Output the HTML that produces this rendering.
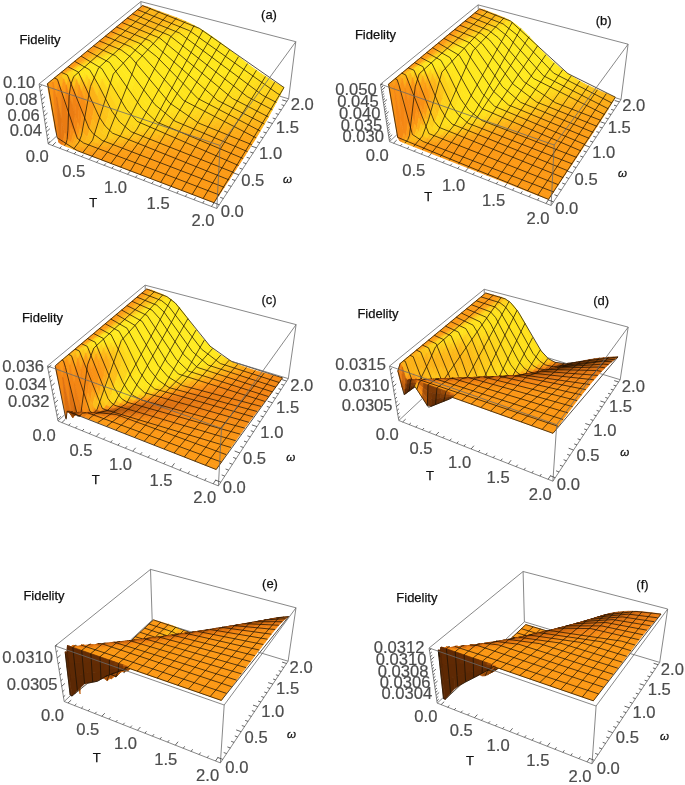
<!DOCTYPE html>
<html><head><meta charset="utf-8"><title>Fidelity</title>
<style>
html,body{margin:0;padding:0;background:#fff}
svg{display:block}
.s path{fill:currentColor;stroke:currentColor;stroke-width:.7;stroke-linejoin:round}
.m{fill:none;stroke:#1c1204;stroke-width:.85;stroke-opacity:.88;stroke-linejoin:round}
.e{fill:none;stroke:#6a6a6a;stroke-width:.8}
.t{fill:none;stroke:#333;stroke-width:.75}
text{font-family:"Liberation Sans",sans-serif;text-anchor:middle}
.k text{font-size:16.6px;fill:#4c4c4c;stroke:#4c4c4c;stroke-width:.2}
.k .r{text-anchor:end}
.n text{font-size:13px;fill:#111;stroke:#111;stroke-width:.25}
.n .i{font-style:italic;font-size:11.5px}
</style></head><body>
<svg width="685" height="785" viewBox="0 0 685 785">
<rect width="685" height="785" fill="#fff"/>
<g id="pa">
<g class="s">
<path color="#fc9916" d="M140 7.7l3.4 0.8 2.4-2-3.3-0.9z"/>
<path color="#fc9e17" d="M143.4 8.5l1.7 0.5 2.4-2.1-1.7-0.4z"/>
<path color="#fcac18" d="M145.1 9l1.7 0.6 2.4-2-1.7-0.7z"/>
<path color="#fcb519" d="M146.8 9.6l27.4 10.4 2.4-2.2-27.4-10.2z"/>
<path color="#fdbb19" d="M174.2 20l4.4 1.8 2.3-2.3-4.3-1.7z"/>
<path color="#fdc21a" d="M178.6 21.8l4.4 1.9 2.3-2.4-4.4-1.8z"/>
<path color="#fdca1b" d="M183 23.7l4.4 2.1 2.3-2.5-4.4-2z"/>
<path color="#fed11b" d="M187.4 25.8l4.4 2.3 2.3-2.6-4.4-2.2z"/>
<path color="#fed91c" d="M191.8 28.1l4.5 2.5 2.2-2.7-4.4-2.4z"/>
<path color="#ffdf1c" d="M196.3 30.6l4.4 2.8 2.2-2.9-4.4-2.6z"/>
<path color="#ffe51d" d="M200.7 33.4l8.9 6.1 4.5 3.4 2.1-3.4-8.8-6.2-4.5-2.8z"/>
<path color="#ffe61d" d="M214.1 42.9l26.8 21.3 9 6.8 2-4-31.2-24.2-4.5-3.3z"/>
<path color="#ffe21c" d="M249.9 71l9.1 6.4 2-4-9.1-6.4z"/>
<path color="#fedd1c" d="M259 77.4l9.1 5.8 2-3.9-9.1-5.9z"/>
<path color="#fed91c" d="M268.1 83.2l4.6 2.8 2-3.8-4.6-2.9z"/>
<path color="#fed41c" d="M272.7 86l9.4 5.2 1.9-3.7-9.3-5.3z"/>
<path color="#fc9916" d="M137.6 9.7l3.3 0.9 2.5-2.1-3.4-0.8z"/>
<path color="#fc9e17" d="M140.9 10.6l1.7 0.4 2.5-2-1.7-0.5z"/>
<path color="#fcac18" d="M142.6 11l1.7 0.7 2.5-2.1-1.7-0.6z"/>
<path color="#fcb519" d="M144.3 11.7l23.2 8.8 2.4-2.2-23.1-8.7z"/>
<path color="#fcb719" d="M167.5 20.5l4.4 1.7 2.3-2.2-4.3-1.7z"/>
<path color="#fdbd19" d="M171.9 22.2l4.4 1.9 2.3-2.3-4.4-1.8z"/>
<path color="#fdc51a" d="M176.3 24.1l4.4 2 2.3-2.4-4.4-1.9z"/>
<path color="#fdcd1b" d="M180.7 26.1l4.4 2.2 2.3-2.5-4.4-2.1z"/>
<path color="#fed51c" d="M185.1 28.3l4.4 2.4 2.3-2.6-4.4-2.3z"/>
<path color="#fedc1c" d="M189.5 30.7l4.5 2.7 2.3-2.8-4.5-2.5z"/>
<path color="#ffe31c" d="M194 33.4l4.5 3 4.4 3.1 2.3-3.2-4.5-2.9-4.4-2.8z"/>
<path color="#ffe61d" d="M202.9 39.5l9 6.9 22.4 18.3 9 7 4.5 3.4 2.1-4.1-13.5-10.3-22.3-17.8-8.9-6.6z"/>
<path color="#ffe11c" d="M247.8 75.1l9.1 6.3 2.1-4-9.1-6.4z"/>
<path color="#fedc1c" d="M256.9 81.4l9.2 5.7 2-3.9-9.1-5.8z"/>
<path color="#fed71c" d="M266.1 87.1l4.7 2.8 1.9-3.9-4.6-2.8z"/>
<path color="#fed31c" d="M270.8 89.9l9.4 5 1.9-3.7-9.4-5.2z"/>
<path color="#fc9916" d="M135 11.8l3.4 0.9 2.5-2.1-3.3-0.9z"/>
<path color="#fc9e17" d="M138.4 12.7l1.7 0.4 2.5-2.1-1.7-0.4z"/>
<path color="#fcac18" d="M140.1 13.1l1.7 0.7 2.5-2.1-1.7-0.7z"/>
<path color="#fcb519" d="M141.8 13.8l23.3 8.9 2.4-2.2-23.2-8.8z"/>
<path color="#fdba19" d="M165.1 22.7l4.4 1.8 2.4-2.3-4.4-1.7z"/>
<path color="#fdc11a" d="M169.5 24.5l4.4 1.9 2.4-2.3-4.4-1.9z"/>
<path color="#fdc91a" d="M173.9 26.4l4.4 2.1 2.4-2.4-4.4-2z"/>
<path color="#fed11b" d="M178.3 28.5l4.5 2.4 2.3-2.6-4.4-2.2z"/>
<path color="#fed91c" d="M182.8 30.9l4.4 2.6 2.3-2.8-4.4-2.4z"/>
<path color="#ffe01c" d="M187.2 33.5l4.5 2.9 2.3-3-4.5-2.7z"/>
<path color="#ffe61d" d="M191.7 36.4l4.5 3.1 8.9 6.9 2.3-3.5-8.9-6.5-4.5-3z"/>
<path color="#ffe71d" d="M205.1 46.4l27 22.5 4.5 3.5 2.2-4.1-26.9-21.9-4.5-3.5z"/>
<path color="#ffe41c" d="M236.6 72.4l9.1 6.8 2.1-4.1-9-6.8z"/>
<path color="#ffe01c" d="M245.7 79.2l9.2 6.2 2-4-9.1-6.3z"/>
<path color="#fedb1c" d="M254.9 85.4l4.6 2.9 2-4-4.6-2.9z"/>
<path color="#fed81c" d="M259.5 88.3l4.6 2.7 2-3.9-4.6-2.8z"/>
<path color="#fed51c" d="M264.1 91l4.7 2.7 2-3.8-4.7-2.8z"/>
<path color="#fed01b" d="M268.8 93.7l9.4 5 2-3.8-9.4-5z"/>
<path color="#fc9916" d="M132.5 13.9l3.4 0.9 2.5-2.1-3.4-0.9z"/>
<path color="#fc9e17" d="M135.9 14.8l1.7 0.4 2.5-2.1-1.7-0.4z"/>
<path color="#fcac18" d="M137.6 15.2l1.7 0.7 2.5-2.1-1.7-0.7z"/>
<path color="#fcb519" d="M139.3 15.9l23.4 9.1 2.4-2.3-23.3-8.9z"/>
<path color="#fdbc19" d="M162.7 25l4.4 1.8 2.4-2.3-4.4-1.8z"/>
<path color="#fdc51a" d="M167.1 26.8l4.4 2 2.4-2.4-4.4-1.9z"/>
<path color="#fdcd1b" d="M171.5 28.8l4.5 2.2 2.3-2.5-4.4-2.1z"/>
<path color="#fed61c" d="M176 31l4.4 2.6 2.4-2.7-4.5-2.4z"/>
<path color="#ffde1c" d="M180.4 33.6l4.5 2.8 2.3-2.9-4.4-2.6z"/>
<path color="#ffe51d" d="M184.9 36.4l4.5 3 4.5 3.4 2.3-3.3-4.5-3.1-4.5-2.9z"/>
<path color="#ffe71d" d="M193.9 42.8l9 7.3 22.5 19.3 9.1 7.2 2.1-4.2-13.5-11-18-15-8.9-6.9z"/>
<path color="#ffe31c" d="M234.5 76.6l9.1 6.7 2.1-4.1-9.1-6.8z"/>
<path color="#ffde1c" d="M243.6 83.3l9.2 6.1 2.1-4-9.2-6.2z"/>
<path color="#fed91c" d="M252.8 89.4l4.6 2.9 2.1-4-4.6-2.9z"/>
<path color="#fed61c" d="M257.4 92.3l4.7 2.6 2-3.9-4.6-2.7z"/>
<path color="#fed21c" d="M262.1 94.9l4.7 2.6 2-3.8-4.7-2.7z"/>
<path color="#fece1b" d="M266.8 97.5l9.5 4.9 1.9-3.7-9.4-5z"/>
<path color="#fc9916" d="M129.9 16l3.4 0.9 2.6-2.1-3.4-0.9z"/>
<path color="#fc9e17" d="M133.3 16.9l1.7 0.5 2.6-2.2-1.7-0.4z"/>
<path color="#fcac18" d="M135 17.4l1.7 0.6 2.6-2.1-1.7-0.7z"/>
<path color="#fcb519" d="M136.7 18l19.1 7.5 2.5-2.3-19-7.3z"/>
<path color="#fdb919" d="M155.8 25.5l4.4 1.7 2.5-2.2-4.4-1.8z"/>
<path color="#fdc01a" d="M160.2 27.2l4.5 1.9 2.4-2.3-4.4-1.8z"/>
<path color="#fdc81a" d="M164.7 29.1l4.4 2.2 2.4-2.5-4.4-2z"/>
<path color="#fed21b" d="M169.1 31.3l4.5 2.4 2.4-2.7-4.5-2.2z"/>
<path color="#fedb1c" d="M173.6 33.7l4.5 2.7 2.3-2.8-4.4-2.6z"/>
<path color="#ffe41c" d="M178.1 36.4l4.5 3 4.5 3.3 2.3-3.3-4.5-3-4.5-2.8z"/>
<path color="#ffe71d" d="M187.1 42.7l4.5 3.5 9 7.7 18.1 16 9 7.5 4.6 3.5 2.2-4.3-9.1-7.2-22.5-19.3-9-7.3-4.5-3.4z"/>
<path color="#ffe21c" d="M232.3 80.9l9.1 6.6 2.2-4.2-9.1-6.7z"/>
<path color="#ffde1c" d="M241.4 87.5l4.7 3.1 2.1-4.2-4.6-3.1z"/>
<path color="#feda1c" d="M246.1 90.6l4.6 2.9 2.1-4.1-4.6-3z"/>
<path color="#fed71c" d="M250.7 93.5l4.7 2.7 2-3.9-4.6-2.9z"/>
<path color="#fed31c" d="M255.4 96.2l4.7 2.6 2-3.9-4.7-2.6z"/>
<path color="#fed01b" d="M260.1 98.8l4.7 2.5 2-3.8-4.7-2.6z"/>
<path color="#fdcb1b" d="M264.8 101.3l9.5 4.7 2-3.6-9.5-4.9z"/>
<path color="#fc9916" d="M127.3 18.1l3.4 1 2.6-2.2-3.4-0.9z"/>
<path color="#fc9e17" d="M130.7 19.1l1.7 0.4 2.6-2.1-1.7-0.5z"/>
<path color="#fcac18" d="M132.4 19.5l1.7 0.7 2.6-2.2-1.7-0.6z"/>
<path color="#fcb519" d="M134.1 20.2l19.2 7.5 2.5-2.2-19.1-7.5z"/>
<path color="#fdbb19" d="M153.3 27.7l4.4 1.8 2.5-2.3-4.4-1.7z"/>
<path color="#fdc41a" d="M157.7 29.5l4.5 2.1 2.5-2.5-4.5-1.9z"/>
<path color="#fdcd1b" d="M162.2 31.6l4.5 2.2 2.4-2.5-4.4-2.2z"/>
<path color="#fed71c" d="M166.7 33.8l4.5 2.6 2.4-2.7-4.5-2.4z"/>
<path color="#ffdf1c" d="M171.2 36.4l4.5 2.9 2.4-2.9-4.5-2.7z"/>
<path color="#ffe61d" d="M175.7 39.3l4.5 3.2 4.5 3.6 2.4-3.4-4.5-3.3-4.5-3z"/>
<path color="#ffe81e" d="M184.7 46.1l9.1 7.7 18.1 16.5 9 7.8 2.3-4.4-27.1-23.7-4.5-3.8-4.5-3.5z"/>
<path color="#ffe31c" d="M220.9 78.1l9.2 7.2 4.6 3.3 2.1-4.3-9.1-6.9-4.5-3.7z"/>
<path color="#ffdf1c" d="M234.7 88.6l4.6 3.1 2.1-4.2-4.6-3.2z"/>
<path color="#fedc1c" d="M239.3 91.7l4.6 3 2.2-4.1-4.7-3.1z"/>
<path color="#fed81c" d="M243.9 94.7l4.7 2.8 2.1-4-4.6-2.9z"/>
<path color="#fed41c" d="M248.6 97.5l4.7 2.7 2.1-4-4.7-2.7z"/>
<path color="#fed11b" d="M253.3 100.2l4.7 2.5 2.1-3.9-4.7-2.6z"/>
<path color="#fdcd1b" d="M258 102.7l4.7 2.4 2.1-3.8-4.7-2.5z"/>
<path color="#fdc81a" d="M262.7 105.1l9.6 4.6 2-3.7-9.5-4.7z"/>
<path color="#fc9916" d="M124.6 20.3l3.5 0.9 2.6-2.1-3.4-1z"/>
<path color="#fc9e17" d="M128.1 21.2l1.7 0.5 2.6-2.2-1.7-0.4z"/>
<path color="#fcac18" d="M129.8 21.7l1.7 0.7 2.6-2.2-1.7-0.7z"/>
<path color="#fcb519" d="M131.5 22.4l14.9 5.8 2.5-2.2-14.8-5.8z"/>
<path color="#fcb819" d="M146.4 28.2l4.4 1.8 2.5-2.3-4.4-1.7z"/>
<path color="#fdbe1a" d="M150.8 30l4.4 1.9 2.5-2.4-4.4-1.8z"/>
<path color="#fdc71a" d="M155.2 31.9l4.5 2.1 2.5-2.4-4.5-2.1z"/>
<path color="#fed21b" d="M159.7 34l4.5 2.5 2.5-2.7-4.5-2.2z"/>
<path color="#fedc1c" d="M164.2 36.5l4.5 2.7 2.5-2.8-4.5-2.6z"/>
<path color="#ffe51d" d="M168.7 39.2l4.5 3.2 4.6 3.5 2.4-3.4-4.5-3.2-4.5-2.9z"/>
<path color="#ffe81e" d="M177.8 45.9l4.5 3.7 9.1 8.3 18.2 16.9 9.1 7.8 2.2-4.5-9-7.8-18.1-16.5-9.1-7.7-4.5-3.6z"/>
<path color="#ffe41c" d="M218.7 82.6l4.6 3.6 4.6 3.4 2.2-4.3-9.2-7.2z"/>
<path color="#ffe01c" d="M227.9 89.6l4.6 3.2 2.2-4.2-4.6-3.3z"/>
<path color="#fedd1c" d="M232.5 92.8l4.6 3.1 2.2-4.2-4.6-3.1z"/>
<path color="#fed91c" d="M237.1 95.9l4.7 2.9 2.1-4.1-4.6-3z"/>
<path color="#fed51c" d="M241.8 98.8l4.7 2.7 2.1-4-4.7-2.8z"/>
<path color="#fed11b" d="M246.5 101.5l4.7 2.6 2.1-3.9-4.7-2.7z"/>
<path color="#fdcd1b" d="M251.2 104.1l4.7 2.4 2.1-3.8-4.7-2.5z"/>
<path color="#fdc91b" d="M255.9 106.5l4.8 2.4 2-3.8-4.7-2.4z"/>
<path color="#fdc61a" d="M260.7 108.9l4.8 2.2 2-3.6-4.8-2.4z"/>
<path color="#fdc31a" d="M265.5 111.1l4.9 2.2 1.9-3.6-4.8-2.2z"/>
<path color="#fc9916" d="M122 22.5l3.4 1 2.7-2.3-3.5-0.9z"/>
<path color="#fc9e17" d="M125.4 23.5l1.7 0.4 2.7-2.2-1.7-0.5z"/>
<path color="#fcac18" d="M127.1 23.9l1.8 0.7 2.6-2.2-1.7-0.7z"/>
<path color="#fcb619" d="M128.9 24.6l14.9 5.9 2.6-2.3-14.9-5.8z"/>
<path color="#fdba19" d="M143.8 30.5l4.4 1.8 2.6-2.3-4.4-1.8z"/>
<path color="#fdc21a" d="M148.2 32.3l4.5 2 2.5-2.4-4.4-1.9z"/>
<path color="#fdcc1b" d="M152.7 34.3l4.5 2.3 2.5-2.6-4.5-2.1z"/>
<path color="#fed71c" d="M157.2 36.6l4.5 2.6 2.5-2.7-4.5-2.5z"/>
<path color="#ffe11c" d="M161.7 39.2l4.5 3 2.5-3-4.5-2.7z"/>
<path color="#ffe61d" d="M166.2 42.2l4.6 3.4 4.6 3.8 2.4-3.5-4.6-3.5-4.5-3.2z"/>
<path color="#ffe81e" d="M175.4 49.4l4.5 4 22.8 21.8 4.6 4.2 2.3-4.6-22.7-21.1-4.6-4.1-4.5-3.7z"/>
<path color="#ffe41c" d="M207.3 79.4l4.5 3.9 4.6 3.8 4.6 3.5 2.3-4.4-9.2-7.4-4.5-4z"/>
<path color="#ffe11c" d="M221 90.6l4.6 3.4 2.3-4.4-4.6-3.4z"/>
<path color="#ffde1c" d="M225.6 94l4.7 3.1 2.2-4.3-4.6-3.2z"/>
<path color="#feda1c" d="M230.3 97.1l4.6 3 2.2-4.2-4.6-3.1z"/>
<path color="#fed61c" d="M234.9 100.1l4.7 2.7 2.2-4-4.7-2.9z"/>
<path color="#fed21c" d="M239.6 102.8l4.7 2.7 2.2-4-4.7-2.7z"/>
<path color="#fece1b" d="M244.3 105.5l4.8 2.5 2.1-3.9-4.7-2.6z"/>
<path color="#fdca1b" d="M249.1 108l4.8 2.3 2-3.8-4.7-2.4z"/>
<path color="#fdc61a" d="M253.9 110.3l4.8 2.3 2-3.7-4.8-2.4z"/>
<path color="#fdc21a" d="M258.7 112.6l4.8 2.2 2-3.7-4.8-2.2z"/>
<path color="#fdbf1a" d="M263.5 114.8l4.9 2.1 2-3.6-4.9-2.2z"/>
<path color="#fc9916" d="M119.3 24.7l3.4 1 2.7-2.2-3.4-1z"/>
<path color="#fc9e17" d="M122.7 25.7l1.8 0.5 2.6-2.3-1.7-0.4z"/>
<path color="#fcac18" d="M124.5 26.2l1.7 0.6 2.7-2.2-1.8-0.7z"/>
<path color="#fcb619" d="M126.2 26.8l10.5 4.2 2.7-2.2-10.5-4.2z"/>
<path color="#fcb719" d="M136.7 31l4.5 1.8 2.6-2.3-4.4-1.7z"/>
<path color="#fdbd19" d="M141.2 32.8l4.4 1.9 2.6-2.4-4.4-1.8z"/>
<path color="#fdc61a" d="M145.6 34.7l4.5 2.1 2.6-2.5-4.5-2z"/>
<path color="#fed11b" d="M150.1 36.8l4.6 2.5 2.5-2.7-4.5-2.3z"/>
<path color="#fedc1c" d="M154.7 39.3l4.5 2.8 2.5-2.9-4.5-2.6z"/>
<path color="#ffe61d" d="M159.2 42.1l4.6 3.3 4.5 3.7 2.5-3.5-4.6-3.4-4.5-3z"/>
<path color="#ffe81e" d="M168.3 49.1l4.6 4 9.2 8.9 13.7 13.6 9.1 8.5 2.4-4.7-9.1-8.4-18.3-17.6-4.5-4-4.6-3.8z"/>
<path color="#ffe41c" d="M204.9 84.1l4.6 3.9 4.6 3.7 4.6 3.4 2.3-4.5-4.6-3.5-4.6-3.8-4.5-3.9z"/>
<path color="#ffdf1c" d="M218.7 95.1l4.7 3.2 2.2-4.3-4.6-3.4z"/>
<path color="#fedb1c" d="M223.4 98.3l4.6 3.1 2.3-4.3-4.7-3.1z"/>
<path color="#fed71c" d="M228 101.4l4.7 2.8 2.2-4.1-4.6-3z"/>
<path color="#fed31c" d="M232.7 104.2l4.7 2.7 2.2-4.1-4.7-2.7z"/>
<path color="#fecf1b" d="M237.4 106.9l4.8 2.5 2.1-3.9-4.7-2.7z"/>
<path color="#fdcb1b" d="M242.2 109.4l4.8 2.4 2.1-3.8-4.8-2.5z"/>
<path color="#fdc61a" d="M247 111.8l4.8 2.3 2.1-3.8-4.8-2.3z"/>
<path color="#fdc21a" d="M251.8 114.1l4.8 2.2 2.1-3.7-4.8-2.3z"/>
<path color="#fdbe19" d="M256.6 116.3l4.9 2.1 2-3.6-4.8-2.2z"/>
<path color="#fdba19" d="M261.5 118.4l4.9 2.1 2-3.6-4.9-2.1z"/>
<path color="#fc9916" d="M116.5 27l3.5 0.9 2.7-2.2-3.4-1z"/>
<path color="#fc9e17" d="M120 27.9l1.7 0.5 2.8-2.2-1.8-0.5z"/>
<path color="#fcac18" d="M121.7 28.4l1.8 0.7 2.7-2.3-1.7-0.6z"/>
<path color="#fcb619" d="M123.5 29.1l10.6 4.2 2.6-2.3-10.5-4.2z"/>
<path color="#fdb919" d="M134.1 33.3l4.4 1.9 2.7-2.4-4.5-1.8z"/>
<path color="#fdc01a" d="M138.5 35.2l4.5 1.9 2.6-2.4-4.4-1.9z"/>
<path color="#fdca1b" d="M143 37.1l4.5 2.3 2.6-2.6-4.5-2.1z"/>
<path color="#fed71c" d="M147.5 39.4l4.6 2.6 2.6-2.7-4.6-2.5z"/>
<path color="#ffe21c" d="M152.1 42l4.6 3.1 2.5-3-4.5-2.8z"/>
<path color="#ffe71d" d="M156.7 45.1l4.5 3.6 4.6 4 2.5-3.6-4.5-3.7-4.6-3.3z"/>
<path color="#ffe91e" d="M165.8 52.7l4.6 4.4 18.4 18.8 4.6 4.5 2.4-4.8-18.3-18.1-4.6-4.4-4.6-4z"/>
<path color="#ffe51d" d="M193.4 80.4l4.6 4.4 4.6 4 4.6 3.9 2.3-4.7-4.6-3.9-9.1-8.5z"/>
<path color="#ffe31c" d="M207.2 92.7l4.6 3.5 2.3-4.5-4.6-3.7z"/>
<path color="#ffe01c" d="M211.8 96.2l4.7 3.4 2.2-4.5-4.6-3.4z"/>
<path color="#fedc1c" d="M216.5 99.6l4.6 3.1 2.3-4.4-4.7-3.2z"/>
<path color="#fed81c" d="M221.1 102.7l4.7 2.9 2.2-4.2-4.6-3.1z"/>
<path color="#fed41c" d="M225.8 105.6l4.7 2.7 2.2-4.1-4.7-2.8z"/>
<path color="#fed01b" d="M230.5 108.3l4.8 2.5 2.1-3.9-4.7-2.7z"/>
<path color="#fdcb1b" d="M235.3 110.8l4.7 2.5 2.2-3.9-4.8-2.5z"/>
<path color="#fdc71a" d="M240 113.3l4.8 2.3 2.2-3.8-4.8-2.4z"/>
<path color="#fdc21a" d="M244.8 115.6l4.9 2.2 2.1-3.7-4.8-2.3z"/>
<path color="#fdbe19" d="M249.7 117.8l4.8 2.1 2.1-3.6-4.8-2.2z"/>
<path color="#fdb919" d="M254.5 119.9l4.9 2.1 2.1-3.6-4.9-2.1z"/>
<path color="#fcb619" d="M259.4 122l4.9 2 2.1-3.5-4.9-2.1z"/>
<path color="#fc9916" d="M113.8 29.2l3.4 1 2.8-2.3-3.5-0.9z"/>
<path color="#fc9e17" d="M117.2 30.2l1.8 0.5 2.7-2.3-1.7-0.5z"/>
<path color="#fcac18" d="M119 30.7l1.8 0.7 2.7-2.3-1.8-0.7z"/>
<path color="#fcb619" d="M120.8 31.4l10.6 4.3 2.7-2.4-10.6-4.2z"/>
<path color="#fdbb19" d="M131.4 35.7l4.5 1.9 2.6-2.4-4.4-1.9z"/>
<path color="#fdc41a" d="M135.9 37.6l4.5 2 2.6-2.5-4.5-1.9z"/>
<path color="#fecf1b" d="M140.4 39.6l4.5 2.5 2.6-2.7-4.5-2.3z"/>
<path color="#fedc1c" d="M144.9 42.1l4.6 2.8 2.6-2.9-4.6-2.6z"/>
<path color="#ffe51d" d="M149.5 44.9l4.6 3.5 2.6-3.3-4.6-3.1z"/>
<path color="#ffe81e" d="M154.1 48.4l4.6 3.9 4.6 4.3 23.1 24.3 4.6 4.5 4.6 4.3 2.4-4.9-9.2-8.9-18.4-18.8-4.6-4.4-4.6-4-4.5-3.6z"/>
<path color="#ffe41c" d="M195.6 89.7l4.6 3.9 4.7 3.8 2.3-4.7-4.6-3.9-4.6-4z"/>
<path color="#ffe11c" d="M204.9 97.4l4.6 3.4 2.3-4.6-4.6-3.5z"/>
<path color="#ffdd1c" d="M209.5 100.8l4.7 3.2 2.3-4.4-4.7-3.4z"/>
<path color="#fed91c" d="M214.2 104l4.7 2.9 2.2-4.2-4.6-3.1z"/>
<path color="#fed51c" d="M218.9 106.9l4.7 2.8 2.2-4.1-4.7-2.9z"/>
<path color="#fed01b" d="M223.6 109.7l4.7 2.6 2.2-4-4.7-2.7z"/>
<path color="#fdcc1b" d="M228.3 112.3l4.8 2.5 2.2-4-4.8-2.5z"/>
<path color="#fdc71a" d="M233.1 114.8l4.8 2.3 2.1-3.8-4.7-2.5z"/>
<path color="#fdc21a" d="M237.9 117.1l4.8 2.2 2.1-3.7-4.8-2.3z"/>
<path color="#fdbe19" d="M242.7 119.3l4.8 2.2 2.2-3.7-4.9-2.2z"/>
<path color="#fdb919" d="M247.5 121.5l4.9 2 2.1-3.6-4.8-2.1z"/>
<path color="#fcb419" d="M252.4 123.5l9.9 4 2-3.5-9.8-4.1z"/>
<path color="#fc9916" d="M111 31.5l3.5 1 2.7-2.3-3.4-1z"/>
<path color="#fc9e17" d="M114.5 32.5l1.7 0.5 2.8-2.3-1.8-0.5z"/>
<path color="#fcac18" d="M116.2 33l1.8 0.7 2.8-2.3-1.8-0.7z"/>
<path color="#fcb619" d="M118 33.7l8.9 3.6 2.7-2.3-8.8-3.6z"/>
<path color="#fcb819" d="M126.9 37.3l1.8 0.8 2.7-2.4-1.8-0.7z"/>
<path color="#fdbd19" d="M128.7 38.1l4.5 1.9 2.7-2.4-4.5-1.9z"/>
<path color="#fdc81a" d="M133.2 40l4.5 2.2 2.7-2.6-4.5-2z"/>
<path color="#fed51c" d="M137.7 42.2l4.6 2.6 2.6-2.7-4.5-2.5z"/>
<path color="#ffe31c" d="M142.3 44.8l4.6 3.2 2.6-3.1-4.6-2.8z"/>
<path color="#ffe81e" d="M146.9 48l4.6 3.8 4.6 4.3 4.7 4.7 18.6 20.4 4.6 4.7 4.6 4.5 4.6 4.2 2.4-4.9-4.6-4.3-9.2-9.3-13.8-14.8-4.7-4.7-4.6-4.3-4.6-3.9-4.6-3.5z"/>
<path color="#ffe31c" d="M193.2 94.6l4.7 3.9 4.6 3.5 2.4-4.6-4.7-3.8-4.6-3.9z"/>
<path color="#ffde1c" d="M202.5 102l4.7 3.3 2.3-4.5-4.6-3.4z"/>
<path color="#feda1c" d="M207.2 105.3l4.7 3 2.3-4.3-4.7-3.2z"/>
<path color="#fed61c" d="M211.9 108.3l4.7 2.9 2.3-4.3-4.7-2.9z"/>
<path color="#fed11b" d="M216.6 111.2l4.7 2.6 2.3-4.1-4.7-2.8z"/>
<path color="#fdcc1b" d="M221.3 113.8l4.8 2.5 2.2-4-4.7-2.6z"/>
<path color="#fdc71a" d="M226.1 116.3l4.7 2.3 2.3-3.8-4.8-2.5z"/>
<path color="#fdc31a" d="M230.8 118.6l4.9 2.3 2.2-3.8-4.8-2.3z"/>
<path color="#fdbe19" d="M235.7 120.9l4.8 2.1 2.2-3.7-4.8-2.2z"/>
<path color="#fdb919" d="M240.5 123l4.9 2.1 2.1-3.6-4.8-2.2z"/>
<path color="#fcb519" d="M245.4 125.1l4.9 2 2.1-3.6-4.9-2z"/>
<path color="#fcb018" d="M250.3 127.1l9.9 3.9 2.1-3.5-9.9-4z"/>
<path color="#fc9916" d="M108.1 33.8l3.5 1.1 2.9-2.4-3.5-1z"/>
<path color="#fc9e17" d="M111.6 34.9l1.8 0.5 2.8-2.4-1.7-0.5z"/>
<path color="#fcac18" d="M113.4 35.4l1.8 0.6 2.8-2.3-1.8-0.7z"/>
<path color="#fcb619" d="M115.2 36l8.9 3.7 2.8-2.4-8.9-3.6z"/>
<path color="#fdba19" d="M124.1 39.7l1.8 0.8 2.8-2.4-1.8-0.8z"/>
<path color="#fdc11a" d="M125.9 40.5l4.5 2 2.8-2.5-4.5-1.9z"/>
<path color="#fdcd1b" d="M130.4 42.5l4.6 2.3 2.7-2.6-4.5-2.2z"/>
<path color="#fedc1c" d="M135 44.8l4.6 3 2.7-3-4.6-2.6z"/>
<path color="#ffe51d" d="M139.6 47.8l4.6 3.5 2.7-3.3-4.6-3.2z"/>
<path color="#ffe81e" d="M144.2 51.3l4.7 4.2 4.7 4.7 18.6 21.2 4.7 5 4.6 4.7 2.5-5.2-9.3-9.7-13.9-15.4-4.7-4.7-4.6-4.3-4.6-3.8z"/>
<path color="#ffe41c" d="M181.5 91.1l4.7 4.4 4.6 4.1 4.7 3.7 2.4-4.8-4.7-3.9-4.6-4.2-4.6-4.5z"/>
<path color="#ffdf1c" d="M195.5 103.3l4.6 3.3 2.4-4.6-4.6-3.5z"/>
<path color="#fedb1c" d="M200.1 106.6l4.7 3.2 2.4-4.5-4.7-3.3z"/>
<path color="#fed71c" d="M204.8 109.8l4.7 2.8 2.4-4.3-4.7-3z"/>
<path color="#fed21b" d="M209.5 112.6l4.8 2.7 2.3-4.1-4.7-2.9z"/>
<path color="#fdcd1b" d="M214.3 115.3l4.7 2.5 2.3-4-4.7-2.6z"/>
<path color="#fdc81a" d="M219 117.8l4.8 2.4 2.3-3.9-4.8-2.5z"/>
<path color="#fdc31a" d="M223.8 120.2l4.8 2.2 2.2-3.8-4.7-2.3z"/>
<path color="#fdbd19" d="M228.6 122.4l4.9 2.2 2.2-3.7-4.9-2.3z"/>
<path color="#fdb919" d="M233.5 124.6l4.8 2 2.2-3.6-4.8-2.1z"/>
<path color="#fcb419" d="M238.3 126.6l4.9 2.1 2.2-3.6-4.9-2.1z"/>
<path color="#fcb118" d="M243.2 128.7l5 1.9 2.1-3.5-4.9-2z"/>
<path color="#fcac18" d="M248.2 130.6l10 3.8 2-3.4-9.9-3.9z"/>
<path color="#fc9916" d="M105.3 36.2l3.5 1 2.8-2.3-3.5-1.1z"/>
<path color="#fc9e17" d="M108.8 37.2l1.8 0.5 2.8-2.3-1.8-0.5z"/>
<path color="#fcac18" d="M110.6 37.7l1.7 0.7 2.9-2.4-1.8-0.6z"/>
<path color="#fcb619" d="M112.3 38.4l7.2 3 2.8-2.4-7.1-3z"/>
<path color="#fcb819" d="M119.5 41.4l1.8 0.7 2.8-2.4-1.8-0.7z"/>
<path color="#fdbc19" d="M121.3 42.1l1.8 0.8 2.8-2.4-1.8-0.8z"/>
<path color="#fdc51a" d="M123.1 42.9l4.6 2.1 2.7-2.5-4.5-2z"/>
<path color="#fed31c" d="M127.7 45l4.6 2.6 2.7-2.8-4.6-2.3z"/>
<path color="#ffe21c" d="M132.3 47.6l4.6 3.3 2.7-3.1-4.6-3z"/>
<path color="#ffe81e" d="M136.9 50.9l4.7 3.9 4.7 4.7 4.7 5.2 14.1 16.7 4.7 5.4 4.6 5 4.7 4.6 2.4-5.3-4.6-4.7-9.3-10.3-9.3-10.8-4.7-5.1-4.7-4.7-4.7-4.2-4.6-3.5z"/>
<path color="#ffe41c" d="M179.1 96.4l4.6 4.2 4.7 3.9 2.4-4.9-4.6-4.1-4.7-4.4z"/>
<path color="#ffe01c" d="M188.4 104.5l4.7 3.5 2.4-4.7-4.7-3.7z"/>
<path color="#fedc1c" d="M193.1 108l4.6 3.2 2.4-4.6-4.6-3.3z"/>
<path color="#fed71c" d="M197.7 111.2l4.7 2.9 2.4-4.3-4.7-3.2z"/>
<path color="#fed21b" d="M202.4 114.1l4.8 2.7 2.3-4.2-4.7-2.8z"/>
<path color="#fdcd1b" d="M207.2 116.8l4.7 2.6 2.4-4.1-4.8-2.7z"/>
<path color="#fdc81a" d="M211.9 119.4l4.8 2.3 2.3-3.9-4.7-2.5z"/>
<path color="#fdc31a" d="M216.7 121.7l4.8 2.3 2.3-3.8-4.8-2.4z"/>
<path color="#fdbd19" d="M221.5 124l4.9 2.2 2.2-3.8-4.8-2.2z"/>
<path color="#fcb819" d="M226.4 126.2l4.8 2 2.3-3.6-4.9-2.2z"/>
<path color="#fcb419" d="M231.2 128.2l4.9 2 2.2-3.6-4.8-2z"/>
<path color="#fcb018" d="M236.1 130.2l5 2 2.1-3.5-4.9-2.1z"/>
<path color="#fcab18" d="M241.1 132.2l9.9 3.8 2.2-3.5-10-3.8z"/>
<path color="#fca918" d="M251 136l5.1 1.9 2.1-3.5-5-1.9z"/>
<path color="#fc9916" d="M102.4 38.6l3.5 1 2.9-2.4-3.5-1z"/>
<path color="#fc9e17" d="M105.9 39.6l1.8 0.5 2.9-2.4-1.8-0.5z"/>
<path color="#fcac18" d="M107.7 40.1l1.8 0.7 2.8-2.4-1.7-0.7z"/>
<path color="#fcb619" d="M109.5 40.8l5.4 2.3 2.8-2.5-5.4-2.2z"/>
<path color="#fdb919" d="M114.9 43.1l3.6 1.5 2.8-2.5-3.6-1.5z"/>
<path color="#fdbf1a" d="M118.5 44.6l1.8 0.8 2.8-2.5-1.8-0.8z"/>
<path color="#fdca1b" d="M120.3 45.4l4.6 2.3 2.8-2.7-4.6-2.1z"/>
<path color="#feda1c" d="M124.9 47.7l4.6 2.8 2.8-2.9-4.6-2.6z"/>
<path color="#ffe51d" d="M129.5 50.5l4.7 3.7 2.7-3.3-4.6-3.3z"/>
<path color="#ffe91f" d="M134.2 54.2l4.7 4.5 4.7 5.1 19 23.2 2.5-5.6-14.1-16.7-4.7-5.2-4.7-4.7-4.7-3.9z"/>
<path color="#ffe51d" d="M162.6 87l4.6 5.3 4.7 4.9 4.7 4.5 4.7 4 2.4-5.1-4.6-4.2-4.7-4.6-4.6-5-4.7-5.4z"/>
<path color="#ffe01c" d="M181.3 105.7l4.6 3.7 2.5-4.9-4.7-3.9z"/>
<path color="#fedc1c" d="M185.9 109.4l4.7 3.2 2.5-4.6-4.7-3.5z"/>
<path color="#fed81c" d="M190.6 112.6l4.7 3 2.4-4.4-4.6-3.2z"/>
<path color="#fed31c" d="M195.3 115.6l4.8 2.8 2.3-4.3-4.7-2.9z"/>
<path color="#fdcd1b" d="M200.1 118.4l4.7 2.5 2.4-4.1-4.8-2.7z"/>
<path color="#fdc81a" d="M204.8 120.9l4.8 2.4 2.3-3.9-4.7-2.6z"/>
<path color="#fdc31a" d="M209.6 123.3l4.8 2.3 2.3-3.9-4.8-2.3z"/>
<path color="#fdbd19" d="M214.4 125.6l4.8 2.1 2.3-3.7-4.8-2.3z"/>
<path color="#fcb819" d="M219.2 127.7l4.9 2.1 2.3-3.6-4.9-2.2z"/>
<path color="#fcb319" d="M224.1 129.8l4.9 2 2.2-3.6-4.8-2z"/>
<path color="#fcaf18" d="M229 131.8l4.9 2 2.2-3.6-4.9-2z"/>
<path color="#fcab18" d="M233.9 133.8l10 3.8 2.1-3.5-9.9-3.9z"/>
<path color="#fca717" d="M243.9 137.6l10.1 3.7 2.1-3.4-10.1-3.8z"/>
<path color="#fc9916" d="M99.5 41l3.5 1 2.9-2.4-3.5-1z"/>
<path color="#fc9e17" d="M103 42l1.8 0.6 2.9-2.5-1.8-0.5z"/>
<path color="#fcac18" d="M104.8 42.6l1.8 0.7 2.9-2.5-1.8-0.7z"/>
<path color="#fcb619" d="M106.6 43.3l5.4 2.2 2.9-2.4-5.4-2.3z"/>
<path color="#fdb919" d="M112 45.5l1.8 0.8 2.9-2.5-1.8-0.7z"/>
<path color="#fdbc19" d="M113.8 46.3l1.8 0.8 2.9-2.5-1.8-0.8z"/>
<path color="#fdc31a" d="M115.6 47.1l1.9 0.8 2.8-2.5-1.8-0.8z"/>
<path color="#fed01b" d="M117.5 47.9l4.6 2.5 2.8-2.7-4.6-2.3z"/>
<path color="#ffe11c" d="M122.1 50.4l4.6 3.2 2.8-3.1-4.6-2.8z"/>
<path color="#ffe81e" d="M126.7 53.6l4.8 4.2 4.7 5.1 4.8 5.7 14.3 18.5 4.7 5.7 4.7 5.2 2.5-5.7-4.6-5.3-14.2-17.5-4.8-5.7-4.7-5.1-4.7-4.5-4.7-3.7z"/>
<path color="#ffe41c" d="M164.7 98l4.7 4.7 4.7 4.3 2.5-5.3-4.7-4.5-4.7-4.9z"/>
<path color="#ffe11c" d="M174.1 107l4.7 3.7 2.5-5-4.7-4z"/>
<path color="#ffdd1c" d="M178.8 110.7l4.7 3.4 2.4-4.7-4.6-3.7z"/>
<path color="#fed91c" d="M183.5 114.1l4.7 3.1 2.4-4.6-4.7-3.2z"/>
<path color="#fed31c" d="M188.2 117.2l4.7 2.8 2.4-4.4-4.7-3z"/>
<path color="#fece1b" d="M192.9 120l4.8 2.6 2.4-4.2-4.8-2.8z"/>
<path color="#fdc81a" d="M197.7 122.6l4.7 2.3 2.4-4-4.7-2.5z"/>
<path color="#fdc21a" d="M202.4 124.9l4.8 2.3 2.4-3.9-4.8-2.4z"/>
<path color="#fdbc19" d="M207.2 127.2l4.9 2.2 2.3-3.8-4.8-2.3z"/>
<path color="#fcb719" d="M212.1 129.4l4.8 2 2.3-3.7-4.8-2.1z"/>
<path color="#fcb318" d="M216.9 131.4l4.9 2 2.3-3.6-4.9-2.1z"/>
<path color="#fcaf18" d="M221.8 133.4l4.9 2 2.3-3.6-4.9-2z"/>
<path color="#fcaa18" d="M226.7 135.4l10 3.8 2.2-3.5-9.9-3.9z"/>
<path color="#fca517" d="M236.7 139.2l15.1 5.5 2.2-3.4-15.1-5.6z"/>
<path color="#fc9916" d="M96.5 43.4l3.5 1.1 3-2.5-3.5-1z"/>
<path color="#fc9e17" d="M100 44.5l1.8 0.5 3-2.4-1.8-0.6z"/>
<path color="#fcac18" d="M101.8 45l1.8 0.7 3-2.4-1.8-0.7z"/>
<path color="#fcb619" d="M103.6 45.7l3.7 1.5 2.9-2.4-3.6-1.5z"/>
<path color="#fdb919" d="M107.3 47.2l3.6 1.6 2.9-2.5-3.6-1.5z"/>
<path color="#fdc01a" d="M110.9 48.8l1.8 0.8 2.9-2.5-1.8-0.8z"/>
<path color="#fdc91a" d="M112.7 49.6l1.9 0.9 2.9-2.6-1.9-0.8z"/>
<path color="#fed71c" d="M114.6 50.5l4.6 2.8 2.9-2.9-4.6-2.5z"/>
<path color="#ffe51d" d="M119.2 53.3l4.7 3.7 2.8-3.4-4.6-3.2z"/>
<path color="#ffe91f" d="M123.9 57l4.8 4.8 4.8 5.7 14.5 19.5 2.6-6-9.6-12.4-4.8-5.7-4.7-5.1-4.8-4.2z"/>
<path color="#ffe51d" d="M148 87l4.7 6.1 4.8 5.6 4.7 5 4.7 4.5 2.5-5.5-4.7-4.7-4.7-5.2-4.7-5.7-4.7-6.1z"/>
<path color="#ffe11c" d="M166.9 108.2l4.7 3.9 2.5-5.1-4.7-4.3z"/>
<path color="#ffde1c" d="M171.6 112.1l4.7 3.5 2.5-4.9-4.7-3.7z"/>
<path color="#fed91c" d="M176.3 115.6l4.7 3.1 2.5-4.6-4.7-3.4z"/>
<path color="#fed41c" d="M181 118.7l4.7 2.9 2.5-4.4-4.7-3.1z"/>
<path color="#fece1b" d="M185.7 121.6l4.8 2.6 2.4-4.2-4.7-2.8z"/>
<path color="#fdc81a" d="M190.5 124.2l4.7 2.4 2.5-4-4.8-2.6z"/>
<path color="#fdc21a" d="M195.2 126.6l4.8 2.2 2.4-3.9-4.7-2.3z"/>
<path color="#fdbc19" d="M200 128.8l4.9 2.2 2.3-3.8-4.8-2.3z"/>
<path color="#fcb619" d="M204.9 131l4.8 2 2.4-3.6-4.9-2.2z"/>
<path color="#fcb218" d="M209.7 133l4.9 2 2.3-3.6-4.8-2z"/>
<path color="#fcae18" d="M214.6 135l4.9 2 2.3-3.6-4.9-2z"/>
<path color="#fca918" d="M219.5 137l9.9 3.8 2.3-3.5-9.9-3.9z"/>
<path color="#fca517" d="M229.4 140.8l10.1 3.7 2.2-3.5-10-3.7z"/>
<path color="#fca217" d="M239.5 144.5l10.2 3.6 2.1-3.4-10.1-3.7z"/>
<path color="#fc9916" d="M93.5 45.9l3.6 1.1 2.9-2.5-3.5-1.1z"/>
<path color="#fc9e17" d="M97.1 47l1.7 0.5 3-2.5-1.8-0.5z"/>
<path color="#fcac18" d="M98.8 47.5l1.9 0.7 2.9-2.5-1.8-0.7z"/>
<path color="#fcb619" d="M100.7 48.2l3.6 1.5 3-2.5-3.7-1.5z"/>
<path color="#fdb919" d="M104.3 49.7l1.8 0.8 3-2.5-1.8-0.8z"/>
<path color="#fdbe19" d="M106.1 50.5l1.9 0.9 2.9-2.6-1.8-0.8z"/>
<path color="#fdc51a" d="M108 51.4l1.8 0.9 2.9-2.7-1.8-0.8z"/>
<path color="#fecf1b" d="M109.8 52.3l1.9 1 2.9-2.8-1.9-0.9z"/>
<path color="#ffdf1c" d="M111.7 53.3l4.7 3.1 2.8-3.1-4.6-2.8z"/>
<path color="#ffe81e" d="M116.4 56.4l4.7 4.3 4.9 5.6 4.8 6.4 9.8 13.9 4.8 6.6 2.6-6.2-9.6-13.1-4.9-6.4-4.8-5.7-4.8-4.8-4.7-3.7z"/>
<path color="#ffe41c" d="M145.4 93.2l4.8 6.1 4.7 5.4 4.7 4.7 2.6-5.7-4.7-5-4.8-5.6-4.7-6.1z"/>
<path color="#ffe11c" d="M159.6 109.4l4.7 4.1 2.6-5.3-4.7-4.5z"/>
<path color="#ffde1c" d="M164.3 113.5l4.8 3.6 2.5-5-4.7-3.9z"/>
<path color="#fed91c" d="M169.1 117.1l4.7 3.2 2.5-4.7-4.7-3.5z"/>
<path color="#fed41c" d="M173.8 120.3l4.7 2.9 2.5-4.5-4.7-3.1z"/>
<path color="#fece1b" d="M178.5 123.2l4.7 2.6 2.5-4.2-4.7-2.9z"/>
<path color="#fdc81a" d="M183.2 125.8l4.8 2.4 2.5-4-4.8-2.6z"/>
<path color="#fdc21a" d="M188 128.2l4.8 2.3 2.4-3.9-4.7-2.4z"/>
<path color="#fdbb19" d="M192.8 130.5l4.8 2.1 2.4-3.8-4.8-2.2z"/>
<path color="#fcb619" d="M197.6 132.6l4.9 2.1 2.4-3.7-4.9-2.2z"/>
<path color="#fcb118" d="M202.5 134.7l4.8 2 2.4-3.7-4.8-2z"/>
<path color="#fcab18" d="M207.3 136.7l9.9 3.8 2.3-3.5-9.8-4z"/>
<path color="#fca617" d="M217.2 140.5l10 3.7 2.2-3.4-9.9-3.8z"/>
<path color="#fca217" d="M227.2 144.2l15.2 5.5 2.2-3.4-15.2-5.5z"/>
<path color="#fca017" d="M242.4 149.7l5.1 1.9 2.2-3.5-5.1-1.8z"/>
<path color="#fc9916" d="M90.4 48.4l3.6 1.1 3.1-2.5-3.6-1.1z"/>
<path color="#fc9e17" d="M94 49.5l1.8 0.5 3-2.5-1.7-0.5z"/>
<path color="#fcac18" d="M95.8 50l1.8 0.7 3.1-2.5-1.9-0.7z"/>
<path color="#fcb519" d="M97.6 50.7l1.9 0.8 3-2.5-1.8-0.8z"/>
<path color="#fcb819" d="M99.5 51.5l1.8 0.8 3-2.6-1.8-0.7z"/>
<path color="#fdbc19" d="M101.3 52.3l1.8 0.8 3-2.6-1.8-0.8z"/>
<path color="#fdc31a" d="M103.1 53.1l1.9 0.9 3-2.6-1.9-0.9z"/>
<path color="#fdcc1b" d="M105 54l1.8 1 3-2.7-1.8-0.9z"/>
<path color="#fed81c" d="M106.8 55l1.9 1.1 3-2.8-1.9-1z"/>
<path color="#ffe51d" d="M108.7 56.1l4.8 3.7 2.9-3.4-4.7-3.1z"/>
<path color="#ffe91f" d="M113.5 59.8l4.8 5.1 4.9 6.4 9.9 14.7 2.6-6.3-4.9-7-4.8-6.4-4.9-5.6-4.7-4.3z"/>
<path color="#ffe41c" d="M133.1 86l4.9 7.2 4.8 6.6 4.8 5.8 4.7 5 2.6-5.9-4.7-5.4-4.8-6.1-4.8-6.6-4.9-6.9z"/>
<path color="#ffdf1c" d="M152.3 110.6l4.8 4.3 4.7 3.8 2.5-5.2-4.7-4.1-4.7-4.7z"/>
<path color="#feda1c" d="M161.8 118.7l4.7 3.3 2.6-4.9-4.8-3.6z"/>
<path color="#fed41c" d="M166.5 122l4.7 2.9 2.6-4.6-4.7-3.2z"/>
<path color="#fece1b" d="M171.2 124.9l4.8 2.6 2.5-4.3-4.7-2.9z"/>
<path color="#fdc81a" d="M176 127.5l4.7 2.4 2.5-4.1-4.7-2.6z"/>
<path color="#fdc11a" d="M180.7 129.9l4.8 2.3 2.5-4-4.8-2.4z"/>
<path color="#fdba19" d="M185.5 132.2l4.8 2.1 2.5-3.8-4.8-2.3z"/>
<path color="#fcb519" d="M190.3 134.3l4.9 2 2.4-3.7-4.8-2.1z"/>
<path color="#fcb018" d="M195.2 136.3l4.8 2 2.5-3.6-4.9-2.1z"/>
<path color="#fcaa18" d="M200 138.3l9.9 3.8 2.3-3.5-9.7-3.9z"/>
<path color="#fca517" d="M209.9 142.1l9.9 3.8 2.4-3.5-10-3.8z"/>
<path color="#fca117" d="M219.8 145.9l15.2 5.5 2.3-3.5-15.1-5.5z"/>
<path color="#fc9f17" d="M235 151.4l10.3 3.6 2.2-3.4-10.2-3.7z"/>
<path color="#fc9916" d="M87.4 50.9l3.6 1.1 3-2.5-3.6-1.1z"/>
<path color="#fc9e17" d="M91 52l1.8 0.6 3-2.6-1.8-0.5z"/>
<path color="#fcac18" d="M92.8 52.6l1.8 0.7 3-2.6-1.8-0.7z"/>
<path color="#fcb519" d="M94.6 53.3l1.8 0.8 3.1-2.6-1.9-0.8z"/>
<path color="#fdba19" d="M96.4 54.1l1.9 0.8 3-2.6-1.8-0.8z"/>
<path color="#fdc01a" d="M98.3 54.9l1.8 0.8 3-2.6-1.8-0.8z"/>
<path color="#fdc91b" d="M100.1 55.7l1.9 1 3-2.7-1.9-0.9z"/>
<path color="#fed41c" d="M102 56.7l1.9 1.1 2.9-2.8-1.8-1z"/>
<path color="#ffe21c" d="M103.9 57.8l1.9 1.3 2.9-3-1.9-1.1z"/>
<path color="#ffe81e" d="M105.8 59.1l4.8 4.4 4.9 6.1 5 7.4 10 15.9 2.6-6.9-9.9-14.7-4.9-6.4-4.8-5.1-4.8-3.7z"/>
<path color="#ffe21c" d="M130.5 92.9l4.9 7.2 4.8 6.3 4.8 5.4 2.6-6.2-4.8-5.8-4.8-6.6-4.9-7.2z"/>
<path color="#ffdf1c" d="M145 111.8l4.8 4.6 4.7 3.9 2.6-5.4-4.8-4.3-4.7-5z"/>
<path color="#feda1c" d="M154.5 120.3l4.7 3.3 2.6-4.9-4.7-3.8z"/>
<path color="#fed41c" d="M159.2 123.6l4.7 3 2.6-4.6-4.7-3.3z"/>
<path color="#fece1b" d="M163.9 126.6l4.8 2.6 2.5-4.3-4.7-2.9z"/>
<path color="#fdc71a" d="M168.7 129.2l4.7 2.4 2.6-4.1-4.8-2.6z"/>
<path color="#fdc01a" d="M173.4 131.6l4.8 2.2 2.5-3.9-4.7-2.4z"/>
<path color="#fdb919" d="M178.2 133.8l4.8 2.2 2.5-3.8-4.8-2.3z"/>
<path color="#fcb319" d="M183 136l4.8 2 2.5-3.7-4.8-2.1z"/>
<path color="#fcae18" d="M187.8 138l4.9 2 2.5-3.7-4.9-2z"/>
<path color="#fca918" d="M192.7 140l9.8 3.8 2.4-3.6-9.7-3.9z"/>
<path color="#fca417" d="M202.5 143.8l9.9 3.7 2.4-3.5-9.9-3.8z"/>
<path color="#fca117" d="M212.4 147.5l15.2 5.5 2.3-3.5-15.1-5.5z"/>
<path color="#fc9e17" d="M227.6 153l15.5 5.5 2.2-3.5-15.4-5.5z"/>
<path color="#fc9916" d="M84.2 53.5l3.7 1.1 3.1-2.6-3.6-1.1z"/>
<path color="#fc9f17" d="M87.9 54.6l1.8 0.5 3.1-2.5-1.8-0.6z"/>
<path color="#fcac18" d="M89.7 55.1l1.8 0.8 3.1-2.6-1.8-0.7z"/>
<path color="#fcb719" d="M91.5 55.9l1.9 0.8 3-2.6-1.8-0.8z"/>
<path color="#fdbd19" d="M93.4 56.7l1.8 0.8 3.1-2.6-1.9-0.8z"/>
<path color="#fdc61a" d="M95.2 57.5l1.9 0.9 3-2.7-1.8-0.8z"/>
<path color="#fed21b" d="M97.1 58.4l1.8 1.1 3.1-2.8-1.9-1z"/>
<path color="#ffdf1c" d="M98.9 59.5l1.9 1.3 3.1-3-1.9-1.1z"/>
<path color="#ffe61d" d="M100.8 60.8l2 1.6 3-3.3-1.9-1.3z"/>
<path color="#ffe91e" d="M102.8 62.4l4.9 5.5 5 7.3 5.1 8.4 2.7-6.6-5-7.4-4.9-6.1-4.8-4.4z"/>
<path color="#ffe31c" d="M117.8 83.6l5.1 8.6 5 7.9 2.6-7.2-10-15.9z"/>
<path color="#ffdf1c" d="M127.9 100.1l4.9 7 4.8 5.9 4.8 4.8 2.6-6-4.8-5.4-4.8-6.3-4.9-7.2z"/>
<path color="#fedd1c" d="M142.4 117.8l4.7 4.1 2.7-5.5-4.8-4.6z"/>
<path color="#fed91c" d="M147.1 121.9l4.8 3.4 2.6-5-4.7-3.9z"/>
<path color="#fed41c" d="M151.9 125.3l4.7 3 2.6-4.7-4.7-3.3z"/>
<path color="#fece1b" d="M156.6 128.3l4.7 2.6 2.6-4.3-4.7-3z"/>
<path color="#fdc71a" d="M161.3 130.9l4.8 2.4 2.6-4.1-4.8-2.6z"/>
<path color="#fdbf1a" d="M166.1 133.3l4.7 2.3 2.6-4-4.7-2.4z"/>
<path color="#fcb819" d="M170.8 135.6l4.8 2 2.6-3.8-4.8-2.2z"/>
<path color="#fcb218" d="M175.6 137.6l4.9 2.1 2.5-3.7-4.8-2.2z"/>
<path color="#fcad18" d="M180.5 139.7l4.8 1.9 2.5-3.6-4.8-2z"/>
<path color="#fca818" d="M185.3 141.6l9.8 3.8 2.5-3.5-9.8-3.9z"/>
<path color="#fca417" d="M195.1 145.4l9.9 3.7 2.5-3.5-9.9-3.7z"/>
<path color="#fca017" d="M205 149.1l20.3 7.3 2.3-3.4-20.1-7.4z"/>
<path color="#fc9d16" d="M225.3 156.4l15.5 5.6 2.3-3.5-15.5-5.5z"/>
<path color="#fc9916" d="M81.1 56.1l3.6 1.1 3.2-2.6-3.7-1.1z"/>
<path color="#fc9f17" d="M84.7 57.2l1.8 0.5 3.2-2.6-1.8-0.5z"/>
<path color="#fcad18" d="M86.5 57.7l1.9 0.8 3.1-2.6-1.8-0.8z"/>
<path color="#fdb919" d="M88.4 58.5l1.8 0.8 3.2-2.6-1.9-0.8z"/>
<path color="#fdc31a" d="M90.2 59.3l1.9 0.9 3.1-2.7-1.8-0.8z"/>
<path color="#fecf1b" d="M92.1 60.2l1.9 1.1 3.1-2.9-1.9-0.9z"/>
<path color="#ffde1c" d="M94 61.3l1.9 1.3 3-3.1-1.8-1.1z"/>
<path color="#ffe61d" d="M95.9 62.6l1.9 1.6 3-3.4-1.9-1.3z"/>
<path color="#ffe91f" d="M97.8 64.2l2 2 5.1 6.8 5.1 8.7 2.7-6.5-5-7.3-4.9-5.5-2-1.6z"/>
<path color="#ffe41c" d="M110 81.7l5.2 9.3 2.6-7.4-5.1-8.4z"/>
<path color="#ffde1c" d="M115.2 91l5.1 8.9 5 7.8 2.6-7.6-5-7.9-5.1-8.6z"/>
<path color="#fedc1c" d="M125.3 107.7l4.9 6.4 4.8 5.2 4.8 4.3 2.6-5.8-4.8-4.8-4.8-5.9-4.9-7z"/>
<path color="#fed91c" d="M139.8 123.6l4.7 3.5 2.6-5.2-4.7-4.1z"/>
<path color="#fed41c" d="M144.5 127.1l4.7 3 2.7-4.8-4.8-3.4z"/>
<path color="#fdcd1b" d="M149.2 130.1l4.7 2.6 2.7-4.4-4.7-3z"/>
<path color="#fdc61a" d="M153.9 132.7l4.8 2.4 2.6-4.2-4.7-2.6z"/>
<path color="#fdbe19" d="M158.7 135.1l4.8 2.2 2.6-4-4.8-2.4z"/>
<path color="#fcb619" d="M163.5 137.3l4.7 2 2.6-3.7-4.7-2.3z"/>
<path color="#fcb018" d="M168.2 139.3l4.9 2 2.5-3.7-4.8-2z"/>
<path color="#fcac18" d="M173.1 141.3l4.8 2 2.6-3.6-4.9-2.1z"/>
<path color="#fca717" d="M177.9 143.3l9.8 3.7 2.5-3.5-9.7-3.8z"/>
<path color="#fca317" d="M187.7 147l9.9 3.7 2.5-3.4-9.9-3.8z"/>
<path color="#fc9f17" d="M197.6 150.7l20.2 7.4 2.4-3.5-20.1-7.3z"/>
<path color="#fc9d16" d="M217.8 158.1l20.7 7.4 2.3-3.5-20.6-7.4z"/>
<path color="#fc9916" d="M77.9 58.7l3.6 1.1 3.2-2.6-3.6-1.1z"/>
<path color="#fc9f17" d="M81.5 59.8l1.9 0.6 3.1-2.7-1.8-0.5z"/>
<path color="#fcae18" d="M83.4 60.4l1.8 0.8 3.2-2.7-1.9-0.8z"/>
<path color="#fdbd19" d="M85.2 61.2l1.9 0.8 3.1-2.7-1.8-0.8z"/>
<path color="#fdcb1b" d="M87.1 62l1.9 1 3.1-2.8-1.9-0.9z"/>
<path color="#fedb1c" d="M89 63l1.9 1.3 3.1-3-1.9-1.1z"/>
<path color="#ffe61d" d="M90.9 64.3l1.9 1.7 3.1-3.4-1.9-1.3z"/>
<path color="#ffe91f" d="M92.8 66l2 2.1 2 2.6 5.3 8.5 2.8-6.2-5.1-6.8-2-2-1.9-1.6z"/>
<path color="#ffe31c" d="M102.1 79.2l5.3 10.1 2.6-7.6-5.1-8.7z"/>
<path color="#fed91c" d="M107.4 89.3l5.2 10 5.1 8.8 5 7.1 4.9 5.6 4.7 4.5 4.8 3.6 2.7-5.3-4.8-4.3-4.8-5.2-4.9-6.4-5-7.8-5.1-8.9-5.2-9.3z"/>
<path color="#fed31c" d="M137.1 128.9l4.7 3 2.7-4.8-4.7-3.5z"/>
<path color="#fdcc1b" d="M141.8 131.9l4.7 2.6 2.7-4.4-4.7-3z"/>
<path color="#fdc51a" d="M146.5 134.5l4.8 2.3 2.6-4.1-4.7-2.6z"/>
<path color="#fdbc19" d="M151.3 136.8l4.7 2.2 2.7-3.9-4.8-2.4z"/>
<path color="#fcb519" d="M156 139l4.8 2.1 2.7-3.8-4.8-2.2z"/>
<path color="#fcaf18" d="M160.8 141.1l4.8 1.9 2.6-3.7-4.7-2z"/>
<path color="#fcaa18" d="M165.6 143l4.8 1.9 2.7-3.6-4.9-2z"/>
<path color="#fca617" d="M170.4 144.9l9.8 3.8 2.6-3.5-9.7-3.9z"/>
<path color="#fca117" d="M180.2 148.7l14.9 5.5 2.5-3.5-14.8-5.5z"/>
<path color="#fc9d16" d="M195.1 154.2l30.6 11.1 2.4-3.5-30.5-11.1z"/>
<path color="#fc9b16" d="M225.7 165.3l10.5 3.7 2.3-3.5-10.4-3.7z"/>
<path color="#fc9916" d="M74.7 61.3l3.6 1.2 3.2-2.7-3.6-1.1z"/>
<path color="#fc9f17" d="M78.3 62.5l1.8 0.6 3.3-2.7-1.9-0.6z"/>
<path color="#fcb118" d="M80.1 63.1l1.9 0.8 3.2-2.7-1.8-0.8z"/>
<path color="#fdc61a" d="M82 63.9l1.9 0.9 3.2-2.8-1.9-0.8z"/>
<path color="#fed81c" d="M83.9 64.8l1.9 1.2 3.2-3-1.9-1z"/>
<path color="#ffe51d" d="M85.8 66l2 1.7 3.1-3.4-1.9-1.3z"/>
<path color="#ffe91f" d="M87.8 67.7l2 2.3 2 2.8 2.2 3.5 2.8-5.6-2-2.6-2-2.1-1.9-1.7z"/>
<path color="#ffe31c" d="M94 76.3l5.4 10.6 2.7-7.7-5.3-8.5z"/>
<path color="#fed41c" d="M99.4 86.9l5.4 11.3 2.6-8.9-5.3-10.1z"/>
<path color="#fed01b" d="M104.8 98.2l5.3 10 5.1 8.1 2.5-8.2-5.1-8.8-5.2-10z"/>
<path color="#fed61c" d="M115.2 116.3l4.9 6.1 4.8 4.7 4.7 3.6 2.7-5.4-4.7-4.5-4.9-5.6-5-7.1z"/>
<path color="#fed21b" d="M129.6 130.7l4.8 3 2.7-4.8-4.8-3.6z"/>
<path color="#fdcb1b" d="M134.4 133.7l4.7 2.6 2.7-4.4-4.7-3z"/>
<path color="#fdc31a" d="M139.1 136.3l4.7 2.3 2.7-4.1-4.7-2.6z"/>
<path color="#fdba19" d="M143.8 138.6l4.8 2.1 2.7-3.9-4.8-2.3z"/>
<path color="#fcb318" d="M148.6 140.7l4.7 2.1 2.7-3.8-4.7-2.2z"/>
<path color="#fcad18" d="M153.3 142.8l4.8 1.9 2.7-3.6-4.8-2.1z"/>
<path color="#fca818" d="M158.1 144.7l4.8 1.9 2.7-3.6-4.8-1.9z"/>
<path color="#fca417" d="M162.9 146.6l9.8 3.7 2.6-3.5-9.7-3.8z"/>
<path color="#fca017" d="M172.7 150.3l14.8 5.5 2.6-3.4-14.8-5.6z"/>
<path color="#fc9c16" d="M187.5 155.8l41.1 14.9 2.4-3.6-40.9-14.7z"/>
<path color="#fc9b16" d="M228.6 170.7l5.3 1.9 2.3-3.6-5.2-1.9z"/>
<path color="#fc9916" d="M71.4 64l3.6 1.2 3.3-2.7-3.6-1.2z"/>
<path color="#fca117" d="M75 65.2l1.9 0.6 3.2-2.7-1.8-0.6z"/>
<path color="#fcb819" d="M76.9 65.8l1.9 0.8 3.2-2.7-1.9-0.8z"/>
<path color="#fed21b" d="M78.8 66.6l1.9 1.2 3.2-3-1.9-0.9z"/>
<path color="#ffe41c" d="M80.7 67.8l1.9 1.6 3.2-3.4-1.9-1.2z"/>
<path color="#ffe81e" d="M82.6 69.4l2.1 2.4 2.1 3.2 2.2 4 2.8-6.2-2-2.8-2-2.3-2-1.7z"/>
<path color="#ffdf1c" d="M89 79l2.2 4.6 2.8-7.3-2.2-3.5z"/>
<path color="#fdcd1b" d="M91.2 83.6l5.7 12.6 2.5-9.3-5.4-10.6z"/>
<path color="#fdc31a" d="M96.9 96.2l5.5 11.8 2.4-9.8-5.4-11.3z"/>
<path color="#fdc61a" d="M102.4 108l5.2 9.2 2.5-9-5.3-10z"/>
<path color="#fece1b" d="M107.6 117.2l5 6.8 2.6-7.7-5.1-8.1z"/>
<path color="#fed41c" d="M112.6 124l4.8 5 4.8 3.7 2.7-5.6-4.8-4.7-4.9-6.1z"/>
<path color="#fed01b" d="M122.2 132.7l4.7 2.9 2.7-4.9-4.7-3.6z"/>
<path color="#fdc91b" d="M126.9 135.6l4.7 2.6 2.8-4.5-4.8-3z"/>
<path color="#fdc11a" d="M131.6 138.2l4.7 2.2 2.8-4.1-4.7-2.6z"/>
<path color="#fcb819" d="M136.3 140.4l4.7 2.1 2.8-3.9-4.7-2.3z"/>
<path color="#fcb018" d="M141 142.5l4.8 2 2.8-3.8-4.8-2.1z"/>
<path color="#fcab18" d="M145.8 144.5l4.8 1.9 2.7-3.6-4.7-2.1z"/>
<path color="#fca517" d="M150.6 146.4l9.6 3.7 2.7-3.5-9.6-3.8z"/>
<path color="#fca017" d="M160.2 150.1l14.8 5.5 2.6-3.4-14.7-5.6z"/>
<path color="#fc9c16" d="M175 155.6l35.5 13 2.4-3.5-35.3-12.9z"/>
<path color="#fc9b16" d="M210.5 168.6l21 7.6 2.4-3.6-21-7.5z"/>
<path color="#fc9a16" d="M68.1 66.8l3.6 1.1 3.3-2.7-3.6-1.2z"/>
<path color="#fca517" d="M71.7 67.9l1.9 0.7 3.3-2.8-1.9-0.6z"/>
<path color="#fdc51a" d="M73.6 68.6l1.9 0.9 3.3-2.9-1.9-0.8z"/>
<path color="#ffe01c" d="M75.5 69.5l2 1.6 3.2-3.3-1.9-1.2z"/>
<path color="#ffe71d" d="M77.5 71.1l2 2.6 2.2 3.6 3-5.5-2.1-2.4-1.9-1.6z"/>
<path color="#ffe21c" d="M81.7 77.3l2.3 4.6 2.8-6.9-2.1-3.2z"/>
<path color="#fed21b" d="M84 81.9l2.3 5.4 2.7-8.3-2.2-4z"/>
<path color="#fdc01a" d="M86.3 87.3l2.4 5.8 2.5-9.5-2.2-4.6z"/>
<path color="#fcb318" d="M88.7 93.1l5.8 14 5.4 11 2.5-10.1-5.5-11.8-5.7-12.6z"/>
<path color="#fdc31a" d="M99.9 118.1l5.1 7.6 2.6-8.5-5.2-9.2z"/>
<path color="#fece1b" d="M105 125.7l4.9 5.2 2.7-6.9-5-6.8z"/>
<path color="#fed11b" d="M109.9 130.9l4.8 3.8 2.7-5.7-4.8-5z"/>
<path color="#fece1b" d="M114.7 134.7l4.7 2.9 2.8-4.9-4.8-3.7z"/>
<path color="#fdc71a" d="M119.4 137.6l4.7 2.4 2.8-4.4-4.7-2.9z"/>
<path color="#fdbe19" d="M124.1 140l4.7 2.2 2.8-4-4.7-2.6z"/>
<path color="#fcb519" d="M128.8 142.2l4.7 2 2.8-3.8-4.7-2.2z"/>
<path color="#fcad18" d="M133.5 144.2l4.7 2 2.8-3.7-4.7-2.1z"/>
<path color="#fca818" d="M138.2 146.2l4.8 1.9 2.8-3.6-4.8-2z"/>
<path color="#fca417" d="M143 148.1l9.6 3.7 2.8-3.5-9.6-3.8z"/>
<path color="#fc9f17" d="M152.6 151.8l14.7 5.5 2.7-3.5-14.6-5.5z"/>
<path color="#fc9b16" d="M167.3 157.3l56.5 20.6 2.4-3.6-56.2-20.5z"/>
<path color="#fc9a16" d="M223.8 177.9l5.3 2 2.4-3.7-5.3-1.9z"/>
<path color="#fc9916" d="M64.7 69.5l1.8 0.6 3.4-2.8-1.8-0.5z"/>
<path color="#fc9d16" d="M66.5 70.1l1.9 0.6 3.3-2.8-1.8-0.6z"/>
<path color="#fcaf18" d="M68.4 70.7l1.9 0.7 3.3-2.8-1.9-0.7z"/>
<path color="#fed31c" d="M70.3 71.4l1.9 1.4 3.3-3.3-1.9-0.9z"/>
<path color="#ffe41c" d="M72.2 72.8l2.1 2.7 2.3 4.2 2.9-6-2-2.6-2-1.6z"/>
<path color="#fed51c" d="M76.6 79.7l2.4 5.6 2.7-8-2.2-3.6z"/>
<path color="#fdbe19" d="M79 85.3l2.5 6.5 2.5-9.9-2.3-4.6z"/>
<path color="#fca918" d="M81.5 91.8l2.5 6.9 2.3-11.4-2.3-5.4z"/>
<path color="#fc9f17" d="M84 98.7l2.4 6.6 5.8 13.5 2.3-11.7-8.2-19.8z"/>
<path color="#fcb018" d="M92.2 118.8l5.3 8.8 2.4-9.5-5.4-11z"/>
<path color="#fdc51a" d="M97.5 127.6l4.9 5.4 2.6-7.3-5.1-7.6z"/>
<path color="#fdcc1b" d="M102.4 133l4.7 3.8 4.7 2.8 2.9-4.9-4.8-3.8-4.9-5.2z"/>
<path color="#fdc41a" d="M111.8 139.6l4.7 2.3 2.9-4.3-4.7-2.9z"/>
<path color="#fdba19" d="M116.5 141.9l4.7 2.1 2.9-4-4.7-2.4z"/>
<path color="#fcb118" d="M121.2 144l4.7 2 2.9-3.8-4.7-2.2z"/>
<path color="#fcaa18" d="M125.9 146l4.7 1.9 2.9-3.7-4.7-2z"/>
<path color="#fca617" d="M130.6 147.9l4.8 1.9 2.8-3.6-4.7-2z"/>
<path color="#fca217" d="M135.4 149.8l9.6 3.6 2.8-3.5-9.6-3.7z"/>
<path color="#fc9e16" d="M145 153.4l19.6 7.4 2.7-3.5-19.5-7.4z"/>
<path color="#fc9b16" d="M164.6 160.8l62.1 22.7 2.4-3.6-61.8-22.6z"/>
<path color="#fc9a16" d="M61.3 72.3l1.8 0.6 3.4-2.8-1.8-0.6z"/>
<path color="#fca417" d="M63.1 72.9l1.9 0.6 3.4-2.8-1.9-0.6z"/>
<path color="#fdc11a" d="M65 73.5l1.9 1.1 3.4-3.2-1.9-0.7z"/>
<path color="#fed91c" d="M66.9 74.6l2.1 2.7 2.4 5 2.9-6.8-2.1-2.7-1.9-1.4z"/>
<path color="#fdc31a" d="M71.4 82.3l2.6 7.1 2.6-9.7-2.3-4.2z"/>
<path color="#fca617" d="M74 89.4l2.7 8.2 2.3-12.3-2.4-5.6z"/>
<path color="#fa9415" d="M76.7 97.6l2.7 8.1 2.1-13.9-2.5-6.5z"/>
<path color="#f78e15" d="M79.4 105.7l2.6 7.3 2.4 6.2 2-13.9-4.9-13.5z"/>
<path color="#fc9d16" d="M84.4 119.2l5.5 10.4 2.3-10.8-5.8-13.5z"/>
<path color="#fcb619" d="M89.9 129.6l4.9 5.7 2.7-7.7-5.3-8.8z"/>
<path color="#fdc71a" d="M94.8 135.3l4.8 3.6 4.7 2.7 2.8-4.8-4.7-3.8-4.9-5.4z"/>
<path color="#fdc01a" d="M104.3 141.6l4.6 2.2 2.9-4.2-4.7-2.8z"/>
<path color="#fcb619" d="M108.9 143.8l4.7 2 2.9-3.9-4.7-2.3z"/>
<path color="#fcad18" d="M113.6 145.8l4.7 1.9 2.9-3.7-4.7-2.1z"/>
<path color="#fca817" d="M118.3 147.7l4.7 1.9 2.9-3.6-4.7-2z"/>
<path color="#fca217" d="M123 149.6l9.5 3.7 2.9-3.5-9.5-3.8z"/>
<path color="#fc9e16" d="M132.5 153.3l19.4 7.3 2.8-3.5-19.3-7.3z"/>
<path color="#fc9a16" d="M151.9 160.6l72.3 26.7 2.5-3.8-72-26.4z"/>
<path color="#fc9e17" d="M57.8 75.1l1.9 0.7 3.4-2.9-1.8-0.6z"/>
<path color="#fcb118" d="M59.7 75.8l1.9 0.7 3.4-3-1.9-0.6z"/>
<path color="#fdc81a" d="M61.6 76.5l2.1 2.5 2.6 6.3 2.7-8-2.1-2.7-1.9-1.1z"/>
<path color="#fcac18" d="M66.3 85.3l2.9 9.6 2.2-12.6-2.4-5z"/>
<path color="#f99215" d="M69.2 94.9l3 10.6 1.8-16.1-2.6-7.1z"/>
<path color="#f38414" d="M72.2 105.5l2.9 9.4 1.6-17.3-2.7-8.2z"/>
<path color="#f08114" d="M75.1 114.9l2.6 7.5 1.7-16.7-2.7-8.1z"/>
<path color="#f48614" d="M77.7 122.4l2.4 5.5 1.9-14.9-2.6-7.3z"/>
<path color="#f99215" d="M80.1 127.9l2.2 4 2.1-12.7-2.4-6.2z"/>
<path color="#fca817" d="M82.3 131.9l5 5.9 2.6-8.2-5.5-10.4z"/>
<path color="#fdbc19" d="M87.3 137.8l4.7 3.3 2.8-5.8-4.9-5.7z"/>
<path color="#fdc11a" d="M92 141.1l4.6 2.5 3-4.7-4.8-3.6z"/>
<path color="#fdba19" d="M96.6 143.6l4.7 2.1 3-4.1-4.7-2.7z"/>
<path color="#fcb018" d="M101.3 145.7l4.6 1.9 3-3.8-4.6-2.2z"/>
<path color="#fca918" d="M105.9 147.6l4.7 1.9 3-3.7-4.7-2z"/>
<path color="#fca417" d="M110.6 149.5l4.7 1.8 3-3.6-4.7-1.9z"/>
<path color="#fca017" d="M115.3 151.3l9.5 3.6 2.9-3.5-9.4-3.7z"/>
<path color="#fc9c16" d="M124.8 154.9l29.3 11 2.8-3.5-29.2-11z"/>
<path color="#fc9a16" d="M154.1 165.9l67.6 25.2 2.5-3.8-67.3-24.9z"/>
<path color="#fca617" d="M54.3 78l1.9 0.6 3.5-2.8-1.9-0.7z"/>
<path color="#fcb318" d="M56.2 78.6l2.1 2.1 2.9 8.8 2.5-10.5-2.1-2.5-1.9-0.7z"/>
<path color="#fc9916" d="M61.2 89.5l3.6 14.2 1.5-18.4-2.6-6.3z"/>
<path color="#f38414" d="M64.8 103.7l3.4 13.4 1-22.2-2.9-9.6z"/>
<path color="#ea7c13" d="M68.2 117.1l2.9 9.6 2.5 6 1.5-17.8-5.9-20z"/>
<path color="#f48714" d="M73.6 132.7l2.2 3.7 1.9-14-2.6-7.5z"/>
<path color="#fa9416" d="M75.8 136.4l2 2.4 2.3-10.9-2.4-5.5z"/>
<path color="#fca517" d="M77.8 138.8l1.9 1.7 2.6-8.6-2.2-4z"/>
<path color="#fcb419" d="M79.7 140.5l4.7 2.9 2.9-5.6-5-5.9z"/>
<path color="#fdb919" d="M84.4 143.4l4.6 2.1 3-4.4-4.7-3.3z"/>
<path color="#fcb319" d="M89 145.5l4.6 2 3-3.9-4.6-2.5z"/>
<path color="#fcab18" d="M93.6 147.5l4.6 1.8 3.1-3.6-4.7-2.1z"/>
<path color="#fca517" d="M98.2 149.3l4.7 1.9 3-3.6-4.6-1.9z"/>
<path color="#fca017" d="M102.9 151.2l9.4 3.6 3-3.5-9.4-3.7z"/>
<path color="#fc9c16" d="M112.3 154.8l29 10.9 2.9-3.5-28.9-10.9z"/>
<path color="#fc9a16" d="M141.3 165.7l77.9 29.2 2.5-3.8-77.5-28.9z"/>
<path color="#fca517" d="M50.8 80.9l2 1.2 3.4-3.5-1.9-0.6z"/>
<path color="#fc9c16" d="M52.8 82.1l3.8 15.2 1.7-16.6-2.1-2.1z"/>
<path color="#f68b15" d="M56.6 97.3l4.8 23-0.2-30.8-2.9-8.8z"/>
<path color="#e97b13" d="M61.4 120.3l3.4 12.8 2.4 5.4 1-21.4-7-27.6z"/>
<path color="#f08114" d="M67.2 138.5l2.1 2.6 1.8-14.4-2.9-9.6z"/>
<path color="#f78e15" d="M69.3 141.1l1.9 1.5 2.4-9.9-2.5-6z"/>
<path color="#fc9d16" d="M71.2 142.6l1.8 1.1 2.8-7.3-2.2-3.7z"/>
<path color="#fca918" d="M73 143.7l1.9 1 2.9-5.9-2-2.4z"/>
<path color="#fcb018" d="M74.9 144.7l6.4 2.7 3.1-4-4.7-2.9-1.9-1.7z"/>
<path color="#fcab18" d="M81.3 147.4l4.6 1.9 3.1-3.8-4.6-2.1z"/>
<path color="#fca517" d="M85.9 149.3l4.6 1.8 3.1-3.6-4.6-2z"/>
<path color="#fca017" d="M90.5 151.1l9.3 3.5 3.1-3.4-9.3-3.7z"/>
<path color="#fc9b16" d="M99.8 154.6l38.5 14.6 3-3.5-38.4-14.5z"/>
<path color="#fc9a16" d="M138.3 169.2l78.3 29.6 2.6-3.9-77.9-29.2z"/>
<path color="#fb9716" d="M47.2 83.9l8.2 45.5-2.6-47.3-2-1.2z"/>
<path color="#f18314" d="M55.4 129.4l3.5 13-2.3-45.1-3.8-15.2z"/>
<path color="#e07411" d="M58.9 142.4l1.9 1.6 0.6-23.7-4.8-23z"/>
<path color="#e67912" d="M60.8 144l1.9 0.9 2.1-11.8-3.4-12.8z"/>
<path color="#f58914" d="M62.7 144.9l1.8 0.7 2.7-7.1-2.4-5.4z"/>
<path color="#fc9816" d="M64.5 145.6l1.8 0.8 3-5.3-2.1-2.6z"/>
<path color="#fca417" d="M66.3 146.4l1.8 0.7 3.1-4.5-1.9-1.5z"/>
<path color="#fca918" d="M68.1 147.1l5.4 2.1 3.2-3.7-3.7-1.8-1.8-1.1z"/>
<path color="#fca517" d="M73.5 149.2l4.6 1.8 3.2-3.6-4.6-1.9z"/>
<path color="#fca017" d="M78.1 151l9.2 3.5 3.2-3.4-9.2-3.7z"/>
<path color="#fc9a16" d="M87.3 154.5l68.2 25.9 2.9-3.6-67.9-25.7z"/>
<path color="#fc9916" d="M155.5 180.4l58.5 22.3 2.6-3.9-58.2-22z"/>
</g>
<path class="m" d="M47.2 83.9L142.5 5.6M64.5 145.6L66.1 143L67.1 139.4L67.9 130.3L69.1 96.1L70.7 84.9L73.7 76.6L150.9 8.2M73.5 149.2L78.9 142.1L81.5 135.3L90.4 86.5L98.6 67.9L159.4 11.4M82.7 152.7L92.6 140.1L113.3 74L167.9 14.6M92 156.3L106.6 137.8L136.9 61.7L176.6 17.8M101.4 159.9L121.2 134.4L170.5 37.1L185.3 21.3M110.9 163.5L136.9 129.2L194.1 25.5M120.6 167.2L153.8 121.7L202.9 30.5M130.4 170.9L211.8 36.3M140.4 174.7L220.7 42.8M150.4 178.5L229.6 49.7M160.7 182.4L238.5 56.7M171 186.3L247.5 63.6M181.6 190.3L256.5 70.2M192.2 194.4L265.5 76.4M203.1 198.5L274.7 82.2M214 202.7L284 87.5M47.2 83.9L47.6 84L48.5 88.1L57.1 137.7L77.2 150.6L214 202.7M54.3 78L57.4 79.4L77.3 138.3L83.4 142.9L219.2 194.9M61.3 72.3L67.4 75L88.8 128L93.1 133.7L102.1 140.4L224.2 187.3M68.1 66.8L78.4 72.1L99 116.5L105.1 125.9L112.6 133.2L229.1 179.9M74.7 61.3L89.7 69.9L98.3 84.6L112 111.4L119.6 121.9L131.1 131.7L233.9 172.6M81.1 56.1L101.8 68.6L126.5 109.4L137.2 121.4L238.5 165.5M87.4 50.9L109.6 62.5L141.7 108.1L157.1 122.2L243.1 158.5M93.5 45.9L115.4 55.7L123.6 63.4L155 104.7L175.1 121.2L247.5 151.6M99.5 41L121.1 49.9L130.8 57.1L169.7 103L198.7 123.1L251.8 144.7M105.3 36.2L130.7 46.7L143.4 56.6L183.5 100.4L256.1 137.9M111 31.5L140 43.5L156.6 56.6L197.9 98.5L260.2 131M116.5 27L150 40.8L217.6 100.4L264.3 124M122 22.5L159.7 38L232.5 98.5L268.4 116.9M127.3 18.1L169.3 35.3L247.2 96.6L272.3 109.7M132.5 13.9L179.5 33L262.5 95.2L276.3 102.4M137.6 9.7L189.5 30.7L277.7 93.7L280.2 94.9M142.5 5.6L199.3 28.3L284 87.5"/>
<path class="e" d="M48.2 143.9L216.8 208.5M216.8 208.5L288.6 98.8M288.6 98.8L279.7 96.2M56.7 136L48.2 143.9M39.1 83.9L220.1 145.5M220.1 145.5L295.8 41.7M295.8 41.7L140.9 1.6M140.9 1.6L39.1 83.9M48.2 143.9L39.1 83.9M216.8 208.5L220.1 145.5M288.6 98.8L295.8 41.7M141.1 6.6L140.9 1.6"/>
<path class="t" d="M52.4 145.6L55.8 142.3M219.3 204.8L213.7 202.6M59.6 148.3L61.5 146.5M223.4 198.5L220.2 197.3M66.8 151.1L68.7 149.2M227.4 192.4L224.3 191.2M74.1 153.9L76 152M231.3 186.4L228.2 185.3M81.5 156.7L83.4 154.8M235.2 180.5L232.1 179.4M89 159.5L92.2 156.2M238.9 174.8L233.5 172.9M96.5 162.4L98.3 160.5M242.6 169.2L239.5 168.1M104.1 165.4L105.9 163.4M246.2 163.7L243.2 162.6M111.8 168.3L113.6 166.3M249.7 158.3L246.7 157.3M119.6 171.3L121.4 169.3M253.2 153L250.2 152M127.5 174.3L130.6 170.7M256.6 147.8L251.4 146.1M135.5 177.4L137.2 175.3M259.9 142.8L256.9 141.8M143.6 180.5L145.3 178.4M263.1 137.8L260.2 136.9M151.7 183.6L153.4 181.5M266.3 132.9L263.4 132M160 186.8L161.6 184.6M269.4 128.1L266.6 127.2M168.3 190L171.2 186.2M272.5 123.5L267.5 121.9M176.8 193.2L178.4 191M275.5 118.9L272.7 118M185.3 196.5L186.9 194.3M278.5 114.4L275.7 113.5M194 199.8L195.5 197.5M281.4 109.9L278.6 109.1M202.7 203.1L204.2 200.9M284.2 105.6L281.5 104.7M211.5 206.5L214.2 202.5M287 101.3L282.2 99.9M48.1 143.3L50.1 141.5M47.5 139.5L49.5 137.7M47 135.7L48.9 133.9M46.4 131.9L49.9 128.7M45.8 128L47.8 126.2M45.2 124.1L47.2 122.3M44.6 120.1L46.6 118.3M44 116.1L47.5 113M43.4 112.1L45.4 110.3M42.8 108L44.8 106.3M42.1 103.9L44.2 102.2M41.5 99.8L45.1 96.7M40.9 95.6L43 93.9M40.2 91.4L42.3 89.6M39.6 87.1L41.7 85.4"/>
<g class="k">
<text x="37.3" y="162">0.0</text>
<text x="73.8" y="176.9">0.5</text>
<text x="115.5" y="192.9">1.0</text>
<text x="158.1" y="209">1.5</text>
<text x="203" y="226.2">2.0</text>
<text x="232.2" y="217.4">0.0</text>
<text x="252.8" y="186.1">0.5</text>
<text x="270.6" y="158.7">1.0</text>
<text x="287.4" y="132.9">1.5</text>
<text x="302.2" y="110.4">2.0</text>
<text x="42" y="136.2" class="r">0.04</text>
<text x="39.8" y="120.6" class="r">0.06</text>
<text x="37.6" y="104.5" class="r">0.08</text>
<text x="35.3" y="87.7" class="r">0.10</text>
</g>
<g class="n">
<text x="40" y="44.3">Fidelity</text>
<text x="93.2" y="206.6">T</text>
<text x="287.6" y="182.6" class="i">ω</text>
<text x="269" y="19.3">(a)</text>
</g>
</g>
<g id="pb">
<g class="s">
<path color="#fc9916" d="M477.3 10.8l3.2 0.9 2.4-2-3.2-0.8z"/>
<path color="#fc9e17" d="M480.5 11.7l1.6 0.4 2.4-2-1.6-0.4z"/>
<path color="#fcac18" d="M482.1 12.1l1.6 0.6 2.4-2-1.6-0.6z"/>
<path color="#fcb619" d="M483.7 12.7l9.9 3.8 2.3-2-9.8-3.8z"/>
<path color="#fcb819" d="M493.6 16.5l4.1 1.6 2.3-2-4.1-1.6z"/>
<path color="#fdc01a" d="M497.7 18.1l4.1 1.8 2.3-2.1-4.1-1.7z"/>
<path color="#fece1b" d="M501.8 19.9l4.2 2.1 2.3-2.3-4.2-1.9z"/>
<path color="#fedd1c" d="M506 22l4.2 2.5 2.2-2.4-4.1-2.4z"/>
<path color="#ffe61d" d="M510.2 24.5l4.2 3.2 2.2-2.7-4.2-2.9z"/>
<path color="#ffea20" d="M514.4 27.7l4.2 3.7 4.2 4.2 16.8 18.5 4.2 4.4 4.2 4.1 4.2 3.9 4.2 3.6 2.1-3.6-4.2-3.7-4.2-3.9-8.4-8.5-12.5-13.7-4.2-4.3-4.2-3.9-4.2-3.5z"/>
<path color="#ffe51d" d="M556.4 70.1l4.2 3.3 4.3 3 2-3.4-4.2-3.2-4.2-3.3z"/>
<path color="#ffe11c" d="M564.9 76.4l4.3 2.9 2-3.4-4.3-2.9z"/>
<path color="#fedc1c" d="M569.2 79.3l4.3 2.6 2-3.3-4.3-2.7z"/>
<path color="#fed61c" d="M573.5 81.9l4.3 2.4 2-3.2-4.3-2.5z"/>
<path color="#fed11b" d="M577.8 84.3l4.4 2.3 1.9-3.1-4.3-2.4z"/>
<path color="#fdcb1b" d="M582.2 86.6l4.4 2.2 1.9-3.1-4.4-2.2z"/>
<path color="#fdc61a" d="M586.6 88.8l4.5 2.1 1.8-3.1-4.4-2.1z"/>
<path color="#fdc11a" d="M591.1 90.9l4.4 1.9 1.9-3-4.5-2z"/>
<path color="#fdbc19" d="M595.5 92.8l4.5 1.9 1.8-2.9-4.4-2z"/>
<path color="#fcb719" d="M600 94.7l4.5 1.9 1.8-3-4.5-1.8z"/>
<path color="#fcb218" d="M604.5 96.6l9.2 3.5 1.7-2.9-9.1-3.6z"/>
<path color="#fc9916" d="M474.9 12.8l3.2 0.9 2.4-2-3.2-0.9z"/>
<path color="#fc9e17" d="M478.1 13.7l1.6 0.4 2.4-2-1.6-0.4z"/>
<path color="#fcac18" d="M479.7 14.1l1.7 0.6 2.3-2-1.6-0.6z"/>
<path color="#fcb619" d="M481.4 14.7l9.8 3.8 2.4-2-9.9-3.8z"/>
<path color="#fdb919" d="M491.2 18.5l4.2 1.7 2.3-2.1-4.1-1.6z"/>
<path color="#fdc31a" d="M495.4 20.2l4.1 1.8 2.3-2.1-4.1-1.8z"/>
<path color="#fed11b" d="M499.5 22l4.2 2.2 2.3-2.2-4.2-2.1z"/>
<path color="#ffe11c" d="M503.7 24.2l4.2 2.8 2.3-2.5-4.2-2.5z"/>
<path color="#ffe91f" d="M507.9 27l4.3 3.4 4.2 4 2.2-3-4.2-3.7-4.2-3.2z"/>
<path color="#ffea21" d="M516.4 34.4l4.2 4.5 16.8 19 4.3 4.4 4.2 4.1 2.1-3.8-4.2-4.1-8.4-9-8.4-9.4-4.2-4.5-4.2-4.2z"/>
<path color="#ffe81e" d="M545.9 66.4l4.2 3.8 4.2 3.5 2.1-3.6-4.2-3.6-4.2-3.9z"/>
<path color="#ffe51d" d="M554.3 73.7l4.3 3.2 4.3 3 2-3.5-4.3-3-4.2-3.3z"/>
<path color="#ffdf1c" d="M562.9 79.9l4.3 2.7 2-3.3-4.3-2.9z"/>
<path color="#feda1c" d="M567.2 82.6l4.3 2.6 2-3.3-4.3-2.6z"/>
<path color="#fed41c" d="M571.5 85.2l4.4 2.4 1.9-3.3-4.3-2.4z"/>
<path color="#fece1b" d="M575.9 87.6l4.4 2.2 1.9-3.2-4.4-2.3z"/>
<path color="#fdc91a" d="M580.3 89.8l4.4 2.1 1.9-3.1-4.4-2.2z"/>
<path color="#fdc41a" d="M584.7 91.9l4.5 2 1.9-3-4.5-2.1z"/>
<path color="#fdbe19" d="M589.2 93.9l4.4 1.9 1.9-3-4.4-1.9z"/>
<path color="#fdb919" d="M593.6 95.8l4.6 1.9 1.8-3-4.5-1.9z"/>
<path color="#fcb519" d="M598.2 97.7l4.5 1.8 1.8-2.9-4.5-1.9z"/>
<path color="#fcb018" d="M602.7 99.5l9.2 3.5 1.8-2.9-9.2-3.5z"/>
<path color="#fc9916" d="M472.5 14.8l3.2 0.9 2.4-2-3.2-0.9z"/>
<path color="#fc9e17" d="M475.7 15.7l1.6 0.4 2.4-2-1.6-0.4z"/>
<path color="#fcac18" d="M477.3 16.1l1.7 0.6 2.4-2-1.7-0.6z"/>
<path color="#fcb619" d="M479 16.7l9.8 3.9 2.4-2.1-9.8-3.8z"/>
<path color="#fdbb19" d="M488.8 20.6l4.2 1.7 2.4-2.1-4.2-1.7z"/>
<path color="#fdc61a" d="M493 22.3l4.2 1.9 2.3-2.2-4.1-1.8z"/>
<path color="#fed61c" d="M497.2 24.2l4.2 2.4 2.3-2.4-4.2-2.2z"/>
<path color="#ffe41c" d="M501.4 26.6l4.2 3 2.3-2.6-4.2-2.8z"/>
<path color="#ffea1f" d="M505.6 29.6l4.3 3.7 4.2 4.3 2.3-3.2-4.2-4-4.3-3.4z"/>
<path color="#ffeb21" d="M514.1 37.6l4.3 4.7 12.7 14.9 4.2 4.6 4.2 4.4 2.2-3.9-4.3-4.4-16.8-19-4.2-4.5z"/>
<path color="#ffe81e" d="M539.5 66.2l4.2 4.1 4.3 3.7 4.2 3.4 2.1-3.7-4.2-3.5-4.2-3.8-4.2-4.1z"/>
<path color="#ffe31c" d="M552.2 77.4l4.3 3.1 4.3 2.8 2.1-3.4-4.3-3-4.3-3.2z"/>
<path color="#fedc1c" d="M560.8 83.3l4.4 2.7 2-3.4-4.3-2.7z"/>
<path color="#fed71c" d="M565.2 86l4.3 2.5 2-3.3-4.3-2.6z"/>
<path color="#fed11b" d="M569.5 88.5l4.4 2.3 2-3.2-4.4-2.4z"/>
<path color="#fdcb1b" d="M573.9 90.8l4.4 2.1 2-3.1-4.4-2.2z"/>
<path color="#fdc51a" d="M578.3 92.9l4.5 2.1 1.9-3.1-4.4-2.1z"/>
<path color="#fdc01a" d="M582.8 95l4.4 1.9 2-3-4.5-2z"/>
<path color="#fdbb19" d="M587.2 96.9l4.6 1.9 1.8-3-4.4-1.9z"/>
<path color="#fcb619" d="M591.8 98.8l4.5 1.9 1.9-3-4.6-1.9z"/>
<path color="#fcb218" d="M596.3 100.7l4.6 1.7 1.8-2.9-4.5-1.8z"/>
<path color="#fcad18" d="M600.9 102.4l9.2 3.5 1.8-2.9-9.2-3.5z"/>
<path color="#fc9916" d="M470 16.8l3.2 0.9 2.5-2-3.2-0.9z"/>
<path color="#fc9e17" d="M473.2 17.7l1.7 0.5 2.4-2.1-1.6-0.4z"/>
<path color="#fcac18" d="M474.9 18.2l1.6 0.6 2.5-2.1-1.7-0.6z"/>
<path color="#fcb619" d="M476.5 18.8l10 3.9 2.3-2.1-9.8-3.9z"/>
<path color="#fdbd19" d="M486.5 22.7l4.1 1.7 2.4-2.1-4.2-1.7z"/>
<path color="#fdca1b" d="M490.6 24.4l4.2 2.1 2.4-2.3-4.2-1.9z"/>
<path color="#feda1c" d="M494.8 26.5l4.3 2.5 2.3-2.4-4.2-2.4z"/>
<path color="#ffe61d" d="M499.1 29l4.2 3.3 2.3-2.7-4.2-3z"/>
<path color="#ffea20" d="M503.3 32.3l4.3 4 4.3 4.6 17 20.3 4.2 4.6 4.2 4.3 4.3 4 4.3 3.6 2.1-3.7-4.3-3.7-4.2-4.1-4.2-4.4-8.5-9.5-8.4-10-4.3-4.7-4.2-4.3-4.3-3.7z"/>
<path color="#ffe51d" d="M545.9 77.7l4.2 3.3 4.3 3 2.1-3.5-4.3-3.1-4.2-3.4z"/>
<path color="#ffdf1c" d="M554.4 84l4.4 2.8 2-3.5-4.3-2.8z"/>
<path color="#fed91c" d="M558.8 86.8l4.3 2.5 2.1-3.3-4.4-2.7z"/>
<path color="#fed31c" d="M563.1 89.3l4.4 2.4 2-3.2-4.3-2.5z"/>
<path color="#fdcd1b" d="M567.5 91.7l4.4 2.2 2-3.1-4.4-2.3z"/>
<path color="#fdc71a" d="M571.9 93.9l4.5 2.1 1.9-3.1-4.4-2.1z"/>
<path color="#fdc21a" d="M576.4 96l4.4 2 2-3-4.5-2.1z"/>
<path color="#fdbc19" d="M580.8 98l4.5 2 1.9-3.1-4.4-1.9z"/>
<path color="#fcb719" d="M585.3 100l4.6 1.8 1.9-3-4.6-1.9z"/>
<path color="#fcb319" d="M589.9 101.8l4.5 1.8 1.9-2.9-4.5-1.9z"/>
<path color="#fcaf18" d="M594.4 103.6l4.6 1.8 1.9-3-4.6-1.7z"/>
<path color="#fcab18" d="M599 105.4l9.3 3.4 1.8-2.9-9.2-3.5z"/>
<path color="#fc9916" d="M467.5 18.9l3.3 0.9 2.4-2.1-3.2-0.9z"/>
<path color="#fc9e17" d="M470.8 19.8l1.6 0.4 2.5-2-1.7-0.5z"/>
<path color="#fcac18" d="M472.4 20.2l1.7 0.6 2.4-2-1.6-0.6z"/>
<path color="#fcb619" d="M474.1 20.8l8.3 3.3 2.4-2.1-8.3-3.2z"/>
<path color="#fcb819" d="M482.4 24.1l1.6 0.7 2.5-2.1-1.7-0.7z"/>
<path color="#fdc01a" d="M484 24.8l4.2 1.8 2.4-2.2-4.1-1.7z"/>
<path color="#fece1b" d="M488.2 26.6l4.3 2.2 2.3-2.3-4.2-2.1z"/>
<path color="#ffe01c" d="M492.5 28.8l4.2 2.8 2.4-2.6-4.3-2.5z"/>
<path color="#ffe91f" d="M496.7 31.6l4.3 3.6 4.3 4.3 2.3-3.2-4.3-4-4.2-3.3z"/>
<path color="#ffeb21" d="M505.3 39.5l4.3 4.9 12.8 15.9 4.3 4.9 4.2 4.7 2.2-4.1-4.2-4.6-17-20.3-4.3-4.6z"/>
<path color="#ffe81e" d="M530.9 69.9l4.3 4.2 4.2 3.8 4.3 3.5 2.2-3.7-4.3-3.6-4.3-4-4.2-4.3z"/>
<path color="#ffe41c" d="M543.7 81.4l4.3 3.2 4.3 2.9 2.1-3.5-4.3-3-4.2-3.3z"/>
<path color="#fedc1c" d="M552.3 87.5l4.4 2.7 2.1-3.4-4.4-2.8z"/>
<path color="#fed61c" d="M556.7 90.2l4.4 2.5 2-3.4-4.3-2.5z"/>
<path color="#fecf1b" d="M561.1 92.7l4.4 2.2 2-3.2-4.4-2.4z"/>
<path color="#fdc91b" d="M565.5 94.9l4.4 2.2 2-3.2-4.4-2.2z"/>
<path color="#fdc41a" d="M569.9 97.1l4.5 2 2-3.1-4.5-2.1z"/>
<path color="#fdbe19" d="M574.4 99.1l4.5 2 1.9-3.1-4.4-2z"/>
<path color="#fcb819" d="M578.9 101.1l4.5 1.9 1.9-3-4.5-2z"/>
<path color="#fcb419" d="M583.4 103l4.5 1.8 2-3-4.6-1.8z"/>
<path color="#fcb018" d="M587.9 104.8l4.6 1.8 1.9-3-4.5-1.8z"/>
<path color="#fcab18" d="M592.5 106.6l9.3 3.4 1.8-2.9-9.2-3.5z"/>
<path color="#fca818" d="M601.8 110l4.7 1.7 1.8-2.9-4.7-1.7z"/>
<path color="#fc9916" d="M465 20.9l3.3 1 2.5-2.1-3.3-0.9z"/>
<path color="#fc9e17" d="M468.3 21.9l1.6 0.4 2.5-2.1-1.6-0.4z"/>
<path color="#fcac18" d="M469.9 22.3l1.7 0.6 2.5-2.1-1.7-0.6z"/>
<path color="#fcb619" d="M471.6 22.9l8.3 3.4 2.5-2.2-8.3-3.3z"/>
<path color="#fdba19" d="M479.9 26.3l1.7 0.6 2.4-2.1-1.6-0.7z"/>
<path color="#fdc31a" d="M481.6 26.9l4.2 1.9 2.4-2.2-4.2-1.8z"/>
<path color="#fed31c" d="M485.8 28.8l4.2 2.3 2.5-2.3-4.3-2.2z"/>
<path color="#ffe41c" d="M490 31.1l4.3 3.1 2.4-2.6-4.2-2.8z"/>
<path color="#ffea20" d="M494.3 34.2l4.3 3.9 4.4 4.8 2.3-3.4-4.3-4.3-4.3-3.6z"/>
<path color="#ffeb21" d="M503 42.9l4.3 5.2 12.8 16.3 4.3 5 4.3 4.5 2.2-4-4.2-4.7-4.3-4.9-12.8-15.9-4.3-4.9z"/>
<path color="#ffe91e" d="M528.7 73.9l4.3 4.2 4.3 3.7 2.1-3.9-4.2-3.8-4.3-4.2z"/>
<path color="#ffe51d" d="M537.3 81.8l4.3 3.4 4.3 3 2.1-3.6-4.3-3.2-4.3-3.5z"/>
<path color="#ffdf1c" d="M545.9 88.2l4.3 2.8 2.1-3.5-4.3-2.9z"/>
<path color="#fed91c" d="M550.2 91l4.4 2.6 2.1-3.4-4.4-2.7z"/>
<path color="#fed21b" d="M554.6 93.6l4.4 2.3 2.1-3.2-4.4-2.5z"/>
<path color="#fdcc1b" d="M559 95.9l4.4 2.3 2.1-3.3-4.4-2.2z"/>
<path color="#fdc61a" d="M563.4 98.2l4.5 2.1 2-3.2-4.4-2.2z"/>
<path color="#fdc01a" d="M567.9 100.3l4.5 1.9 2-3.1-4.5-2z"/>
<path color="#fdba19" d="M572.4 102.2l4.5 1.9 2-3-4.5-2z"/>
<path color="#fcb519" d="M576.9 104.1l4.5 1.9 2-3-4.5-1.9z"/>
<path color="#fcb118" d="M581.4 106l4.6 1.8 1.9-3-4.5-1.8z"/>
<path color="#fcab18" d="M586 107.8l9.3 3.4 1.8-2.9-9.2-3.5z"/>
<path color="#fca717" d="M595.3 111.2l9.3 3.4 1.9-2.9-9.4-3.4z"/>
<path color="#fc9916" d="M462.5 23l3.2 1 2.6-2.1-3.3-1z"/>
<path color="#fc9e17" d="M465.7 24l1.7 0.4 2.5-2.1-1.6-0.4z"/>
<path color="#fcac18" d="M467.4 24.4l1.7 0.6 2.5-2.1-1.7-0.6z"/>
<path color="#fcb619" d="M469.1 25l6.6 2.7 2.5-2.1-6.6-2.7z"/>
<path color="#fcb719" d="M475.7 27.7l1.7 0.7 2.5-2.1-1.7-0.7z"/>
<path color="#fdbb19" d="M477.4 28.4l1.7 0.7 2.5-2.2-1.7-0.6z"/>
<path color="#fdc71a" d="M479.1 29.1l4.2 2 2.5-2.3-4.2-1.9z"/>
<path color="#fed81c" d="M483.3 31.1l4.3 2.5 2.4-2.5-4.2-2.3z"/>
<path color="#ffe61d" d="M487.6 33.6l4.3 3.4 2.4-2.8-4.3-3.1z"/>
<path color="#ffea20" d="M491.9 37l4.4 4.3 4.3 5.1 13 17 4.3 5.3 4.3 4.9 4.3 4.4 4.3 4.1 4.3 3.5 2.2-3.8-4.3-3.7-4.3-4.2-4.3-4.5-4.3-5-12.8-16.3-4.3-5.2-4.4-4.8-4.3-3.9z"/>
<path color="#ffe41c" d="M535.1 85.6l4.3 3.3 4.3 2.9 2.2-3.6-4.3-3-4.3-3.4z"/>
<path color="#fedc1c" d="M543.7 91.8l4.4 2.7 2.1-3.5-4.3-2.8z"/>
<path color="#fed51c" d="M548.1 94.5l4.4 2.4 2.1-3.3-4.4-2.6z"/>
<path color="#fece1b" d="M552.5 96.9l4.4 2.3 2.1-3.3-4.4-2.3z"/>
<path color="#fdc81a" d="M556.9 99.2l4.5 2.2 2-3.2-4.4-2.3z"/>
<path color="#fdc21a" d="M561.4 101.4l4.4 2 2.1-3.1-4.5-2.1z"/>
<path color="#fdbb19" d="M565.8 103.4l4.5 1.9 2.1-3.1-4.5-1.9z"/>
<path color="#fcb619" d="M570.3 105.3l4.6 1.9 2-3.1-4.5-1.9z"/>
<path color="#fcb118" d="M574.9 107.2l4.5 1.8 2-3-4.5-1.9z"/>
<path color="#fcac18" d="M579.4 109l9.3 3.5 1.9-3-9.2-3.5z"/>
<path color="#fca717" d="M588.7 112.5l9.3 3.3 1.9-2.9-9.3-3.4z"/>
<path color="#fca517" d="M598 115.8l4.8 1.7 1.8-2.9-4.7-1.7z"/>
<path color="#fc9916" d="M459.9 25.2l3.3 0.9 2.5-2.1-3.2-1z"/>
<path color="#fc9e17" d="M463.2 26.1l1.6 0.4 2.6-2.1-1.7-0.4z"/>
<path color="#fcac18" d="M464.8 26.5l1.7 0.7 2.6-2.2-1.7-0.6z"/>
<path color="#fcb619" d="M466.5 27.2l6.7 2.7 2.5-2.2-6.6-2.7z"/>
<path color="#fdb919" d="M473.2 29.9l1.7 0.7 2.5-2.2-1.7-0.7z"/>
<path color="#fdbe19" d="M474.9 30.6l1.7 0.7 2.5-2.2-1.7-0.7z"/>
<path color="#fdcb1b" d="M476.6 31.3l4.3 2.1 2.4-2.3-4.2-2z"/>
<path color="#ffde1c" d="M480.9 33.4l4.3 2.8 2.4-2.6-4.3-2.5z"/>
<path color="#ffe81e" d="M485.2 36.2l4.3 3.7 2.4-2.9-4.3-3.4z"/>
<path color="#ffea21" d="M489.5 39.9l4.4 4.8 4.3 5.5 13.1 17.5 4.3 5.3 4.3 4.8 4.3 4.4 2.3-4.2-4.3-4.4-4.3-4.9-4.3-5.3-13-17-4.3-5.1-4.4-4.3z"/>
<path color="#ffe71d" d="M524.2 82.2l4.3 3.8 4.4 3.5 2.2-3.9-4.3-3.5-4.3-4.1z"/>
<path color="#ffe41c" d="M532.9 89.5l4.3 3.1 2.2-3.7-4.3-3.3z"/>
<path color="#ffdf1c" d="M537.2 92.6l4.4 2.8 2.1-3.6-4.3-2.9z"/>
<path color="#fed81c" d="M541.6 95.4l4.4 2.5 2.1-3.4-4.4-2.7z"/>
<path color="#fed11b" d="M546 97.9l4.4 2.4 2.1-3.4-4.4-2.4z"/>
<path color="#fdca1b" d="M550.4 100.3l4.4 2.2 2.1-3.3-4.4-2.3z"/>
<path color="#fdc41a" d="M554.8 102.5l4.5 2 2.1-3.1-4.5-2.2z"/>
<path color="#fdbd19" d="M559.3 104.5l4.5 2 2-3.1-4.4-2z"/>
<path color="#fcb719" d="M563.8 106.5l4.5 1.9 2-3.1-4.5-1.9z"/>
<path color="#fcb218" d="M568.3 108.4l4.6 1.8 2-3-4.6-1.9z"/>
<path color="#fcae18" d="M572.9 110.2l4.6 1.8 1.9-3-4.5-1.8z"/>
<path color="#fcaa18" d="M577.5 112l9.2 3.4 2-2.9-9.3-3.5z"/>
<path color="#fca517" d="M586.7 115.4l9.4 3.4 1.9-3-9.3-3.3z"/>
<path color="#fca317" d="M596.1 118.8l4.8 1.6 1.9-2.9-4.8-1.7z"/>
<path color="#fc9916" d="M457.3 27.3l3.3 0.9 2.6-2.1-3.3-0.9z"/>
<path color="#fc9e17" d="M460.6 28.2l1.7 0.5 2.5-2.2-1.6-0.4z"/>
<path color="#fcac18" d="M462.3 28.7l1.6 0.6 2.6-2.1-1.7-0.7z"/>
<path color="#fcb619" d="M463.9 29.3l6.8 2.8 2.5-2.2-6.7-2.7z"/>
<path color="#fdba19" d="M470.7 32.1l1.7 0.7 2.5-2.2-1.7-0.7z"/>
<path color="#fdc11a" d="M472.4 32.8l1.7 0.7 2.5-2.2-1.7-0.7z"/>
<path color="#fecf1b" d="M474.1 33.5l4.3 2.3 2.5-2.4-4.3-2.1z"/>
<path color="#ffe31c" d="M478.4 35.8l4.3 3.1 2.5-2.7-4.3-2.8z"/>
<path color="#ffe91f" d="M482.7 38.9l4.4 4.1 2.4-3.1-4.3-3.7z"/>
<path color="#ffea21" d="M487.1 43l4.4 5.3 4.4 5.9 8.7 12.3 4.4 5.7 4.3 5.2 4.3 4.7 2.3-4.3-4.3-4.8-4.3-5.3-13.1-17.5-4.3-5.5-4.4-4.8z"/>
<path color="#ffe81e" d="M517.6 82.1l4.4 4.2 4.3 3.7 2.2-4-4.3-3.8-4.3-4.4z"/>
<path color="#ffe51d" d="M526.3 90l4.3 3.3 2.3-3.8-4.4-3.5z"/>
<path color="#ffe21c" d="M530.6 93.3l4.4 2.9 2.2-3.6-4.3-3.1z"/>
<path color="#fedb1c" d="M535 96.2l4.4 2.7 2.2-3.5-4.4-2.8z"/>
<path color="#fed31c" d="M539.4 98.9l4.4 2.4 2.2-3.4-4.4-2.5z"/>
<path color="#fdcc1b" d="M543.8 101.3l4.4 2.3 2.2-3.3-4.4-2.4z"/>
<path color="#fdc61a" d="M548.2 103.6l4.5 2.1 2.1-3.2-4.4-2.2z"/>
<path color="#fdbf1a" d="M552.7 105.7l4.5 2 2.1-3.2-4.5-2z"/>
<path color="#fdb919" d="M557.2 107.7l4.5 1.9 2.1-3.1-4.5-2z"/>
<path color="#fcb319" d="M561.7 109.6l4.5 1.8 2.1-3-4.5-1.9z"/>
<path color="#fcaf18" d="M566.2 111.4l4.6 1.8 2.1-3-4.6-1.8z"/>
<path color="#fcaa18" d="M570.8 113.2l9.3 3.5 2-3-9.2-3.5z"/>
<path color="#fca517" d="M580.1 116.7l9.4 3.4 1.9-3-9.3-3.4z"/>
<path color="#fca217" d="M589.5 120.1l9.5 3.3 1.9-3-9.5-3.3z"/>
<path color="#fc9916" d="M454.7 29.5l3.3 0.9 2.6-2.2-3.3-0.9z"/>
<path color="#fc9e17" d="M458 30.4l1.7 0.5 2.6-2.2-1.7-0.5z"/>
<path color="#fcac18" d="M459.7 30.9l1.6 0.6 2.6-2.2-1.6-0.6z"/>
<path color="#fcb619" d="M461.3 31.5l5.1 2.1 2.6-2.2-5.1-2.1z"/>
<path color="#fcb819" d="M466.4 33.6l1.7 0.7 2.6-2.2-1.7-0.7z"/>
<path color="#fdbc19" d="M468.1 34.3l1.7 0.7 2.6-2.2-1.7-0.7z"/>
<path color="#fdc51a" d="M469.8 35l1.7 0.8 2.6-2.3-1.7-0.7z"/>
<path color="#fed51c" d="M471.5 35.8l4.3 2.4 2.6-2.4-4.3-2.3z"/>
<path color="#ffe51d" d="M475.8 38.2l4.4 3.5 2.5-2.8-4.3-3.1z"/>
<path color="#ffea20" d="M480.2 41.7l4.4 4.7 4.4 5.7 13.3 18.9 4.3 5.7 4.4 5.2 4.3 4.5 4.4 4 2.3-4.1-4.4-4.2-4.3-4.7-4.3-5.2-4.4-5.7-8.7-12.3-4.4-5.9-4.4-5.3-4.4-4.1z"/>
<path color="#ffe51d" d="M519.7 90.4l4.3 3.5 4.4 3.1 2.2-3.7-4.3-3.3-4.3-3.7z"/>
<path color="#ffde1c" d="M528.4 97l4.4 2.8 2.2-3.6-4.4-2.9z"/>
<path color="#fed61c" d="M532.8 99.8l4.4 2.5 2.2-3.4-4.4-2.7z"/>
<path color="#fecf1b" d="M537.2 102.3l4.4 2.4 2.2-3.4-4.4-2.4z"/>
<path color="#fdc81a" d="M541.6 104.7l4.5 2.1 2.1-3.2-4.4-2.3z"/>
<path color="#fdc11a" d="M546.1 106.8l4.4 2.1 2.2-3.2-4.5-2.1z"/>
<path color="#fdba19" d="M550.5 108.9l4.6 1.9 2.1-3.1-4.5-2z"/>
<path color="#fcb419" d="M555.1 110.8l4.5 1.9 2.1-3.1-4.5-1.9z"/>
<path color="#fcaf18" d="M559.6 112.7l4.6 1.8 2-3.1-4.5-1.8z"/>
<path color="#fcaa18" d="M564.2 114.5l9.2 3.5 2-3-9.2-3.6z"/>
<path color="#fca517" d="M573.4 118l9.4 3.4 2-3-9.4-3.4z"/>
<path color="#fca117" d="M582.8 121.4l14.3 5 1.9-3-14.2-5z"/>
<path color="#fc9916" d="M452 31.6l3.3 1 2.7-2.2-3.3-0.9z"/>
<path color="#fc9e17" d="M455.3 32.6l1.7 0.5 2.7-2.2-1.7-0.5z"/>
<path color="#fcac18" d="M457 33.1l1.7 0.6 2.6-2.2-1.6-0.6z"/>
<path color="#fcb619" d="M458.7 33.7l5.1 2.1 2.6-2.2-5.1-2.1z"/>
<path color="#fdba19" d="M463.8 35.8l1.7 0.8 2.6-2.3-1.7-0.7z"/>
<path color="#fdbf1a" d="M465.5 36.6l1.7 0.7 2.6-2.3-1.7-0.7z"/>
<path color="#fdc91b" d="M467.2 37.3l1.7 0.9 2.6-2.4-1.7-0.8z"/>
<path color="#fedb1c" d="M468.9 38.2l4.4 2.6 2.5-2.6-4.3-2.4z"/>
<path color="#ffe81e" d="M473.3 40.8l4.4 3.9 2.5-3-4.4-3.5z"/>
<path color="#ffea20" d="M477.7 44.7l4.4 5.3 4.5 6.2 8.9 13.3 4.4 6.3 4.4 5.6 4.4 4.9 2.3-4.4-4.4-5.2-4.3-5.7-13.3-18.9-4.4-5.7-4.4-4.7z"/>
<path color="#ffe81e" d="M508.7 86.3l4.3 4.4 4.4 3.7 2.3-4-4.4-4-4.3-4.5z"/>
<path color="#ffe51d" d="M517.4 94.4l4.3 3.4 2.3-3.9-4.3-3.5z"/>
<path color="#ffe11c" d="M521.7 97.8l4.4 2.9 2.3-3.7-4.4-3.1z"/>
<path color="#fed91c" d="M526.1 100.7l4.4 2.6 2.3-3.5-4.4-2.8z"/>
<path color="#fed11b" d="M530.5 103.3l4.5 2.5 2.2-3.5-4.4-2.5z"/>
<path color="#fdca1b" d="M535 105.8l4.4 2.2 2.2-3.3-4.4-2.4z"/>
<path color="#fdc31a" d="M539.4 108l4.5 2.1 2.2-3.3-4.5-2.1z"/>
<path color="#fdbc19" d="M543.9 110.1l4.5 1.9 2.1-3.1-4.4-2.1z"/>
<path color="#fcb519" d="M548.4 112l4.5 1.9 2.2-3.1-4.6-1.9z"/>
<path color="#fcb018" d="M552.9 113.9l4.6 1.8 2.1-3-4.5-1.9z"/>
<path color="#fcac18" d="M557.5 115.7l4.6 1.8 2.1-3-4.6-1.8z"/>
<path color="#fca817" d="M562.1 117.5l9.3 3.5 2-3-9.2-3.5z"/>
<path color="#fca317" d="M571.4 121l9.4 3.3 2-2.9-9.4-3.4z"/>
<path color="#fca017" d="M580.8 124.3l14.3 5 2-2.9-14.3-5z"/>
<path color="#fc9916" d="M449.3 33.9l3.4 0.9 2.6-2.2-3.3-1z"/>
<path color="#fc9e17" d="M452.7 34.8l1.7 0.5 2.6-2.2-1.7-0.5z"/>
<path color="#fcac18" d="M454.4 35.3l1.6 0.7 2.7-2.3-1.7-0.6z"/>
<path color="#fcb619" d="M456 36l3.4 1.4 2.7-2.3-3.4-1.4z"/>
<path color="#fcb819" d="M459.4 37.4l1.8 0.7 2.6-2.3-1.7-0.7z"/>
<path color="#fdbc19" d="M461.2 38.1l1.7 0.7 2.6-2.2-1.7-0.8z"/>
<path color="#fdc31a" d="M462.9 38.8l1.7 0.8 2.6-2.3-1.7-0.7z"/>
<path color="#fecf1b" d="M464.6 39.6l1.7 0.9 2.6-2.3-1.7-0.9z"/>
<path color="#ffe11c" d="M466.3 40.5l4.4 3 2.6-2.7-4.4-2.6z"/>
<path color="#ffe91f" d="M470.7 43.5l4.4 4.5 2.6-3.3-4.4-3.9z"/>
<path color="#ffea20" d="M475.1 48l4.5 5.8 4.6 6.8 8.9 13.8 4.4 6.2 4.4 5.4 2.4-4.6-4.4-5.6-4.4-6.3-8.9-13.3-4.5-6.2-4.4-5.3z"/>
<path color="#ffe91e" d="M501.9 86l4.4 4.8 4.4 4.1 2.3-4.2-4.3-4.4-4.4-4.9z"/>
<path color="#ffe51d" d="M510.7 94.9l4.4 3.6 4.4 3.1 2.2-3.8-4.3-3.4-4.4-3.7z"/>
<path color="#fedc1c" d="M519.5 101.6l4.3 2.7 2.3-3.6-4.4-2.9z"/>
<path color="#fed41c" d="M523.8 104.3l4.5 2.5 2.2-3.5-4.4-2.6z"/>
<path color="#fdcc1b" d="M528.3 106.8l4.4 2.3 2.3-3.3-4.5-2.5z"/>
<path color="#fdc51a" d="M532.7 109.1l4.5 2.2 2.2-3.3-4.4-2.2z"/>
<path color="#fdbd19" d="M537.2 111.3l4.5 2 2.2-3.2-4.5-2.1z"/>
<path color="#fcb719" d="M541.7 113.3l4.5 1.9 2.2-3.2-4.5-1.9z"/>
<path color="#fcb118" d="M546.2 115.2l4.6 1.8 2.1-3.1-4.5-1.9z"/>
<path color="#fcac18" d="M550.8 117l4.5 1.8 2.2-3.1-4.6-1.8z"/>
<path color="#fca817" d="M555.3 118.8l9.3 3.5 2.1-3-9.2-3.6z"/>
<path color="#fca317" d="M564.6 122.3l9.4 3.4 2-3-9.3-3.4z"/>
<path color="#fc9f17" d="M574 125.7l19.2 6.7 1.9-3.1-19.1-6.6z"/>
<path color="#fc9916" d="M446.6 36.1l3.4 1 2.7-2.3-3.4-0.9z"/>
<path color="#fc9e17" d="M450 37.1l1.7 0.5 2.7-2.3-1.7-0.5z"/>
<path color="#fcac18" d="M451.7 37.6l1.7 0.6 2.6-2.2-1.6-0.7z"/>
<path color="#fcb619" d="M453.4 38.2l3.4 1.5 2.6-2.3-3.4-1.4z"/>
<path color="#fdb919" d="M456.8 39.7l1.7 0.7 2.7-2.3-1.8-0.7z"/>
<path color="#fdbf1a" d="M458.5 40.4l1.7 0.8 2.7-2.4-1.7-0.7z"/>
<path color="#fdc81a" d="M460.2 41.2l1.7 0.8 2.7-2.4-1.7-0.8z"/>
<path color="#fed51c" d="M461.9 42l1.8 1 2.6-2.5-1.7-0.9z"/>
<path color="#ffe51d" d="M463.7 43l4.4 3.4 2.6-2.9-4.4-3z"/>
<path color="#ffe91f" d="M468.1 46.4l4.5 5.1 4.5 6.5 9.1 14.6 4.5 6.8 4.5 6.1 4.4 5.2 4.4 4.5 4.3 3.9 2.4-4.2-4.4-4.1-4.4-4.8-4.4-5.4-4.4-6.2-13.5-20.6-4.5-5.8-4.4-4.5z"/>
<path color="#ffe51d" d="M508.3 99.1l4.4 3.3 2.4-3.9-4.4-3.6z"/>
<path color="#ffe01c" d="M512.7 102.4l4.4 2.9 2.4-3.7-4.4-3.1z"/>
<path color="#fed71c" d="M517.1 105.3l4.5 2.6 2.2-3.6-4.3-2.7z"/>
<path color="#fecf1b" d="M521.6 107.9l4.4 2.4 2.3-3.5-4.5-2.5z"/>
<path color="#fdc71a" d="M526 110.3l4.4 2.2 2.3-3.4-4.4-2.3z"/>
<path color="#fdbf1a" d="M530.4 112.5l4.5 2 2.3-3.2-4.5-2.2z"/>
<path color="#fcb819" d="M534.9 114.5l4.6 1.9 2.2-3.1-4.5-2z"/>
<path color="#fcb218" d="M539.5 116.4l4.5 1.9 2.2-3.1-4.5-1.9z"/>
<path color="#fcad18" d="M544 118.3l4.6 1.8 2.2-3.1-4.6-1.8z"/>
<path color="#fca818" d="M548.6 120.1l9.2 3.5 2.2-3-9.2-3.6z"/>
<path color="#fca317" d="M557.8 123.6l9.4 3.4 2.1-3-9.3-3.4z"/>
<path color="#fca017" d="M567.2 127l14.3 5 2-3-14.2-5z"/>
<path color="#fc9e16" d="M581.5 132l9.7 3.4 2-3-9.7-3.4z"/>
<path color="#fc9916" d="M443.9 38.4l3.3 1 2.8-2.3-3.4-1z"/>
<path color="#fc9e17" d="M447.2 39.4l1.7 0.5 2.8-2.3-1.7-0.5z"/>
<path color="#fcac18" d="M448.9 39.9l1.7 0.6 2.8-2.3-1.7-0.6z"/>
<path color="#fcb619" d="M450.6 40.5l3.5 1.5 2.7-2.3-3.4-1.5z"/>
<path color="#fdbb19" d="M454.1 42l1.7 0.7 2.7-2.3-1.7-0.7z"/>
<path color="#fdc31a" d="M455.8 42.7l1.7 0.8 2.7-2.3-1.7-0.8z"/>
<path color="#fece1b" d="M457.5 43.5l1.8 1 2.6-2.5-1.7-0.8z"/>
<path color="#fedd1c" d="M459.3 44.5l1.7 1.1 2.7-2.6-1.8-1z"/>
<path color="#ffe81e" d="M461 45.6l4.5 3.9 2.6-3.1-4.4-3.4z"/>
<path color="#ffea20" d="M465.5 49.5l4.5 5.8 4.6 7.2 9.2 15.2 4.5 6.8 4.5 5.9 2.4-4.9-4.5-6.1-4.5-6.8-9.1-14.6-4.5-6.5-4.5-5.1z"/>
<path color="#ffe81e" d="M492.8 90.4l4.4 5 4.4 4.2 2.4-4.4-4.4-4.5-4.4-5.2z"/>
<path color="#ffe41c" d="M501.6 99.6l4.4 3.6 4.4 3.1 2.3-3.9-4.4-3.3-4.3-3.9z"/>
<path color="#fedb1c" d="M510.4 106.3l4.4 2.7 2.3-3.7-4.4-2.9z"/>
<path color="#fed21b" d="M514.8 109l4.4 2.4 2.4-3.5-4.5-2.6z"/>
<path color="#fdc91b" d="M519.2 111.4l4.5 2.3 2.3-3.4-4.4-2.4z"/>
<path color="#fdc11a" d="M523.7 113.7l4.5 2 2.2-3.2-4.4-2.2z"/>
<path color="#fdb919" d="M528.2 115.7l4.5 2 2.2-3.2-4.5-2z"/>
<path color="#fcb319" d="M532.7 117.7l4.5 1.9 2.3-3.2-4.6-1.9z"/>
<path color="#fcad18" d="M537.2 119.6l4.6 1.8 2.2-3.1-4.5-1.9z"/>
<path color="#fca818" d="M541.8 121.4l9.2 3.5 2.2-3-9.2-3.6z"/>
<path color="#fca317" d="M551 124.9l9.3 3.4 2.2-3-9.3-3.4z"/>
<path color="#fca017" d="M560.3 128.3l14.3 5.1 2.1-3.1-14.2-5z"/>
<path color="#fc9d16" d="M574.6 133.4l14.6 5 2-3-14.5-5.1z"/>
<path color="#fc9916" d="M441.1 40.7l3.4 1 2.7-2.3-3.3-1z"/>
<path color="#fc9e17" d="M444.5 41.7l1.7 0.5 2.7-2.3-1.7-0.5z"/>
<path color="#fcac18" d="M446.2 42.2l1.7 0.7 2.7-2.4-1.7-0.6z"/>
<path color="#fcb519" d="M447.9 42.9l1.7 0.7 2.7-2.3-1.7-0.8z"/>
<path color="#fdb919" d="M449.6 43.6l1.7 0.7 2.8-2.3-1.8-0.7z"/>
<path color="#fdbe1a" d="M451.3 44.3l1.7 0.8 2.8-2.4-1.7-0.7z"/>
<path color="#fdc81a" d="M453 45.1l1.8 0.9 2.7-2.5-1.7-0.8z"/>
<path color="#fed61c" d="M454.8 46l1.7 1 2.8-2.5-1.8-1z"/>
<path color="#ffe41c" d="M456.5 47l1.8 1.3 2.7-2.7-1.7-1.1z"/>
<path color="#ffe91f" d="M458.3 48.3l4.5 4.6 4.7 6.6 9.3 16.1 4.6 7.5 4.5 6.6 4.4 5.6 4.5 4.6 4.4 3.9 2.4-4.2-4.4-4.2-4.4-5-4.5-5.9-4.5-6.8-9.2-15.2-4.6-7.2-4.5-5.8-4.5-3.9z"/>
<path color="#ffe41c" d="M499.2 103.8l4.4 3.4 2.4-4-4.4-3.6z"/>
<path color="#ffde1c" d="M503.6 107.2l4.4 2.8 2.4-3.7-4.4-3.1z"/>
<path color="#fed51c" d="M508 110l4.4 2.6 2.4-3.6-4.4-2.7z"/>
<path color="#fdcc1b" d="M512.4 112.6l4.5 2.3 2.3-3.5-4.4-2.4z"/>
<path color="#fdc31a" d="M516.9 114.9l4.5 2.1 2.3-3.3-4.5-2.3z"/>
<path color="#fdbb19" d="M521.4 117l4.5 2 2.3-3.3-4.5-2z"/>
<path color="#fcb419" d="M525.9 119l4.5 1.9 2.3-3.2-4.5-2z"/>
<path color="#fcae18" d="M530.4 120.9l4.5 1.8 2.3-3.1-4.5-1.9z"/>
<path color="#fcaa18" d="M534.9 122.7l4.6 1.8 2.3-3.1-4.6-1.8z"/>
<path color="#fca617" d="M539.5 124.5l9.3 3.5 2.2-3.1-9.2-3.5z"/>
<path color="#fca117" d="M548.8 128l14.1 5 2.2-3-14.1-5.1z"/>
<path color="#fc9d16" d="M562.9 133l24.2 8.5 2.1-3.1-24.1-8.4z"/>
<path color="#fc9916" d="M438.3 43l3.4 1 2.8-2.3-3.4-1z"/>
<path color="#fc9e17" d="M441.7 44l1.7 0.5 2.8-2.3-1.7-0.5z"/>
<path color="#fcac18" d="M443.4 44.5l1.7 0.7 2.8-2.3-1.7-0.7z"/>
<path color="#fcb519" d="M445.1 45.2l1.7 0.7 2.8-2.3-1.7-0.7z"/>
<path color="#fdbb19" d="M446.8 45.9l1.7 0.8 2.8-2.4-1.7-0.7z"/>
<path color="#fdc31a" d="M448.5 46.7l1.8 0.8 2.7-2.4-1.7-0.8z"/>
<path color="#fecf1b" d="M450.3 47.5l1.7 1 2.8-2.5-1.8-0.9z"/>
<path color="#ffde1c" d="M452 48.5l1.8 1.2 2.7-2.7-1.7-1z"/>
<path color="#ffe71d" d="M453.8 49.7l1.8 1.5 2.7-2.9-1.8-1.3z"/>
<path color="#ffe91f" d="M455.6 51.2l4.6 5.4 4.7 7.6 9.4 16.9 4.6 7.5 4.5 6.3 4.5 5.2 4.4 4.3 2.5-4.5-4.5-4.6-4.4-5.6-4.5-6.6-4.6-7.5-9.3-16.1-4.7-6.6-4.5-4.6z"/>
<path color="#ffe51d" d="M492.3 104.4l4.5 3.6 2.4-4.2-4.4-3.9z"/>
<path color="#ffe11c" d="M496.8 108l4.4 3.1 2.4-3.9-4.4-3.4z"/>
<path color="#fed81c" d="M501.2 111.1l4.4 2.6 2.4-3.7-4.4-2.8z"/>
<path color="#fece1b" d="M505.6 113.7l4.5 2.4 2.3-3.5-4.4-2.6z"/>
<path color="#fdc51a" d="M510.1 116.1l4.4 2.1 2.4-3.3-4.5-2.3z"/>
<path color="#fdbc19" d="M514.5 118.2l4.5 2.1 2.4-3.3-4.5-2.1z"/>
<path color="#fcb519" d="M519 120.3l4.5 1.9 2.4-3.2-4.5-2z"/>
<path color="#fcaf18" d="M523.5 122.2l4.6 1.8 2.3-3.1-4.5-1.9z"/>
<path color="#fcaa18" d="M528.1 124l4.5 1.8 2.3-3.1-4.5-1.8z"/>
<path color="#fca517" d="M532.6 125.8l9.3 3.5 2.2-3.1-9.2-3.5z"/>
<path color="#fca117" d="M541.9 129.3l14.1 5.1 2.2-3-14.1-5.2z"/>
<path color="#fc9d16" d="M556 134.4l29.1 10.2 2-3.1-28.9-10.1z"/>
<path color="#fc9916" d="M435.4 45.3l3.4 1.1 2.9-2.4-3.4-1z"/>
<path color="#fc9f17" d="M438.8 46.4l1.7 0.5 2.9-2.4-1.7-0.5z"/>
<path color="#fcac18" d="M440.5 46.9l1.8 0.7 2.8-2.4-1.7-0.7z"/>
<path color="#fcb619" d="M442.3 47.6l1.7 0.7 2.8-2.4-1.7-0.7z"/>
<path color="#fdbe19" d="M444 48.3l1.7 0.8 2.8-2.4-1.7-0.8z"/>
<path color="#fdc91a" d="M445.7 49.1l1.8 0.9 2.8-2.5-1.8-0.8z"/>
<path color="#fed81c" d="M447.5 50l1.8 1.1 2.7-2.6-1.7-1z"/>
<path color="#ffe51d" d="M449.3 51.1l1.8 1.4 2.7-2.8-1.8-1.2z"/>
<path color="#ffe91e" d="M451.1 52.5l1.8 1.8 4.7 6.5 4.8 8.5 4.8 9.1 4.7 8.5 4.6 7.2 4.5 6 4.5 4.8 2.4-4.8-4.5-5.2-4.5-6.3-4.6-7.5-9.4-16.9-4.7-7.6-4.6-5.4-1.8-1.5z"/>
<path color="#ffe51d" d="M485.5 104.9l4.4 3.9 4.4 3.2 2.5-4-4.5-3.6-4.4-4.3z"/>
<path color="#fedb1c" d="M494.3 112l4.5 2.8 2.4-3.7-4.4-3.1z"/>
<path color="#fed11b" d="M498.8 114.8l4.4 2.5 2.4-3.6-4.4-2.6z"/>
<path color="#fdc81a" d="M503.2 117.3l4.5 2.2 2.4-3.4-4.5-2.4z"/>
<path color="#fdbe19" d="M507.7 119.5l4.4 2.1 2.4-3.4-4.4-2.1z"/>
<path color="#fcb619" d="M512.1 121.6l4.5 1.9 2.4-3.2-4.5-2.1z"/>
<path color="#fcaf18" d="M516.6 123.5l4.6 1.9 2.3-3.2-4.5-1.9z"/>
<path color="#fcaa18" d="M521.2 125.4l4.5 1.8 2.4-3.2-4.6-1.8z"/>
<path color="#fca517" d="M525.7 127.2l9.3 3.4 2.3-3-9.2-3.6z"/>
<path color="#fca017" d="M535 130.6l14 5.2 2.3-3.1-14-5.1z"/>
<path color="#fc9c16" d="M549 135.8l29 10.2 2.2-3.1-28.9-10.2z"/>
<path color="#fc9b16" d="M578 146l5 1.7 2.1-3.1-4.9-1.7z"/>
<path color="#fc9916" d="M432.5 47.7l3.5 1 2.8-2.3-3.4-1.1z"/>
<path color="#fc9f17" d="M436 48.7l1.7 0.6 2.8-2.4-1.7-0.5z"/>
<path color="#fcac18" d="M437.7 49.3l1.7 0.7 2.9-2.4-1.8-0.7z"/>
<path color="#fcb819" d="M439.4 50l1.7 0.7 2.9-2.4-1.7-0.7z"/>
<path color="#fdc21a" d="M441.1 50.7l1.8 0.9 2.8-2.5-1.7-0.8z"/>
<path color="#fed11b" d="M442.9 51.6l1.8 0.9 2.8-2.5-1.8-0.9z"/>
<path color="#ffe21c" d="M444.7 52.5l1.8 1.4 2.8-2.8-1.8-1.1z"/>
<path color="#ffe91e" d="M446.5 53.9l1.8 1.7 2.8-3.1-1.8-1.4z"/>
<path color="#ffea21" d="M448.3 55.6l1.9 2.2 4.8 7.7 2.6-4.7-4.7-6.5-1.8-1.8z"/>
<path color="#ffe71d" d="M455 65.5l9.7 19 4.7 8.3 4.6 6.9 4.5 5.4 4.5 4.4 2.5-4.6-4.5-4.8-4.5-6-4.6-7.2-4.7-8.5-4.8-9.1-4.8-8.5z"/>
<path color="#ffe51d" d="M483 109.5l4.4 3.5 2.5-4.2-4.4-3.9z"/>
<path color="#ffde1c" d="M487.4 113l4.5 3 2.4-4-4.4-3.2z"/>
<path color="#fed41c" d="M491.9 116l4.4 2.5 2.5-3.7-4.5-2.8z"/>
<path color="#fdca1b" d="M496.3 118.5l4.4 2.3 2.5-3.5-4.4-2.5z"/>
<path color="#fdc01a" d="M500.7 120.8l4.5 2.1 2.5-3.4-4.5-2.2z"/>
<path color="#fcb719" d="M505.2 122.9l4.5 1.9 2.4-3.2-4.4-2.1z"/>
<path color="#fcb018" d="M509.7 124.8l4.5 1.9 2.4-3.2-4.5-1.9z"/>
<path color="#fcaa18" d="M514.2 126.7l4.6 1.8 2.4-3.1-4.6-1.9z"/>
<path color="#fca517" d="M518.8 128.5l9.2 3.5 2.3-3.1-9.1-3.5z"/>
<path color="#fca117" d="M528 132l9.3 3.4 2.3-3-9.3-3.5z"/>
<path color="#fc9d16" d="M537.3 135.4l23.9 8.6 2.2-3.1-23.8-8.5z"/>
<path color="#fc9b16" d="M561.2 144l19.7 6.9 2.1-3.2-19.6-6.8z"/>
<path color="#fc9916" d="M429.6 50.1l3.4 1.1 3-2.5-3.5-1z"/>
<path color="#fc9f17" d="M433 51.2l1.8 0.5 2.9-2.4-1.7-0.6z"/>
<path color="#fcad18" d="M434.8 51.7l1.7 0.7 2.9-2.4-1.7-0.7z"/>
<path color="#fdbb19" d="M436.5 52.4l1.8 0.8 2.8-2.5-1.7-0.7z"/>
<path color="#fdc91b" d="M438.3 53.2l1.7 0.9 2.9-2.5-1.8-0.9z"/>
<path color="#fedb1c" d="M440 54.1l1.8 1.1 2.9-2.7-1.8-0.9z"/>
<path color="#ffe71d" d="M441.8 55.2l1.8 1.7 2.9-3-1.8-1.4z"/>
<path color="#ffea20" d="M443.6 56.9l1.9 2.1 1.9 2.8 5 9 2.6-5.3-4.8-7.7-1.9-2.2-1.8-1.7z"/>
<path color="#ffe61d" d="M452.4 70.8l4.9 10.3 4.9 9.7 4.7 8 4.6 6.3 4.5 4.9 4.5 3.9 2.5-4.4-4.5-4.4-4.5-5.4-4.6-6.9-4.7-8.3-9.7-19z"/>
<path color="#ffe21c" d="M480.5 113.9l4.4 3.2 2.5-4.1-4.4-3.5z"/>
<path color="#fed71c" d="M484.9 117.1l4.5 2.6 2.5-3.7-4.5-3z"/>
<path color="#fdcc1b" d="M489.4 119.7l4.4 2.4 2.5-3.6-4.4-2.5z"/>
<path color="#fdc21a" d="M493.8 122.1l4.5 2.1 2.4-3.4-4.4-2.3z"/>
<path color="#fcb819" d="M498.3 124.2l4.5 2 2.4-3.3-4.5-2.1z"/>
<path color="#fcb018" d="M502.8 126.2l4.5 1.8 2.4-3.2-4.5-1.9z"/>
<path color="#fcab18" d="M507.3 128l4.5 1.9 2.4-3.2-4.5-1.9z"/>
<path color="#fca517" d="M511.8 129.9l9.2 3.5 2.4-3.1-9.2-3.6z"/>
<path color="#fca117" d="M521 133.4l9.3 3.4 2.3-3.1-9.2-3.4z"/>
<path color="#fc9d16" d="M530.3 136.8l23.8 8.6 2.2-3.1-23.7-8.6z"/>
<path color="#fc9b16" d="M554.1 145.4l24.7 8.7 2.1-3.2-24.6-8.6z"/>
<path color="#fc9916" d="M426.7 52.5l3.4 1.1 2.9-2.4-3.4-1.1z"/>
<path color="#fc9f17" d="M430.1 53.6l1.7 0.5 3-2.4-1.8-0.5z"/>
<path color="#fcae18" d="M431.8 54.1l1.8 0.8 2.9-2.5-1.7-0.7z"/>
<path color="#fdc01a" d="M433.6 54.9l1.7 0.8 3-2.5-1.8-0.8z"/>
<path color="#fed21b" d="M435.3 55.7l1.8 1 2.9-2.6-1.7-0.9z"/>
<path color="#ffe41c" d="M437.1 56.7l1.9 1.5 2.8-3-1.8-1.1z"/>
<path color="#ffea20" d="M439 58.2l1.8 2 2 2.7 1.9 3.4 2.7-4.5-1.9-2.8-1.9-2.1-1.8-1.7z"/>
<path color="#ffe61d" d="M444.7 66.3l5.1 10.5 2.6-6-5-9z"/>
<path color="#ffe21c" d="M449.8 76.8l5 11 4.9 9.5 2.5-6.5-4.9-9.7-4.9-10.3z"/>
<path color="#ffe51d" d="M459.7 97.3l4.7 7.4 4.6 5.7 4.5 4.3 4.4 3.4 2.6-4.2-4.5-3.9-4.5-4.9-4.6-6.3-4.7-8z"/>
<path color="#fedb1c" d="M477.9 118.1l4.5 2.8 2.5-3.8-4.4-3.2z"/>
<path color="#fecf1b" d="M482.4 120.9l4.4 2.5 2.6-3.7-4.5-2.6z"/>
<path color="#fdc41a" d="M486.8 123.4l4.5 2.1 2.5-3.4-4.4-2.4z"/>
<path color="#fdb919" d="M491.3 125.5l4.5 2 2.5-3.3-4.5-2.1z"/>
<path color="#fcb118" d="M495.8 127.5l4.5 1.9 2.5-3.2-4.5-2z"/>
<path color="#fcab18" d="M500.3 129.4l4.5 1.8 2.5-3.2-4.5-1.8z"/>
<path color="#fca717" d="M504.8 131.2l4.6 1.8 2.4-3.1-4.5-1.9z"/>
<path color="#fca217" d="M509.4 133l9.2 3.5 2.4-3.1-9.2-3.5z"/>
<path color="#fc9e17" d="M518.6 136.5l14 5.1 2.4-3.1-14-5.1z"/>
<path color="#fc9b16" d="M532.6 141.6l44 15.8 2.2-3.3-43.8-15.6z"/>
<path color="#fc9916" d="M423.7 55l3.4 1.1 3-2.5-3.4-1.1z"/>
<path color="#fc9f17" d="M427.1 56.1l1.8 0.5 2.9-2.5-1.7-0.5z"/>
<path color="#fcb118" d="M428.9 56.6l1.7 0.8 3-2.5-1.8-0.8z"/>
<path color="#fdc71a" d="M430.6 57.4l1.8 0.9 2.9-2.6-1.7-0.8z"/>
<path color="#fedd1c" d="M432.4 58.3l1.8 1.2 2.9-2.8-1.8-1z"/>
<path color="#ffe91f" d="M434.2 59.5l1.9 1.9 1.9 2.6 2 3.5 2.1 4.2 2.6-5.4-1.9-3.4-2-2.7-1.8-2-1.9-1.5z"/>
<path color="#ffdf1c" d="M442.1 71.7l5.2 11.9 2.5-6.8-5.1-10.5z"/>
<path color="#fed91c" d="M447.3 83.6l5.1 11.3 2.4-7.1-5-11z"/>
<path color="#ffe01c" d="M452.4 94.9l4.8 8.9 2.5-6.5-4.9-9.5z"/>
<path color="#ffe51d" d="M457.2 103.8l4.7 6.7 4.6 4.9 4.4 3.8 2.6-4.5-4.5-4.3-4.6-5.7-4.7-7.4z"/>
<path color="#ffde1c" d="M470.9 119.2l4.5 3 2.5-4.1-4.4-3.4z"/>
<path color="#fed21b" d="M475.4 122.2l4.4 2.5 2.6-3.8-4.5-2.8z"/>
<path color="#fdc61a" d="M479.8 124.7l4.5 2.2 2.5-3.5-4.4-2.5z"/>
<path color="#fdbb19" d="M484.3 126.9l4.4 2 2.6-3.4-4.5-2.1z"/>
<path color="#fcb118" d="M488.7 128.9l4.5 1.9 2.6-3.3-4.5-2z"/>
<path color="#fcab18" d="M493.2 130.8l4.6 1.8 2.5-3.2-4.5-1.9z"/>
<path color="#fca617" d="M497.8 132.6l4.5 1.8 2.5-3.2-4.5-1.8z"/>
<path color="#fca217" d="M502.3 134.4l9.2 3.5 2.5-3.2-9.2-3.5z"/>
<path color="#fc9d16" d="M511.5 137.9l18.7 6.8 2.4-3.1-18.6-6.9z"/>
<path color="#fc9a16" d="M530.2 144.7l44.2 15.9 2.2-3.2-44-15.8z"/>
<path color="#fc9916" d="M420.7 57.5l3.4 1.1 3-2.5-3.4-1.1z"/>
<path color="#fca017" d="M424.1 58.6l1.8 0.5 3-2.5-1.8-0.5z"/>
<path color="#fcb619" d="M425.9 59.1l1.7 0.8 3-2.5-1.7-0.8z"/>
<path color="#fed11b" d="M427.6 59.9l1.8 1.1 3-2.7-1.8-0.9z"/>
<path color="#ffe51d" d="M429.4 61l1.9 1.6 2.9-3.1-1.8-1.2z"/>
<path color="#ffea1f" d="M431.3 62.6l1.9 2.5 2 3.6 2.8-4.7-1.9-2.6-1.9-1.9z"/>
<path color="#ffe61d" d="M435.2 68.7l2.1 4.4 2.7-5.6-2-3.5z"/>
<path color="#fedb1c" d="M437.3 73.1l2.2 5 2.6-6.4-2.1-4.2z"/>
<path color="#fed21b" d="M439.5 78.1l5.3 13 5.1 11 2.5-7.2-10.3-23.2z"/>
<path color="#ffdf1c" d="M449.9 102.1l4.8 8.1 2.5-6.4-4.8-8.9z"/>
<path color="#ffe51d" d="M454.7 110.2l4.7 5.8 4.5 4.2 2.6-4.8-4.6-4.9-4.7-6.7z"/>
<path color="#ffe01c" d="M463.9 120.2l4.4 3.2 2.6-4.2-4.4-3.8z"/>
<path color="#fed51c" d="M468.3 123.4l4.5 2.6 2.6-3.8-4.5-3z"/>
<path color="#fdc81a" d="M472.8 126l4.4 2.2 2.6-3.5-4.4-2.5z"/>
<path color="#fdbc19" d="M477.2 128.2l4.5 2.1 2.6-3.4-4.5-2.2z"/>
<path color="#fcb218" d="M481.7 130.3l4.5 1.9 2.5-3.3-4.4-2z"/>
<path color="#fcab18" d="M486.2 132.2l4.5 1.8 2.5-3.2-4.5-1.9z"/>
<path color="#fca617" d="M490.7 134l4.5 1.8 2.6-3.2-4.6-1.8z"/>
<path color="#fca217" d="M495.2 135.8l9.2 3.5 2.5-3.2-9.1-3.5z"/>
<path color="#fc9d16" d="M504.4 139.3l18.7 6.8 2.4-3.1-18.6-6.9z"/>
<path color="#fc9a16" d="M523.1 146.1l49.1 17.8 2.2-3.3-48.9-17.6z"/>
<path color="#fc9916" d="M417.6 60l3.5 1.1 3-2.5-3.4-1.1z"/>
<path color="#fca217" d="M421.1 61.1l1.7 0.6 3.1-2.6-1.8-0.5z"/>
<path color="#fdbe1a" d="M422.8 61.7l1.8 0.8 3-2.6-1.7-0.8z"/>
<path color="#fedd1c" d="M424.6 62.5l1.8 1.4 3-2.9-1.8-1.1z"/>
<path color="#ffe91e" d="M426.4 63.9l2 2.3 2 3.5 2.8-4.6-1.9-2.5-1.9-1.6z"/>
<path color="#ffe41c" d="M430.4 69.7l2.2 4.6 2.6-5.6-2-3.6z"/>
<path color="#fed51c" d="M432.6 74.3l2.2 5.5 2.5-6.7-2.1-4.4z"/>
<path color="#fdc61a" d="M434.8 79.8l7.6 19.3 2.4-8-7.5-18z"/>
<path color="#fed11b" d="M442.4 99.1l5.1 10.2 2.4-7.2-5.1-11z"/>
<path color="#ffe01c" d="M447.5 109.3l4.7 7 2.5-6.1-4.8-8.1z"/>
<path color="#ffe31c" d="M452.2 116.3l4.6 4.8 4.5 3.5 2.6-4.4-4.5-4.2-4.7-5.8z"/>
<path color="#fed81c" d="M461.3 124.6l4.4 2.7 2.6-3.9-4.4-3.2z"/>
<path color="#fdcb1b" d="M465.7 127.3l4.4 2.3 2.7-3.6-4.5-2.6z"/>
<path color="#fdbd19" d="M470.1 129.6l4.5 2.1 2.6-3.5-4.4-2.2z"/>
<path color="#fcb218" d="M474.6 131.7l4.5 1.9 2.6-3.3-4.5-2.1z"/>
<path color="#fcab18" d="M479.1 133.6l4.5 1.8 2.6-3.2-4.5-1.9z"/>
<path color="#fca617" d="M483.6 135.4l4.5 1.8 2.6-3.2-4.5-1.8z"/>
<path color="#fca117" d="M488.1 137.2l9.1 3.4 2.6-3.1-9.1-3.5z"/>
<path color="#fc9d16" d="M497.2 140.6l18.7 7 2.4-3.2-18.5-6.9z"/>
<path color="#fc9a16" d="M515.9 147.6l54.1 19.7 2.2-3.4-53.9-19.5z"/>
<path color="#fc9a16" d="M414.5 62.6l3.5 1.1 3.1-2.6-3.5-1.1z"/>
<path color="#fca617" d="M418 63.7l1.7 0.6 3.1-2.6-1.7-0.6z"/>
<path color="#fdca1b" d="M419.7 64.3l1.8 1 3.1-2.8-1.8-0.8z"/>
<path color="#ffe51d" d="M421.5 65.3l2 2 2.9-3.4-1.8-1.4z"/>
<path color="#ffe81e" d="M423.5 67.3l2 3.3 2.9-4.4-2-2.3z"/>
<path color="#ffe31c" d="M425.5 70.6l2.2 4.9 2.7-5.8-2-3.5z"/>
<path color="#fece1b" d="M427.7 75.5l2.3 6 2.6-7.2-2.2-4.6z"/>
<path color="#fdbb19" d="M430 81.5l2.3 6.4 2.5-8.1-2.2-5.5z"/>
<path color="#fcb218" d="M432.3 87.9l2.3 6.3 2.4-8.6-2.2-5.8z"/>
<path color="#fdbc19" d="M434.6 94.2l5.4 13.2 2.4-8.3-5.4-13.5z"/>
<path color="#fed21b" d="M440 107.4l5 8.8 2.5-6.9-5.1-10.2z"/>
<path color="#ffe21c" d="M445 116.2l4.6 5.7 4.5 3.9 2.7-4.7-4.6-4.8-4.7-7z"/>
<path color="#feda1c" d="M454.1 125.8l4.5 2.8 2.7-4-4.5-3.5z"/>
<path color="#fdcd1b" d="M458.6 128.6l4.4 2.4 2.7-3.7-4.4-2.7z"/>
<path color="#fdbf1a" d="M463 131l4.5 2.1 2.6-3.5-4.4-2.3z"/>
<path color="#fcb218" d="M467.5 133.1l4.4 1.9 2.7-3.3-4.5-2.1z"/>
<path color="#fcaa18" d="M471.9 135l4.5 1.8 2.7-3.2-4.5-1.9z"/>
<path color="#fca517" d="M476.4 136.8l4.5 1.8 2.7-3.2-4.5-1.8z"/>
<path color="#fca017" d="M480.9 138.6l9.1 3.5 2.6-3.2-9-3.5z"/>
<path color="#fc9c16" d="M490 142.1l23.3 8.6 2.6-3.1-23.3-8.7z"/>
<path color="#fc9a16" d="M513.3 150.7l54.4 20 2.3-3.4-54.1-19.7z"/>
<path color="#fc9916" d="M411.4 65.1l1.7 0.6 3.1-2.6-1.7-0.5z"/>
<path color="#fc9c16" d="M413.1 65.7l1.8 0.6 3.1-2.6-1.8-0.6z"/>
<path color="#fcaf18" d="M414.9 66.3l1.7 0.6 3.1-2.6-1.7-0.6z"/>
<path color="#fed61c" d="M416.6 66.9l1.9 1.5 3-3.1-1.8-1z"/>
<path color="#ffe51d" d="M418.5 68.4l2 3.1 3-4.2-2-2z"/>
<path color="#ffdf1c" d="M420.5 71.5l2.3 5 2.7-5.9-2-3.3z"/>
<path color="#fdc71a" d="M422.8 76.5l2.4 6.6 2.5-7.6-2.2-4.9z"/>
<path color="#fcaf18" d="M425.2 83.1l2.4 7.3 2.4-8.9-2.3-6z"/>
<path color="#fca417" d="M427.6 90.4l2.4 7 2.3-9.5-2.3-6.4z"/>
<path color="#fca717" d="M430 97.4l2.3 6.3 2.3-9.5-2.3-6.3z"/>
<path color="#fdbc19" d="M432.3 103.7l5.3 11.8 2.4-8.1-5.4-13.2z"/>
<path color="#fed61c" d="M437.6 115.5l4.8 7 2.6-6.3-5-8.8z"/>
<path color="#ffe01c" d="M442.4 122.5l4.6 4.4 2.6-5-4.6-5.7z"/>
<path color="#fedb1c" d="M447 126.9l4.4 3.1 2.7-4.2-4.5-3.9z"/>
<path color="#fecf1b" d="M451.4 130l4.5 2.4 2.7-3.8-4.5-2.8z"/>
<path color="#fdc01a" d="M455.9 132.4l4.4 2.1 2.7-3.5-4.4-2.4z"/>
<path color="#fcb318" d="M460.3 134.5l4.5 1.9 2.7-3.3-4.5-2.1z"/>
<path color="#fcaa18" d="M464.8 136.4l4.4 1.8 2.7-3.2-4.4-1.9z"/>
<path color="#fca417" d="M469.2 138.2l4.5 1.8 2.7-3.2-4.5-1.8z"/>
<path color="#fca017" d="M473.7 140l9.1 3.5 2.7-3.2-9.1-3.5z"/>
<path color="#fc9b16" d="M482.8 143.5l28 10.4 2.5-3.2-27.8-10.4z"/>
<path color="#fc9a16" d="M510.8 153.9l54.6 20.2 2.3-3.4-54.4-20z"/>
<path color="#fc9a16" d="M408.2 67.8l1.7 0.5 3.2-2.6-1.7-0.6z"/>
<path color="#fca117" d="M409.9 68.3l1.8 0.6 3.2-2.6-1.8-0.6z"/>
<path color="#fdbd19" d="M411.7 68.9l1.8 0.9 3.1-2.9-1.7-0.6z"/>
<path color="#fedb1c" d="M413.5 69.8l2 2.4 2.3 5.1 2.7-5.8-2-3.1-1.9-1.5z"/>
<path color="#fdc11a" d="M417.8 77.3l2.5 7.4 2.5-8.2-2.3-5z"/>
<path color="#fca517" d="M420.3 84.7l2.6 8.3 2.3-9.9-2.4-6.6z"/>
<path color="#fc9916" d="M422.9 93l2.5 8 2.4 6.9 2.2-10.5-4.8-14.3z"/>
<path color="#fca717" d="M427.8 107.9l2.2 5.6 2.3-9.8-2.3-6.3z"/>
<path color="#fdc41a" d="M430 113.5l5.1 9.3 2.5-7.3-5.3-11.8z"/>
<path color="#feda1c" d="M435.1 122.8l4.7 5.3 4.5 3.3 2.7-4.5-4.6-4.4-4.8-7z"/>
<path color="#fed01b" d="M444.3 131.4l4.4 2.5 2.7-3.9-4.4-3.1z"/>
<path color="#fdc11a" d="M448.7 133.9l4.4 2 2.8-3.5-4.5-2.4z"/>
<path color="#fcb218" d="M453.1 135.9l4.5 1.9 2.7-3.3-4.4-2.1z"/>
<path color="#fca918" d="M457.6 137.8l4.4 1.8 2.8-3.2-4.5-1.9z"/>
<path color="#fca417" d="M462 139.6l4.5 1.8 2.7-3.2-4.4-1.8z"/>
<path color="#fc9f17" d="M466.5 141.4l9 3.5 2.7-3.2-9-3.5z"/>
<path color="#fc9b16" d="M475.5 144.9l42.4 15.8 2.5-3.2-42.2-15.8z"/>
<path color="#fc9916" d="M517.9 160.7l45.2 16.9 2.3-3.5-45-16.6z"/>
<path color="#fc9b16" d="M405 70.4l1.7 0.6 3.2-2.7-1.7-0.5z"/>
<path color="#fca918" d="M406.7 71l1.8 0.6 3.2-2.7-1.8-0.6z"/>
<path color="#fdc91b" d="M408.5 71.6l1.9 1.5 3.1-3.3-1.8-0.9z"/>
<path color="#fed31c" d="M410.4 73.1l2.2 4.8 2.9-5.7-2-2.4z"/>
<path color="#fdbc19" d="M412.6 77.9l2.7 8.2 2.5-8.8-2.3-5.1z"/>
<path color="#fc9d16" d="M415.3 86.1l2.8 9.8 2.2-11.2-2.5-7.4z"/>
<path color="#f99115" d="M418.1 95.9l2.7 9.1 2.5 7.5 2.1-11.5-5.1-16.3z"/>
<path color="#fc9c16" d="M423.3 112.5l2.3 5.8 2.2-10.4-2.4-6.9z"/>
<path color="#fcb218" d="M425.6 118.3l2.1 4.3 2.3-9.1-2.2-5.6z"/>
<path color="#fdcd1b" d="M427.7 122.6l4.8 6.5 2.6-6.3-5.1-9.3z"/>
<path color="#fed81c" d="M432.5 129.1l4.6 3.7 2.7-4.7-4.7-5.3z"/>
<path color="#fed01b" d="M437.1 132.8l4.4 2.5 2.8-3.9-4.5-3.3z"/>
<path color="#fdc11a" d="M441.5 135.3l4.4 2.1 2.8-3.5-4.4-2.5z"/>
<path color="#fcb218" d="M445.9 137.4l4.4 1.9 2.8-3.4-4.4-2z"/>
<path color="#fca817" d="M450.3 139.3l4.5 1.8 2.8-3.3-4.5-1.9z"/>
<path color="#fca217" d="M454.8 141.1l4.4 1.7 2.8-3.2-4.4-1.8z"/>
<path color="#fc9e17" d="M459.2 142.8l9 3.5 2.8-3.2-9-3.5z"/>
<path color="#fc9a16" d="M468.2 146.3l92.5 34.8 2.4-3.5-92.1-34.5z"/>
<path color="#fc9f17" d="M401.7 73.1l1.8 0.6 3.2-2.7-1.7-0.6z"/>
<path color="#fcb419" d="M403.5 73.7l1.8 0.8 3.2-2.9-1.8-0.6z"/>
<path color="#fdc71a" d="M405.3 74.5l2.1 3.6 3-5-1.9-1.5z"/>
<path color="#fcb719" d="M407.4 78.1l2.9 9.2 2.3-9.4-2.2-4.8z"/>
<path color="#fb9816" d="M410.3 87.3l3.1 11.8 1.9-13-2.7-8.2z"/>
<path color="#f68b15" d="M413.4 99.1l2.9 10.7 2.6 8.1 1.9-12.9-5.5-18.9z"/>
<path color="#fb9716" d="M418.9 117.9l2.3 5.6 2.1-11-2.5-7.5z"/>
<path color="#fcac18" d="M421.2 123.5l2.1 3.9 2.3-9.1-2.3-5.8z"/>
<path color="#fdc61a" d="M423.3 127.4l1.9 2.7 2.5-7.5-2.1-4.3z"/>
<path color="#fed31c" d="M425.2 130.1l4.6 4.2 2.7-5.2-4.8-6.5z"/>
<path color="#fecf1b" d="M429.8 134.3l4.4 2.5 2.9-4-4.6-3.7z"/>
<path color="#fdc11a" d="M434.2 136.8l4.4 2.1 2.9-3.6-4.4-2.5z"/>
<path color="#fcb018" d="M438.6 138.9l4.4 1.8 2.9-3.3-4.4-2.1z"/>
<path color="#fca717" d="M443 140.7l4.5 1.8 2.8-3.2-4.4-1.9z"/>
<path color="#fca117" d="M447.5 142.5l4.4 1.7 2.9-3.1-4.5-1.8z"/>
<path color="#fc9d16" d="M451.9 144.2l13.5 5.2 2.8-3.1-13.4-5.2z"/>
<path color="#fc9916" d="M465.4 149.4l92.9 35.3 2.4-3.6-92.5-34.8z"/>
<path color="#fca517" d="M398.4 75.8l1.8 0.6 3.3-2.7-1.8-0.6z"/>
<path color="#fcb619" d="M400.2 76.4l1.9 2 3.2-3.9-1.8-0.8z"/>
<path color="#fcb118" d="M402.1 78.4l3 9.7 2.3-10-2.1-3.6z"/>
<path color="#fa9516" d="M405.1 88.1l3.6 15 1.6-15.8-2.9-9.2z"/>
<path color="#f48714" d="M408.7 103.1l3.2 12.7 2.7 8.3 1.7-14.3-6-22.5z"/>
<path color="#fb9616" d="M414.6 124.1l2.2 5 2.1-11.2-2.6-8.1z"/>
<path color="#fcad18" d="M416.8 129.1l2.1 3.2 2.3-8.8-2.3-5.6z"/>
<path color="#fdc51a" d="M418.9 132.3l1.8 2 2.6-6.9-2.1-3.9z"/>
<path color="#fece1b" d="M420.7 134.3l1.8 1.5 4.5 2.6 2.8-4.1-4.6-4.2-1.9-2.7z"/>
<path color="#fdbf1a" d="M427 138.4l4.3 2 2.9-3.6-4.4-2.5z"/>
<path color="#fcae18" d="M431.3 140.4l4.4 1.8 2.9-3.3-4.4-2.1z"/>
<path color="#fca517" d="M435.7 142.2l4.4 1.7 2.9-3.2-4.4-1.8z"/>
<path color="#fc9e17" d="M440.1 143.9l8.9 3.5 2.9-3.2-8.9-3.5z"/>
<path color="#fc9a16" d="M449 147.4l106.9 40.9 2.4-3.6-106.4-40.5z"/>
<path color="#fca717" d="M395.1 78.6l1.8 0.7 2.9 8.9 2.3-9.8-1.9-2-1.8-0.6z"/>
<path color="#fa9416" d="M399.8 88.2l4.4 20.5 0.9-20.6-3-9.7z"/>
<path color="#f48614" d="M404.2 108.7l3.6 14.8 2.6 7.5 1.5-15.2-3.2-12.7-3.6-15z"/>
<path color="#fb9716" d="M410.4 131l2.1 3.7 2.1-10.6-2.7-8.3z"/>
<path color="#fcae18" d="M412.5 134.7l1.9 2 2.4-7.6-2.2-5z"/>
<path color="#fdc21a" d="M414.4 136.7l1.8 1.4 2.7-5.8-2.1-3.2z"/>
<path color="#fdc91b" d="M416.2 138.1l1.7 1 2.8-4.8-1.8-2z"/>
<path color="#fdc61a" d="M417.9 139.1l1.8 0.9 2.8-4.2-1.8-1.5z"/>
<path color="#fdba19" d="M419.7 140l4.3 1.9 3-3.5-4.5-2.6z"/>
<path color="#fcab18" d="M424 141.9l4.4 1.7 2.9-3.2-4.3-2z"/>
<path color="#fca217" d="M428.4 143.6l4.4 1.8 2.9-3.2-4.4-1.8z"/>
<path color="#fc9d16" d="M432.8 145.4l8.8 3.4 3-3.1-8.9-3.5z"/>
<path color="#fc9916" d="M441.6 148.8l111.9 43.1 2.4-3.6-111.3-42.6z"/>
<path color="#fc9f17" d="M391.7 81.4l2.4 4.7 2.8-6.8-1.8-0.7z"/>
<path color="#f99115" d="M394.1 86.1l6.1 32-0.4-29.9-2.9-8.9z"/>
<path color="#f48614" d="M400.2 118.1l3.7 15.1 0.3-24.5-4.4-20.5z"/>
<path color="#f68a15" d="M403.9 133.2l2.2 4.4 1.7-14.1-3.6-14.8z"/>
<path color="#fc9a16" d="M406.1 137.6l1.9 1.7 2.4-8.3-2.6-7.5z"/>
<path color="#fcad18" d="M408 139.3l1.7 1.1 2.8-5.7-2.1-3.7z"/>
<path color="#fdba19" d="M409.7 140.4l3.5 1.5 3-3.8-1.8-1.4-1.9-2z"/>
<path color="#fcb619" d="M413.2 141.9l1.7 0.7 3-3.5-1.7-1z"/>
<path color="#fcad18" d="M414.9 142.6l1.7 0.7 3.1-3.3-1.8-0.9z"/>
<path color="#fca617" d="M416.6 143.3l4.4 1.8 3-3.2-4.3-1.9z"/>
<path color="#fca017" d="M421 145.1l4.4 1.7 3-3.2-4.4-1.7z"/>
<path color="#fc9a16" d="M425.4 146.8l40.7 15.9 2.9-3.3-40.6-15.8z"/>
<path color="#fc9916" d="M466.1 162.7l84.9 32.9 2.5-3.7-84.5-32.5z"/>
<path color="#f99315" d="M388.3 84.3l9.4 53-3.6-51.2-2.4-4.7z"/>
<path color="#f48514" d="M397.7 137.3l2.1 3.6 0.4-22.8-6.1-32z"/>
<path color="#f68a15" d="M399.8 140.9l1.7 0.8 2.4-8.5-3.7-15.1z"/>
<path color="#fc9c16" d="M401.5 141.7l1.7 0.7 2.9-4.8-2.2-4.4z"/>
<path color="#fcab18" d="M403.2 142.4l1.7 0.7 3.1-3.8-1.9-1.7z"/>
<path color="#fcaf18" d="M404.9 143.1l1.8 0.7 3-3.4-1.7-1.1z"/>
<path color="#fcac18" d="M406.7 143.8l1.7 0.6 3.1-3.2-1.8-0.8z"/>
<path color="#fca717" d="M408.4 144.4l1.7 0.7 3.1-3.2-1.7-0.7z"/>
<path color="#fca317" d="M410.1 145.1l1.7 0.7 3.1-3.2-1.7-0.7z"/>
<path color="#fc9e17" d="M411.8 145.8l6.1 2.4 3.1-3.1-6.1-2.5z"/>
<path color="#fc9916" d="M417.9 148.2l130.6 51.2 2.5-3.8-130-50.5z"/>
</g>
<path class="m" d="M388.3 84.3L479.7 8.9M404.9 143.1L407.8 139.6L409.5 135.2L415.2 86.8L419.2 73.9L487.7 11.4M413.6 146.5L422.4 136.1L428.5 119.7L441.9 72.1L495.9 14.5M422.3 149.9L438.3 130.7L473.1 50.8L504.1 17.8M431.2 153.4L455.6 123.3L512.4 22.1M440.2 156.9L475.2 111.6L520.8 28.5M449.3 160.5L529.2 36.7M458.5 164.1L537.6 45.8M467.9 167.8L545.9 54.7M477.5 171.6L554.3 62.8M487.2 175.4L562.7 69.8M497 179.2L571.2 75.9M507 183.1L579.8 81.1M517.1 187.1L588.5 85.7M527.4 191.1L597.4 89.8M537.8 195.2L606.3 93.6M548.5 199.4L615.4 97.2M388.3 84.3L388.7 84.8L397.7 137.4L548.5 199.4M395.1 78.6L397.1 79.5L399 85.2L412.4 134.5L423.1 141.5L553.5 191.9M401.7 73.1L405.7 74.9L428.9 133.6L558.3 184.7M408.2 67.8L414.1 70.3L434.2 121.4L439 127.3L563.1 177.6M414.5 62.6L422.9 66.6L440.7 108.9L445.8 117.3L452.1 124.1L567.7 170.7M420.7 57.5L432 63.4L451.6 105.2L458 114.5L468 123.2L572.2 163.9M426.7 52.5L441 60.4L448.8 74.6L460.6 98.9L468.6 109.9L481.6 120.4L576.6 157.4M432.5 47.7L449.9 57.5L472 96.9L482 108.6L580.9 150.9M438.3 43L459.3 55.4L482.4 93.5L494.5 106.3L585.1 144.6M443.9 38.4L464.6 48.6L493.3 91.1L508.4 104.9L589.2 138.4M449.3 33.9L469.8 42.8L476.7 49.8L502.6 86.8L520.6 102.3L593.2 132.4M454.7 29.5L475 37.7L482.4 43.9L513.3 84.3L536.4 101.9L597.1 126.4M459.9 25.2L481.5 33.7L489.6 40L523.8 81.7L555.2 102.6L600.9 120.4M465 20.9L488.6 30.3L498.1 37.6L533.4 78.4L604.6 114.6M470 16.8L496.3 27.3L507.9 36.6L543.5 75.8L608.3 108.8M474.9 12.8L503.1 23.9L516.8 34.8L553.6 73.1L611.9 103M479.7 8.9L510.5 21L567.9 73.6L615.4 97.2"/>
<path class="e" d="M389.5 141.6L551.1 205.5M551.1 205.5L621 99.5M621 99.5L615.2 97.7M396.9 134.7L389.5 141.6M380.5 84.2L554.2 145M554.2 145L628.1 44.2M628.1 44.2L478.1 4.9M478.1 4.9L380.5 84.2M389.5 141.6L380.5 84.2M551.1 205.5L554.2 145M621 99.5L628.1 44.2M478.3 9.7L478.1 4.9"/>
<path class="t" d="M393.5 143.2L396.7 140.1M553.5 201.9L548.1 199.8M400.3 145.9L402.1 144.1M557.5 195.9L554.4 194.7M407.2 148.6L409 146.8M561.4 190L558.3 188.8M414.1 151.3L415.9 149.5M565.2 184.2L562.2 183M421.2 154.1L423 152.3M568.9 178.5L565.9 177.4M428.3 156.9L431.4 153.7M572.6 173L567.3 171.1M435.5 159.8L437.3 157.9M576.2 167.6L573.2 166.5M442.8 162.7L444.5 160.8M579.7 162.3L576.7 161.2M450.2 165.6L451.9 163.7M583.1 157.1L580.2 156M457.6 168.5L459.3 166.6M586.4 152L583.6 151M465.2 171.5L468.2 168.1M589.7 147L584.7 145.2M472.8 174.6L474.5 172.6M593 142.1L590.1 141.1M480.6 177.6L482.2 175.6M596.1 137.2L593.3 136.3M488.4 180.7L490 178.7M599.2 132.5L596.4 131.6M496.3 183.8L497.9 181.8M602.3 127.9L599.5 127M504.4 187L507.2 183.4M605.3 123.4L600.4 121.8M512.5 190.2L514 188.1M608.2 118.9L605.5 118M520.7 193.5L522.3 191.4M611.1 114.5L608.4 113.7M529 196.8L530.6 194.6M613.9 110.2L611.2 109.4M537.5 200.1L539 198M616.7 106L614 105.2M546 203.5L548.6 199.6M619.4 101.9L614.7 100.5M389.2 140L391.1 138.2M388.9 137.7L392.2 134.7M388.5 135.5L390.4 133.7M388.2 133.2L390.1 131.5M387.8 130.9L389.7 129.2M387.5 128.6L389.4 126.9M387.1 126.3L390.4 123.3M386.8 124L388.7 122.3M386.4 121.7L388.3 120M386 119.4L387.9 117.7M385.7 117L387.6 115.3M385.3 114.6L388.7 111.7M384.9 112.2L386.8 110.6M384.5 109.8L386.5 108.2M384.2 107.4L386.1 105.8M383.8 105L385.7 103.3M383.4 102.6L386.9 99.6M383 100.1L385 98.5M382.6 97.7L384.6 96M382.2 95.2L384.2 93.5M381.8 92.7L383.8 91M381.5 90.2L385 87.3M381.1 87.6L383.1 86M380.7 85.1L382.7 83.5"/>
<g class="k">
<text x="377.2" y="161.2">0.0</text>
<text x="413.8" y="175.6">0.5</text>
<text x="453.6" y="190.9">1.0</text>
<text x="493.6" y="206.1">1.5</text>
<text x="538" y="223.8">2.0</text>
<text x="566.8" y="213.6">0.0</text>
<text x="586.1" y="184.5">0.5</text>
<text x="603.7" y="158">1.0</text>
<text x="619.3" y="132.9">1.5</text>
<text x="633.8" y="111.3">2.0</text>
<text x="384" y="142.3" class="r">0.030</text>
<text x="382.3" y="130.9" class="r">0.035</text>
<text x="380.5" y="119.2" class="r">0.040</text>
<text x="378.7" y="107.2" class="r">0.045</text>
<text x="376.8" y="94.8" class="r">0.050</text>
</g>
<g class="n">
<text x="375.5" y="39.3">Fidelity</text>
<text x="428.2" y="200.8">T</text>
<text x="622.6" y="177.2" class="i">ω</text>
<text x="603.6" y="25.3">(b)</text>
</g>
</g>
<g id="pc">
<g class="s">
<path color="#fc9916" d="M144.3 291l3.2 0.8 2.4-2-3.2-0.8z"/>
<path color="#fc9e17" d="M147.5 291.8l1.6 0.4 2.4-2-1.6-0.4z"/>
<path color="#fcac18" d="M149.1 292.2l1.6 0.6 2.4-2-1.6-0.6z"/>
<path color="#fcb619" d="M150.7 292.8l4.9 1.9 2.4-2-4.9-1.9z"/>
<path color="#fcb819" d="M155.6 294.7l1.7 0.7 2.3-2.1-1.6-0.6z"/>
<path color="#fdbb19" d="M157.3 295.4l1.6 0.6 2.3-2-1.6-0.7z"/>
<path color="#fdc31a" d="M158.9 296l1.7 0.7 2.3-2-1.7-0.7z"/>
<path color="#fed21b" d="M160.6 296.7l4.1 2.2 2.3-2.2-4.1-2z"/>
<path color="#ffe41c" d="M164.7 298.9l4.2 2.9 2.3-2.4-4.2-2.7z"/>
<path color="#ffeb21" d="M168.9 301.8l4.2 4 4.2 4.9 2.2-3.1-4.2-4.6-4.1-3.6z"/>
<path color="#ffeb22" d="M177.3 310.7l4.2 5.5 12.5 17.6 4.1 5.3 4.1 4.8 4.2 4.3 2-3.7-4.1-4.4-4.1-4.8-4.1-5.3-12.4-17.1-4.2-5.3z"/>
<path color="#ffe91e" d="M206.4 348.2l4.1 3.8 4.1 3.3 2.1-3.3-4.1-3.5-4.2-4z"/>
<path color="#ffe51d" d="M214.6 355.3l4.2 3 2-3.3-4.1-3z"/>
<path color="#ffde1c" d="M218.8 358.3l4.2 2.5 2-3-4.2-2.8z"/>
<path color="#fed41c" d="M223 360.8l4.2 2.3 2-2.9-4.2-2.4z"/>
<path color="#fdc91b" d="M227.2 363.1l4.3 2.1 1.9-2.9-4.2-2.1z"/>
<path color="#fdbd19" d="M231.5 365.2l4.3 1.8 1.9-2.7-4.3-2z"/>
<path color="#fcb118" d="M235.8 367l4.3 1.7 1.9-2.7-4.3-1.7z"/>
<path color="#fca717" d="M240.1 368.7l4.4 1.5 1.9-2.6-4.4-1.6z"/>
<path color="#fca017" d="M244.5 370.2l4.4 1.4 1.9-2.5-4.4-1.5z"/>
<path color="#fc9916" d="M248.9 371.6l4.5 1.4 1.8-2.5-4.4-1.4z"/>
<path color="#fa9516" d="M253.4 373l4.4 1.2 1.9-2.4-4.5-1.3z"/>
<path color="#f89015" d="M257.8 374.2l9.1 2.5 1.8-2.4-9-2.5z"/>
<path color="#f68b15" d="M266.9 376.7l14 3.5 1.6-2.4-13.8-3.5z"/>
<path color="#fc9916" d="M141.9 293l3.2 0.8 2.4-2-3.2-0.8z"/>
<path color="#fc9e17" d="M145.1 293.8l1.6 0.5 2.4-2.1-1.6-0.4z"/>
<path color="#fcac18" d="M146.7 294.3l1.6 0.6 2.4-2.1-1.6-0.6z"/>
<path color="#fcb619" d="M148.3 294.9l5 1.9 2.3-2.1-4.9-1.9z"/>
<path color="#fdb919" d="M153.3 296.8l1.6 0.6 2.4-2-1.7-0.7z"/>
<path color="#fdbd19" d="M154.9 297.4l1.7 0.7 2.3-2.1-1.6-0.6z"/>
<path color="#fdc61a" d="M156.6 298.1l1.6 0.8 2.4-2.2-1.7-0.7z"/>
<path color="#fed51c" d="M158.2 298.9l4.2 2.2 2.3-2.2-4.1-2.2z"/>
<path color="#ffe61d" d="M162.4 301.1l4.2 3.2 2.3-2.5-4.2-2.9z"/>
<path color="#ffeb21" d="M166.6 304.3l4.2 4.3 4.3 5.3 4.2 5.9 8.4 12.2 4.1 5.7 4.2 5.2 4.1 4.7 4.2 4.2 4.1 3.7 2.1-3.5-4.1-3.8-4.2-4.3-4.1-4.8-4.1-5.3-12.5-17.6-4.2-5.5-4.2-4.9-4.2-4z"/>
<path color="#ffe71d" d="M208.4 355.5l4.2 3.2 2-3.4-4.1-3.3z"/>
<path color="#ffe41c" d="M212.6 358.7l4.2 2.7 2-3.1-4.2-3z"/>
<path color="#fedb1c" d="M216.8 361.4l4.2 2.5 2-3.1-4.2-2.5z"/>
<path color="#fed01b" d="M221 363.9l4.2 2.2 2-3-4.2-2.3z"/>
<path color="#fdc41a" d="M225.2 366.1l4.3 1.9 2-2.8-4.3-2.1z"/>
<path color="#fcb819" d="M229.5 368l4.3 1.7 2-2.7-4.3-1.8z"/>
<path color="#fcac18" d="M233.8 369.7l4.4 1.6 1.9-2.6-4.3-1.7z"/>
<path color="#fca317" d="M238.2 371.3l4.4 1.4 1.9-2.5-4.4-1.5z"/>
<path color="#fc9c16" d="M242.6 372.7l4.4 1.4 1.9-2.5-4.4-1.4z"/>
<path color="#fb9616" d="M247 374.1l4.5 1.3 1.9-2.4-4.5-1.4z"/>
<path color="#f99215" d="M251.5 375.4l4.5 1.2 1.8-2.4-4.4-1.2z"/>
<path color="#f78e15" d="M256 376.6l9.2 2.4 1.7-2.3-9.1-2.5z"/>
<path color="#f58a15" d="M265.2 379l14 3.5 1.7-2.3-14-3.5z"/>
<path color="#fc9916" d="M139.4 295l3.3 0.9 2.4-2.1-3.2-0.8z"/>
<path color="#fc9e17" d="M142.7 295.9l1.6 0.4 2.4-2-1.6-0.5z"/>
<path color="#fcac18" d="M144.3 296.3l1.6 0.6 2.4-2-1.6-0.6z"/>
<path color="#fcb619" d="M145.9 296.9l5 2 2.4-2.1-5-1.9z"/>
<path color="#fdba19" d="M150.9 298.9l1.6 0.6 2.4-2.1-1.6-0.6z"/>
<path color="#fdbf1a" d="M152.5 299.5l1.7 0.7 2.4-2.1-1.7-0.7z"/>
<path color="#fdc91a" d="M154.2 300.2l1.6 0.8 2.4-2.1-1.6-0.8z"/>
<path color="#feda1c" d="M155.8 301l4.2 2.4 2.4-2.3-4.2-2.2z"/>
<path color="#ffe71d" d="M160 303.4l4.3 3.5 2.3-2.6-4.2-3.2z"/>
<path color="#ffeb22" d="M164.3 306.9l4.2 4.7 4.3 5.6 12.7 18.7 4.2 5.7 4.1 5.2 4.2 4.6 4.1 4 2.2-3.6-4.2-4.2-4.1-4.7-4.2-5.2-4.1-5.7-8.4-12.2-4.2-5.9-4.3-5.3-4.2-4.3z"/>
<path color="#ffe71d" d="M202.1 355.4l4.2 3.5 4.2 3.1 2.1-3.3-4.2-3.2-4.1-3.7z"/>
<path color="#ffe01c" d="M210.5 362l4.2 2.6 2.1-3.2-4.2-2.7z"/>
<path color="#fed51c" d="M214.7 364.6l4.3 2.3 2-3-4.2-2.5z"/>
<path color="#fdca1b" d="M219 366.9l4.2 2 2-2.8-4.2-2.2z"/>
<path color="#fdbd19" d="M223.2 368.9l4.3 1.8 2-2.7-4.3-1.9z"/>
<path color="#fcb018" d="M227.5 370.7l4.4 1.7 1.9-2.7-4.3-1.7z"/>
<path color="#fca617" d="M231.9 372.4l4.4 1.5 1.9-2.6-4.4-1.6z"/>
<path color="#fc9d16" d="M236.3 373.9l4.4 1.4 1.9-2.6-4.4-1.4z"/>
<path color="#fb9716" d="M240.7 375.3l4.5 1.3 1.8-2.5-4.4-1.4z"/>
<path color="#f99315" d="M245.2 376.6l4.4 1.2 1.9-2.4-4.5-1.3z"/>
<path color="#f78e15" d="M249.6 377.8l9.2 2.4 1.8-2.4-9.1-2.4z"/>
<path color="#f58914" d="M258.8 380.2l18.6 4.6 1.8-2.3-18.6-4.7z"/>
<path color="#fc9916" d="M137 297.1l3.2 0.9 2.5-2.1-3.3-0.9z"/>
<path color="#fc9e17" d="M140.2 298l1.7 0.4 2.4-2.1-1.6-0.4z"/>
<path color="#fcac18" d="M141.9 298.4l1.6 0.6 2.4-2.1-1.6-0.6z"/>
<path color="#fcb619" d="M143.5 299l3.3 1.3 2.4-2.1-3.3-1.3z"/>
<path color="#fcb819" d="M146.8 300.3l1.6 0.7 2.5-2.1-1.7-0.7z"/>
<path color="#fdbb19" d="M148.4 301l1.7 0.7 2.4-2.2-1.6-0.6z"/>
<path color="#fdc21a" d="M150.1 301.7l1.7 0.7 2.4-2.2-1.7-0.7z"/>
<path color="#fdcc1b" d="M151.8 302.4l1.6 0.8 2.4-2.2-1.6-0.8z"/>
<path color="#ffde1c" d="M153.4 303.2l4.3 2.6 2.3-2.4-4.2-2.4z"/>
<path color="#ffe91e" d="M157.7 305.8l4.2 3.9 2.4-2.8-4.3-3.5z"/>
<path color="#ffeb22" d="M161.9 309.7l4.3 5 4.3 6 8.6 13.1 4.2 6.2 4.2 5.7 4.2 5 4.1 4.5 2.2-3.8-4.2-4.6-4.1-5.2-4.2-5.7-12.7-18.7-4.3-5.6-4.2-4.7z"/>
<path color="#ffe81e" d="M195.8 355.2l4.2 3.8 4.2 3.4 2.1-3.5-4.2-3.5-4.1-4z"/>
<path color="#ffe41c" d="M204.2 362.4l4.2 2.8 2.1-3.2-4.2-3.1z"/>
<path color="#fedb1c" d="M208.4 365.2l4.2 2.5 2.1-3.1-4.2-2.6z"/>
<path color="#fecf1b" d="M212.6 367.7l4.3 2.1 2.1-2.9-4.3-2.3z"/>
<path color="#fdc21a" d="M216.9 369.8l4.3 1.9 2-2.8-4.2-2z"/>
<path color="#fcb419" d="M221.2 371.7l4.3 1.7 2-2.7-4.3-1.8z"/>
<path color="#fca918" d="M225.5 373.4l4.4 1.6 2-2.6-4.4-1.7z"/>
<path color="#fc9f17" d="M229.9 375l4.4 1.4 2-2.5-4.4-1.5z"/>
<path color="#fc9816" d="M234.3 376.4l4.5 1.3 1.9-2.4-4.4-1.4z"/>
<path color="#f99315" d="M238.8 377.7l4.4 1.3 2-2.4-4.5-1.3z"/>
<path color="#f78e15" d="M243.2 379l9.1 2.4 1.9-2.4-9-2.4z"/>
<path color="#f58914" d="M252.3 381.4l13.9 3.4 1.8-2.3-13.8-3.5z"/>
<path color="#f48714" d="M266.2 384.8l9.5 2.3 1.7-2.3-9.4-2.3z"/>
<path color="#fc9916" d="M134.5 299.2l3.2 0.9 2.5-2.1-3.2-0.9z"/>
<path color="#fc9e17" d="M137.7 300.1l1.7 0.4 2.5-2.1-1.7-0.4z"/>
<path color="#fcac18" d="M139.4 300.5l1.6 0.6 2.5-2.1-1.6-0.6z"/>
<path color="#fcb619" d="M141 301.1l3.3 1.3 2.5-2.1-3.3-1.3z"/>
<path color="#fdb919" d="M144.3 302.4l1.7 0.7 2.4-2.1-1.6-0.7z"/>
<path color="#fdbd19" d="M146 303.1l1.7 0.7 2.4-2.1-1.7-0.7z"/>
<path color="#fdc51a" d="M147.7 303.8l1.6 0.8 2.5-2.2-1.7-0.7z"/>
<path color="#fed11b" d="M149.3 304.6l1.7 0.8 2.4-2.2-1.6-0.8z"/>
<path color="#ffe31c" d="M151 305.4l4.3 2.9 2.4-2.5-4.3-2.6z"/>
<path color="#ffea1f" d="M155.3 308.3l4.3 4.2 2.3-2.8-4.2-3.9z"/>
<path color="#ffeb21" d="M159.6 312.5l4.3 5.5 4.3 6.4 8.6 13.5 4.3 6.2 4.2 5.6 4.2 5 4.2 4.2 2.1-3.7-4.1-4.5-4.2-5-4.2-5.7-12.8-19.3-4.3-6-4.3-5z"/>
<path color="#ffe81e" d="M193.7 358.9l4.2 3.7 4.2 3.1 2.1-3.3-4.2-3.4-4.2-3.8z"/>
<path color="#ffe11c" d="M202.1 365.7l4.2 2.7 2.1-3.2-4.2-2.8z"/>
<path color="#fed51c" d="M206.3 368.4l4.3 2.3 2-3-4.2-2.5z"/>
<path color="#fdc81a" d="M210.6 370.7l4.3 2 2-2.9-4.3-2.1z"/>
<path color="#fdba19" d="M214.9 372.7l4.3 1.8 2-2.8-4.3-1.9z"/>
<path color="#fcac18" d="M219.2 374.5l4.3 1.6 2-2.7-4.3-1.7z"/>
<path color="#fca217" d="M223.5 376.1l4.4 1.5 2-2.6-4.4-1.6z"/>
<path color="#fc9916" d="M227.9 377.6l4.4 1.3 2-2.5-4.4-1.4z"/>
<path color="#fa9415" d="M232.3 378.9l4.5 1.3 2-2.5-4.5-1.3z"/>
<path color="#f88f15" d="M236.8 380.2l4.5 1.2 1.9-2.4-4.4-1.3z"/>
<path color="#f68b15" d="M241.3 381.4l9.2 2.3 1.8-2.3-9.1-2.4z"/>
<path color="#f48614" d="M250.5 383.7l23.4 5.8 1.8-2.4-23.4-5.7z"/>
<path color="#fc9916" d="M132 301.3l3.2 0.9 2.5-2.1-3.2-0.9z"/>
<path color="#fc9e17" d="M135.2 302.2l1.7 0.4 2.5-2.1-1.7-0.4z"/>
<path color="#fcac18" d="M136.9 302.6l1.6 0.7 2.5-2.2-1.6-0.6z"/>
<path color="#fcb619" d="M138.5 303.3l3.4 1.3 2.4-2.2-3.3-1.3z"/>
<path color="#fdba19" d="M141.9 304.6l1.6 0.7 2.5-2.2-1.7-0.7z"/>
<path color="#fdbf1a" d="M143.5 305.3l1.7 0.7 2.5-2.2-1.7-0.7z"/>
<path color="#fdc81a" d="M145.2 306l1.7 0.8 2.4-2.2-1.6-0.8z"/>
<path color="#fed61c" d="M146.9 306.8l1.7 0.9 2.4-2.3-1.7-0.8z"/>
<path color="#ffe51d" d="M148.6 307.7l4.2 3.2 2.5-2.6-4.3-2.9z"/>
<path color="#ffea21" d="M152.8 310.9l4.4 4.6 4.4 6 13 20.6 4.2 6.2 4.3 5.5 4.2 4.8 4.2 4.1 4.2 3.4 2.2-3.5-4.2-3.7-4.2-4.2-4.2-5-4.2-5.6-4.3-6.2-8.6-13.5-4.3-6.4-4.3-5.5-4.3-4.2z"/>
<path color="#ffe41c" d="M195.7 366.1l4.2 2.9 2.2-3.3-4.2-3.1z"/>
<path color="#fedb1c" d="M199.9 369l4.3 2.5 2.1-3.1-4.2-2.7z"/>
<path color="#fece1b" d="M204.2 371.5l4.3 2.2 2.1-3-4.3-2.3z"/>
<path color="#fdc01a" d="M208.5 373.7l4.3 1.9 2.1-2.9-4.3-2z"/>
<path color="#fcb018" d="M212.8 375.6l4.3 1.6 2.1-2.7-4.3-1.8z"/>
<path color="#fca417" d="M217.1 377.2l4.4 1.5 2-2.6-4.3-1.6z"/>
<path color="#fc9b16" d="M221.5 378.7l4.4 1.4 2-2.5-4.4-1.5z"/>
<path color="#fa9416" d="M225.9 380.1l4.5 1.3 1.9-2.5-4.4-1.3z"/>
<path color="#f88f15" d="M230.4 381.4l4.5 1.2 1.9-2.4-4.5-1.3z"/>
<path color="#f68a15" d="M234.9 382.6l9 2.3 2-2.3-9.1-2.4z"/>
<path color="#f48614" d="M243.9 384.9l28.3 6.9 1.7-2.3-28-6.9z"/>
<path color="#fc9916" d="M129.4 303.4l3.3 0.9 2.5-2.1-3.2-0.9z"/>
<path color="#fc9e17" d="M132.7 304.3l1.7 0.5 2.5-2.2-1.7-0.4z"/>
<path color="#fcac18" d="M134.4 304.8l1.6 0.6 2.5-2.1-1.6-0.7z"/>
<path color="#fcb619" d="M136 305.4l3.4 1.4 2.5-2.2-3.4-1.3z"/>
<path color="#fdbb19" d="M139.4 306.8l1.6 0.7 2.5-2.2-1.6-0.7z"/>
<path color="#fdc21a" d="M141 307.5l1.7 0.7 2.5-2.2-1.7-0.7z"/>
<path color="#fdcd1b" d="M142.7 308.2l1.7 0.9 2.5-2.3-1.7-0.8z"/>
<path color="#fedb1c" d="M144.4 309.1l1.7 1 2.5-2.4-1.7-0.9z"/>
<path color="#ffe71d" d="M146.1 310.1l4.3 3.5 2.4-2.7-4.2-3.2z"/>
<path color="#ffea21" d="M150.4 313.6l4.4 5.1 4.4 6.5 8.8 14.4 4.3 6.9 4.3 6.1 4.2 5.4 4.3 4.5 4.2 3.9 2.2-3.7-4.2-4.1-4.2-4.8-4.3-5.5-4.2-6.2-13-20.6-4.4-6-4.4-4.6z"/>
<path color="#ffe61d" d="M189.3 366.4l4.2 3.2 2.2-3.5-4.2-3.4z"/>
<path color="#ffe11c" d="M193.5 369.6l4.3 2.7 2.1-3.3-4.2-2.9z"/>
<path color="#fed41c" d="M197.8 372.3l4.2 2.3 2.2-3.1-4.3-2.5z"/>
<path color="#fdc61a" d="M202 374.6l4.3 2 2.2-2.9-4.3-2.2z"/>
<path color="#fcb619" d="M206.3 376.6l4.4 1.7 2.1-2.7-4.3-1.9z"/>
<path color="#fca817" d="M210.7 378.3l4.3 1.6 2.1-2.7-4.3-1.6z"/>
<path color="#fc9d16" d="M215 379.9l4.4 1.4 2.1-2.6-4.4-1.5z"/>
<path color="#fa9516" d="M219.4 381.3l4.5 1.3 2-2.5-4.4-1.4z"/>
<path color="#f89015" d="M223.9 382.6l4.5 1.2 2-2.4-4.5-1.3z"/>
<path color="#f68a15" d="M228.4 383.8l9 2.3 2-2.3-9-2.4z"/>
<path color="#f38514" d="M237.4 386.1l33 8.1 1.8-2.4-32.8-8z"/>
<path color="#fc9916" d="M126.9 305.6l3.2 0.9 2.6-2.2-3.3-0.9z"/>
<path color="#fc9e17" d="M130.1 306.5l1.7 0.5 2.6-2.2-1.7-0.5z"/>
<path color="#fcac18" d="M131.8 307l1.7 0.6 2.5-2.2-1.6-0.6z"/>
<path color="#fcb519" d="M133.5 307.6l1.6 0.7 2.6-2.2-1.7-0.7z"/>
<path color="#fcb819" d="M135.1 308.3l1.7 0.7 2.6-2.2-1.7-0.7z"/>
<path color="#fdbd19" d="M136.8 309l1.7 0.7 2.5-2.2-1.6-0.7z"/>
<path color="#fdc61a" d="M138.5 309.7l1.7 0.8 2.5-2.3-1.7-0.7z"/>
<path color="#fed21b" d="M140.2 310.5l1.7 0.9 2.5-2.3-1.7-0.9z"/>
<path color="#ffe11c" d="M141.9 311.4l1.7 1.1 2.5-2.4-1.7-1z"/>
<path color="#ffe91e" d="M143.6 312.5l4.4 3.9 2.4-2.8-4.3-3.5z"/>
<path color="#ffea21" d="M148 316.4l4.4 5.7 4.4 7 8.9 15 4.3 6.8 4.3 6 4.3 5.2 4.2 4.3 2.3-3.9-4.3-4.5-4.2-5.4-4.3-6.1-4.3-6.9-8.8-14.4-4.4-6.5-4.4-5.1z"/>
<path color="#ffe81e" d="M182.8 366.4l4.3 3.6 2.2-3.6-4.2-3.9z"/>
<path color="#ffe51d" d="M187.1 370l4.2 3 2.2-3.4-4.2-3.2z"/>
<path color="#fedb1c" d="M191.3 373l4.3 2.5 2.2-3.2-4.3-2.7z"/>
<path color="#fdcc1b" d="M195.6 375.5l4.3 2.1 2.1-3-4.2-2.3z"/>
<path color="#fdbc19" d="M199.9 377.6l4.3 1.8 2.1-2.8-4.3-2z"/>
<path color="#fcab18" d="M204.2 379.4l4.4 1.6 2.1-2.7-4.4-1.7z"/>
<path color="#fc9f17" d="M208.6 381l4.3 1.5 2.1-2.6-4.3-1.6z"/>
<path color="#fb9616" d="M212.9 382.5l4.5 1.3 2-2.5-4.4-1.4z"/>
<path color="#f89015" d="M217.4 383.8l4.4 1.2 2.1-2.4-4.5-1.3z"/>
<path color="#f68b15" d="M221.8 385l4.5 1.2 2.1-2.4-4.5-1.2z"/>
<path color="#f48714" d="M226.3 386.2l9.1 2.3 2-2.4-9-2.3z"/>
<path color="#f38414" d="M235.4 388.5l33.1 8.1 1.9-2.4-33-8.1z"/>
<path color="#fc9916" d="M124.3 307.7l3.3 1 2.5-2.2-3.2-0.9z"/>
<path color="#fc9f17" d="M127.6 308.7l1.6 0.5 2.6-2.2-1.7-0.5z"/>
<path color="#fcac18" d="M129.2 309.2l1.7 0.6 2.6-2.2-1.7-0.6z"/>
<path color="#fcb519" d="M130.9 309.8l1.7 0.7 2.5-2.2-1.6-0.7z"/>
<path color="#fdb919" d="M132.6 310.5l1.6 0.7 2.6-2.2-1.7-0.7z"/>
<path color="#fdc01a" d="M134.2 311.2l1.7 0.7 2.6-2.2-1.7-0.7z"/>
<path color="#fdca1b" d="M135.9 311.9l1.7 0.9 2.6-2.3-1.7-0.8z"/>
<path color="#fed81c" d="M137.6 312.8l1.8 1 2.5-2.4-1.7-0.9z"/>
<path color="#ffe51d" d="M139.4 313.8l1.7 1.2 2.5-2.5-1.7-1.1z"/>
<path color="#ffea20" d="M141.1 315l4.4 4.4 4.5 6.3 4.5 7.5 8.9 15.4 4.3 6.8 4.4 5.8 4.2 4.9 4.3 4.1 4.3 3.3 2.2-3.5-4.3-3.6-4.2-4.3-4.3-5.2-4.3-6-4.3-6.8-8.9-15-4.4-7-4.4-5.7-4.4-3.9z"/>
<path color="#ffe11c" d="M184.9 373.5l4.2 2.8 2.2-3.3-4.2-3z"/>
<path color="#fed31c" d="M189.1 376.3l4.3 2.2 2.2-3-4.3-2.5z"/>
<path color="#fdc31a" d="M193.4 378.5l4.3 2 2.2-2.9-4.3-2.1z"/>
<path color="#fcb018" d="M197.7 380.5l4.4 1.7 2.1-2.8-4.3-1.8z"/>
<path color="#fca217" d="M202.1 382.2l4.3 1.4 2.2-2.6-4.4-1.6z"/>
<path color="#fb9716" d="M206.4 383.6l4.4 1.4 2.1-2.5-4.3-1.5z"/>
<path color="#f89015" d="M210.8 385l4.5 1.2 2.1-2.4-4.5-1.3z"/>
<path color="#f68b15" d="M215.3 386.2l4.5 1.2 2-2.4-4.4-1.2z"/>
<path color="#f48614" d="M219.8 387.4l9 2.3 2.1-2.4-9.1-2.3z"/>
<path color="#f28314" d="M228.8 389.7l37.9 9.3 1.8-2.4-37.6-9.3z"/>
<path color="#fc9916" d="M121.6 310l3.3 0.9 2.7-2.2-3.3-1z"/>
<path color="#fc9f17" d="M124.9 310.9l1.7 0.5 2.6-2.2-1.6-0.5z"/>
<path color="#fcac18" d="M126.6 311.4l1.7 0.6 2.6-2.2-1.7-0.6z"/>
<path color="#fcb619" d="M128.3 312l1.7 0.7 2.6-2.2-1.7-0.7z"/>
<path color="#fdbb19" d="M130 312.7l1.7 0.7 2.5-2.2-1.6-0.7z"/>
<path color="#fdc31a" d="M131.7 313.4l1.7 0.8 2.5-2.3-1.7-0.7z"/>
<path color="#fecf1b" d="M133.4 314.2l1.7 0.9 2.5-2.3-1.7-0.9z"/>
<path color="#ffde1c" d="M135.1 315.1l1.7 1.1 2.6-2.4-1.8-1z"/>
<path color="#ffe71d" d="M136.8 316.2l1.7 1.4 2.6-2.6-1.7-1.2z"/>
<path color="#ffea20" d="M138.5 317.6l4.5 5 4.5 6.9 9.1 16.2 4.5 7.6 4.4 6.7 4.3 5.6 4.3 4.6 4.2 3.7 2.3-3.7-4.3-4.1-4.2-4.9-4.4-5.8-4.3-6.8-8.9-15.4-4.5-7.5-4.5-6.3-4.4-4.4z"/>
<path color="#ffe51d" d="M178.3 373.9l4.3 3.1 2.3-3.5-4.3-3.3z"/>
<path color="#feda1c" d="M182.6 377l4.3 2.5 2.2-3.2-4.2-2.8z"/>
<path color="#fdc91b" d="M186.9 379.5l4.3 2 2.2-3-4.3-2.2z"/>
<path color="#fcb719" d="M191.2 381.5l4.3 1.8 2.2-2.8-4.3-2z"/>
<path color="#fca617" d="M195.5 383.3l4.4 1.5 2.2-2.6-4.4-1.7z"/>
<path color="#fc9916" d="M199.9 384.8l4.4 1.4 2.1-2.6-4.3-1.4z"/>
<path color="#f99115" d="M204.3 386.2l4.4 1.2 2.1-2.4-4.4-1.4z"/>
<path color="#f68b15" d="M208.7 387.4l4.5 1.2 2.1-2.4-4.5-1.2z"/>
<path color="#f48614" d="M213.2 388.6l9 2.3 2.1-2.4-9-2.3z"/>
<path color="#f18314" d="M222.2 390.9l42.6 10.5 1.9-2.4-42.4-10.5z"/>
<path color="#fc9916" d="M119 312.2l3.3 0.9 2.6-2.2-3.3-0.9z"/>
<path color="#fc9f17" d="M122.3 313.1l1.7 0.5 2.6-2.2-1.7-0.5z"/>
<path color="#fcac18" d="M124 313.6l1.6 0.7 2.7-2.3-1.7-0.6z"/>
<path color="#fcb619" d="M125.6 314.3l1.7 0.7 2.7-2.3-1.7-0.7z"/>
<path color="#fdbd19" d="M127.3 315l1.7 0.7 2.7-2.3-1.7-0.7z"/>
<path color="#fdc71a" d="M129 315.7l1.7 0.8 2.7-2.3-1.7-0.8z"/>
<path color="#fed61c" d="M130.7 316.5l1.8 1 2.6-2.4-1.7-0.9z"/>
<path color="#ffe41c" d="M132.5 317.5l1.7 1.3 2.6-2.6-1.7-1.1z"/>
<path color="#ffe91f" d="M134.2 318.8l1.8 1.6 2.5-2.8-1.7-1.4z"/>
<path color="#ffea20" d="M136 320.4l4.5 5.6 4.6 7.6 9.2 16.9 4.4 7.6 4.4 6.4 4.4 5.3 4.3 4.3 2.3-3.9-4.3-4.6-4.3-5.6-4.4-6.7-4.5-7.6-9.1-16.2-4.5-6.9-4.5-5z"/>
<path color="#ffe71d" d="M171.8 374.1l4.3 3.4 2.2-3.6-4.2-3.7z"/>
<path color="#ffe11c" d="M176.1 377.5l4.2 2.8 2.3-3.3-4.3-3.1z"/>
<path color="#fed11b" d="M180.3 380.3l4.3 2.2 2.3-3-4.3-2.5z"/>
<path color="#fdbe19" d="M184.6 382.5l4.4 1.9 2.2-2.9-4.3-2z"/>
<path color="#fcaa18" d="M189 384.4l4.3 1.6 2.2-2.7-4.3-1.8z"/>
<path color="#fc9b16" d="M193.3 386l4.4 1.4 2.2-2.6-4.4-1.5z"/>
<path color="#f99215" d="M197.7 387.4l4.4 1.3 2.2-2.5-4.4-1.4z"/>
<path color="#f68b15" d="M202.1 388.7l4.4 1.2 2.2-2.5-4.4-1.2z"/>
<path color="#f48614" d="M206.5 389.9l4.5 1.1 2.2-2.4-4.5-1.2z"/>
<path color="#f18214" d="M211 391l9.1 2.2 2.1-2.3-9-2.3z"/>
<path color="#f08114" d="M220.1 393.2l28.2 6.9 2-2.4-28.1-6.8z"/>
<path color="#f38514" d="M248.3 400.1l14.6 3.8 1.9-2.5-14.5-3.7z"/>
<path color="#fc9916" d="M116.3 314.4l3.3 1 2.7-2.3-3.3-0.9z"/>
<path color="#fc9f17" d="M119.6 315.4l1.7 0.5 2.7-2.3-1.7-0.5z"/>
<path color="#fcac18" d="M121.3 315.9l1.7 0.7 2.6-2.3-1.6-0.7z"/>
<path color="#fcb719" d="M123 316.6l1.7 0.7 2.6-2.3-1.7-0.7z"/>
<path color="#fdc01a" d="M124.7 317.3l1.7 0.7 2.6-2.3-1.7-0.7z"/>
<path color="#fdcc1b" d="M126.4 318l1.7 0.9 2.6-2.4-1.7-0.8z"/>
<path color="#fedd1c" d="M128.1 318.9l1.7 1.1 2.7-2.5-1.8-1z"/>
<path color="#ffe71d" d="M129.8 320l1.8 1.5 2.6-2.7-1.7-1.3z"/>
<path color="#ffea1f" d="M131.6 321.5l1.8 1.8 4.6 6.4 4.7 8.3 9.2 17.5 4.5 7.4 4.4 6.2 4.4 4.9 4.3 4 2.3-3.9-4.3-4.3-4.4-5.3-4.4-6.4-4.4-7.6-9.2-16.9-4.6-7.6-4.5-5.6-1.8-1.6z"/>
<path color="#ffe51d" d="M169.5 378l4.3 3 2.3-3.5-4.3-3.4z"/>
<path color="#fed81c" d="M173.8 381l4.2 2.5 2.3-3.2-4.2-2.8z"/>
<path color="#fdc61a" d="M178 383.5l4.4 2 2.2-3-4.3-2.2z"/>
<path color="#fcb018" d="M182.4 385.5l4.3 1.7 2.3-2.8-4.4-1.9z"/>
<path color="#fc9f17" d="M186.7 387.2l4.4 1.4 2.2-2.6-4.3-1.6z"/>
<path color="#f99315" d="M191.1 388.6l4.4 1.3 2.2-2.5-4.4-1.4z"/>
<path color="#f68b15" d="M195.5 389.9l4.4 1.2 2.2-2.4-4.4-1.3z"/>
<path color="#f48614" d="M199.9 391.1l4.5 1.1 2.1-2.3-4.4-1.2z"/>
<path color="#f08114" d="M204.4 392.2l9 2.2 2.1-2.3-9-2.2z"/>
<path color="#ef8013" d="M213.4 394.4l28.1 6.8 2-2.3-28-6.8z"/>
<path color="#f38414" d="M241.5 401.2l14.6 3.9 1.9-2.5-14.5-3.7z"/>
<path color="#f48614" d="M256.1 405.1l4.9 1.3 1.9-2.5-4.9-1.3z"/>
<path color="#fc9916" d="M113.6 316.7l3.3 1 2.7-2.3-3.3-1z"/>
<path color="#fc9f17" d="M116.9 317.7l1.7 0.5 2.7-2.3-1.7-0.5z"/>
<path color="#fcad18" d="M118.6 318.2l1.7 0.7 2.7-2.3-1.7-0.7z"/>
<path color="#fdb919" d="M120.3 318.9l1.7 0.7 2.7-2.3-1.7-0.7z"/>
<path color="#fdc41a" d="M122 319.6l1.7 0.8 2.7-2.4-1.7-0.7z"/>
<path color="#fed31c" d="M123.7 320.4l1.7 1 2.7-2.5-1.7-0.9z"/>
<path color="#ffe41c" d="M125.4 321.4l1.8 1.2 2.6-2.6-1.7-1.1z"/>
<path color="#ffe91f" d="M127.2 322.6l1.8 1.7 2.6-2.8-1.8-1.5z"/>
<path color="#ffea21" d="M129 324.3l1.8 2.1 4.7 7.3 4.7 9 2.5-4.7-4.7-8.3-4.6-6.4-1.8-1.8z"/>
<path color="#ffe91e" d="M140.2 342.7l4.8 9.4 4.6 8.5 4.5 7.2 4.4 5.8 4.3 4.5 4.3 3.6 2.4-3.7-4.3-4-4.4-4.9-4.4-6.2-4.5-7.4-9.2-17.5z"/>
<path color="#ffe01c" d="M167.1 381.7l4.3 2.7 2.4-3.4-4.3-3z"/>
<path color="#fdcd1b" d="M171.4 384.4l4.3 2.2 2.3-3.1-4.2-2.5z"/>
<path color="#fcb719" d="M175.7 386.6l4.4 1.8 2.3-2.9-4.4-2z"/>
<path color="#fca317" d="M180.1 388.4l4.3 1.5 2.3-2.7-4.3-1.7z"/>
<path color="#fa9416" d="M184.4 389.9l4.4 1.3 2.3-2.6-4.4-1.4z"/>
<path color="#f68b15" d="M188.8 391.2l4.4 1.1 2.3-2.4-4.4-1.3z"/>
<path color="#f48514" d="M193.2 392.3l4.5 1.2 2.2-2.4-4.4-1.2z"/>
<path color="#ef8013" d="M197.7 393.5l9 2.1 2.2-2.3-9-2.2z"/>
<path color="#ed7f13" d="M206.7 395.6l23.2 5.6 2.1-2.3-23.1-5.6z"/>
<path color="#f18214" d="M229.9 401.2l14.4 3.7 2-2.4-14.3-3.6z"/>
<path color="#f48614" d="M244.3 404.9l14.8 4 1.9-2.5-14.7-3.9z"/>
<path color="#fc9916" d="M110.8 319l3.4 1 2.7-2.3-3.3-1z"/>
<path color="#fc9f17" d="M114.2 320l1.6 0.5 2.8-2.3-1.7-0.5z"/>
<path color="#fcad18" d="M115.8 320.5l1.7 0.7 2.8-2.3-1.7-0.7z"/>
<path color="#fdbb19" d="M117.5 321.2l1.8 0.8 2.7-2.4-1.7-0.7z"/>
<path color="#fdc91a" d="M119.3 322l1.7 0.8 2.7-2.4-1.7-0.8z"/>
<path color="#feda1c" d="M121 322.8l1.7 1.1 2.7-2.5-1.7-1z"/>
<path color="#ffe71d" d="M122.7 323.9l1.8 1.5 2.7-2.8-1.8-1.2z"/>
<path color="#ffea20" d="M124.5 325.4l1.8 1.9 1.9 2.5 4.8 8.2 4.8 9.7 2.4-5-4.7-9-4.7-7.3-1.8-2.1-1.8-1.7z"/>
<path color="#ffe81e" d="M137.8 347.7l4.8 9.7 4.6 8.4 4.5 6.9 4.4 5.3 4.4 4.1 4.3 3.1 2.3-3.5-4.3-3.6-4.3-4.5-4.4-5.8-4.5-7.2-4.6-8.5-4.8-9.4z"/>
<path color="#fed61c" d="M164.8 385.2l4.3 2.4 2.3-3.2-4.3-2.7z"/>
<path color="#fdbf1a" d="M169.1 387.6l4.3 1.9 2.3-2.9-4.3-2.2z"/>
<path color="#fca717" d="M173.4 389.5l4.3 1.6 2.4-2.7-4.4-1.8z"/>
<path color="#fb9616" d="M177.7 391.1l4.4 1.3 2.3-2.5-4.3-1.5z"/>
<path color="#f68c15" d="M182.1 392.4l4.4 1.2 2.3-2.4-4.4-1.3z"/>
<path color="#f38514" d="M186.5 393.6l4.4 1.1 2.3-2.4-4.4-1.1z"/>
<path color="#ed7f13" d="M190.9 394.7l9 2.1 2.2-2.3-8.9-2.2z"/>
<path color="#eb7e13" d="M199.9 396.8l23.2 5.5 2.1-2.3-23.1-5.5z"/>
<path color="#ef8113" d="M223.1 402.3l9.5 2.5 2.1-2.4-9.5-2.4z"/>
<path color="#f38414" d="M232.6 404.8l14.6 3.9 2-2.5-14.5-3.8z"/>
<path color="#f58814" d="M247.2 408.7l9.9 2.8 2-2.6-9.9-2.7z"/>
<path color="#fc9916" d="M108 321.4l3.4 1 2.8-2.4-3.4-1z"/>
<path color="#fc9f17" d="M111.4 322.4l1.7 0.5 2.7-2.4-1.6-0.5z"/>
<path color="#fcae18" d="M113.1 322.9l1.7 0.7 2.7-2.4-1.7-0.7z"/>
<path color="#fdbe19" d="M114.8 323.6l1.7 0.7 2.8-2.3-1.8-0.8z"/>
<path color="#fecf1b" d="M116.5 324.3l1.7 1 2.8-2.5-1.7-0.8z"/>
<path color="#ffe21c" d="M118.2 325.3l1.8 1.2 2.7-2.6-1.7-1.1z"/>
<path color="#ffe91f" d="M120 326.5l1.8 1.8 2.7-2.9-1.8-1.5z"/>
<path color="#ffeb22" d="M121.8 328.3l1.9 2.3 1.9 2.9 2.6-3.7-1.9-2.5-1.8-1.9z"/>
<path color="#ffe91e" d="M125.6 333.5l4.9 9.2 2.5-4.7-4.8-8.2z"/>
<path color="#ffe61d" d="M130.5 342.7l4.9 10.4 4.8 9.8 4.6 8.1 2.4-5.2-4.6-8.4-9.6-19.4z"/>
<path color="#ffe81e" d="M144.8 371l4.5 6.4 4.4 4.9 4.4 3.6 2.4-3.8-4.4-4.1-4.4-5.3-4.5-6.9z"/>
<path color="#ffde1c" d="M158.1 385.9l4.3 2.7 2.4-3.4-4.3-3.1z"/>
<path color="#fdc81a" d="M162.4 388.6l4.3 2.1 2.4-3.1-4.3-2.4z"/>
<path color="#fcae18" d="M166.7 390.7l4.3 1.6 2.4-2.8-4.3-1.9z"/>
<path color="#fc9916" d="M171 392.3l4.4 1.4 2.3-2.6-4.3-1.6z"/>
<path color="#f78d15" d="M175.4 393.7l4.4 1.2 2.3-2.5-4.4-1.3z"/>
<path color="#f38414" d="M179.8 394.9l4.4 1 2.3-2.3-4.4-1.2z"/>
<path color="#ed7f13" d="M184.2 395.9l4.4 1.1 2.3-2.3-4.4-1.1z"/>
<path color="#ea7c13" d="M188.6 397l27.6 6.5 2.1-2.3-27.4-6.5z"/>
<path color="#ef8013" d="M216.2 403.5l9.5 2.4 2.1-2.4-9.5-2.3z"/>
<path color="#f38414" d="M225.7 405.9l14.5 4 2.1-2.5-14.5-3.9z"/>
<path color="#f58814" d="M240.2 409.9l14.9 4.2 2-2.6-14.8-4.1z"/>
<path color="#fc9916" d="M105.2 323.7l3.4 1.1 2.8-2.4-3.4-1z"/>
<path color="#fc9f17" d="M108.6 324.8l1.7 0.5 2.8-2.4-1.7-0.5z"/>
<path color="#fcaf18" d="M110.3 325.3l1.7 0.7 2.8-2.4-1.7-0.7z"/>
<path color="#fdc31a" d="M112 326l1.7 0.8 2.8-2.5-1.7-0.7z"/>
<path color="#fed61c" d="M113.7 326.8l1.8 1 2.7-2.5-1.7-1z"/>
<path color="#ffe61d" d="M115.5 327.8l1.8 1.5 2.7-2.8-1.8-1.2z"/>
<path color="#ffea21" d="M117.3 329.3l1.8 2.1 1.9 2.7 2 3.4 2.6-4-1.9-2.9-1.9-2.3-1.8-1.8z"/>
<path color="#ffe71d" d="M123 337.5l5 10.3 2.5-5.1-4.9-9.2z"/>
<path color="#ffe41c" d="M128 347.8l5 11 4.8 9.7 2.4-5.6-4.8-9.8-4.9-10.4z"/>
<path color="#ffe81e" d="M137.8 368.5l4.7 7.7 4.4 5.9 4.4 4.2 2.4-4-4.4-4.9-4.5-6.4-4.6-8.1z"/>
<path color="#ffe41c" d="M151.3 386.3l4.4 3.2 2.4-3.6-4.4-3.6z"/>
<path color="#fed11b" d="M155.7 389.5l4.3 2.3 2.4-3.2-4.3-2.7z"/>
<path color="#fcb619" d="M160 391.8l4.3 1.7 2.4-2.8-4.3-2.1z"/>
<path color="#fc9d16" d="M164.3 393.5l4.3 1.4 2.4-2.6-4.3-1.6z"/>
<path color="#f78e15" d="M168.6 394.9l4.4 1.2 2.4-2.4-4.4-1.4z"/>
<path color="#f28414" d="M173 396.1l4.4 1.1 2.4-2.3-4.4-1.2z"/>
<path color="#ec7e13" d="M177.4 397.2l4.4 1 2.4-2.3-4.4-1z"/>
<path color="#e87b12" d="M181.8 398.2l27.4 6.4 2.3-2.3-27.3-6.4z"/>
<path color="#ee7f13" d="M209.2 404.6l9.5 2.4 2.2-2.3-9.4-2.4z"/>
<path color="#f28314" d="M218.7 407l9.6 2.6 2.2-2.4-9.6-2.5z"/>
<path color="#f48614" d="M228.3 409.6l9.8 2.8 2.1-2.5-9.7-2.7z"/>
<path color="#f58915" d="M238.1 412.4l15 4.4 2-2.7-14.9-4.2z"/>
<path color="#fc9916" d="M102.3 326.1l3.4 1.1 2.9-2.4-3.4-1.1z"/>
<path color="#fc9f17" d="M105.7 327.2l1.7 0.5 2.9-2.4-1.7-0.5z"/>
<path color="#fcb118" d="M107.4 327.7l1.8 0.7 2.8-2.4-1.7-0.7z"/>
<path color="#fdc81a" d="M109.2 328.4l1.7 0.9 2.8-2.5-1.7-0.8z"/>
<path color="#ffdf1c" d="M110.9 329.3l1.8 1.2 2.8-2.7-1.8-1z"/>
<path color="#ffe91e" d="M112.7 330.5l1.8 1.8 2.8-3-1.8-1.5z"/>
<path color="#ffeb21" d="M114.5 332.3l1.9 2.5 2 3.3 2.6-4-1.9-2.7-1.8-2.1z"/>
<path color="#ffe81e" d="M118.4 338.1l2 3.9 2.6-4.5-2-3.4z"/>
<path color="#ffe31c" d="M120.4 342l5.2 11.4 2.4-5.6-5-10.3z"/>
<path color="#fedd1c" d="M125.6 353.4l5 11.3 2.4-5.9-5-11z"/>
<path color="#ffe31c" d="M130.6 364.7l4.8 9.5 2.4-5.7-4.8-9.7z"/>
<path color="#ffe71d" d="M135.4 374.2l4.7 7.2 4.4 5.1 4.4 3.7 2.4-3.9-4.4-4.2-4.4-5.9-4.7-7.7z"/>
<path color="#feda1c" d="M148.9 390.2l4.3 2.6 2.5-3.3-4.4-3.2z"/>
<path color="#fdc01a" d="M153.2 392.8l4.3 1.9 2.5-2.9-4.3-2.3z"/>
<path color="#fca217" d="M157.5 394.7l4.3 1.5 2.5-2.7-4.3-1.7z"/>
<path color="#f88f15" d="M161.8 396.2l4.4 1.2 2.4-2.5-4.3-1.4z"/>
<path color="#f28314" d="M166.2 397.4l4.4 1.1 2.4-2.4-4.4-1.2z"/>
<path color="#ea7c13" d="M170.6 398.5l4.4 1 2.4-2.3-4.4-1.1z"/>
<path color="#e67912" d="M175 399.5l22.6 5.1 2.3-2.3-22.5-5.1z"/>
<path color="#eb7d13" d="M197.6 404.6l9.4 2.3 2.2-2.3-9.3-2.3z"/>
<path color="#ef8113" d="M207 406.9l9.5 2.6 2.2-2.5-9.5-2.4z"/>
<path color="#f38414" d="M216.5 409.5l9.7 2.7 2.1-2.6-9.6-2.6z"/>
<path color="#f58814" d="M226.2 412.2l14.8 4.3 2.1-2.7-14.8-4.2z"/>
<path color="#f68b15" d="M241 416.5l10 3 2.1-2.7-10-3z"/>
<path color="#fc9916" d="M99.4 328.5l3.4 1.1 2.9-2.4-3.4-1.1z"/>
<path color="#fca017" d="M102.8 329.6l1.8 0.5 2.8-2.4-1.7-0.5z"/>
<path color="#fcb519" d="M104.6 330.1l1.7 0.8 2.9-2.5-1.8-0.7z"/>
<path color="#fed01b" d="M106.3 330.9l1.8 0.9 2.8-2.5-1.7-0.9z"/>
<path color="#ffe51d" d="M108.1 331.8l1.8 1.5 2.8-2.8-1.8-1.2z"/>
<path color="#ffea20" d="M109.9 333.3l1.9 2.2 1.9 3.1 2.1 4 2.6-4.5-2-3.3-1.9-2.5-1.8-1.8z"/>
<path color="#ffe41c" d="M115.8 342.6l2.1 4.5 2.5-5.1-2-3.9z"/>
<path color="#fed81c" d="M117.9 347.1l5.2 12.4 5.1 11.4 2.4-6.2-10.2-22.7z"/>
<path color="#ffe31c" d="M128.2 370.9l4.9 8.9 2.3-5.6-4.8-9.5z"/>
<path color="#ffe71d" d="M133.1 379.8l4.5 6.5 4.5 4.4 2.4-4.2-4.4-5.1-4.7-7.2z"/>
<path color="#ffe21c" d="M142.1 390.7l4.3 3.1 2.5-3.6-4.4-3.7z"/>
<path color="#fdca1b" d="M146.4 393.8l4.3 2.1 2.5-3.1-4.3-2.6z"/>
<path color="#fca918" d="M150.7 395.9l4.3 1.6 2.5-2.8-4.3-1.9z"/>
<path color="#f99115" d="M155 397.5l4.4 1.2 2.4-2.5-4.3-1.5z"/>
<path color="#f28314" d="M159.4 398.7l4.3 1 2.5-2.3-4.4-1.2z"/>
<path color="#e87b12" d="M163.7 399.7l4.4 1 2.5-2.2-4.4-1.1z"/>
<path color="#e37712" d="M168.1 400.7l22.6 5 2.3-2.2-22.4-5z"/>
<path color="#e97c13" d="M190.7 405.7l9.3 2.3 2.3-2.3-9.3-2.2z"/>
<path color="#ee8013" d="M200 408l9.4 2.6 2.3-2.4-9.4-2.5z"/>
<path color="#f38414" d="M209.4 410.6l9.7 2.7 2.2-2.5-9.6-2.6z"/>
<path color="#f48714" d="M219.1 413.3l9.8 2.9 2.2-2.6-9.8-2.8z"/>
<path color="#f68b15" d="M228.9 416.2l15 4.5 2.1-2.7-14.9-4.4z"/>
<path color="#f78d15" d="M243.9 420.7l5 1.6 2.1-2.8-5-1.5z"/>
<path color="#fc9916" d="M96.5 331l3.4 1.1 2.9-2.5-3.4-1.1z"/>
<path color="#fca117" d="M99.9 332.1l1.8 0.5 2.9-2.5-1.8-0.5z"/>
<path color="#fdbb19" d="M101.7 332.6l1.7 0.8 2.9-2.5-1.7-0.8z"/>
<path color="#fed91c" d="M103.4 333.4l1.8 1.1 2.9-2.7-1.8-0.9z"/>
<path color="#ffe81e" d="M105.2 334.5l1.9 1.9 2.8-3.1-1.8-1.5z"/>
<path color="#ffea20" d="M107.1 336.4l1.9 2.8 2.1 3.8 2.6-4.4-1.9-3.1-1.9-2.2z"/>
<path color="#ffe41c" d="M111.1 343l2.1 4.6 2.6-5-2.1-4z"/>
<path color="#fed61c" d="M113.2 347.6l2.2 5.2 2.5-5.7-2.1-4.5z"/>
<path color="#fece1b" d="M115.4 352.8l5.4 13.2 2.3-6.5-5.2-12.4z"/>
<path color="#fed41c" d="M120.8 366l5.1 11.2 2.3-6.3-5.1-11.4z"/>
<path color="#ffe41c" d="M125.9 377.2l4.7 8.2 2.5-5.6-4.9-8.9z"/>
<path color="#ffe61d" d="M130.6 385.4l4.6 5.5 4.4 3.7 2.5-3.9-4.5-4.4-4.5-6.5z"/>
<path color="#fed41c" d="M139.6 394.6l4.3 2.4 2.5-3.2-4.3-3.1z"/>
<path color="#fcb218" d="M143.9 397l4.3 1.7 2.5-2.8-4.3-2.1z"/>
<path color="#fa9416" d="M148.2 398.7l4.3 1.3 2.5-2.5-4.3-1.6z"/>
<path color="#f28314" d="M152.5 400l4.3 1 2.6-2.3-4.4-1.2z"/>
<path color="#e67912" d="M156.8 401l4.4 0.9 2.5-2.2-4.3-1z"/>
<path color="#e17411" d="M161.2 401.9l22.5 4.9 2.4-2.2-22.4-4.9z"/>
<path color="#e87b12" d="M183.7 406.8l9.2 2.3 2.4-2.3-9.2-2.2z"/>
<path color="#ee7f13" d="M192.9 409.1l9.5 2.6 2.3-2.4-9.4-2.5z"/>
<path color="#f28414" d="M202.4 411.7l9.6 2.7 2.2-2.5-9.5-2.6z"/>
<path color="#f58814" d="M212 414.4l9.7 2.9 2.3-2.6-9.8-2.8z"/>
<path color="#f68b15" d="M221.7 417.3l15 4.7 2.1-2.8-14.8-4.5z"/>
<path color="#f78e15" d="M236.7 422l10.1 3.2 2.1-2.9-10.1-3.1z"/>
<path color="#fc9a16" d="M93.6 333.5l3.4 1.1 2.9-2.5-3.4-1.1z"/>
<path color="#fca317" d="M97 334.6l1.7 0.5 3-2.5-1.8-0.5z"/>
<path color="#fdc31a" d="M98.7 335.1l1.8 0.9 2.9-2.6-1.7-0.8z"/>
<path color="#ffe21c" d="M100.5 336l1.8 1.4 2.9-2.9-1.8-1.1z"/>
<path color="#ffe91f" d="M102.3 337.4l1.9 2.4 2.1 3.5 2.7-4.1-1.9-2.8-1.9-1.9z"/>
<path color="#ffe41c" d="M106.3 343.3l2.2 4.7 2.6-5-2.1-3.8z"/>
<path color="#fed41c" d="M108.5 348l2.2 5.4 2.5-5.8-2.1-4.6z"/>
<path color="#fdc61a" d="M110.7 353.4l7.7 19.4 2.4-6.8-7.6-18.4z"/>
<path color="#fed41c" d="M118.4 372.8l5.1 10.6 2.4-6.2-5.1-11.2z"/>
<path color="#ffe51d" d="M123.5 383.4l4.7 7.2 4.5 4.6 2.5-4.3-4.6-5.5-4.7-8.2z"/>
<path color="#fedd1c" d="M132.7 395.2l4.3 2.9 2.6-3.5-4.4-3.7z"/>
<path color="#fdbd19" d="M137 398.1l4.3 1.9 2.6-3-4.3-2.4z"/>
<path color="#fc9816" d="M141.3 400l4.3 1.3 2.6-2.6-4.3-1.7z"/>
<path color="#f28314" d="M145.6 401.3l4.3 1 2.6-2.3-4.3-1.3z"/>
<path color="#e47712" d="M149.9 402.3l4.4 0.9 2.5-2.2-4.3-1z"/>
<path color="#dd7111" d="M154.3 403.2l17.8 3.6 2.5-2.1-17.8-3.7z"/>
<path color="#e27512" d="M172.1 406.8l4.5 1.1 2.5-2.2-4.5-1z"/>
<path color="#e57812" d="M176.6 407.9l4.6 1.1 2.5-2.2-4.6-1.1z"/>
<path color="#e87b12" d="M181.2 409l4.6 1.2 2.5-2.3-4.6-1.1z"/>
<path color="#ec7e13" d="M185.8 410.2l4.7 1.3 2.4-2.4-4.6-1.2z"/>
<path color="#f08114" d="M190.5 411.5l9.5 2.6 2.4-2.4-9.5-2.6z"/>
<path color="#f48614" d="M200 414.1l9.6 2.9 2.4-2.6-9.6-2.7z"/>
<path color="#f58a15" d="M209.6 417l9.9 3 2.2-2.7-9.7-2.9z"/>
<path color="#f78d15" d="M219.5 420l15 4.8 2.2-2.8-15-4.7z"/>
<path color="#f89015" d="M234.5 424.8l10.2 3.3 2.1-2.9-10.1-3.2z"/>
<path color="#fc9a16" d="M90.6 336l3.4 1.1 3-2.5-3.4-1.1z"/>
<path color="#fca717" d="M94 337.1l1.7 0.6 3-2.6-1.7-0.5z"/>
<path color="#fdcc1b" d="M95.7 337.7l1.8 1 3-2.7-1.8-0.9z"/>
<path color="#ffe61d" d="M97.5 338.7l1.9 1.8 2.9-3.1-1.8-1.4z"/>
<path color="#ffe91f" d="M99.4 340.5l2 3.2 2.8-3.9-1.9-2.4z"/>
<path color="#ffe51d" d="M101.4 343.7l2.2 4.5 2.7-4.9-2.1-3.5z"/>
<path color="#fed21c" d="M103.6 348.2l2.3 5.6 2.6-5.8-2.2-4.7z"/>
<path color="#fdc01a" d="M105.9 353.8l2.3 6.2 2.5-6.6-2.2-5.4z"/>
<path color="#fcb719" d="M108.2 360l2.4 6.2 2.3-7.1-2.2-5.7z"/>
<path color="#fdbf1a" d="M110.6 366.2l5.5 13.7 2.3-7.1-5.5-13.7z"/>
<path color="#fed61c" d="M116.1 379.9l5 9.6 2.4-6.1-5.1-10.6z"/>
<path color="#ffe41c" d="M121.1 389.5l4.6 6 4.4 3.6 2.6-3.9-4.5-4.6-4.7-7.2z"/>
<path color="#fdc81a" d="M130.1 399.1l4.3 2.1 2.6-3.1-4.3-2.9z"/>
<path color="#fc9f17" d="M134.4 401.2l4.3 1.4 2.6-2.6-4.3-1.9z"/>
<path color="#f38414" d="M138.7 402.6l4.3 1 2.6-2.3-4.3-1.3z"/>
<path color="#e27512" d="M143 403.6l4.3 0.8 2.6-2.1-4.3-1z"/>
<path color="#da6e10" d="M147.3 404.4l13.2 2.5 4.5 1 2.5-2.1-17.6-3.5z"/>
<path color="#e07311" d="M165 407.9l4.5 1 2.6-2.1-4.6-1z"/>
<path color="#e47712" d="M169.5 408.9l4.6 1.2 2.5-2.2-4.5-1.1z"/>
<path color="#e77a12" d="M174.1 410.1l4.6 1.2 2.5-2.3-4.6-1.1z"/>
<path color="#eb7d13" d="M178.7 411.3l4.7 1.2 2.4-2.3-4.6-1.2z"/>
<path color="#ee8013" d="M183.4 412.5l4.7 1.3 2.4-2.3-4.7-1.3z"/>
<path color="#f28414" d="M188.1 413.8l9.5 2.8 2.4-2.5-9.5-2.6z"/>
<path color="#f58814" d="M197.6 416.6l9.7 3 2.3-2.6-9.6-2.9z"/>
<path color="#f78d15" d="M207.3 419.6l14.8 4.8 2.3-2.8-14.8-4.6z"/>
<path color="#f89115" d="M222.1 424.4l20.4 6.8 2.2-3.1-20.3-6.5z"/>
<path color="#fc9b16" d="M87.5 338.5l3.5 1.1 3-2.5-3.4-1.1z"/>
<path color="#fcad18" d="M91 339.6l1.7 0.6 3-2.5-1.7-0.6z"/>
<path color="#fed61c" d="M92.7 340.2l1.9 1.3 2.9-2.8-1.8-1z"/>
<path color="#ffe71d" d="M94.6 341.5l1.9 2.6 2.2 4.2 2.7-4.6-2-3.2-1.9-1.8z"/>
<path color="#fed31c" d="M98.7 348.3l2.4 5.7 2.5-5.8-2.2-4.5z"/>
<path color="#fdbb19" d="M101.1 354l2.4 6.6 2.4-6.8-2.3-5.6z"/>
<path color="#fcac18" d="M103.5 360.6l4.8 13.4 2.3-7.8-4.7-12.4z"/>
<path color="#fdbf1a" d="M108.3 374l5.4 13 2.4-7.1-5.5-13.7z"/>
<path color="#feda1c" d="M113.7 387l4.9 8.2 2.5-5.7-5-9.6z"/>
<path color="#ffe31c" d="M118.6 395.2l4.6 4.7 2.5-4.4-4.6-6z"/>
<path color="#fed21b" d="M123.2 399.9l4.3 2.5 2.6-3.3-4.4-3.6z"/>
<path color="#fca717" d="M127.5 402.4l4.3 1.5 2.6-2.7-4.3-2.1z"/>
<path color="#f48514" d="M131.8 403.9l4.2 1 2.7-2.3-4.3-1.4z"/>
<path color="#df7311" d="M136 404.9l4.3 0.7 2.7-2-4.3-1z"/>
<path color="#d46a10" d="M140.3 405.6l13.1 2.4 2.7-2-13.1-2.4z"/>
<path color="#d96d10" d="M153.4 408l4.5 0.9 2.6-2-4.4-0.9z"/>
<path color="#dd7111" d="M157.9 408.9l4.5 1.1 2.6-2.1-4.5-1z"/>
<path color="#e27512" d="M162.4 410l4.6 1.1 2.5-2.2-4.5-1z"/>
<path color="#e77912" d="M167 411.1l4.6 1.2 2.5-2.2-4.6-1.2z"/>
<path color="#eb7d13" d="M171.6 412.3l4.6 1.3 2.5-2.3-4.6-1.2z"/>
<path color="#ee8013" d="M176.2 413.6l4.7 1.3 2.5-2.4-4.7-1.2z"/>
<path color="#f38414" d="M180.9 414.9l9.5 2.9 2.4-2.6-9.4-2.7z"/>
<path color="#f58914" d="M190.4 417.8l9.6 3 2.4-2.7-9.6-2.9z"/>
<path color="#f78d15" d="M200 420.8l14.8 4.8 2.3-2.8-14.7-4.7z"/>
<path color="#f99115" d="M214.8 425.6l20.3 6.9 2.2-3.1-20.2-6.6z"/>
<path color="#fa9315" d="M235.1 432.5l5.2 1.7 2.2-3-5.2-1.8z"/>
<path color="#fc9916" d="M84.5 341.1l1.7 0.6 3.1-2.6-1.8-0.6z"/>
<path color="#fc9e17" d="M86.2 341.7l1.7 0.5 3.1-2.6-1.7-0.5z"/>
<path color="#fcb719" d="M87.9 342.2l1.8 0.7 3-2.7-1.7-0.6z"/>
<path color="#ffde1c" d="M89.7 342.9l1.9 1.8 3-3.2-1.9-1.3z"/>
<path color="#ffe61d" d="M91.6 344.7l2.1 3.6 2.8-4.2-1.9-2.6z"/>
<path color="#fed61c" d="M93.7 348.3l2.4 5.7 2.6-5.7-2.2-4.2z"/>
<path color="#fdb919" d="M96.1 354l2.5 7 2.5-7-2.4-5.7z"/>
<path color="#fca617" d="M98.6 361l2.6 7.6 2.3-8-2.4-6.6z"/>
<path color="#fca017" d="M101.2 368.6l2.5 7.2 2.2-8.3-2.4-6.9z"/>
<path color="#fca818" d="M103.7 375.8l2.3 6.4 2.3-8.2-2.4-6.5z"/>
<path color="#fdc31a" d="M106 382.2l5.4 11.6 2.3-6.8-5.4-13z"/>
<path color="#fedc1c" d="M111.4 393.8l4.7 6.5 2.5-5.1-4.9-8.2z"/>
<path color="#fed81c" d="M116.1 400.3l4.4 3.3 2.7-3.7-4.6-4.7z"/>
<path color="#fcb218" d="M120.5 403.6l4.3 1.6 2.7-2.8-4.3-2.5z"/>
<path color="#f58814" d="M124.8 405.2l4.2 1 2.8-2.3-4.3-1.5z"/>
<path color="#dd7111" d="M129 406.2l4.3 0.6 2.7-1.9-4.2-1z"/>
<path color="#ce670f" d="M133.3 406.8l4.3 0.7 2.7-1.9-4.3-0.7z"/>
<path color="#cb650f" d="M137.6 407.5l4.3 0.7 2.7-1.8-4.3-0.8z"/>
<path color="#ce670f" d="M141.9 408.2l4.4 0.8 2.7-1.9-4.4-0.7z"/>
<path color="#d56b10" d="M146.3 409l4.5 0.9 2.6-1.9-4.4-0.9z"/>
<path color="#db6f11" d="M150.8 409.9l4.5 1.1 2.6-2.1-4.5-0.9z"/>
<path color="#e17411" d="M155.3 411l4.5 1.1 2.6-2.1-4.5-1.1z"/>
<path color="#e67912" d="M159.8 412.1l4.6 1.2 2.6-2.2-4.6-1.1z"/>
<path color="#eb7d13" d="M164.4 413.3l4.6 1.3 2.6-2.3-4.6-1.2z"/>
<path color="#ef8013" d="M169 414.6l4.7 1.4 2.5-2.4-4.6-1.3z"/>
<path color="#f38514" d="M173.7 416l9.4 2.9 2.5-2.6-9.4-2.7z"/>
<path color="#f58a15" d="M183.1 418.9l9.6 3 2.5-2.7-9.6-2.9z"/>
<path color="#f78e15" d="M192.7 421.9l14.8 4.9 2.3-2.8-14.6-4.8z"/>
<path color="#f99215" d="M207.5 426.8l20.2 7 2.3-3.1-20.2-6.7z"/>
<path color="#fa9416" d="M227.7 433.8l10.3 3.6 2.3-3.2-10.3-3.5z"/>
<path color="#fc9a16" d="M81.4 343.7l1.7 0.6 3.1-2.6-1.7-0.6z"/>
<path color="#fca317" d="M83.1 344.3l1.7 0.5 3.1-2.6-1.7-0.5z"/>
<path color="#fdc41a" d="M84.8 344.8l1.8 1 3.1-2.9-1.8-0.7z"/>
<path color="#ffe11c" d="M86.6 345.8l2.1 2.6 2.9-3.7-1.9-1.8z"/>
<path color="#feda1c" d="M88.7 348.4l2.3 5.3 2.7-5.4-2.1-3.6z"/>
<path color="#fdbb19" d="M91 353.7l2.6 7.4 2.5-7.1-2.4-5.7z"/>
<path color="#fca117" d="M93.6 361.1l2.7 8.3 2.3-8.4-2.5-7z"/>
<path color="#fc9a16" d="M96.3 369.4l2.7 8.1 2.5 7.1 2.2-8.8-5.1-14.8z"/>
<path color="#fcab18" d="M101.5 384.6l2.3 5.9 2.2-8.3-2.3-6.4z"/>
<path color="#fdcb1b" d="M103.8 390.5l5.2 9.5 2.4-6.2-5.4-11.6z"/>
<path color="#fed81c" d="M109 400l4.5 4.6 2.6-4.3-4.7-6.5z"/>
<path color="#fdbc19" d="M113.5 404.6l4.3 2 2.7-3-4.4-3.3z"/>
<path color="#f68c15" d="M117.8 406.6l4.2 0.9 2.8-2.3-4.3-1.6z"/>
<path color="#da6e10" d="M122 407.5l4.2 0.6 2.8-1.9-4.2-1z"/>
<path color="#c6630e" d="M126.2 408.1l4.3 0.5 2.8-1.8-4.3-0.6z"/>
<path color="#c3610e" d="M130.5 408.6l4.3 0.6 2.8-1.7-4.3-0.7z"/>
<path color="#c8640e" d="M134.8 409.2l4.4 0.8 2.7-1.8-4.3-0.7z"/>
<path color="#d0680f" d="M139.2 410l4.4 0.9 2.7-1.9-4.4-0.8z"/>
<path color="#d96d10" d="M143.6 410.9l4.4 1 2.8-2-4.5-0.9z"/>
<path color="#df7311" d="M148 411.9l4.6 1.1 2.7-2-4.5-1.1z"/>
<path color="#e57812" d="M152.6 413l4.5 1.3 2.7-2.2-4.5-1.1z"/>
<path color="#eb7d13" d="M157.1 414.3l4.6 1.3 2.7-2.3-4.6-1.2z"/>
<path color="#ef8113" d="M161.7 415.6l4.7 1.4 2.6-2.4-4.6-1.3z"/>
<path color="#f38414" d="M166.4 417l4.7 1.4 2.6-2.4-4.7-1.4z"/>
<path color="#f58914" d="M171.1 418.4l9.5 3.1 2.5-2.6-9.4-2.9z"/>
<path color="#f78d15" d="M180.6 421.5l9.6 3.2 2.5-2.8-9.6-3z"/>
<path color="#f89115" d="M190.2 424.7l14.8 5.1 2.5-3-14.8-4.9z"/>
<path color="#fa9416" d="M205 429.8l25.5 9 2.3-3.2-25.3-8.8z"/>
<path color="#fb9616" d="M230.5 438.8l5.2 1.9 2.3-3.3-5.2-1.8z"/>
<path color="#fc9b16" d="M78.2 346.3l1.8 0.6 3.1-2.6-1.7-0.6z"/>
<path color="#fcaa18" d="M80 346.9l1.7 0.6 3.1-2.7-1.7-0.5z"/>
<path color="#fdcd1b" d="M81.7 347.5l1.9 1.4 3-3.1-1.8-1z"/>
<path color="#fed91c" d="M83.6 348.9l2.2 4.3 2.9-4.8-2.1-2.6z"/>
<path color="#fdc01a" d="M85.8 353.2l2.7 7.5 2.5-7-2.3-5.3z"/>
<path color="#fca017" d="M88.5 360.7l2.9 9.3 2.2-8.9-2.6-7.4z"/>
<path color="#fa9315" d="M91.4 370l2.9 9.2 2.6 8 2.1-9.7-5.4-16.4z"/>
<path color="#fc9e16" d="M96.9 387.2l2.5 6.4 2.1-9-2.5-7.1z"/>
<path color="#fcb719" d="M99.4 393.6l2.2 4.8 2.2-7.9-2.3-5.9z"/>
<path color="#fecf1b" d="M101.6 398.4l4.8 6.9 2.6-5.3-5.2-9.5z"/>
<path color="#fdc21a" d="M106.4 405.3l4.4 2.6 2.7-3.3-4.5-4.6z"/>
<path color="#f89015" d="M110.8 407.9l4.1 0.9 2.9-2.2-4.3-2z"/>
<path color="#d76c10" d="M114.9 408.8l4.2 0.5 2.9-1.8-4.2-0.9z"/>
<path color="#bd5e0d" d="M119.1 409.3l4.2 0.4 2.9-1.6-4.2-0.6z"/>
<path color="#b95c0d" d="M123.3 409.7l4.3 0.5 2.9-1.6-4.3-0.5z"/>
<path color="#c0600e" d="M127.6 410.2l4.4 0.7 2.8-1.7-4.3-0.6z"/>
<path color="#cb650f" d="M132 410.9l4.4 0.9 2.8-1.8-4.4-0.8z"/>
<path color="#d66c10" d="M136.4 411.8l4.4 1 2.8-1.9-4.4-0.9z"/>
<path color="#df7311" d="M140.8 412.8l4.5 1.2 2.7-2.1-4.4-1z"/>
<path color="#e67912" d="M145.3 414l4.5 1.2 2.8-2.2-4.6-1.1z"/>
<path color="#ec7e13" d="M149.8 415.2l4.6 1.4 2.7-2.3-4.5-1.3z"/>
<path color="#f08214" d="M154.4 416.6l4.7 1.4 2.6-2.4-4.6-1.3z"/>
<path color="#f48514" d="M159.1 418l4.6 1.5 2.7-2.5-4.7-1.4z"/>
<path color="#f68a15" d="M163.7 419.5l9.5 3.1 2.6-2.7-9.4-2.9z"/>
<path color="#f78e15" d="M173.2 422.6l9.6 3.3 2.6-2.8-9.6-3.2z"/>
<path color="#f99215" d="M182.8 425.9l14.8 5.2 2.5-3-14.7-5z"/>
<path color="#fb9616" d="M197.6 431.1l30.6 11 2.3-3.3-30.4-10.7z"/>
<path color="#fb9716" d="M228.2 442.1l5.2 2 2.3-3.4-5.2-1.9z"/>
<path color="#fc9e16" d="M75 349l1.8 0.6 3.2-2.7-1.8-0.6z"/>
<path color="#fcb319" d="M76.8 349.6l1.8 0.7 3.1-2.8-1.7-0.6z"/>
<path color="#fed01b" d="M78.6 350.3l2 2.6 3-4-1.9-1.4z"/>
<path color="#fdc61a" d="M80.6 352.9l2.7 6.9 2.5-6.6-2.2-4.3z"/>
<path color="#fca217" d="M83.3 359.8l3.1 10.3 2.1-9.4-2.7-7.5z"/>
<path color="#f88f15" d="M86.4 370.1l3.1 10.7 2.8 9.1 2-10.7-5.8-18.5z"/>
<path color="#fb9616" d="M92.3 389.9l2.6 7 2-9.7-2.6-8z"/>
<path color="#fcac18" d="M94.9 396.9l2.2 5 2.3-8.3-2.5-6.4z"/>
<path color="#fdc41a" d="M97.1 401.9l2.1 3.3 4.5 3.9 2.7-3.8-4.8-6.9-2.2-4.8z"/>
<path color="#fa9416" d="M103.7 409.1l4.2 1.1 2.9-2.3-4.4-2.6z"/>
<path color="#d46a10" d="M107.9 410.2l4.1 0.2 2.9-1.6-4.1-0.9z"/>
<path color="#b2580c" d="M112 410.4l4.2 0.3 2.9-1.4-4.2-0.5z"/>
<path color="#ad550b" d="M116.2 410.7l4.2 0.4 2.9-1.4-4.2-0.4z"/>
<path color="#b85b0d" d="M120.4 411.1l4.3 0.6 2.9-1.5-4.3-0.5z"/>
<path color="#c6630e" d="M124.7 411.7l4.4 0.9 2.9-1.7-4.4-0.7z"/>
<path color="#d46a10" d="M129.1 412.6l4.4 1.1 2.9-1.9-4.4-0.9z"/>
<path color="#de7211" d="M133.5 413.7l4.5 1.2 2.8-2.1-4.4-1z"/>
<path color="#e67912" d="M138 414.9l4.5 1.3 2.8-2.2-4.5-1.2z"/>
<path color="#ed7f13" d="M142.5 416.2l4.6 1.4 2.7-2.4-4.5-1.2z"/>
<path color="#f28314" d="M147.1 417.6l4.6 1.4 2.7-2.4-4.6-1.4z"/>
<path color="#f48714" d="M151.7 419l4.6 1.6 2.8-2.6-4.7-1.4z"/>
<path color="#f68c15" d="M156.3 420.6l9.5 3.2 2.6-2.7-9.3-3.1z"/>
<path color="#f89015" d="M165.8 423.8l9.6 3.4 2.6-2.9-9.6-3.2z"/>
<path color="#fa9416" d="M175.4 427.2l19.6 7.1 2.6-3.2-19.6-6.8z"/>
<path color="#fb9716" d="M195 434.3l36 13.2 2.4-3.4-35.8-13z"/>
<path color="#fca217" d="M71.8 351.7l1.8 0.6 3.2-2.7-1.8-0.6z"/>
<path color="#fdbb19" d="M73.6 352.3l1.8 1.1 3.2-3.1-1.8-0.7z"/>
<path color="#fdc61a" d="M75.4 353.4l2.4 5.1 2.8-5.6-2-2.6z"/>
<path color="#fca817" d="M77.8 358.5l3.3 11 2.2-9.7-2.7-6.9z"/>
<path color="#f88f15" d="M81.1 369.5l3.5 12.6 1.8-12-3.1-10.3z"/>
<path color="#f58915" d="M84.6 382.1l3.2 10.8 1.7-12.1-3.1-10.7z"/>
<path color="#f99215" d="M87.8 392.9l2.7 7.7 1.8-10.7-2.8-9.1z"/>
<path color="#fca617" d="M90.5 400.6l2.2 5 2.2-8.7-2.6-7z"/>
<path color="#fdbf1a" d="M92.7 405.6l2 3 1.9 1.6 2.6-5-2.1-3.3-2.2-5z"/>
<path color="#fa9516" d="M96.6 410.2l4.1 1.4 3-2.5-4.5-3.9z"/>
<path color="#d0680f" d="M100.7 411.6l4.1 0 3.1-1.4-4.2-1.1z"/>
<path color="#a5510b" d="M104.8 411.6l4.1 0 3.1-1.2-4.1-0.2z"/>
<path color="#a04e0a" d="M108.9 411.6l4.2 0.3 3.1-1.2-4.2-0.3z"/>
<path color="#af560c" d="M113.1 411.9l4.3 0.6 3-1.4-4.2-0.4z"/>
<path color="#c2600e" d="M117.4 412.5l4.3 0.9 3-1.7-4.3-0.6z"/>
<path color="#d36a10" d="M121.7 413.4l4.5 1.1 2.9-1.9-4.4-0.9z"/>
<path color="#df7311" d="M126.2 414.5l4.4 1.2 2.9-2-4.4-1.1z"/>
<path color="#e87b12" d="M130.6 415.7l4.5 1.4 2.9-2.2-4.5-1.2z"/>
<path color="#f08114" d="M135.1 417.1l4.6 1.4 2.8-2.3-4.5-1.3z"/>
<path color="#f48614" d="M139.7 418.5l4.6 1.6 2.8-2.5-4.6-1.4z"/>
<path color="#f68a15" d="M144.3 420.1l4.6 1.6 2.8-2.7-4.6-1.4z"/>
<path color="#f78e15" d="M148.9 421.7l9.4 3.3 2.7-2.8-9.3-3.2z"/>
<path color="#f99315" d="M158.3 425l14.4 5.2 2.7-3-14.4-5z"/>
<path color="#fb9716" d="M172.7 430.2l29.9 11.1 2.5-3.4-29.7-10.7z"/>
<path color="#fc9916" d="M202.6 441.3l26.1 9.8 2.3-3.6-25.9-9.6z"/>
<path color="#fca817" d="M68.6 354.4l1.7 0.6 3.3-2.7-1.8-0.6z"/>
<path color="#fdbb19" d="M70.3 355l2.1 2.4 3-4-1.8-1.1z"/>
<path color="#fcad18" d="M72.4 357.4l3.2 10.5 2.2-9.4-2.4-5.1z"/>
<path color="#f99115" d="M75.6 367.9l4 15.3 1.5-13.7-3.3-11z"/>
<path color="#f48714" d="M79.6 383.2l3.6 13 1.4-14.1-3.5-12.6z"/>
<path color="#f78d15" d="M83.2 396.2l2.8 8.5 1.8-11.8-3.2-10.8z"/>
<path color="#fc9e16" d="M86 404.7l2.3 4.7 2.2-8.8-2.7-7.7z"/>
<path color="#fcac18" d="M88.3 409.4l1.9 2.3 2.5-6.1-2.2-5z"/>
<path color="#fca417" d="M90.2 411.7l1.8 1 2.7-4.1-2-3z"/>
<path color="#f28414" d="M92 412.7l1.6 0.3 3-2.8-1.9-1.6z"/>
<path color="#b85b0d" d="M93.6 413l4-0.4 3.1-1-4.1-1.4z"/>
<path color="#944709" d="M97.6 412.6l4-0.3 4.2 0.2 3.1-0.9-8.2 0z"/>
<path color="#a6510b" d="M105.8 412.5l4.2 0.6 3.1-1.2-4.2-0.3z"/>
<path color="#bf5f0d" d="M110 413.1l4.4 0.9 3-1.5-4.3-0.6z"/>
<path color="#d46a10" d="M114.4 414l4.4 1.2 2.9-1.8-4.3-0.9z"/>
<path color="#e27512" d="M118.8 415.2l4.4 1.3 3-2-4.5-1.1z"/>
<path color="#ec7e13" d="M123.2 416.5l4.5 1.5 2.9-2.3-4.4-1.2z"/>
<path color="#f38414" d="M127.7 418l4.6 1.5 2.8-2.4-4.5-1.4z"/>
<path color="#f58a15" d="M132.3 419.5l4.5 1.6 2.9-2.6-4.6-1.4z"/>
<path color="#f88f15" d="M136.8 421.1l9.3 3.4 2.8-2.8-9.2-3.2z"/>
<path color="#fa9416" d="M146.1 424.5l14.3 5.3 2.7-3.1-14.2-5z"/>
<path color="#fc9816" d="M160.4 429.8l65.8 24.8 2.5-3.5-65.6-24.4z"/>
<path color="#fcac18" d="M65.3 357.2l1.7 0.7 2.8 7.1 2.6-7.6-2.1-2.4-1.7-0.6z"/>
<path color="#fb9616" d="M69.8 365l4.7 18.7 1.1-15.8-3.2-10.5z"/>
<path color="#f48714" d="M74.5 383.7l4.2 16.4 3 9.1 1.5-13-3.6-13-4-15.3z"/>
<path color="#f78e15" d="M81.7 409.2l2.2 3.9 1.7 1.2 2.7-4.9-2.3-4.7-2.8-8.5z"/>
<path color="#e87b12" d="M85.6 414.3l1.6 0.1 3-2.7-1.9-2.3z"/>
<path color="#b95c0d" d="M87.2 414.4l1.6-0.4 3.2-1.3-1.8-1z"/>
<path color="#863f08" d="M88.8 414l1.5-0.5 3.3-0.5-1.6-0.3z"/>
<path color="#692f05" d="M90.3 413.5l3.9-0.7 3.4-0.2-4 0.4z"/>
<path color="#7a3907" d="M94.2 412.8l4.2 0.1 3.2-0.6-4 0.3z"/>
<path color="#9b4b0a" d="M98.4 412.9l4.2 0.7 3.2-1.1-4.2-0.2z"/>
<path color="#be5f0d" d="M102.6 413.6l4.3 1 3.1-1.5-4.2-0.6z"/>
<path color="#d96d10" d="M106.9 414.6l4.4 1.3 3.1-1.9-4.4-0.9z"/>
<path color="#e77a12" d="M111.3 415.9l4.4 1.5 3.1-2.2-4.4-1.2z"/>
<path color="#f28314" d="M115.7 417.4l4.5 1.5 3-2.4-4.4-1.3z"/>
<path color="#f58a15" d="M120.2 418.9l4.6 1.7 2.9-2.6-4.5-1.5z"/>
<path color="#f78e15" d="M124.8 420.6l4.6 1.6 2.9-2.7-4.6-1.5z"/>
<path color="#f99315" d="M129.4 422.2l9.2 3.5 2.9-2.9-9.2-3.3z"/>
<path color="#fb9716" d="M138.6 425.7l23.9 9.2 2.7-3.3-23.7-8.8z"/>
<path color="#fc9916" d="M162.5 434.9l61.3 23.4 2.4-3.7-61-23z"/>
<path color="#fca717" d="M61.9 360l2 1.7 3.1-3.8-1.7-0.7z"/>
<path color="#fc9816" d="M63.9 361.7l5.1 21 0.8-17.7-2.8-7.1z"/>
<path color="#f48614" d="M69 382.7l5.4 22.4 0.1-21.4-4.7-18.7z"/>
<path color="#ec7e13" d="M74.4 405.1l3 9 1.3-14-4.2-16.4z"/>
<path color="#e77a12" d="M77.4 414.1l1.9 1.9 2.4-6.8-3-9.1z"/>
<path color="#d76c10" d="M79.3 416l1.5-0.5 3.1-2.4-2.2-3.9z"/>
<path color="#ab540b" d="M80.8 415.5l1.4-0.9 3.4-0.3-1.7-1.2z"/>
<path color="#813c07" d="M82.2 414.6l1.5-0.8 3.5 0.6-1.6-0.1z"/>
<path color="#632c05" d="M83.7 413.8l1.5-0.6 3.6 0.8-1.6 0.4z"/>
<path color="#582704" d="M85.2 413.2l1.6-0.3 3.5 0.6-1.5 0.5z"/>
<path color="#622c05" d="M86.8 412.9l4 0.1 3.4-0.2-3.9 0.7z"/>
<path color="#904509" d="M90.8 413l4.3 0.9 3.3-1-4.2-0.1z"/>
<path color="#c3610e" d="M95.1 413.9l4.3 1.3 3.2-1.6-4.2-0.7z"/>
<path color="#e17511" d="M99.4 415.2l4.4 1.5 3.1-2.1-4.3-1z"/>
<path color="#f08114" d="M103.8 416.7l4.5 1.6 3-2.4-4.4-1.3z"/>
<path color="#f68a15" d="M108.3 418.3l4.4 1.7 3-2.6-4.4-1.5z"/>
<path color="#f89015" d="M112.7 420l4.6 1.7 2.9-2.8-4.5-1.5z"/>
<path color="#fa9516" d="M117.3 421.7l9.1 3.6 3-3.1-9.2-3.3z"/>
<path color="#fc9916" d="M126.4 425.3l94.9 36.7 2.5-3.7-94.4-36.1z"/>
<path color="#fc9916" d="M58.5 362.9l4.2 14.3 1.2-15.5-2-1.7z"/>
<path color="#f38514" d="M62.7 377.2l7.7 35.1-1.4-29.6-5.1-21z"/>
<path color="#de7211" d="M70.4 412.3l2.4 5.2 1.6-12.4-5.4-22.4z"/>
<path color="#c6630e" d="M72.8 417.5l1.3-1.7 3.3-1.7-3-9z"/>
<path color="#a7520b" d="M74.1 415.8l1.3-1.8 3.9 2-1.9-1.9z"/>
<path color="#8b4208" d="M75.4 414l1.4-1.1 4 2.6-1.5 0.5z"/>
<path color="#733506" d="M76.8 412.9l1.5-0.5 3.9 2.2-1.4 0.9z"/>
<path color="#662d05" d="M78.3 412.4l1.6 0 1.7 0.2 3.6 0.6-1.5 0.6-1.5 0.8z"/>
<path color="#753606" d="M81.6 412.6l1.6 0.4 3.6-0.1-1.6 0.3z"/>
<path color="#984909" d="M83.2 413l4.3 1.3 3.3-1.3-4-0.1z"/>
<path color="#d0680f" d="M87.5 414.3l4.4 1.6 3.2-2-4.3-0.9z"/>
<path color="#ee8013" d="M91.9 415.9l4.4 1.8 3.1-2.5-4.3-1.3z"/>
<path color="#f68c15" d="M96.3 417.7l4.4 1.8 3.1-2.8-4.4-1.5z"/>
<path color="#f99315" d="M100.7 419.5l4.5 1.8 3.1-3-4.5-1.6z"/>
<path color="#fc9816" d="M105.2 421.3l13.7 5.4 2.9-3.2-13.5-5.2z"/>
<path color="#fc9a16" d="M118.9 426.7l99.9 39 2.5-3.7-99.5-38.5z"/>
<path color="#f48714" d="M55.2 366.5l11 51.7-3.5-41-4.2-14.3z"/>
<path color="#db6f11" d="M66.2 418.2l0.4-6.2 3.8 0.3-7.7-35.1z"/>
<path color="#b65a0c" d="M66.6 412l1.4-1.1 4.8 6.6-2.4-5.2z"/>
<path color="#934709" d="M68 410.9l1.7 0.2 4.4 4.7-1.3 1.7z"/>
<path color="#7b3907" d="M69.7 411.1l1.7 0.7 4 2.2-1.3 1.8z"/>
<path color="#733406" d="M71.4 411.8l1.7 0.7 3.7 0.4-1.4 1.1z"/>
<path color="#7b3907" d="M73.1 412.5l1.7 0.7 3.5-0.8-1.5 0.5z"/>
<path color="#8f4508" d="M74.8 413.2l1.7 0.7 3.4-1.5-1.6 0z"/>
<path color="#ad550b" d="M76.5 413.9l1.8 0.7 3.3-2-1.7-0.2z"/>
<path color="#cd660f" d="M78.3 414.6l1.7 0.8 3.2-2.4-1.6-0.4z"/>
<path color="#e87b12" d="M80 415.4l4.4 1.8 3.1-2.9-4.3-1.3z"/>
<path color="#f78d15" d="M84.4 417.2l4.4 1.8 3.1-3.1-4.4-1.6z"/>
<path color="#fb9616" d="M88.8 419l4.4 1.8 3.1-3.1-4.4-1.8z"/>
<path color="#fc9a16" d="M93.2 420.8l123 48.7 2.6-3.8-122.5-48z"/>
</g>
<path class="m" d="M55.2 366.5L55.6 365.4L146.7 289M71.4 411.8L72.3 411.5L72.8 411.7M74.5 413.1L77.3 415.8L78.4 416.2L79.3 416M81 412.4L87.5 364.8L93.9 348L154.7 291.4M80 415.4L82.6 413.2L85.8 412.8M94 412.7L97.1 409.4L121.3 340.5L162.9 294.7M88.8 419L95.1 413.9L107.9 410.2L114.6 403L171.2 299.4M97.7 422.6L126.4 403.6L179.5 307.6M106.7 426.3L144.4 396.4L187.9 318.6M115.9 429.9L163.5 387L196.1 330M125.2 433.7L186.8 370.5L204.3 340.1M134.7 437.4L212.6 348.5M144.3 441.2L220.8 355M154 445.1L229.2 360.2M164 449L237.7 364.3M174.1 453L246.4 367.6M184.3 457L255.2 370.5M194.8 461.1L264.2 373.1M205.4 465.3L273.3 375.5M216.2 469.5L282.5 377.8M55.2 366.5L55.4 366.6L65.8 418.6L66.1 419.2L67.2 411.2L216.2 469.5M61.9 360L63.4 360.7L65.5 367.4L76.5 412M79 415.9L80.7 415.6M87.9 412.8L221.3 462M68.6 354.4L71.5 355.8L90 411.5L92.4 412.8M97.5 412.6L116.2 414.5L226.2 454.6M75 349L79.4 351L102.3 408.4L105.7 409.8L231 447.5M81.4 343.7L87.3 346.4L108 398.6L111.2 402.7L115 405.4L235.7 440.7M87.5 338.5L95.2 342.2L113.6 386.7L117.8 394.1L121.7 398.7L127 402.2L240.3 434.2M93.6 333.5L103.1 338.3L122.6 381.9L127.5 389.8L132.9 395.4L141.8 400.1L244.7 428.1M99.4 328.5L111.1 334.7L122.1 357L131.5 377.3L137.9 386.5L144.6 392.7L248.9 422.3M105.2 323.7L119.1 331.3L127 345.6L139.5 371.6L146.5 381.6L154.7 388.9L253.1 416.8M110.8 319L127 328.2L149.8 369.9L158.1 380L169.1 387.6L257.1 411.5M116.3 314.4L135.2 325.5L158.3 365.7L167.9 376.7L182.6 385.6L261 406.4M121.6 310L142.1 321.4L167.4 362.6L178.4 374L264.8 401.4M126.9 305.6L147.1 315.5L176.3 359.5L188.7 371.2L268.5 396.6M132 301.3L152 310.1L159.4 318.4L183.7 354.6L197.4 367.4L272.2 391.8M137 297.1L156.8 305.2L164.1 312.1L192.4 351.6L208.2 365.1L275.7 387.1M141.9 293L161.5 300.6L168.7 306.4L201.7 349.3L220.3 363.5L279.2 382.5M146.7 289L166.9 296.6L175.4 303.1L210.1 346.2L231.5 361.4L282.5 377.8"/>
<path class="e" d="M58 421L218.4 485.9M218.4 485.9L288.3 378.6M288.3 378.6L230.9 361.2M64.7 414.7L58 421M47.4 366L221.5 428.4M221.5 428.4L296.1 324.6M296.1 324.6L145.1 285.2M145.1 285.2L47.4 366M58 421L47.4 366M218.4 485.9L221.5 428.4M288.3 378.6L296.1 324.6M145.3 289.9L145.1 285.2"/>
<path class="t" d="M61.9 422.6L65.1 419.5M220.8 482.2L215.3 480M68.6 425.3L70.4 423.5M224.7 476.1L221.7 474.9M75.4 428L77.2 426.2M228.6 470.1L225.6 469M82.3 430.8L84 429M232.4 464.3L229.4 463.1M89.2 433.6L91 431.8M236.2 458.6L233.2 457.4M96.2 436.5L99.3 433.2M239.8 453L234.6 451M103.4 439.3L105.1 437.5M243.4 447.5L240.4 446.4M110.6 442.3L112.3 440.4M246.9 442.1L244 441.1M117.9 445.2L119.6 443.3M250.3 436.9L247.4 435.8M125.3 448.2L127 446.3M253.7 431.7L250.8 430.7M132.7 451.2L135.7 447.8M257 426.6L251.9 424.9M140.3 454.3L142 452.3M260.2 421.7L257.4 420.7M148 457.4L149.7 455.4M263.4 416.8L260.6 415.9M155.8 460.6L157.4 458.5M266.5 412L263.7 411.1M163.7 463.8L165.3 461.7M269.5 407.4L266.8 406.4M171.7 467L174.5 463.3M272.5 402.8L267.7 401.2M179.8 470.3L181.3 468.1M275.5 398.3L272.7 397.4M188 473.6L189.5 471.4M278.4 393.8L275.6 393M196.3 476.9L197.8 474.8M281.2 389.5L278.5 388.7M204.7 480.4L206.2 478.2M284 385.2L281.3 384.4M213.2 483.8L215.8 479.9M286.7 381.1L282 379.6M57.7 419.4L60.9 416.3M56.9 415.4L58.8 413.7M56.1 411.3L58 409.6M55.3 407.3L57.2 405.5M54.6 403.1L57.9 400.1M53.7 399L55.6 397.2M52.9 394.7L54.8 393M52.1 390.4L54 388.7M51.3 386.1L54.7 383.1M50.4 381.7L52.4 380M49.6 377.2L51.5 375.6M48.7 372.7L50.7 371.1M47.8 368.2L51.3 365.2"/>
<g class="k">
<text x="44.1" y="440.5">0.0</text>
<text x="81" y="455.6">0.5</text>
<text x="120.5" y="470.4">1.0</text>
<text x="161" y="485.8">1.5</text>
<text x="204.7" y="503">2.0</text>
<text x="234.3" y="492.8">0.0</text>
<text x="254.5" y="464.2">0.5</text>
<text x="271.9" y="437.6">1.0</text>
<text x="287.6" y="412.6">1.5</text>
<text x="301.7" y="391">2.0</text>
<text x="49.5" y="407.1" class="r">0.032</text>
<text x="46.8" y="389.9" class="r">0.034</text>
<text x="43.9" y="371.9" class="r">0.036</text>
</g>
<g class="n">
<text x="42.5" y="322.3">Fidelity</text>
<text x="95.8" y="484.3">T</text>
<text x="290.8" y="460.7" class="i">ω</text>
<text x="269" y="303.8">(c)</text>
</g>
</g>
<g id="pd">
<g class="s">
<path color="#fc9a16" d="M483.4 294.9l12.4 3.4 2.3-1.9-12.4-3.4z"/>
<path color="#fc9f17" d="M495.8 298.3l1.6 0.5 2.2-2-1.5-0.4z"/>
<path color="#fca617" d="M497.4 298.8l1.6 0.5 2.2-2-1.6-0.5z"/>
<path color="#fcb819" d="M499 299.3l3.9 1.7 2.3-2.1-4-1.6z"/>
<path color="#fed11b" d="M502.9 301l4 2.8 2.2-2.4-3.9-2.5z"/>
<path color="#ffe11c" d="M506.9 303.8l4 4.1 2.2-2.7-4-3.8z"/>
<path color="#ffe41c" d="M510.9 307.9l4 5.5 4 6.6 3.9 7.3 2.2-4-3.9-6.9-4-6.2-4-5z"/>
<path color="#ffe11c" d="M522.8 327.3l7.8 14.4 3.8 6.5 3.8 5.5 3.9 4.4 2-3.5-3.8-4.8-3.8-5.7-3.8-6.6-7.7-14.2z"/>
<path color="#fed91c" d="M542.1 358.1l3.9 3.2 2-3-3.9-3.7z"/>
<path color="#fdc21a" d="M546 361.3l3.9 2.2 2-2.6-3.9-2.6z"/>
<path color="#fb9816" d="M549.9 363.5l4.1 1.2 1.9-2.1-4-1.7z"/>
<path color="#de7211" d="M554 364.7l4.1 0.5 1.8-1.8-4-0.8z"/>
<path color="#ad550b" d="M558.1 365.2l4.1-0.1 1.8-1.4-4.1-0.3z"/>
<path color="#8e4408" d="M562.2 365.1l4.3-0.5 1.7-1.2-4.2 0.3z"/>
<path color="#7d3a07" d="M566.5 364.6l4.3-0.8 1.7-0.9-4.3 0.5z"/>
<path color="#743506" d="M570.8 363.8l4.3-0.9 1.7-0.8-4.3 0.8z"/>
<path color="#713306" d="M575.1 362.9l8.9-1.8 1.7-0.7-8.9 1.7z"/>
<path color="#753606" d="M584 361.1l4.6-0.9 1.6-0.6-4.5 0.8z"/>
<path color="#7a3907" d="M588.6 360.2l4.5-0.7 1.6-0.7-4.5 0.8z"/>
<path color="#813d07" d="M593.1 359.5l4.6-0.6 1.6-0.7-4.6 0.6z"/>
<path color="#894108" d="M597.7 358.9l4.7-0.4 1.5-0.8-4.6 0.5z"/>
<path color="#914609" d="M602.4 358.5l4.6-0.3 1.6-0.9-4.7 0.4z"/>
<path color="#994a09" d="M607 358.2l4.7-0.2 1.5-1-4.6 0.3z"/>
<path color="#9f4e0a" d="M611.7 358l4.8 0 1.5-1.1-4.8 0.1z"/>
<path color="#fc9a16" d="M481 296.9l11 2.9 2.2-1.9-10.8-3z"/>
<path color="#fc9c16" d="M492 299.8l1.5 0.5 2.3-2-1.6-0.4z"/>
<path color="#fca017" d="M493.5 300.3l1.6 0.5 2.3-2-1.6-0.5z"/>
<path color="#fca818" d="M495.1 300.8l1.6 0.5 2.3-2-1.6-0.5z"/>
<path color="#fdbc19" d="M496.7 301.3l4 1.9 2.2-2.2-3.9-1.7z"/>
<path color="#fed41c" d="M500.7 303.2l4 3 2.2-2.4-4-2.8z"/>
<path color="#ffe21c" d="M504.7 306.2l4 4.6 4.1 6 4 7 7.8 15.1 3.9 7.1 3.8 6.3 3.9 5.2 2-3.8-3.8-5.5-3.8-6.5-11.7-21.7-4-6.6-4-5.5-4-4.1z"/>
<path color="#ffdf1c" d="M536.2 357.5l3.9 4 2-3.4-3.9-4.4z"/>
<path color="#fed21b" d="M540.1 361.5l3.9 2.7 2-2.9-3.9-3.2z"/>
<path color="#fcb118" d="M544 364.2l4 1.7 1.9-2.4-3.9-2.2z"/>
<path color="#f48714" d="M548 365.9l4.1 0.7 1.9-1.9-4.1-1.2z"/>
<path color="#c7630e" d="M552.1 366.6l4.1 0.1 1.9-1.5-4.1-0.5z"/>
<path color="#9a4b09" d="M556.2 366.7l4.2-0.4 1.8-1.2-4.1 0.1z"/>
<path color="#833e07" d="M560.4 366.3l4.3-0.8 1.8-0.9-4.3 0.5z"/>
<path color="#753606" d="M564.7 365.5l4.3-0.9 1.8-0.8-4.3 0.8z"/>
<path color="#6f3206" d="M569 364.6l13.4-2.9 1.6-0.6-13.2 2.7z"/>
<path color="#763606" d="M582.4 361.7l4.5-0.8 1.7-0.7-4.6 0.9z"/>
<path color="#7c3a07" d="M586.9 360.9l4.6-0.6 1.6-0.8-4.5 0.7z"/>
<path color="#843e07" d="M591.5 360.3l4.6-0.5 1.6-0.9-4.6 0.6z"/>
<path color="#8c4308" d="M596.1 359.8l4.7-0.4 1.6-0.9-4.7 0.4z"/>
<path color="#954809" d="M600.8 359.4l4.7-0.2 1.5-1-4.6 0.3z"/>
<path color="#9d4c0a" d="M605.5 359.2l4.7-0.1 1.5-1.1-4.7 0.2z"/>
<path color="#a4500a" d="M610.2 359.1l4.7 0.1 1.6-1.2-4.8 0z"/>
<path color="#fc9a16" d="M478.7 298.8l10.9 3 2.4-2-11-2.9z"/>
<path color="#fc9d16" d="M489.6 301.8l1.6 0.5 2.3-2-1.5-0.5z"/>
<path color="#fca117" d="M491.2 302.3l1.6 0.5 2.3-2-1.6-0.5z"/>
<path color="#fcab18" d="M492.8 302.8l1.6 0.5 2.3-2-1.6-0.5z"/>
<path color="#fdc11a" d="M494.4 303.3l4 2.1 2.3-2.2-4-1.9z"/>
<path color="#fed81c" d="M498.4 305.4l4.1 3.4 2.2-2.6-4-3z"/>
<path color="#ffe31c" d="M502.5 308.8l4 5.1 4.1 6.5 4 7.4 4 7.9 2.1-4.3-3.9-7.6-4-7-4.1-6-4-4.6z"/>
<path color="#ffe01c" d="M518.6 335.7l3.9 7.6 3.9 7.1 3.9 6 3.8 4.8 2.1-3.7-3.9-5.2-3.8-6.3-3.9-7.1-3.9-7.5z"/>
<path color="#fedb1c" d="M534.1 361.2l4 3.4 2-3.1-3.9-4z"/>
<path color="#fdc51a" d="M538.1 364.6l3.9 2.2 2-2.6-3.9-2.7z"/>
<path color="#fc9916" d="M542 366.8l4.1 1.2 1.9-2.1-4-1.7z"/>
<path color="#dc7011" d="M546.1 368l4.1 0.3 1.9-1.7-4.1-0.7z"/>
<path color="#a7520b" d="M550.2 368.3l4.1-0.3 1.9-1.3-4.1-0.1z"/>
<path color="#874008" d="M554.3 368l4.3-0.7 1.8-1-4.2 0.4z"/>
<path color="#763606" d="M558.6 367.3l4.3-1 1.8-0.8-4.3 0.8z"/>
<path color="#6c3105" d="M562.9 366.3l13.3-3.1 1.7-0.6-13.2 2.9z"/>
<path color="#713306" d="M576.2 363.2l4.5-0.8 1.7-0.7-4.5 0.9z"/>
<path color="#773706" d="M580.7 362.4l4.5-0.8 1.7-0.7-4.5 0.8z"/>
<path color="#7f3c07" d="M585.2 361.6l4.6-0.6 1.7-0.7-4.6 0.6z"/>
<path color="#884008" d="M589.8 361l4.7-0.4 1.6-0.8-4.6 0.5z"/>
<path color="#914509" d="M594.5 360.6l4.7-0.3 1.6-0.9-4.7 0.4z"/>
<path color="#9a4a09" d="M599.2 360.3l4.7-0.1 1.6-1-4.7 0.2z"/>
<path color="#a3500a" d="M603.9 360.2l4.7 0 1.6-1.1-4.7 0.1z"/>
<path color="#ab540b" d="M608.6 360.2l4.8 0.2 1.5-1.2-4.7-0.1z"/>
<path color="#fc9a16" d="M476.3 300.8l11 3 2.3-2-10.9-3z"/>
<path color="#fc9e17" d="M487.3 303.8l1.6 0.5 2.3-2-1.6-0.5z"/>
<path color="#fca417" d="M488.9 304.3l1.6 0.5 2.3-2-1.6-0.5z"/>
<path color="#fcaf18" d="M490.5 304.8l1.6 0.6 2.3-2.1-1.6-0.5z"/>
<path color="#fdc71a" d="M492.1 305.4l4 2.3 2.3-2.3-4-2.1z"/>
<path color="#fedc1c" d="M496.1 307.7l4.1 3.9 2.3-2.8-4.1-3.4z"/>
<path color="#ffe31c" d="M500.2 311.6l4.1 5.5 4.1 7.1 4 7.8 2.2-4.2-4-7.4-4.1-6.5-4-5.1z"/>
<path color="#ffe01c" d="M512.4 332l7.9 15.8 4 6.9 3.9 5.7 3.9 4.3 2-3.5-3.8-4.8-3.9-6-3.9-7.1-7.9-15.5z"/>
<path color="#fed21c" d="M532.1 364.7l3.9 2.8 2.1-2.9-4-3.4z"/>
<path color="#fcae18" d="M536 367.5l4 1.7 2-2.4-3.9-2.2z"/>
<path color="#ef8113" d="M540 369.2l4.1 0.6 2-1.8-4.1-1.2z"/>
<path color="#b95c0d" d="M544.1 369.8l4.1-0.1 2-1.4-4.1-0.3z"/>
<path color="#8e4408" d="M548.2 369.7l4.2-0.6 1.9-1.1-4.1 0.3z"/>
<path color="#773706" d="M552.4 369.1l4.3-1 1.9-0.8-4.3 0.7z"/>
<path color="#6a2f05" d="M556.7 368.1l4.4-1.1 1.8-0.7-4.3 1z"/>
<path color="#672e05" d="M561.1 367l8.8-2.2 1.8-0.6-8.8 2.1z"/>
<path color="#6c3005" d="M569.9 364.8l4.5-1 1.8-0.6-4.5 1z"/>
<path color="#723406" d="M574.4 363.8l4.6-0.8 1.7-0.6-4.5 0.8z"/>
<path color="#7a3907" d="M579 363l4.5-0.7 1.7-0.7-4.5 0.8z"/>
<path color="#833e07" d="M583.5 362.3l4.7-0.5 1.6-0.8-4.6 0.6z"/>
<path color="#8d4308" d="M588.2 361.8l4.6-0.3 1.7-0.9-4.7 0.4z"/>
<path color="#964809" d="M592.8 361.5l4.7-0.2 1.7-1-4.7 0.3z"/>
<path color="#9f4e0a" d="M597.5 361.3l4.7 0 1.7-1.1-4.7 0.1z"/>
<path color="#ab540b" d="M602.2 361.3l4.8 0.1 1.6-1.2-4.7 0z"/>
<path color="#b3580c" d="M607 361.4l4.8 0.3 1.6-1.3-4.8-0.2z"/>
<path color="#fc9a16" d="M473.9 302.7l9.4 2.7 2.4-2.1-9.4-2.5z"/>
<path color="#fc9c16" d="M483.3 305.4l1.6 0.4 2.4-2-1.6-0.5z"/>
<path color="#fc9f17" d="M484.9 305.8l1.6 0.5 2.4-2-1.6-0.5z"/>
<path color="#fca617" d="M486.5 306.3l1.6 0.6 2.4-2.1-1.6-0.5z"/>
<path color="#fcb419" d="M488.1 306.9l1.6 0.6 2.4-2.1-1.6-0.6z"/>
<path color="#fdcc1b" d="M489.7 307.5l4.1 2.6 2.3-2.4-4-2.3z"/>
<path color="#ffdf1c" d="M493.8 310.1l4.1 4.3 2.3-2.8-4.1-3.9z"/>
<path color="#ffe31c" d="M497.9 314.4l4.1 6.2 4.1 7.5 2.3-3.9-4.1-7.1-4.1-5.5z"/>
<path color="#ffdf1c" d="M506.1 328.1l8.1 16.6 4 7.7 3.9 6.6 3.9 5.2 2.2-3.8-3.9-5.7-4-6.9-11.9-23.6z"/>
<path color="#fedb1c" d="M526 364.2l4 3.7 2.1-3.2-3.9-4.3z"/>
<path color="#fdc51a" d="M530 367.9l4 2.3 2-2.7-3.9-2.8z"/>
<path color="#fa9416" d="M534 370.2l4 1.1 2-2.1-4-1.7z"/>
<path color="#d0680f" d="M538 371.3l4.1 0.1 2-1.6-4.1-0.6z"/>
<path color="#984a09" d="M542.1 371.4l4.2-0.5 1.9-1.2-4.1 0.1z"/>
<path color="#793806" d="M546.3 370.9l4.2-1 1.9-0.8-4.2 0.6z"/>
<path color="#662d05" d="M550.5 369.9l4.4-1.1 1.8-0.7-4.3 1z"/>
<path color="#5d2904" d="M554.9 368.8l8.8-2.4 1.8-0.5-8.8 2.2z"/>
<path color="#652d05" d="M563.7 366.4l4.4-1.1 1.8-0.5-4.4 1.1z"/>
<path color="#6d3105" d="M568.1 365.3l4.6-0.9 1.7-0.6-4.5 1z"/>
<path color="#753606" d="M572.7 364.4l4.5-0.8 1.8-0.6-4.6 0.8z"/>
<path color="#7f3b07" d="M577.2 363.6l4.6-0.5 1.7-0.8-4.5 0.7z"/>
<path color="#894108" d="M581.8 363.1l4.7-0.4 1.7-0.9-4.7 0.5z"/>
<path color="#924609" d="M586.5 362.7l4.6-0.2 1.7-1-4.6 0.3z"/>
<path color="#9c4c0a" d="M591.1 362.5l4.7-0.1 1.7-1.1-4.7 0.2z"/>
<path color="#a7520b" d="M595.8 362.4l4.8 0.1 1.6-1.2-4.7 0z"/>
<path color="#b3580c" d="M600.6 362.5l4.7 0.2 1.7-1.3-4.8-0.1z"/>
<path color="#bb5d0d" d="M605.3 362.7l4.8 0.4 1.7-1.4-4.8-0.3z"/>
<path color="#fc9a16" d="M471.4 304.7l9.5 2.7 2.4-2-9.4-2.7z"/>
<path color="#fc9d16" d="M480.9 307.4l1.6 0.5 2.4-2.1-1.6-0.4z"/>
<path color="#fca117" d="M482.5 307.9l1.6 0.5 2.4-2.1-1.6-0.5z"/>
<path color="#fcaa18" d="M484.1 308.4l1.7 0.6 2.3-2.1-1.6-0.6z"/>
<path color="#fdba19" d="M485.8 309l1.6 0.7 2.3-2.2-1.6-0.6z"/>
<path color="#fed11b" d="M487.4 309.7l4.1 2.9 2.3-2.5-4.1-2.6z"/>
<path color="#ffe21c" d="M491.5 312.6l4.1 4.9 4.2 6.7 4.1 8.1 2.2-4.2-4.1-7.5-4.1-6.2-4.1-4.3z"/>
<path color="#ffde1c" d="M503.9 332.3l8.1 17.1 4 7.6 4 6.3 3.9 4.6 2.1-3.7-3.9-5.2-3.9-6.6-4-7.7-8.1-16.6z"/>
<path color="#fed31c" d="M523.9 367.9l4 3 2.1-3-4-3.7z"/>
<path color="#fcab18" d="M527.9 370.9l4 1.7 2.1-2.4-4-2.3z"/>
<path color="#e77912" d="M531.9 372.6l4.1 0.4 2-1.7-4-1.1z"/>
<path color="#a8520b" d="M536 373l4.1-0.3 2-1.3-4.1-0.1z"/>
<path color="#7e3b07" d="M540.1 372.7l4.2-0.9 2-0.9-4.2 0.5z"/>
<path color="#642c05" d="M544.3 371.8l4.3-1.2 1.9-0.7-4.2 1z"/>
<path color="#532404" d="M548.6 370.6l4.4-1.3 1.9-0.5-4.4 1.1z"/>
<path color="#4b2003" d="M553 369.3l8.8-2.4 1.9-0.5-8.8 2.4z"/>
<path color="#5f2a04" d="M561.8 366.9l4.5-1.1 1.8-0.5-4.4 1.1z"/>
<path color="#6e3205" d="M566.3 365.8l4.6-0.8 1.8-0.6-4.6 0.9z"/>
<path color="#7a3807" d="M570.9 365l4.5-0.7 1.8-0.7-4.5 0.8z"/>
<path color="#843e07" d="M575.4 364.3l4.7-0.4 1.7-0.8-4.6 0.5z"/>
<path color="#8e4408" d="M580.1 363.9l4.6-0.3 1.8-0.9-4.7 0.4z"/>
<path color="#994a09" d="M584.7 363.6l4.7-0.1 1.7-1-4.6 0.2z"/>
<path color="#a3500a" d="M589.4 363.5l4.7 0 1.7-1.1-4.7 0.1z"/>
<path color="#b0570c" d="M594.1 363.5l4.8 0.3 1.7-1.3-4.8-0.1z"/>
<path color="#bb5d0d" d="M598.9 363.8l4.8 0.3 1.6-1.4-4.7-0.2z"/>
<path color="#c3610e" d="M603.7 364.1l4.8 0.5 1.6-1.5-4.8-0.4z"/>
<path color="#fc9a16" d="M469 306.8l9.5 2.7 2.4-2.1-9.5-2.7z"/>
<path color="#fc9e16" d="M478.5 309.5l1.6 0.4 2.4-2-1.6-0.5z"/>
<path color="#fca417" d="M480.1 309.9l1.6 0.6 2.4-2.1-1.6-0.5z"/>
<path color="#fcae18" d="M481.7 310.5l1.6 0.6 2.5-2.1-1.7-0.6z"/>
<path color="#fdc11a" d="M483.3 311.1l1.7 0.9 2.4-2.3-1.6-0.7z"/>
<path color="#fed61c" d="M485 312l4.1 3.3 2.4-2.7-4.1-2.9z"/>
<path color="#ffe31c" d="M489.1 315.3l4.2 5.5 4.2 7.4 2.3-4-4.2-6.7-4.1-4.9z"/>
<path color="#ffdf1c" d="M497.5 328.2l4.1 8.6 2.3-4.5-4.1-8.1z"/>
<path color="#fedc1c" d="M501.6 336.8l8.2 17.5 4 7.3 2.2-4.6-4-7.6-8.1-17.1z"/>
<path color="#ffe01c" d="M513.8 361.6l4 5.7 2.2-4-4-6.3z"/>
<path color="#fedb1c" d="M517.8 367.3l4 4 2.1-3.4-3.9-4.6z"/>
<path color="#fdc31a" d="M521.8 371.3l4 2.3 2.1-2.7-4-3z"/>
<path color="#f78e15" d="M525.8 373.6l4.1 1 2-2-4-1.7z"/>
<path color="#c0600e" d="M529.9 374.6l4.1-0.1 2-1.5-4.1-0.4z"/>
<path color="#874008" d="M534 374.5l4.1-0.8 2-1-4.1 0.3z"/>
<path color="#652d05" d="M538.1 373.7l4.3-1.2 1.9-0.7-4.2 0.9z"/>
<path color="#522303" d="M542.4 372.5l4.3-1.4 1.9-0.5-4.3 1.2z"/>
<path color="#4b2003" d="M546.7 371.1l8.8-2.7 4.4-1.1 1.9-0.4-13.2 3.7z"/>
<path color="#5f2a04" d="M559.9 367.3l4.6-1 1.8-0.5-4.5 1.1z"/>
<path color="#733406" d="M564.5 366.3l4.5-0.7 1.9-0.6-4.6 0.8z"/>
<path color="#7f3b07" d="M569 365.6l4.6-0.5 1.8-0.8-4.5 0.7z"/>
<path color="#8a4208" d="M573.6 365.1l4.7-0.4 1.8-0.8-4.7 0.4z"/>
<path color="#954809" d="M578.3 364.7l4.6-0.1 1.8-1-4.6 0.3z"/>
<path color="#a04e0a" d="M582.9 364.6l4.7 0 1.8-1.1-4.7 0.1z"/>
<path color="#ad550b" d="M587.6 364.6l4.8 0.2 1.7-1.3-4.7 0z"/>
<path color="#b85b0d" d="M592.4 364.8l4.7 0.3 1.8-1.3-4.8-0.3z"/>
<path color="#c3610e" d="M597.1 365.1l4.8 0.5 1.8-1.5-4.8-0.3z"/>
<path color="#cb650f" d="M601.9 365.6l4.9 0.5 1.7-1.5-4.8-0.5z"/>
<path color="#fc9a16" d="M466.5 308.8l9.6 2.7 2.4-2-9.5-2.7z"/>
<path color="#fc9f17" d="M476.1 311.5l1.6 0.5 2.4-2.1-1.6-0.4z"/>
<path color="#fca717" d="M477.7 312l1.6 0.6 2.4-2.1-1.6-0.6z"/>
<path color="#fcb419" d="M479.3 312.6l1.6 0.7 2.4-2.2-1.6-0.6z"/>
<path color="#fdc81a" d="M480.9 313.3l1.7 1 2.4-2.3-1.7-0.9z"/>
<path color="#feda1c" d="M482.6 314.3l4.1 3.8 2.4-2.8-4.1-3.3z"/>
<path color="#ffe21c" d="M486.7 318.1l4.2 6.2 4.3 8 2.3-4.1-4.2-7.4-4.2-5.5z"/>
<path color="#fedc1c" d="M495.2 332.3l8.3 18.4 4.1 8.4 4.1 7 4 5.1 2.1-3.9-4-5.7-4-7.3-12.3-26.1z"/>
<path color="#fed21b" d="M515.7 371.2l4 3.2 2.1-3.1-4-4z"/>
<path color="#fca617" d="M519.7 374.4l4 1.6 2.1-2.4-4-2.3z"/>
<path color="#dc7011" d="M523.7 376l4.1 0.2 2.1-1.6-4.1-1z"/>
<path color="#954809" d="M527.8 376.2l4.1-0.6 2.1-1.1-4.1 0.1z"/>
<path color="#682e05" d="M531.9 375.6l4.2-1.2 2-0.7-4.1 0.8z"/>
<path color="#522303" d="M536.1 374.4l4.3-1.4 2-0.5-4.3 1.2z"/>
<path color="#4b2003" d="M540.4 373l8.7-2.9 4.5-1.3 4.4-1.1 1.9-0.4-4.4 1.1-13.1 4.1z"/>
<path color="#622c05" d="M558 367.7l4.6-0.8 1.9-0.6-4.6 1z"/>
<path color="#783806" d="M562.6 366.9l4.6-0.6 1.8-0.7-4.5 0.7z"/>
<path color="#863f08" d="M567.2 366.3l4.6-0.4 1.8-0.8-4.6 0.5z"/>
<path color="#914609" d="M571.8 365.9l4.6-0.2 1.9-1-4.7 0.4z"/>
<path color="#9c4c0a" d="M576.4 365.7l4.7 0 1.8-1.1-4.6 0.1z"/>
<path color="#a9530b" d="M581.1 365.7l4.7 0.1 1.8-1.2-4.7 0z"/>
<path color="#b65a0c" d="M585.8 365.8l4.8 0.3 1.8-1.3-4.8-0.2z"/>
<path color="#c1600e" d="M590.6 366.1l4.8 0.5 1.7-1.5-4.7-0.3z"/>
<path color="#cb660f" d="M595.4 366.6l4.8 0.5 1.7-1.5-4.8-0.5z"/>
<path color="#d26a10" d="M600.2 367.1l4.8 0.7 1.8-1.7-4.9-0.5z"/>
<path color="#fc9916" d="M464 310.9l8 2.3 2.5-2.1-8-2.3z"/>
<path color="#fc9c16" d="M472 313.2l1.6 0.4 2.5-2.1-1.6-0.4z"/>
<path color="#fca117" d="M473.6 313.6l1.6 0.6 2.5-2.2-1.6-0.5z"/>
<path color="#fcab18" d="M475.2 314.2l1.6 0.6 2.5-2.2-1.6-0.6z"/>
<path color="#fdbc19" d="M476.8 314.8l1.7 0.8 2.4-2.3-1.6-0.7z"/>
<path color="#fecf1b" d="M478.5 315.6l1.6 1.1 2.5-2.4-1.7-1z"/>
<path color="#ffde1c" d="M480.1 316.7l4.2 4.4 2.4-3-4.1-3.8z"/>
<path color="#ffe31c" d="M484.3 321.1l4.3 6.9 2.3-3.7-4.2-6.2z"/>
<path color="#ffde1c" d="M488.6 328l4.3 8.8 2.3-4.5-4.3-8z"/>
<path color="#fed81c" d="M492.9 336.8l8.4 19 4.1 8.2 2.2-4.9-4.1-8.4-8.3-18.4z"/>
<path color="#ffde1c" d="M505.4 364l4.1 6.4 2.2-4.3-4.1-7z"/>
<path color="#fedb1c" d="M509.5 370.4l4 4.3 2.2-3.5-4-5.1z"/>
<path color="#fdc01a" d="M513.5 374.7l4 2.4 2.2-2.7-4-3.2z"/>
<path color="#f48614" d="M517.5 377.1l4.1 0.8 2.1-1.9-4-1.6z"/>
<path color="#ab540b" d="M521.6 377.9l4.1-0.4 2.1-1.3-4.1-0.2z"/>
<path color="#733406" d="M525.7 377.5l4.1-1.1 2.1-0.8-4.1 0.6z"/>
<path color="#552504" d="M529.8 376.4l4.3-1.5 2-0.5-4.2 1.2z"/>
<path color="#4b2003" d="M534.1 374.9l8.6-3.1 4.4-1.4 4.5-1.2 4.5-1 1.9-0.5-4.4 1.1-4.5 1.3-13 4.3z"/>
<path color="#692f05" d="M556.1 368.2l4.6-0.7 1.9-0.6-4.6 0.8z"/>
<path color="#803c07" d="M560.7 367.5l4.6-0.5 1.9-0.7-4.6 0.6z"/>
<path color="#8d4308" d="M565.3 367l4.6-0.2 1.9-0.9-4.6 0.4z"/>
<path color="#994a09" d="M569.9 366.8l4.7-0.1 1.8-1-4.6 0.2z"/>
<path color="#a6510b" d="M574.6 366.7l4.7 0.1 1.8-1.1-4.7 0z"/>
<path color="#b3580c" d="M579.3 366.8l4.7 0.3 1.8-1.3-4.7-0.1z"/>
<path color="#bf5f0d" d="M584 367.1l4.8 0.5 1.8-1.5-4.8-0.3z"/>
<path color="#ca650f" d="M588.8 367.6l4.8 0.5 1.8-1.5-4.8-0.5z"/>
<path color="#d46a10" d="M593.6 368.1l4.8 0.7 1.8-1.7-4.8-0.5z"/>
<path color="#d96e10" d="M598.4 368.8l4.9 0.8 1.7-1.8-4.8-0.7z"/>
<path color="#fc9916" d="M461.4 313l8.1 2.3 2.5-2.1-8-2.3z"/>
<path color="#fc9d16" d="M469.5 315.3l1.6 0.5 2.5-2.2-1.6-0.4z"/>
<path color="#fca417" d="M471.1 315.8l1.6 0.5 2.5-2.1-1.6-0.6z"/>
<path color="#fcb018" d="M472.7 316.3l1.6 0.7 2.5-2.2-1.6-0.6z"/>
<path color="#fdc41a" d="M474.3 317l1.7 1 2.5-2.4-1.7-0.8z"/>
<path color="#fed51c" d="M476 318l1.6 1.2 2.5-2.5-1.6-1.1z"/>
<path color="#ffe11c" d="M477.6 319.2l4.3 5.1 4.3 7.7 2.4-4-4.3-6.9-4.2-4.4z"/>
<path color="#fedb1c" d="M486.2 332l4.4 9.6 2.3-4.8-4.3-8.8z"/>
<path color="#fed51c" d="M490.6 341.6l4.3 10 4.2 9.4 2.2-5.2-8.4-19z"/>
<path color="#feda1c" d="M499.1 361l4.1 7.8 2.2-4.8-4.1-8.2z"/>
<path color="#ffdd1c" d="M503.2 368.8l4.1 5.7 2.2-4.1-4.1-6.4z"/>
<path color="#fed11b" d="M507.3 374.5l4 3.4 2.2-3.2-4-4.3z"/>
<path color="#fc9f17" d="M511.3 377.9l4 1.5 2.2-2.3-4-2.4z"/>
<path color="#cc660f" d="M515.3 379.4l4.1 0 2.2-1.5-4.1-0.8z"/>
<path color="#823d07" d="M519.4 379.4l4.1-0.9 2.2-1-4.1 0.4z"/>
<path color="#5c2904" d="M523.5 378.5l4.2-1.5 2.1-0.6-4.1 1.1z"/>
<path color="#4b2003" d="M527.7 377l8.6-3.5 4.4-1.5 4.4-1.4 4.5-1.1 2-0.3-4.5 1.2-4.4 1.4-12.9 4.6z"/>
<path color="#5a2704" d="M549.6 369.5l4.5-0.8 2-0.5-4.5 1z"/>
<path color="#763606" d="M554.1 368.7l4.6-0.5 2-0.7-4.6 0.7z"/>
<path color="#884108" d="M558.7 368.2l4.6-0.3 2-0.9-4.6 0.5z"/>
<path color="#964809" d="M563.3 367.9l4.7-0.1 1.9-1-4.6 0.2z"/>
<path color="#a24f0a" d="M568 367.8l4.7 0.1 1.9-1.2-4.7 0.1z"/>
<path color="#b0570c" d="M572.7 367.9l4.7 0.2 1.9-1.3-4.7-0.1z"/>
<path color="#bd5e0d" d="M577.4 368.1l4.7 0.5 1.9-1.5-4.7-0.3z"/>
<path color="#c9640e" d="M582.1 368.6l4.8 0.5 1.9-1.5-4.8-0.5z"/>
<path color="#d36a10" d="M586.9 369.1l4.8 0.7 1.9-1.7-4.8-0.5z"/>
<path color="#da6f10" d="M591.7 369.8l4.9 0.7 1.8-1.7-4.8-0.7z"/>
<path color="#df7311" d="M596.6 370.5l4.9 0.9 1.8-1.8-4.9-0.8z"/>
<path color="#fc9a16" d="M458.9 315.1l8 2.3 2.6-2.1-8.1-2.3z"/>
<path color="#fc9f17" d="M466.9 317.4l1.6 0.6 2.6-2.2-1.6-0.5z"/>
<path color="#fca717" d="M468.5 318l1.7 0.5 2.5-2.2-1.6-0.5z"/>
<path color="#fcb819" d="M470.2 318.5l1.6 0.8 2.5-2.3-1.6-0.7z"/>
<path color="#fdcc1b" d="M471.8 319.3l1.7 1.1 2.5-2.4-1.7-1z"/>
<path color="#fedb1c" d="M473.5 320.4l1.7 1.5 2.4-2.7-1.6-1.2z"/>
<path color="#ffe21c" d="M475.2 321.9l4.3 5.9 2.4-3.5-4.3-5.1z"/>
<path color="#ffdf1c" d="M479.5 327.8l4.4 8.6 2.3-4.4-4.3-7.7z"/>
<path color="#fed61c" d="M483.9 336.4l4.4 10.3 2.3-5.1-4.4-9.6z"/>
<path color="#fed11b" d="M488.3 346.7l4.3 10.3 2.3-5.4-4.3-10z"/>
<path color="#fed41c" d="M492.6 357l4.2 9.3 2.3-5.3-4.2-9.4z"/>
<path color="#feda1c" d="M496.8 366.3l4.2 7.2 4 4.7 2.3-3.7-4.1-5.7-4.1-7.8z"/>
<path color="#fdbc19" d="M505 378.2l4.1 2.4 2.2-2.7-4-3.4z"/>
<path color="#ea7d13" d="M509.1 380.6l4 0.6 2.2-1.8-4-1.5z"/>
<path color="#964809" d="M513.1 381.2l4.1-0.7 2.2-1.1-4.1 0z"/>
<path color="#632c05" d="M517.2 380.5l4.2-1.5 2.1-0.5-4.1 0.9z"/>
<path color="#502203" d="M521.4 379l4.2-1.8 2.1-0.2-4.2 1.5z"/>
<path color="#4b2003" d="M525.6 377.2l8.6-3.6 4.4-1.5 4.5-1.2 4.5-0.9 2-0.5-4.5 1.1-4.4 1.4-13 5z"/>
<path color="#672e05" d="M547.6 370l4.5-0.7 2-0.6-4.5 0.8z"/>
<path color="#823d07" d="M552.1 369.3l4.6-0.3 2-0.8-4.6 0.5z"/>
<path color="#924609" d="M556.7 369l4.7-0.2 1.9-0.9-4.6 0.3z"/>
<path color="#9e4d0a" d="M561.4 368.8l4.6 0.1 2-1.1-4.7 0.1z"/>
<path color="#ad550b" d="M566 368.9l4.7 0.2 2-1.2-4.7-0.1z"/>
<path color="#bb5d0d" d="M570.7 369.1l4.8 0.4 1.9-1.4-4.7-0.2z"/>
<path color="#c7630e" d="M575.5 369.5l4.7 0.6 1.9-1.5-4.7-0.5z"/>
<path color="#d2690f" d="M580.2 370.1l4.8 0.7 1.9-1.7-4.8-0.5z"/>
<path color="#da6f10" d="M585 370.8l4.9 0.7 1.8-1.7-4.8-0.7z"/>
<path color="#e07411" d="M589.9 371.5l4.8 0.9 1.9-1.9-4.9-0.7z"/>
<path color="#e47712" d="M594.7 372.4l4.9 1 1.9-2-4.9-0.9z"/>
<path color="#fc9a16" d="M456.2 317.2l8.1 2.4 2.6-2.2-8-2.3z"/>
<path color="#fca117" d="M464.3 319.6l1.7 0.6 2.5-2.2-1.6-0.6z"/>
<path color="#fcac18" d="M466 320.2l1.6 0.6 2.6-2.3-1.7-0.5z"/>
<path color="#fdc01a" d="M467.6 320.8l1.7 0.9 2.5-2.4-1.6-0.8z"/>
<path color="#fed31c" d="M469.3 321.7l1.6 1.3 2.6-2.6-1.7-1.1z"/>
<path color="#ffe11c" d="M470.9 323l1.8 1.8 4.3 6.8 2.5-3.8-4.3-5.9-1.7-1.5z"/>
<path color="#feda1c" d="M477 331.6l4.5 9.6 2.4-4.8-4.4-8.6z"/>
<path color="#fecf1b" d="M481.5 341.2l8.8 21.4 2.3-5.6-8.7-20.6z"/>
<path color="#fed41c" d="M490.3 362.6l4.3 8.9 2.2-5.2-4.2-9.3z"/>
<path color="#feda1c" d="M494.6 371.5l4.1 6.3 2.3-4.3-4.2-7.2z"/>
<path color="#fecf1b" d="M498.7 377.8l4.1 3.7 2.2-3.3-4-4.7z"/>
<path color="#fb9716" d="M502.8 381.5l4 1.4 2.3-2.3-4.1-2.4z"/>
<path color="#b65a0c" d="M506.8 382.9l4.1-0.4 2.2-1.3-4-0.6z"/>
<path color="#703306" d="M510.9 382.5l4.1-1.3 2.2-0.7-4.1 0.7z"/>
<path color="#552504" d="M515 381.2l4.2-1.9 2.2-0.3-4.2 1.5z"/>
<path color="#4b2003" d="M519.2 379.3l8.5-4 4.4-1.6 4.4-1.4 4.5-1 2.1-0.4-4.5 1.2-4.4 1.5-12.8 5.4z"/>
<path color="#572604" d="M541 371.3l4.5-0.8 2.1-0.5-4.5 0.9z"/>
<path color="#763606" d="M545.5 370.5l4.6-0.4 2-0.8-4.5 0.7z"/>
<path color="#8d4308" d="M550.1 370.1l4.6-0.2 2-0.9-4.6 0.3z"/>
<path color="#9b4b0a" d="M554.7 369.9l4.6 0 2.1-1.1-4.7 0.2z"/>
<path color="#aa540b" d="M559.3 369.9l4.7 0.2 2-1.2-4.6-0.1z"/>
<path color="#b95c0d" d="M564 370.1l4.7 0.4 2-1.4-4.7-0.2z"/>
<path color="#c6630e" d="M568.7 370.5l4.8 0.6 2-1.6-4.8-0.4z"/>
<path color="#d1690f" d="M573.5 371.1l4.8 0.6 1.9-1.6-4.7-0.6z"/>
<path color="#da6f10" d="M578.3 371.7l4.8 0.8 1.9-1.7-4.8-0.7z"/>
<path color="#e07411" d="M583.1 372.5l4.9 0.9 1.9-1.9-4.9-0.7z"/>
<path color="#e67812" d="M588 373.4l4.8 1 1.9-2-4.8-0.9z"/>
<path color="#e97c13" d="M592.8 374.4l5 1 1.8-2-4.9-1z"/>
<path color="#fc9916" d="M453.6 319.4l6.5 1.9 2.6-2.2-6.5-1.9z"/>
<path color="#fc9d16" d="M460.1 321.3l1.6 0.5 2.6-2.2-1.6-0.5z"/>
<path color="#fca417" d="M461.7 321.8l1.7 0.6 2.6-2.2-1.7-0.6z"/>
<path color="#fcb319" d="M463.4 322.4l1.6 0.7 2.6-2.3-1.6-0.6z"/>
<path color="#fdc91b" d="M465 323.1l1.7 1.1 2.6-2.5-1.7-0.9z"/>
<path color="#feda1c" d="M466.7 324.2l1.7 1.5 2.5-2.7-1.6-1.3z"/>
<path color="#ffe21c" d="M468.4 325.7l1.7 2.1 4.5 7.9 2.4-4.1-4.3-6.8-1.8-1.8z"/>
<path color="#fed51c" d="M474.6 335.7l4.6 10.6 2.3-5.1-4.5-9.6z"/>
<path color="#fdcb1b" d="M479.2 346.3l4.5 11.4 4.4 10.6 2.2-5.7-8.8-21.4z"/>
<path color="#fed61c" d="M488.1 368.3l4.2 8.2 4.1 5.3 2.3-4-4.1-6.3-4.3-8.9z"/>
<path color="#fcb519" d="M496.4 381.8l4.1 2.4 2.3-2.7-4.1-3.7z"/>
<path color="#dd7111" d="M500.5 384.2l4 0.3 2.3-1.6-4-1.4z"/>
<path color="#843e07" d="M504.5 384.5l4.1-1.2 2.3-0.8-4.1 0.4z"/>
<path color="#5c2804" d="M508.6 383.3l4.1-1.9 2.3-0.2-4.1 1.3z"/>
<path color="#502203" d="M512.7 381.4l8.5-4.2 2.2 0.1-8.4 3.9z"/>
<path color="#4b2003" d="M521.2 377.2l4.3-1.9 4.4-1.6 4.5-1.2 4.5-0.8 2.1-0.4-4.5 1-4.4 1.4-4.4 1.6-4.3 2z"/>
<path color="#682e05" d="M538.9 371.7l4.5-0.5 2.1-0.7-4.5 0.8z"/>
<path color="#864008" d="M543.4 371.2l4.6-0.3 2.1-0.8-4.6 0.4z"/>
<path color="#984a09" d="M548 370.9l4.6 0 2.1-1-4.6 0.2z"/>
<path color="#a7520b" d="M552.6 370.9l4.7 0.2 2-1.2-4.6 0z"/>
<path color="#b75a0c" d="M557.3 371.1l4.7 0.4 2-1.4-4.7-0.2z"/>
<path color="#c5620e" d="M562 371.5l4.7 0.5 2-1.5-4.7-0.4z"/>
<path color="#d0680f" d="M566.7 372l4.8 0.7 2-1.6-4.8-0.6z"/>
<path color="#da6e10" d="M571.5 372.7l4.8 0.8 2-1.8-4.8-0.6z"/>
<path color="#e07411" d="M576.3 373.5l4.8 0.9 2-1.9-4.8-0.8z"/>
<path color="#e67912" d="M581.1 374.4l4.9 1 2-2-4.9-0.9z"/>
<path color="#ea7d13" d="M586 375.4l4.9 1 1.9-2-4.8-1z"/>
<path color="#ee7f13" d="M590.9 376.4l5 1.2 1.9-2.2-5-1z"/>
<path color="#fc9916" d="M450.9 321.6l6.5 1.9 2.7-2.2-6.5-1.9z"/>
<path color="#fc9e17" d="M457.4 323.5l1.7 0.6 2.6-2.3-1.6-0.5z"/>
<path color="#fca818" d="M459.1 324.1l1.6 0.6 2.7-2.3-1.7-0.6z"/>
<path color="#fdbc19" d="M460.7 324.7l1.7 0.8 2.6-2.4-1.6-0.7z"/>
<path color="#fed21b" d="M462.4 325.5l1.7 1.3 2.6-2.6-1.7-1.1z"/>
<path color="#ffe01c" d="M464.1 326.8l1.7 1.9 2.6-3-1.7-1.5z"/>
<path color="#ffe31c" d="M465.8 328.7l1.8 2.5 2.5-3.4-1.7-2.1z"/>
<path color="#fedc1c" d="M467.6 331.2l4.6 9.1 2.4-4.6-4.5-7.9z"/>
<path color="#fece1b" d="M472.2 340.3l4.6 11.5 2.4-5.5-4.6-10.6z"/>
<path color="#fdc61a" d="M476.8 351.8l4.6 11.9 2.3-6-4.5-11.4z"/>
<path color="#fdcb1b" d="M481.4 363.7l4.4 10.2 2.3-5.6-4.4-10.6z"/>
<path color="#fed51c" d="M485.8 373.9l4.2 7.3 2.3-4.7-4.2-8.2z"/>
<path color="#fdcb1b" d="M490 381.2l4.1 3.9 2.3-3.3-4.1-5.3z"/>
<path color="#f78d15" d="M494.1 385.1l4.1 1.2 2.3-2.1-4.1-2.4z"/>
<path color="#a04e0a" d="M498.2 386.3l4-0.8 2.3-1-4-0.3z"/>
<path color="#662d05" d="M502.2 385.5l4.1-1.8 2.3-0.4-4.1 1.2z"/>
<path color="#552504" d="M506.3 383.7l8.4-4.7 2.2 0.3-4.2 2.1-4.1 1.9z"/>
<path color="#502203" d="M514.7 379l4.2-2.1 2.3 0.3-4.3 2.1z"/>
<path color="#4b2003" d="M518.9 376.9l4.4-1.7 4.4-1.4 4.5-0.9 2.2-0.4-4.5 1.2-4.4 1.6-4.3 1.9z"/>
<path color="#5d2904" d="M532.2 372.9l4.5-0.7 2.2-0.5-4.5 0.8z"/>
<path color="#7d3a07" d="M536.7 372.2l4.6-0.3 2.1-0.7-4.5 0.5z"/>
<path color="#944709" d="M541.3 371.9l4.6 0 2.1-1-4.6 0.3z"/>
<path color="#a4500a" d="M545.9 371.9l4.6 0.2 2.1-1.2-4.6 0z"/>
<path color="#b5590c" d="M550.5 372.1l4.7 0.4 2.1-1.4-4.7-0.2z"/>
<path color="#c3610e" d="M555.2 372.5l4.7 0.5 2.1-1.5-4.7-0.4z"/>
<path color="#d0680f" d="M559.9 373l4.8 0.7 2-1.7-4.7-0.5z"/>
<path color="#da6e10" d="M564.7 373.7l4.7 0.8 2.1-1.8-4.8-0.7z"/>
<path color="#e07411" d="M569.4 374.5l4.9 0.9 2-1.9-4.8-0.8z"/>
<path color="#e67912" d="M574.3 375.4l4.8 1 2-2-4.8-0.9z"/>
<path color="#eb7d13" d="M579.1 376.4l4.9 1.1 2-2.1-4.9-1z"/>
<path color="#f08214" d="M584 377.5l9.9 2.3 2-2.2-9.9-2.2z"/>
<path color="#fc9916" d="M448.2 323.8l6.6 2 2.6-2.3-6.5-1.9z"/>
<path color="#fca017" d="M454.8 325.8l1.6 0.5 2.7-2.2-1.7-0.6z"/>
<path color="#fcae18" d="M456.4 326.3l1.7 0.7 2.6-2.3-1.6-0.6z"/>
<path color="#fdc61a" d="M458.1 327l1.7 1 2.6-2.5-1.7-0.8z"/>
<path color="#fed91c" d="M459.8 328l1.7 1.6 2.6-2.8-1.7-1.3z"/>
<path color="#ffe21c" d="M461.5 329.6l1.8 2.3 1.8 3 2.5-3.7-1.8-2.5-1.7-1.9z"/>
<path color="#fed61c" d="M465.1 334.9l4.7 10.4 2.4-5-4.6-9.1z"/>
<path color="#fdc61a" d="M469.8 345.3l4.7 12.5 2.3-6-4.6-11.5z"/>
<path color="#fdc21a" d="M474.5 357.8l4.6 12 2.3-6.1-4.6-11.9z"/>
<path color="#fdcc1b" d="M479.1 369.8l4.4 9.6 2.3-5.5-4.4-10.2z"/>
<path color="#fed21b" d="M483.5 379.4l4.2 5.9 2.3-4.1-4.2-7.3z"/>
<path color="#fcac18" d="M487.7 385.3l4.1 2.5 2.3-2.7-4.1-3.9z"/>
<path color="#cc660f" d="M491.8 387.8l4-0.1 2.4-1.4-4.1-1.2z"/>
<path color="#783806" d="M495.8 387.7l4-1.7 2.4-0.5-4 0.8z"/>
<path color="#5c2904" d="M499.8 386l4.1-2.4 2.4 0.1-4.1 1.8z"/>
<path color="#562604" d="M503.9 383.6l4.2-2.6 4.2-2.3 2.4 0.3-8.4 4.7z"/>
<path color="#4c2103" d="M512.3 378.7l4.4-2 4.3-1.5 2.3 0-4.4 1.7-4.2 2.1z"/>
<path color="#4b2003" d="M521 375.2l4.5-1.1 2.2-0.3-4.4 1.4z"/>
<path color="#512303" d="M525.5 374.1l4.5-0.8 2.2-0.4-4.5 0.9z"/>
<path color="#713306" d="M530 373.3l4.5-0.3 2.2-0.8-4.5 0.7z"/>
<path color="#8f4408" d="M534.5 373l4.6-0.1 2.2-1-4.6 0.3z"/>
<path color="#a04e0a" d="M539.1 372.9l4.6 0.1 2.2-1.1-4.6 0z"/>
<path color="#b2580c" d="M543.7 373l4.7 0.4 2.1-1.3-4.6-0.2z"/>
<path color="#c2610e" d="M548.4 373.4l4.7 0.6 2.1-1.5-4.7-0.4z"/>
<path color="#cf680f" d="M553.1 374l4.7 0.6 2.1-1.6-4.7-0.5z"/>
<path color="#da6e10" d="M557.8 374.6l4.8 0.9 2.1-1.8-4.8-0.7z"/>
<path color="#e17411" d="M562.6 375.5l4.8 0.9 2-1.9-4.7-0.8z"/>
<path color="#e77912" d="M567.4 376.4l4.8 1 2.1-2-4.9-0.9z"/>
<path color="#ec7e13" d="M572.2 377.4l4.9 1.1 2-2.1-4.8-1z"/>
<path color="#f08114" d="M577.1 378.5l4.9 1.1 2-2.1-4.9-1.1z"/>
<path color="#f38514" d="M582 379.6l9.9 2.5 2-2.3-9.9-2.3z"/>
<path color="#fc9a16" d="M445.5 326.1l6.6 2 2.7-2.3-6.6-2z"/>
<path color="#fca417" d="M452.1 328.1l1.6 0.5 2.7-2.3-1.6-0.5z"/>
<path color="#fcb619" d="M453.7 328.6l1.7 0.8 2.7-2.4-1.7-0.7z"/>
<path color="#fecf1b" d="M455.4 329.4l1.7 1.3 2.7-2.7-1.7-1z"/>
<path color="#ffdf1c" d="M457.1 330.7l1.8 1.9 2.6-3-1.7-1.6z"/>
<path color="#ffe31c" d="M458.9 332.6l1.8 2.8 2.6-3.5-1.8-2.3z"/>
<path color="#fedd1c" d="M460.7 335.4l1.9 3.6 2.5-4.1-1.8-3z"/>
<path color="#fdcd1b" d="M462.6 339l4.8 11.8 2.4-5.5-4.7-10.4z"/>
<path color="#fdbf1a" d="M467.4 350.8l4.8 13.3 4.6 12 2.3-6.3-9.3-24.5z"/>
<path color="#fdcd1b" d="M476.8 376.1l4.4 8.4 2.3-5.1-4.4-9.6z"/>
<path color="#fdc41a" d="M481.2 384.5l4.1 4.3 2.4-3.5-4.2-5.9z"/>
<path color="#f28314" d="M485.3 388.8l4.1 0.9 2.4-1.9-4.1-2.5z"/>
<path color="#934709" d="M489.4 389.7l4-1.3 2.4-0.7-4 0.1z"/>
<path color="#642d05" d="M493.4 388.4l4-2.5 2.4 0.1-4 1.7z"/>
<path color="#5c2804" d="M497.4 385.9l4.1-2.8 4.2-2.6 2.4 0.5-8.3 5z"/>
<path color="#542504" d="M505.7 380.5l4.3-2.2 2.3 0.4-4.2 2.3z"/>
<path color="#4b2003" d="M510 378.3l4.3-1.8 4.4-1.2 4.5-0.9 2.3-0.3-4.5 1.1-4.3 1.5-4.4 2z"/>
<path color="#632c05" d="M523.2 374.4l4.5-0.4 2.3-0.7-4.5 0.8z"/>
<path color="#874008" d="M527.7 374l4.5-0.2 2.3-0.8-4.5 0.3z"/>
<path color="#9d4d0a" d="M532.2 373.8l4.6 0.2 2.3-1.1-4.6 0.1z"/>
<path color="#b0570c" d="M536.8 374l4.7 0.3 2.2-1.3-4.6-0.1z"/>
<path color="#c1600e" d="M541.5 374.3l4.7 0.6 2.2-1.5-4.7-0.4z"/>
<path color="#cf680f" d="M546.2 374.9l4.7 0.7 2.2-1.6-4.7-0.6z"/>
<path color="#da6e10" d="M550.9 375.6l4.7 0.8 2.2-1.8-4.7-0.6z"/>
<path color="#e17511" d="M555.6 376.4l4.8 1 2.2-1.9-4.8-0.9z"/>
<path color="#e77a12" d="M560.4 377.4l4.8 1 2.2-2-4.8-0.9z"/>
<path color="#ec7e13" d="M565.2 378.4l4.9 1.1 2.1-2.1-4.8-1z"/>
<path color="#f08214" d="M570.1 379.5l4.9 1.2 2.1-2.2-4.9-1.1z"/>
<path color="#f48614" d="M575 380.7l9.9 2.5 2-2.3-9.8-2.4z"/>
<path color="#f58915" d="M584.9 383.2l5 1.3 2-2.4-5-1.2z"/>
<path color="#fc9916" d="M442.8 328.4l4.9 1.5 2.7-2.3-4.9-1.5z"/>
<path color="#fc9d16" d="M447.7 329.9l1.6 0.5 2.8-2.3-1.7-0.5z"/>
<path color="#fca918" d="M449.3 330.4l1.7 0.6 2.7-2.4-1.6-0.5z"/>
<path color="#fdc11a" d="M451 331l1.7 0.9 2.7-2.5-1.7-0.8z"/>
<path color="#fed71c" d="M452.7 331.9l1.7 1.6 2.7-2.8-1.7-1.3z"/>
<path color="#ffe11c" d="M454.4 333.5l1.8 2.5 1.9 3.4 2.6-4-1.8-2.8-1.8-1.9z"/>
<path color="#fed51c" d="M458.1 339.4l2 4.3 2.5-4.7-1.9-3.6z"/>
<path color="#fdc31a" d="M460.1 343.7l4.9 13.3 2.4-6.2-4.8-11.8z"/>
<path color="#fcb819" d="M465 357l4.9 13.8 2.3-6.7-4.8-13.3z"/>
<path color="#fdc21a" d="M469.9 370.8l4.6 11.3 2.3-6-4.6-12z"/>
<path color="#fdc91a" d="M474.5 382.1l4.3 6.9 2.4-4.5-4.4-8.4z"/>
<path color="#fc9b16" d="M478.8 389l4.1 2.5 2.4-2.7-4.1-4.3z"/>
<path color="#b95c0d" d="M482.9 391.5l4-0.7 2.5-1.1-4.1-0.9z"/>
<path color="#733506" d="M486.9 390.8l4-2.4 2.5 0-4 1.3z"/>
<path color="#612b04" d="M490.9 388.4l8.2-6 2.4 0.7-4.1 2.8-4 2.5z"/>
<path color="#5b2804" d="M499.1 382.4l4.2-2.5 2.4 0.6-4.2 2.6z"/>
<path color="#502203" d="M503.3 379.9l4.3-2 2.4 0.4-4.3 2.2z"/>
<path color="#4b2003" d="M507.6 377.9l4.3-1.4 4.4-1 2.4-0.2-4.4 1.2-4.3 1.8z"/>
<path color="#552504" d="M516.3 375.5l4.5-0.5 2.4-0.6-4.5 0.9z"/>
<path color="#7b3907" d="M520.8 375l4.6-0.2 2.3-0.8-4.5 0.4z"/>
<path color="#994a09" d="M525.4 374.8l4.5 0.1 2.3-1.1-4.5 0.2z"/>
<path color="#ad550b" d="M529.9 374.9l4.7 0.4 2.2-1.3-4.6-0.2z"/>
<path color="#bf5f0d" d="M534.6 375.3l4.6 0.5 2.3-1.5-4.7-0.3z"/>
<path color="#ce670f" d="M539.2 375.8l4.7 0.8 2.3-1.7-4.7-0.6z"/>
<path color="#da6e10" d="M543.9 376.6l4.8 0.8 2.2-1.8-4.7-0.7z"/>
<path color="#e17511" d="M548.7 377.4l4.7 1 2.2-2-4.7-0.8z"/>
<path color="#e87a12" d="M553.4 378.4l4.8 1 2.2-2-4.8-1z"/>
<path color="#ed7f13" d="M558.2 379.4l4.9 1.2 2.1-2.2-4.8-1z"/>
<path color="#f18214" d="M563.1 380.6l4.9 1.2 2.1-2.3-4.9-1.1z"/>
<path color="#f48714" d="M568 381.8l9.8 2.5 2.1-2.4-9.8-2.4z"/>
<path color="#f68b15" d="M577.8 384.3l10.1 2.8 2-2.6-10-2.6z"/>
<path color="#fc9916" d="M440 330.7l4.9 1.5 2.8-2.3-4.9-1.5z"/>
<path color="#fc9f17" d="M444.9 332.2l1.7 0.5 2.7-2.3-1.6-0.5z"/>
<path color="#fcb018" d="M446.6 332.7l1.6 0.7 2.8-2.4-1.7-0.6z"/>
<path color="#fdcb1b" d="M448.2 333.4l1.8 1.2 2.7-2.7-1.7-0.9z"/>
<path color="#ffde1c" d="M450 334.6l1.8 2.1 2.6-3.2-1.7-1.6z"/>
<path color="#ffe11c" d="M451.8 336.7l1.8 3.1 2.6-3.8-1.8-2.5z"/>
<path color="#fed91c" d="M453.6 339.8l2 4.1 2.5-4.5-1.9-3.4z"/>
<path color="#fdca1b" d="M455.6 343.9l2 5 2.5-5.2-2-4.3z"/>
<path color="#fdb919" d="M457.6 348.9l10 28.1 2.3-6.2-4.9-13.8-4.9-13.3z"/>
<path color="#fdc51a" d="M467.6 377l4.5 9.8 2.4-4.7-4.6-11.3z"/>
<path color="#fcab18" d="M472.1 386.8l4.3 4.8 2.4-2.6-4.3-6.9z"/>
<path color="#d2690f" d="M476.4 391.6l4 0.4 2.5-0.5-4.1-2.5z"/>
<path color="#833e07" d="M480.4 392l3.9-2 2.6 0.8-4 0.7z"/>
<path color="#652d05" d="M484.3 390l8.1-6.2 2.5 1.6-4 3-4 2.4z"/>
<path color="#602b04" d="M492.4 383.8l4.1-2.8 2.6 1.4-4.2 3z"/>
<path color="#562604" d="M496.5 381l4.3-2.1 2.5 1-4.2 2.5z"/>
<path color="#4b2003" d="M500.8 378.9l4.3-1.6 4.4-1.1 4.4-0.5 2.4-0.2-4.4 1-4.3 1.4-4.3 2z"/>
<path color="#632c05" d="M513.9 375.7l4.5-0.2 2.4-0.5-4.5 0.5z"/>
<path color="#8e4408" d="M518.4 375.5l4.6 0.1 2.4-0.8-4.6 0.2z"/>
<path color="#a9530b" d="M523 375.6l4.6 0.4 2.3-1.1-4.5-0.1z"/>
<path color="#bd5e0d" d="M527.6 376l4.6 0.6 2.4-1.3-4.7-0.4z"/>
<path color="#cd660f" d="M532.2 376.6l4.7 0.8 2.3-1.6-4.6-0.5z"/>
<path color="#d96e10" d="M536.9 377.4l4.7 0.8 2.3-1.6-4.7-0.8z"/>
<path color="#e17511" d="M541.6 378.2l4.8 1 2.3-1.8-4.8-0.8z"/>
<path color="#e87a12" d="M546.4 379.2l4.8 1.1 2.2-1.9-4.7-1z"/>
<path color="#ed7f13" d="M551.2 380.3l4.8 1.2 2.2-2.1-4.8-1z"/>
<path color="#f28314" d="M556 381.5l4.9 1.2 2.2-2.1-4.9-1.2z"/>
<path color="#f48714" d="M560.9 382.7l9.8 2.7 2.2-2.4-9.8-2.4z"/>
<path color="#f68c15" d="M570.7 385.4l10 2.8 2.1-2.5-9.9-2.7z"/>
<path color="#f78e15" d="M580.7 388.2l5.1 1.4 2.1-2.5-5.1-1.4z"/>
<path color="#fc9a16" d="M437.1 333l5 1.5 2.8-2.3-4.9-1.5z"/>
<path color="#fca317" d="M442.1 334.5l1.7 0.6 2.8-2.4-1.7-0.5z"/>
<path color="#fdba19" d="M443.8 335.1l1.7 0.8 2.7-2.5-1.6-0.7z"/>
<path color="#fed41c" d="M445.5 335.9l1.7 1.6 2.8-2.9-1.8-1.2z"/>
<path color="#ffe01c" d="M447.2 337.5l1.9 2.7 2.7-3.5-1.8-2.1z"/>
<path color="#fedb1c" d="M449.1 340.2l1.9 3.9 2.6-4.3-1.8-3.1z"/>
<path color="#fece1b" d="M451 344.1l2.1 5.1 2.5-5.3-2-4.1z"/>
<path color="#fdbf1a" d="M453.1 349.2l2 5.3 2.5-5.6-2-5z"/>
<path color="#fcb619" d="M455.1 354.5l5.1 14.6 2.4-5.8-5-14.4z"/>
<path color="#fdbd19" d="M460.2 369.1l4.9 12.5 4.5 7.5 2.5-2.3-4.5-9.8-5-13.7z"/>
<path color="#ea7d13" d="M469.6 389.1l4.1 2.3 2.7 0.2-4.3-4.8z"/>
<path color="#894108" d="M473.7 391.4l4-1.2 2.7 1.8-4-0.4z"/>
<path color="#642d05" d="M477.7 390.2l3.9-2.9 4-3.2 2.7 2.9-4 3-3.9 2z"/>
<path color="#622c05" d="M485.6 384.1l4.1-2.8 2.7 2.5-4.1 3.2z"/>
<path color="#592704" d="M489.7 381.3l4.2-2.2 2.6 1.9-4.1 2.8z"/>
<path color="#4b2003" d="M493.9 379.1l4.3-1.6 4.4-1 4.4-0.6 2.5 0.3-4.4 1.1-4.3 1.6-4.3 2.1z"/>
<path color="#522403" d="M507 375.9l4.5-0.1 2.4-0.1-4.4 0.5z"/>
<path color="#7c3907" d="M511.5 375.8l4.5 0.2 2.4-0.5-4.5 0.2z"/>
<path color="#a24f0a" d="M516 376l4.6 0.5 2.4-0.9-4.6-0.1z"/>
<path color="#bd5e0d" d="M520.6 376.5l4.6 0.7 2.4-1.2-4.6-0.4z"/>
<path color="#ce670f" d="M525.2 377.2l4.7 0.8 2.3-1.4-4.6-0.6z"/>
<path color="#da6f10" d="M529.9 378l4.7 0.9 2.3-1.5-4.7-0.8z"/>
<path color="#e27612" d="M534.6 378.9l4.7 1.1 2.3-1.8-4.7-0.8z"/>
<path color="#e97c13" d="M539.3 380l4.8 1.1 2.3-1.9-4.8-1z"/>
<path color="#ee8013" d="M544.1 381.1l4.8 1.3 2.3-2.1-4.8-1.1z"/>
<path color="#f38414" d="M548.9 382.4l4.9 1.2 2.2-2.1-4.8-1.2z"/>
<path color="#f58814" d="M553.8 383.6l9.8 2.7 2.2-2.3-9.8-2.5z"/>
<path color="#f78d15" d="M563.6 386.3l10 2.9 2.1-2.5-9.9-2.7z"/>
<path color="#f89015" d="M573.6 389.2l10.1 3 2.1-2.6-10.1-2.9z"/>
<path color="#fc9916" d="M434.3 335.3l3.3 1.1 2.8-2.4-3.3-1z"/>
<path color="#fc9c16" d="M437.6 336.4l1.6 0.5 2.9-2.4-1.7-0.5z"/>
<path color="#fca918" d="M439.2 336.9l1.7 0.6 2.9-2.4-1.7-0.6z"/>
<path color="#fdc51a" d="M440.9 337.5l1.7 1.1 2.9-2.7-1.7-0.8z"/>
<path color="#fedb1c" d="M442.6 338.6l1.9 2.2 1.9 3.5 2.7-4.1-1.9-2.7-1.7-1.6z"/>
<path color="#fed01b" d="M446.4 344.3l2.1 4.9 2.5-5.1-1.9-3.9z"/>
<path color="#fdc21a" d="M448.5 349.2l2.1 5.5 2.5-5.5-2.1-5.1z"/>
<path color="#fcb719" d="M450.6 354.7l7.2 19.9 2.4-5.5-5.1-14.6-2-5.3z"/>
<path color="#fdc11a" d="M457.8 374.6l4.8 10.7 2.5-3.7-4.9-12.5z"/>
<path color="#fc9d16" d="M462.6 385.3l4.3 4.8 2.7-1-4.5-7.5z"/>
<path color="#ac550b" d="M466.9 390.1l4 0 2.8 1.3-4.1-2.3z"/>
<path color="#682f05" d="M470.9 390.1l3.9-2.4 2.9 2.5-4 1.2z"/>
<path color="#622b05" d="M474.8 387.7l4-3.2 4.1-2.9 2.7 2.5-4 3.2-3.9 2.9z"/>
<path color="#5a2804" d="M482.9 381.6l4.1-2.3 2.7 2-4.1 2.8z"/>
<path color="#4b2003" d="M487 379.3l4.3-1.6 4.3-1 4.4-0.5 2.6 0.3-4.4 1-4.3 1.6-4.2 2.2z"/>
<path color="#562604" d="M500 376.2l4.5 0 2.5-0.3-4.4 0.6z"/>
<path color="#7a3907" d="M504.5 376.2l4.5 0.3 2.5-0.7-4.5 0.1z"/>
<path color="#a24f0a" d="M509 376.5l4.5 0.5 2.5-1-4.5-0.2z"/>
<path color="#c1600e" d="M513.5 377l4.6 0.8 2.5-1.3-4.6-0.5z"/>
<path color="#d26a10" d="M518.1 377.8l4.7 0.8 2.4-1.4-4.6-0.7z"/>
<path color="#de7211" d="M522.8 378.6l4.7 1.1 2.4-1.7-4.7-0.8z"/>
<path color="#e67912" d="M527.5 379.7l4.7 1.1 2.4-1.9-4.7-0.9z"/>
<path color="#ec7e13" d="M532.2 380.8l4.8 1.2 2.3-2-4.7-1.1z"/>
<path color="#f18214" d="M537 382l4.8 1.3 2.3-2.2-4.8-1.1z"/>
<path color="#f48614" d="M541.8 383.3l4.8 1.3 2.3-2.2-4.8-1.3z"/>
<path color="#f68a15" d="M546.6 384.6l9.8 2.8 2.3-2.4-9.8-2.6z"/>
<path color="#f88f15" d="M556.4 387.4l15 4.4 2.2-2.6-14.9-4.2z"/>
<path color="#f99215" d="M571.4 391.8l10.1 3.1 2.2-2.7-10.1-3z"/>
<path color="#fc9916" d="M431.4 337.7l3.3 1.1 2.9-2.4-3.3-1.1z"/>
<path color="#fc9f17" d="M434.7 338.8l1.7 0.5 2.8-2.4-1.6-0.5z"/>
<path color="#fcb118" d="M436.4 339.3l1.7 0.8 2.8-2.6-1.7-0.6z"/>
<path color="#fecf1b" d="M438.1 340.1l1.7 1.5 2.8-3-1.7-1.1z"/>
<path color="#fedb1c" d="M439.8 341.6l1.9 2.9 2.8-3.7-1.9-2.2z"/>
<path color="#fed31c" d="M441.7 344.5l2.1 4.6 2.6-4.8-1.9-3.5z"/>
<path color="#fdc41a" d="M443.8 349.1l2.2 5.8 2.5-5.7-2.1-4.9z"/>
<path color="#fcb819" d="M446 354.9l2.1 5.5 2.5-5.7-2.1-5.5z"/>
<path color="#fcb419" d="M448.1 360.4l2.1 5.8 2.5-5.9-2.1-5.6z"/>
<path color="#fdbc19" d="M450.2 366.2l5.1 13.4 2.5-5-5.1-14.3z"/>
<path color="#fcb619" d="M455.3 379.6l4.7 8.1 2.6-2.4-4.8-10.7z"/>
<path color="#e47712" d="M460 387.7l4.1 2 2.8 0.4-4.3-4.8z"/>
<path color="#813d07" d="M464.1 389.7l3.9-1.7 2.9 2.1-4 0z"/>
<path color="#612b04" d="M468 388l7.9-6.1 2.9 2.6-4 3.2-3.9 2.4z"/>
<path color="#5b2804" d="M475.9 381.9l4.1-2.4 2.9 2.1-4.1 2.9z"/>
<path color="#4c2003" d="M480 379.5l4.3-1.7 4.3-0.9 4.3-0.4 2.7 0.2-4.3 1-4.3 1.6-4.1 2.3z"/>
<path color="#5b2804" d="M492.9 376.5l4.5 0.1 2.6-0.4-4.4 0.5z"/>
<path color="#823d07" d="M497.4 376.6l4.5 0.3 2.6-0.7-4.5 0z"/>
<path color="#aa540b" d="M501.9 376.9l4.5 0.7 2.6-1.1-4.5-0.3z"/>
<path color="#c8640e" d="M506.4 377.6l4.6 0.8 2.5-1.4-4.5-0.5z"/>
<path color="#d86d10" d="M511 378.4l4.7 1 2.4-1.6-4.6-0.8z"/>
<path color="#e27612" d="M515.7 379.4l4.6 1 2.5-1.8-4.7-0.8z"/>
<path color="#ea7c13" d="M520.3 380.4l4.7 1.2 2.5-1.9-4.7-1.1z"/>
<path color="#f08114" d="M525 381.6l4.8 1.3 2.4-2.1-4.7-1.1z"/>
<path color="#f38514" d="M529.8 382.9l4.8 1.3 2.4-2.2-4.8-1.2z"/>
<path color="#f68a15" d="M534.6 384.2l9.7 2.8 2.3-2.4-9.6-2.6z"/>
<path color="#f78e15" d="M544.3 387l9.8 2.9 2.3-2.5-9.8-2.8z"/>
<path color="#f99215" d="M554.1 389.9l20.1 6.2 2.2-2.8-20-5.9z"/>
<path color="#fa9416" d="M574.2 396.1l5.2 1.6 2.1-2.8-5.1-1.6z"/>
<path color="#fc9a16" d="M428.4 340.2l3.4 1 2.9-2.4-3.3-1.1z"/>
<path color="#fca317" d="M431.8 341.2l1.6 0.6 3-2.5-1.7-0.5z"/>
<path color="#fdbc19" d="M433.4 341.8l1.8 0.9 2.9-2.6-1.7-0.8z"/>
<path color="#fed51c" d="M435.2 342.7l1.8 2.2 2.1 4.1 2.6-4.5-1.9-2.9-1.7-1.5z"/>
<path color="#fdc71a" d="M439.1 349l2.2 5.9 2.5-5.8-2.1-4.6z"/>
<path color="#fdb919" d="M441.3 354.9l2.1 5.6 2.6-5.6-2.2-5.8z"/>
<path color="#fcb419" d="M443.4 360.5l4.3 11.6 2.5-5.9-4.2-11.3z"/>
<path color="#fdbb19" d="M447.7 372.1l5.1 11.5 2.5-4-5.1-13.4z"/>
<path color="#fa9516" d="M452.8 383.6l4.4 4.9 2.8-0.8-4.7-8.1z"/>
<path color="#a5510b" d="M457.2 388.5l3.9-0.4 3 1.6-4.1-2z"/>
<path color="#682e05" d="M461.1 388.1l3.9-2.9 3 2.8-3.9 1.7z"/>
<path color="#602b04" d="M465 385.2l4-3 2.9 2.7-3.9 3.1z"/>
<path color="#5b2804" d="M469 382.2l4-2.5 2.9 2.2-4 3z"/>
<path color="#4e2203" d="M473 379.7l4.2-1.7 2.8 1.5-4.1 2.4z"/>
<path color="#4b2003" d="M477.2 378l4.3-0.9 4.3-0.3 2.8 0.1-4.3 0.9-4.3 1.7z"/>
<path color="#642c05" d="M485.8 376.8l4.5 0.2 2.6-0.5-4.3 0.4z"/>
<path color="#8c4308" d="M490.3 377l4.4 0.4 2.7-0.8-4.5-0.1z"/>
<path color="#b4590c" d="M494.7 377.4l4.6 0.7 2.6-1.2-4.5-0.3z"/>
<path color="#d0680f" d="M499.3 378.1l4.5 1 2.6-1.5-4.5-0.7z"/>
<path color="#de7211" d="M503.8 379.1l4.7 1 2.5-1.7-4.6-0.8z"/>
<path color="#e77a12" d="M508.5 380.1l4.6 1.2 2.6-1.9-4.7-1z"/>
<path color="#ee8013" d="M513.1 381.3l4.7 1.2 2.5-2.1-4.6-1z"/>
<path color="#f38414" d="M517.8 382.5l4.8 1.3 2.4-2.2-4.7-1.2z"/>
<path color="#f58814" d="M522.6 383.8l4.7 1.4 2.5-2.3-4.8-1.3z"/>
<path color="#f78c15" d="M527.3 385.2l9.7 2.8 2.4-2.4-9.6-2.7z"/>
<path color="#f89115" d="M537 388l14.8 4.6 2.3-2.7-14.7-4.3z"/>
<path color="#fa9416" d="M551.8 392.6l25.3 8 2.3-2.9-25.3-7.8z"/>
<path color="#fc9a16" d="M425.5 342.6l3.3 1.1 3-2.5-3.4-1z"/>
<path color="#fca918" d="M428.8 343.7l1.7 0.6 2.9-2.5-1.6-0.6z"/>
<path color="#fdc71a" d="M430.5 344.3l1.8 1.3 2.9-2.9-1.8-0.9z"/>
<path color="#fed51c" d="M432.3 345.6l2 3.3 2.7-4-1.8-2.2z"/>
<path color="#fdca1b" d="M434.3 348.9l2.2 5.6 2.6-5.5-2.1-4.1z"/>
<path color="#fdba19" d="M436.5 354.5l2.2 6.2 2.6-5.8-2.2-5.9z"/>
<path color="#fcb319" d="M438.7 360.7l4.4 11.4 2.5-5.8-4.3-11.4z"/>
<path color="#fdbb19" d="M443.1 372.1l2.1 5.3 2.5-5.3-2.1-5.8z"/>
<path color="#fcaf18" d="M445.2 377.4l4.8 8.8 2.8-2.6-5.1-11.5z"/>
<path color="#dd7111" d="M450 386.2l4.2 1.6 3 0.7-4.4-4.9z"/>
<path color="#7c3a07" d="M454.2 387.8l3.9-2.2 3 2.5-3.9 0.4z"/>
<path color="#602a04" d="M458.1 385.6l3.8-3.1 3.1 2.7-3.9 2.9z"/>
<path color="#5b2804" d="M461.9 382.5l4-2.6 3.1 2.3-4 3z"/>
<path color="#502203" d="M465.9 379.9l4.2-1.7 2.9 1.5-4 2.5z"/>
<path color="#4b2003" d="M470.1 378.2l4.2-0.8 2.9 0.6-4.2 1.7z"/>
<path color="#512303" d="M474.3 377.4l4.4-0.3 2.8 0-4.3 0.9z"/>
<path color="#6c3105" d="M478.7 377.1l4.4 0.3 2.7-0.6-4.3 0.3z"/>
<path color="#974909" d="M483.1 377.4l4.4 0.6 2.8-1-4.5-0.2z"/>
<path color="#be5f0d" d="M487.5 378l4.6 0.8 2.6-1.4-4.4-0.4z"/>
<path color="#d86d10" d="M492.1 378.8l4.5 1 2.7-1.7-4.6-0.7z"/>
<path color="#e37612" d="M496.6 379.8l4.6 1.1 2.6-1.8-4.5-1z"/>
<path color="#ec7e13" d="M501.2 380.9l4.7 1.2 2.6-2-4.7-1z"/>
<path color="#f28314" d="M505.9 382.1l4.7 1.3 2.5-2.1-4.6-1.2z"/>
<path color="#f58814" d="M510.6 383.4l4.7 1.4 2.5-2.3-4.7-1.2z"/>
<path color="#f78c15" d="M515.3 384.8l9.5 2.9 2.5-2.5-9.5-2.7z"/>
<path color="#f99115" d="M524.8 387.7l14.6 4.5 2.5-2.7-14.6-4.3z"/>
<path color="#fa9516" d="M539.4 392.2l30.3 9.7 2.3-3-30.1-9.4z"/>
<path color="#fb9616" d="M569.7 401.9l5.2 1.7 2.2-3-5.1-1.7z"/>
<path color="#fc9916" d="M422.4 345.1l1.7 0.5 3-2.5-1.6-0.5z"/>
<path color="#fc9e17" d="M424.1 345.6l1.7 0.6 3-2.5-1.7-0.6z"/>
<path color="#fcb218" d="M425.8 346.2l1.7 0.7 3-2.6-1.7-0.6z"/>
<path color="#fdcd1b" d="M427.5 346.9l1.9 2.1 2.2 4.9 2.7-5-2-3.3-1.8-1.3z"/>
<path color="#fdbc19" d="M431.6 353.9l2.4 7.1 2.5-6.5-2.2-5.6z"/>
<path color="#fcb319" d="M434 361l4.4 11.2 2.5-5.9-4.4-11.8z"/>
<path color="#fdbc19" d="M438.4 372.2l2.2 5.3 2 4.4 2.6-4.5-4.3-11.1z"/>
<path color="#f99215" d="M442.6 381.9l4.5 5 2.9-0.7-4.8-8.8z"/>
<path color="#a4500a" d="M447.1 386.9l3.9-1.1 3.2 2-4.2-1.6z"/>
<path color="#672e05" d="M451 385.8l3.9-3 3.2 2.8-3.9 2.2z"/>
<path color="#5a2804" d="M454.9 382.8l3.9-2.7 3.1 2.4-3.8 3.1z"/>
<path color="#512303" d="M458.8 380.1l4.1-1.7 3 1.5-4 2.6z"/>
<path color="#4b2003" d="M462.9 378.4l4.2-0.8 3 0.6-4.2 1.7z"/>
<path color="#552504" d="M467.1 377.6l4.3-0.1 2.9-0.1-4.2 0.8z"/>
<path color="#763606" d="M471.4 377.5l4.4 0.4 2.9-0.8-4.4 0.3z"/>
<path color="#a14e0a" d="M475.8 377.9l4.5 0.6 2.8-1.1-4.4-0.3z"/>
<path color="#c9640e" d="M480.3 378.5l4.5 1 2.7-1.5-4.4-0.6z"/>
<path color="#de7211" d="M484.8 379.5l4.5 1 2.8-1.7-4.6-0.8z"/>
<path color="#e87b12" d="M489.3 380.5l4.6 1.3 2.7-2-4.5-1z"/>
<path color="#f08214" d="M493.9 381.8l4.7 1.2 2.6-2.1-4.6-1.1z"/>
<path color="#f48714" d="M498.6 383l4.6 1.4 2.7-2.3-4.7-1.2z"/>
<path color="#f68c15" d="M503.2 384.4l9.5 2.9 2.6-2.5-9.4-2.7z"/>
<path color="#f99115" d="M512.7 387.3l14.5 4.5 2.5-2.7-14.4-4.3z"/>
<path color="#fa9516" d="M527.2 391.8l29.9 9.7 2.4-2.9-29.8-9.5z"/>
<path color="#fb9716" d="M557.1 401.5l15.5 5.1 2.3-3-15.4-5z"/>
<path color="#fc9a16" d="M419.4 347.6l1.7 0.5 3-2.5-1.7-0.5z"/>
<path color="#fca217" d="M421.1 348.1l1.7 0.6 3-2.5-1.7-0.6z"/>
<path color="#fdbc19" d="M422.8 348.7l1.7 1.1 3-2.9-1.7-0.7z"/>
<path color="#fdcb1b" d="M424.5 349.8l2.1 3.5 2.8-4.3-1.9-2.1z"/>
<path color="#fdc01a" d="M426.6 353.3l2.5 7.2 2.5-6.6-2.2-4.9z"/>
<path color="#fcb319" d="M429.1 360.5l4.5 11.8 2.6-5.9-2.2-5.4-2.4-7.1z"/>
<path color="#fdbc19" d="M433.6 372.3l2.2 5.3 2.6-5.4-2.2-5.8z"/>
<path color="#fdc41a" d="M435.8 377.6l2.1 4.3 2.7-4.4-2.2-5.3z"/>
<path color="#fcab18" d="M437.9 381.9l1.9 2.7 2.8-2.7-2-4.4z"/>
<path color="#d56b10" d="M439.8 384.6l4.1 1.2 3.2 1.1-4.5-5z"/>
<path color="#7b3907" d="M443.9 385.8l3.8-2.7 3.3 2.7-3.9 1.1z"/>
<path color="#5b2804" d="M447.7 383.1l3.9-2.8 3.3 2.5-3.9 3z"/>
<path color="#522303" d="M451.6 380.3l4.1-1.7 3.1 1.5-3.9 2.7z"/>
<path color="#4f2203" d="M455.7 378.6l4.1-0.7 3.1 0.5-4.1 1.7z"/>
<path color="#5d2904" d="M459.8 377.9l4.3 0 3-0.3-4.2 0.8z"/>
<path color="#803c07" d="M464.1 377.9l4.4 0.5 2.9-0.9-4.3 0.1z"/>
<path color="#ad550b" d="M468.5 378.4l4.5 0.8 2.8-1.3-4.4-0.4z"/>
<path color="#d46a10" d="M473 379.2l4.5 1 2.8-1.7-4.5-0.6z"/>
<path color="#e47712" d="M477.5 380.2l4.5 1.2 2.8-1.9-4.5-1z"/>
<path color="#ee8013" d="M482 381.4l4.6 1.3 2.7-2.2-4.5-1z"/>
<path color="#f48614" d="M486.6 382.7l4.6 1.3 2.7-2.2-4.6-1.3z"/>
<path color="#f68a15" d="M491.2 384l4.7 1.4 2.7-2.4-4.7-1.2z"/>
<path color="#f88f15" d="M495.9 385.4l9.4 3 2.6-2.6-9.3-2.8z"/>
<path color="#f99315" d="M505.3 388.4l14.4 4.6 2.6-2.7-14.4-4.5z"/>
<path color="#fb9716" d="M519.7 393l50.6 16.7 2.3-3.1-50.3-16.3z"/>
<path color="#fc9b16" d="M416.3 350.1l1.7 0.6 3.1-2.6-1.7-0.5z"/>
<path color="#fca817" d="M418 350.7l1.7 0.6 3.1-2.6-1.7-0.6z"/>
<path color="#fdc21a" d="M419.7 351.3l1.9 1.9 2.3 6 2.7-5.9-2.1-3.5-1.7-1.1z"/>
<path color="#fcb319" d="M423.9 359.2l2.6 7.7 2.3 5.5 2.6-5.8-2.3-6.1-2.5-7.2z"/>
<path color="#fdbd19" d="M428.8 372.4l2.2 5.3 2.6-5.4-2.2-5.7z"/>
<path color="#fdc41a" d="M431 377.7l2.1 4.1 2.7-4.2-2.2-5.3z"/>
<path color="#fcb118" d="M433.1 381.8l1.9 2.5 2.9-2.4-2.1-4.3z"/>
<path color="#ec7e13" d="M435 384.3l1.7 0.8 3.1-0.5-1.9-2.7z"/>
<path color="#924609" d="M436.7 385.1l3.8-1.7 3.4 2.4-4.1-1.2z"/>
<path color="#602a04" d="M440.5 383.4l3.9-2.8 3.3 2.5-3.8 2.7z"/>
<path color="#532404" d="M444.4 380.6l4-1.8 4.1-0.6 3.2 0.4-4.1 1.7-3.9 2.8z"/>
<path color="#632c05" d="M452.5 378.2l4.3 0.1 3-0.4-4.1 0.7z"/>
<path color="#8d4308" d="M456.8 378.3l4.4 0.6 2.9-1-4.3 0z"/>
<path color="#bb5d0d" d="M461.2 378.9l4.4 1 2.9-1.5-4.4-0.5z"/>
<path color="#dd7111" d="M465.6 379.9l4.5 1.1 2.9-1.8-4.5-0.8z"/>
<path color="#eb7d13" d="M470.1 381l4.5 1.3 2.9-2.1-4.5-1z"/>
<path color="#f38414" d="M474.6 382.3l4.6 1.3 2.8-2.2-4.5-1.2z"/>
<path color="#f58a15" d="M479.2 383.6l4.6 1.4 2.8-2.3-4.6-1.3z"/>
<path color="#f88f15" d="M483.8 385l9.3 3 2.8-2.6-9.3-2.7z"/>
<path color="#fa9315" d="M493.1 388l14.3 4.7 2.7-2.8-14.2-4.5z"/>
<path color="#fb9716" d="M507.4 392.7l60.5 20.2 2.4-3.2-60.2-19.8z"/>
<path color="#fc9e16" d="M413.2 352.7l1.7 0.6 3.1-2.6-1.7-0.6z"/>
<path color="#fcae18" d="M414.9 353.3l1.7 0.7 3.1-2.7-1.7-0.6z"/>
<path color="#fdbf1a" d="M416.6 354l2.1 3.8 2.9-4.6-1.9-1.9z"/>
<path color="#fcb719" d="M418.7 357.8l2.9 9.5 2.3-8.1-2.3-6z"/>
<path color="#fcb218" d="M421.6 367.3l2.3 5.3 2.6-5.7-2.6-7.7z"/>
<path color="#fdbe19" d="M423.9 372.6l2.2 5.2 2.1 4 2.8-4.1-4.5-10.8z"/>
<path color="#fca317" d="M428.2 381.8l1.9 2 3-2-2.1-4.1z"/>
<path color="#e07411" d="M430.1 383.8l1.6 0.4 3.3 0.1-1.9-2.5z"/>
<path color="#944709" d="M431.7 384.2l1.6-0.7 3.4 1.6-1.7-0.8z"/>
<path color="#622c05" d="M433.3 383.5l3.7-2.7 3.5 2.6-3.8 1.7z"/>
<path color="#532404" d="M437 380.8l4-1.8 3.4 1.6-3.9 2.8z"/>
<path color="#592704" d="M441 379l4.1-0.5 3.3 0.3-4 1.8z"/>
<path color="#713306" d="M445.1 378.5l4.3 0.3 3.1-0.6-4.1 0.6z"/>
<path color="#9a4a09" d="M449.4 378.8l4.4 0.8 3-1.3-4.3-0.1z"/>
<path color="#cb650f" d="M453.8 379.6l4.4 1.1 3-1.8-4.4-0.6z"/>
<path color="#e57812" d="M458.2 380.7l4.5 1.2 2.9-2-4.4-1z"/>
<path color="#f18214" d="M462.7 381.9l4.5 1.3 2.9-2.2-4.5-1.1z"/>
<path color="#f58914" d="M467.2 383.2l4.6 1.5 2.8-2.4-4.5-1.3z"/>
<path color="#f78e15" d="M471.8 384.7l4.6 1.4 2.8-2.5-4.6-1.3z"/>
<path color="#f99215" d="M476.4 386.1l9.3 3.1 2.8-2.7-9.3-2.9z"/>
<path color="#fb9616" d="M485.7 389.2l23.9 8 2.6-2.9-23.7-7.8z"/>
<path color="#fc9816" d="M509.6 397.2l55.9 19 2.4-3.3-55.7-18.6z"/>
<path color="#fca117" d="M410 355.3l1.7 0.6 3.2-2.6-1.7-0.6z"/>
<path color="#fcb118" d="M411.7 355.9l1.9 1.4 3-3.3-1.7-0.7z"/>
<path color="#fcb619" d="M413.6 357.3l2.7 8 2.4-7.5-2.1-3.8z"/>
<path color="#fcb319" d="M416.3 365.3l2.6 7.5 2.7-5.5-2.9-9.5z"/>
<path color="#fdbb19" d="M418.9 372.8l2.3 5.1 2.7-5.3-2.3-5.3z"/>
<path color="#fcb519" d="M421.2 377.9l2 3.7 2.9-3.8-2.2-5.2z"/>
<path color="#f99115" d="M423.2 381.6l1.8 1.5 3.2-1.3-2.1-4z"/>
<path color="#c6630e" d="M425 383.1l1.6-0.1 3.5 0.8-1.9-2z"/>
<path color="#823d07" d="M426.6 383l1.6-0.9 3.5 2.1-1.6-0.4z"/>
<path color="#5f2a04" d="M428.2 382.1l1.5-1.1 3.6 2.5-1.6 0.7z"/>
<path color="#552504" d="M429.7 381l3.9-1.8 3.4 1.6-3.7 2.7z"/>
<path color="#5d2904" d="M433.6 379.2l4.1-0.4 3.3 0.2-4 1.8z"/>
<path color="#7a3807" d="M437.7 378.8l4.3 0.5 3.1-0.8-4.1 0.5z"/>
<path color="#aa530b" d="M442 379.3l4.3 1 3.1-1.5-4.3-0.3z"/>
<path color="#d86d10" d="M446.3 380.3l4.5 1.2 3-1.9-4.4-0.8z"/>
<path color="#ed7f13" d="M450.8 381.5l4.4 1.3 3-2.1-4.4-1.1z"/>
<path color="#f58814" d="M455.2 382.8l4.5 1.5 3-2.4-4.5-1.2z"/>
<path color="#f78d15" d="M459.7 384.3l4.6 1.5 2.9-2.6-4.5-1.3z"/>
<path color="#f99215" d="M464.3 385.8l9.2 3 2.9-2.7-9.2-2.9z"/>
<path color="#fb9616" d="M473.5 388.8l28.5 9.7 2.7-3-28.3-9.4z"/>
<path color="#fc9816" d="M502 398.5l61.1 21 2.4-3.3-60.8-20.7z"/>
<path color="#fca417" d="M406.8 357.9l1.7 0.6 3.2-2.6-1.7-0.6z"/>
<path color="#fcb218" d="M408.5 358.5l2.2 3.9 3.1 10.8 2.5-7.9-2.7-8-1.9-1.4z"/>
<path color="#fcb619" d="M413.8 373.2l2.3 4.9 2.8-5.3-2.6-7.5z"/>
<path color="#fca918" d="M416.1 378.1l2.1 3.3 3-3.5-2.3-5.1z"/>
<path color="#ee8013" d="M418.2 381.4l1.7 0.8 3.3-0.6-2-3.7z"/>
<path color="#a4500a" d="M419.9 382.2l1.6-0.5 3.5 1.4-1.8-1.5z"/>
<path color="#703306" d="M421.5 381.7l1.5-1 3.6 2.3-1.6 0.1z"/>
<path color="#582704" d="M423 380.7l1.5-0.8 1.6-0.5 3.6 1.6-3.1 2z"/>
<path color="#662d05" d="M426.1 379.4l4.1-0.2 3.4 0-3.9 1.8z"/>
<path color="#8a4208" d="M430.2 379.2l4.3 0.8 3.2-1.2-4.1 0.4z"/>
<path color="#bc5d0d" d="M434.5 380l4.4 1.1 3.1-1.8-4.3-0.5z"/>
<path color="#e47712" d="M438.9 381.1l4.4 1.4 3-2.2-4.3-1z"/>
<path color="#f48614" d="M443.3 382.5l4.4 1.4 3.1-2.4-4.5-1.2z"/>
<path color="#f78d15" d="M447.7 383.9l4.5 1.5 3-2.6-4.4-1.3z"/>
<path color="#f99315" d="M452.2 385.4l9.1 3.1 3-2.7-9.1-3z"/>
<path color="#fb9716" d="M461.3 388.5l37.9 13 2.8-3-37.7-12.7z"/>
<path color="#fc9916" d="M499.2 401.5l61.4 21.4 2.5-3.4-61.1-21z"/>
<path color="#fca617" d="M403.6 360.6l1.7 0.8 3.2-2.9-1.7-0.6z"/>
<path color="#fcb218" d="M405.3 361.4l3.5 12.5 2.2 4.3 2.8-5-3.1-10.8-2.2-3.9z"/>
<path color="#fb9816" d="M411 378.2l2 2.7 3.1-2.8-2.3-4.9z"/>
<path color="#d96e10" d="M413 380.9l1.7 0.2 3.5 0.3-2.1-3.3z"/>
<path color="#904509" d="M414.7 381.1l1.5-0.7 3.7 1.8-1.7-0.8z"/>
<path color="#672e05" d="M416.2 380.4l1.5-0.7 3.8 2-1.6 0.5z"/>
<path color="#5d2904" d="M417.7 379.7l1.6-0.2 3.7 1.2-1.5 1z"/>
<path color="#632c05" d="M419.3 379.5l1.7 0 3.5 0.4-1.5 0.8z"/>
<path color="#773706" d="M421 379.5l1.7 0.2 3.4-0.3-1.6 0.5z"/>
<path color="#9b4b0a" d="M422.7 379.7l4.3 1 3.2-1.5-4.1 0.2z"/>
<path color="#d1680f" d="M427 380.7l4.3 1.4 3.2-2.1-4.3-0.8z"/>
<path color="#ef8013" d="M431.3 382.1l4.4 1.4 3.2-2.4-4.4-1.1z"/>
<path color="#f78c15" d="M435.7 383.5l4.5 1.5 3.1-2.5-4.4-1.4z"/>
<path color="#f99315" d="M440.2 385l9 3.1 3-2.7-8.9-2.9z"/>
<path color="#fc9816" d="M449.2 388.1l108.9 38.2 2.5-3.4-108.4-37.5z"/>
<path color="#fcaa18" d="M400.3 363.3l2.1 3.4 2.9-5.3-1.7-0.8z"/>
<path color="#fcb018" d="M402.4 366.7l3.4 11.7 3-4.5-3.5-12.5z"/>
<path color="#fc9c16" d="M405.8 378.4l1.9 1.8 3.3-2-2.2-4.3z"/>
<path color="#ba5c0d" d="M407.7 380.2l1.6-0.2 3.7 0.9-2-2.7z"/>
<path color="#753606" d="M409.3 380l1.6-0.3 3.8 1.4-1.7-0.2z"/>
<path color="#672e05" d="M410.9 379.7l1.6 0.1 3.7 0.6-1.5 0.7z"/>
<path color="#733506" d="M412.5 379.8l1.7 0.3 3.5-0.4-1.5 0.7z"/>
<path color="#8e4408" d="M414.2 380.1l1.7 0.5 3.4-1.1-1.6 0.2z"/>
<path color="#ab540b" d="M415.9 380.6l1.8 0.5 3.3-1.6-1.7 0z"/>
<path color="#ca650f" d="M417.7 381.1l1.7 0.6 3.3-2-1.7-0.2z"/>
<path color="#e57812" d="M419.4 381.7l4.4 1.5 3.2-2.5-4.3-1z"/>
<path color="#f58915" d="M423.8 383.2l4.4 1.5 3.1-2.6-4.3-1.4z"/>
<path color="#f99215" d="M428.2 384.7l4.4 1.5 3.1-2.7-4.4-1.4z"/>
<path color="#fb9716" d="M432.6 386.2l18.1 6.4 3.1-2.9-18.1-6.2z"/>
<path color="#fc9916" d="M450.7 392.6l104.9 37.2 2.5-3.5-104.3-36.6z"/>
<path color="#fcac18" d="M400.1 363.4l2.3 3.7 3.3 11.4 0.1-0.1-3.4-11.7-2.1-3.4z"/>
<path color="#f28314" d="M405.7 378.5l1.9 1.7 0.1 0-1.9-1.8z"/>
<path color="#743506" d="M407.6 380.2l1.6-0.3 0.1 0.1-1.6 0.2z"/>
<path color="#512303" d="M409.2 379.9l1.5-0.2 0.2 0-1.6 0.3z"/>
<path color="#753606" d="M410.7 379.7l1.7 0.2 0.1-0.1-1.6-0.1z"/>
<path color="#aa530b" d="M412.4 379.9l1.7 0.3 0.1-0.1-1.7-0.3z"/>
<path color="#d46a10" d="M414.1 380.2l1.7 0.5 0.1-0.1-1.7-0.5z"/>
<path color="#e97c13" d="M415.8 380.7l1.7 0.5 0.2-0.1-1.8-0.5z"/>
<path color="#f48614" d="M417.5 381.2l1.8 0.6 0.1-0.1-1.7-0.6z"/>
<path color="#f88f15" d="M419.3 381.8l4.3 1.5 0.2-0.1-4.4-1.5z"/>
<path color="#fb9616" d="M423.6 383.3l8.9 3.1 0.1-0.2-8.8-3z"/>
<path color="#fc9916" d="M432.5 386.4l123 43.5 0.1-0.1-123-43.6z"/>
<path color="#ec7e13" d="M399.4 366l2.8 7.8 0.2-6.7-2.3-3.7z"/>
<path color="#cc660f" d="M402.2 373.8l3.2 10 0.3-5.3-3.3-11.4z"/>
<path color="#9e4d0a" d="M405.4 383.8l1.7 0.8 0.5-4.4-1.9-1.7z"/>
<path color="#6c3105" d="M407.1 384.6l1.5-0.6 0.6-4.1-1.6 0.3z"/>
<path color="#6f3306" d="M408.6 384l1.6-0.4 0.5-3.9-1.5 0.2z"/>
<path color="#813d07" d="M410.2 383.6l1.5-0.3 0.7-3.4-1.7-0.2z"/>
<path color="#934609" d="M411.7 383.3l1.7-0.1 0.7-3-1.7-0.3z"/>
<path color="#a5510b" d="M413.4 383.2l1.6-0.1 0.8-2.4-1.7-0.5z"/>
<path color="#bf5f0d" d="M415 383.1l1.6 0 0.9-1.9-1.7-0.5z"/>
<path color="#f78d15" d="M416.6 383.1l1.9 1.2 0.8-2.5-1.8-0.6z"/>
<path color="#c6630e" d="M418.5 384.3l4.6 3.7 0.5-4.7-4.3-1.5z"/>
<path color="#924609" d="M423.1 388l4.7 3.8 0.2-7-4.4-1.5z"/>
<path color="#7d3a07" d="M427.8 391.8l4.4 1.2 4.3 0.5 0.5-5.6-9-3.1z"/>
<path color="#874008" d="M436.5 393.5l4.4 0.5 0.6-4.5-4.5-1.6z"/>
<path color="#964909" d="M440.9 394l4.4 0.5 0.7-3.4-4.5-1.6z"/>
<path color="#b55a0c" d="M445.3 394.5l4.4 0.5 0.9-2.2-4.6-1.7z"/>
<path color="#dd7111" d="M449.7 395l4.5 0.4 1-1-4.6-1.6z"/>
<path color="#fc9916" d="M454.2 395.4l100.5 35.6 0.8-1.1-100.3-35.5z"/>
<path color="#ee8013" d="M398.6 368.6l3.5 11.8 0.1-6.6-2.8-7.8z"/>
<path color="#ca650f" d="M402.1 380.4l2.9 8.7 0.4-5.3-3.2-10z"/>
<path color="#833e07" d="M405 389.1l1.6-0.2 0.5-4.3-1.7-0.8z"/>
<path color="#632c05" d="M406.6 388.9l3-1.5 0.6-3.8-3.1 1z"/>
<path color="#6b3005" d="M409.6 387.4l1.5-0.7 0.6-3.4-1.5 0.3z"/>
<path color="#743506" d="M411.1 386.7l1.5-0.6 0.8-2.9-1.7 0.1z"/>
<path color="#7c3a07" d="M412.6 386.1l1.6-0.5 0.8-2.5-1.6 0.1z"/>
<path color="#843e07" d="M414.2 385.6l1.6-0.6 0.8-1.9-1.6 0z"/>
<path color="#fcab18" d="M415.8 385l1.9 1.8 0.8-2.5-1.9-1.2z"/>
<path color="#ed7f13" d="M417.7 386.8l4.9 5.9 0.5-4.7-4.6-3.7z"/>
<path color="#a24f0a" d="M422.6 392.7l4.9 6 0.3-6.9-4.7-3.8z"/>
<path color="#783706" d="M427.5 398.7l4.3 0.9 0.4-6.6-4.4-1.2z"/>
<path color="#703306" d="M431.8 399.6l4.2-0.5 0.5-5.6-4.3-0.5z"/>
<path color="#763706" d="M436 399.1l4.2-0.6 0.7-4.5-4.4-0.5z"/>
<path color="#803c07" d="M440.2 398.5l4.3-0.6 0.8-3.4-4.4-0.5z"/>
<path color="#8f4408" d="M444.5 397.9l4.4-0.6 0.8-2.3-4.4-0.5z"/>
<path color="#934709" d="M448.9 397.3l4.4-1 0.9-0.9-4.5-0.4z"/>
<path color="#fc9916" d="M453.3 396.3l100.5 35.9 0.9-1.2-100.5-35.6z"/>
<path color="#ec7e13" d="M397.8 371.2l4.1 15.7 0.2-6.5-3.5-11.8z"/>
<path color="#ba5c0d" d="M401.9 386.9l2.8 7.4 0.3-5.2-2.9-8.7z"/>
<path color="#632c05" d="M404.7 394.3l1.4-1 0.5-4.4-1.6 0.2z"/>
<path color="#5b2804" d="M406.1 393.3l8.8-6.4 0.9-1.9-6.2 2.4-3 1.5z"/>
<path color="#fdb919" d="M414.9 386.9l2 2.4 0.8-2.5-1.9-1.8z"/>
<path color="#f99215" d="M416.9 389.3l5.2 8.1 0.5-4.7-4.9-5.9z"/>
<path color="#b0570c" d="M422.1 397.4l5.2 8 0.2-6.7-4.9-6z"/>
<path color="#733406" d="M427.3 405.4l4.2 0.8 0.3-6.6-4.3-0.9z"/>
<path color="#652d05" d="M431.5 406.2l8.1-3.3 0.6-4.4-8.4 1.1z"/>
<path color="#692f05" d="M439.6 402.9l4.2-1.6 0.7-3.4-4.3 0.6z"/>
<path color="#6e3205" d="M443.8 401.3l4.2-1.7 0.9-2.3-4.4 0.6z"/>
<path color="#622b05" d="M448 399.6l4.3-2.3 1-1-4.4 1z"/>
<path color="#fc9916" d="M452.3 397.3l100.7 36 0.8-1.1-100.5-35.9z"/>
</g>
<path class="m" d="M397.8 371.2L400.1 363.6L485.7 293M409 391.2L410.7 380L411.1 379.7L411.6 379.8M420.4 379.1L428.3 363.2L435.5 346.9L493.4 295.1M416.9 389.3L419.2 382L423.6 379.4L425.4 379.3M444.7 378.4L501.2 297.3M427.3 405.4L428 385.4L428.4 384.5L436.4 379.1L439 378.7M467.6 377L509.1 301.4M435.5 404.6L436.9 388.4L437.3 387.6L449.2 378.9L452.9 378.2M484.9 376.1L517.1 310.2M443.8 401.3L446 391.4L462 378.6L466.7 377.6M499.6 376.1L525 323.3M452.3 397.3L475.1 378.2L480 377.1M513 375.4L532.7 337.5M461.7 400.7L488.1 377.7L493.5 376.5M525.7 373.8L540.3 349.8M471.2 404.1L501 377.3L506.8 375.9M537.3 371.9L548 358.3M480.9 407.5L514.2 376.7L524.4 374.2M548.2 369.7L555.9 362.6M490.7 411L527.3 376.1L541 371.3M557.2 367.9L564 363.7M500.7 414.6L560.6 367.1M563 366.5L572.5 362.9M510.8 418.2L581.2 361.2M521.1 421.9L590.2 359.6M531.6 425.6L599.3 358.2M542.2 429.4L608.6 357.3M553 433.3L618 356.9M397.8 371.2L398 371.3L404.1 394.7L415.1 386.7L428.1 406.8L428.9 407.2L451.5 398.2L452.2 397.3L553 433.3M403.6 360.6L405.3 361.4L407 366.2L411.7 379.4M418.6 379.5L558.1 426.3M410 355.3L413.2 356.7L421.7 379M435.5 378.9L563.1 419.5M416.3 350.1L420.8 352.1L431.6 378.9M452 378.2L567.9 412.9M422.4 345.1L428.5 347.8L440.9 378.4M468.3 377.5L572.6 406.6M428.4 340.2L436.1 343.7L450 377.8M483.6 376.9L577.1 400.6M434.3 335.3L443.6 339.6L458.5 376.5M499.5 376.2L581.5 394.9M440 330.7L451.1 335.8L461.6 360.3L467.5 377M515.2 375.6L585.8 389.6M445.5 326.1L458.5 332.1L466.4 348.3L476.9 376.3M521.5 374.7L589.9 384.5M450.9 321.6L465.8 328.6L471.3 338.2L486 374.4L486.7 375.8M531.4 373L593.9 379.8M456.2 317.2L473 325.1L477.7 332.8L494.2 370.7L497 375.6M541.1 371.2L597.8 375.4M461.4 313L480.2 321.9L485.5 330.5L502.2 367.2L507.1 374.3L508.5 375.8M549.8 369.5L596.5 370.5L601.5 371.4M466.5 308.8L485.9 317.1L490.9 324.2L510.8 364.8L516.3 371.8L520.4 374.8M556.9 368L599.2 367L605 367.8M471.4 304.7L490.6 311.9L495.6 317.5L518.6 361.2L524 368L528.7 371.4L532.2 372.6M562.2 366.8L603.5 364.1L608.5 364.6M476.3 300.8L495.3 307.1L500.2 311.5L526.9 358.7L532.9 365.4L538.3 368.6L546 369.9L549.6 369.6M560.5 367.2L602 361.3L611.8 361.7M481 296.9L499.9 302.7L505.4 306.9L513 317.1L533 353.4L539.7 361.1L545.7 365L553.4 366.7L614.9 359.2M485.7 293L505.1 298.8L510.5 302.5L518 311.5L541.1 350.9L548.3 358.6L555.1 362.3L565.6 363.6L618 356.9"/>
<path class="e" d="M398.8 420.5L552.9 481.2M552.9 481.2L620.2 379.7M620.2 379.7L600.1 373.6M566.6 363.5L547.2 357.6M422.6 398.3L398.8 420.5M389.5 366.1L556.7 424.7M556.7 424.7L628.2 327.1M628.2 327.1L484.2 289.3M484.2 289.3L389.5 366.1M398.8 420.5L389.5 366.1M552.9 481.2L556.7 424.7M620.2 379.7L628.2 327.1M484.3 293.9L484.2 289.3"/>
<path class="t" d="M402.6 422L405.7 419.1M555.2 477.7L550.1 475.7M409.1 424.6L410.9 422.9M559.1 472L556.1 470.8M415.7 427.2L417.4 425.4M562.8 466.3L559.9 465.2M422.3 429.8L424.1 428M566.5 460.8L563.6 459.7M429.1 432.4L430.8 430.7M570.1 455.4L567.2 454.3M435.9 435.1L438.9 432M573.6 450.1L568.6 448.2M442.8 437.8L444.4 436M577 444.9L574.2 443.9M449.7 440.6L451.4 438.7M580.4 439.8L577.6 438.8M456.8 443.3L458.4 441.5M583.7 434.8L580.9 433.8M463.9 446.1L465.5 444.3M586.9 429.9L584.2 429M471.1 449L473.9 445.7M590.1 425.1L585.3 423.5M478.4 451.8L480 450M593.2 420.4L590.5 419.5M485.7 454.8L487.3 452.8M596.3 415.8L593.6 414.9M493.2 457.7L494.8 455.8M599.3 411.3L596.6 410.4M500.8 460.7L502.3 458.7M602.2 406.9L599.5 406M508.4 463.7L511.1 460.2M605.1 402.5L600.4 401M516.1 466.7L517.7 464.7M607.9 398.3L605.3 397.4M524 469.8L525.5 467.8M610.7 394.1L608.1 393.3M531.9 472.9L533.4 470.9M613.4 390L610.8 389.2M539.9 476.1L541.4 474M616.1 385.9L613.5 385.2M548.1 479.3L550.6 475.6M618.7 382L614.2 380.6M398.4 418L400.2 416.4M397.7 414.3L399.5 412.6M397.1 410.5L398.9 408.8M396.4 406.6L399.6 403.7M395.7 402.7L397.6 401.1M395.1 398.8L396.9 397.2M394.4 394.8L396.2 393.2M393.7 390.8L395.6 389.2M393 386.7L396.3 383.9M392.3 382.6L394.2 381M391.6 378.4L393.5 376.8M390.8 374.2L392.8 372.6M390.1 369.9L392.1 368.3"/>
<g class="k">
<text x="387.3" y="439.9">0.0</text>
<text x="421" y="454.3">0.5</text>
<text x="459.6" y="468">1.0</text>
<text x="498.1" y="483.2">1.5</text>
<text x="540.2" y="500.1">2.0</text>
<text x="568.4" y="490.3">0.0</text>
<text x="588" y="460.7">0.5</text>
<text x="604.9" y="435.5">1.0</text>
<text x="620.5" y="412">1.5</text>
<text x="633.4" y="391.5">2.0</text>
<text x="392.6" y="410.7" class="r">0.0305</text>
<text x="389.4" y="391.1" class="r">0.0310</text>
<text x="386" y="370.3" class="r">0.0315</text>
</g>
<g class="n">
<text x="378" y="317.7">Fidelity</text>
<text x="430" y="479.8">T</text>
<text x="624.7" y="455.9" class="i">ω</text>
<text x="601.1" y="305.3">(d)</text>
</g>
</g>
<g id="pe">
<g class="s">
<path color="#fc9916" d="M151.3 621.9l14.9 4.6 2.2-2.1-14.9-4.5z"/>
<path color="#fca117" d="M166.2 626.5l3.8 1.2 2.1-2.1-3.7-1.2z"/>
<path color="#fcaf18" d="M170 627.7l3.8 1.4 2.1-2.1-3.8-1.4z"/>
<path color="#fdbc19" d="M173.8 629.1l3.8 2 2.1-2.3-3.8-1.8z"/>
<path color="#fcad18" d="M177.6 631.1l3.9 1.5 2.1-2.2-3.9-1.6z"/>
<path color="#fc9e17" d="M181.5 632.6l3.8 1.1 2.1-2.1-3.8-1.2z"/>
<path color="#fc9a16" d="M185.3 633.7l3.9 1.2 2.1-2.1-3.9-1.2z"/>
<path color="#fb9616" d="M189.2 634.9l3.9 1.2 2.1-2.1-3.9-1.2z"/>
<path color="#e87b12" d="M193.1 636.1l4 1.2 2-2.1-3.9-1.2z"/>
<path color="#904509" d="M197.1 637.3l4-1.2 2-1-4 0.1z"/>
<path color="#6f3206" d="M201.1 636.1l4.1-1.5 1.9-1.1-4 1.6z"/>
<path color="#874008" d="M205.2 634.6l4.1-0.7 1.9-1.4-4.1 1z"/>
<path color="#b95c0d" d="M209.3 633.9l4.1 0.3 2-1.8-4.2 0.1z"/>
<path color="#df7311" d="M213.4 634.2l8.3 1.5 1.9-1.9-4.1-0.8-4.1-0.6z"/>
<path color="#bf5f0d" d="M221.7 635.7l4.2 0.1 1.9-1.5-4.2-0.5z"/>
<path color="#8c4308" d="M225.9 635.8l4.3-0.6 1.8-1-4.2 0.1z"/>
<path color="#622b05" d="M230.2 635.2l4.4-1.3 1.8-0.5-4.4 0.8z"/>
<path color="#4f2203" d="M234.6 633.9l4.5-1.9 14.1-7.1 1.5 0.5-9.3 4.6-4.6 1.9-4.4 1.5z"/>
<path color="#4b2003" d="M253.2 624.9l4.7-2.1 4.9-1.7 4.8-1.4 4.9-1.1 1.5-0.2-4.8 1.3-4.9 1.6-4.8 2-4.8 2.1z"/>
<path color="#682e05" d="M272.5 618.6l4.9-0.6 1.5-0.5-4.9 0.9z"/>
<path color="#8d4308" d="M277.4 618l4.9-0.4 1.5-0.7-4.9 0.6z"/>
<path color="#9f4e0a" d="M282.3 617.6l4.9 0 1.5-1-4.9 0.3z"/>
<path color="#fc9916" d="M149.1 624l15 4.6 2.1-2.1-14.9-4.6z"/>
<path color="#fca217" d="M164.1 628.6l3.8 1.2 2.1-2.1-3.8-1.2z"/>
<path color="#fcb218" d="M167.9 629.8l3.8 1.6 2.1-2.3-3.8-1.4z"/>
<path color="#fdbd19" d="M171.7 631.4l3.8 2.1 2.1-2.4-3.8-2z"/>
<path color="#fcaa18" d="M175.5 633.5l3.9 1.2 2.1-2.1-3.9-1.5z"/>
<path color="#fc9c16" d="M179.4 634.7l3.9 1.2 2-2.2-3.8-1.1z"/>
<path color="#fc9916" d="M183.3 635.9l3.9 1.2 2-2.2-3.9-1.2z"/>
<path color="#f89115" d="M187.2 637.1l3.9 1.2 2-2.2-3.9-1.2z"/>
<path color="#d36a10" d="M191.1 638.3l4 0.6 2-1.6-4-1.2z"/>
<path color="#7f3c07" d="M195.1 638.9l4-1.8 2-1-4 1.2z"/>
<path color="#703306" d="M199.1 637.1l4.1-1.3 2-1.2-4.1 1.5z"/>
<path color="#934709" d="M203.2 635.8l4.1-0.2 2-1.7-4.1 0.7z"/>
<path color="#c8640e" d="M207.3 635.6l4.1 0.5 2-1.9-4.1-0.3z"/>
<path color="#e07411" d="M211.4 636.1l4.2 0.8 1.9-1.9-4.1-0.8z"/>
<path color="#d36a10" d="M215.6 636.9l4.2 0.4 1.9-1.6-4.2-0.7z"/>
<path color="#a24f0a" d="M219.8 637.3l4.2-0.3 1.9-1.2-4.2-0.1z"/>
<path color="#743506" d="M224 637l4.4-1.1 1.8-0.7-4.3 0.6z"/>
<path color="#582604" d="M228.4 635.9l4.4-1.9 1.8-0.1-4.4 1.3z"/>
<path color="#502303" d="M232.8 634l14-7.3 4.7-2.3 1.7 0.5-14.1 7.1-4.5 1.9z"/>
<path color="#4b2003" d="M251.5 624.4l4.9-1.9 4.8-1.5 4.8-1.2 1.6-0.1-4.8 1.4-4.9 1.7-4.7 2.1z"/>
<path color="#572604" d="M266 619.8l4.9-0.7 1.6-0.5-4.9 1.1z"/>
<path color="#7e3b07" d="M270.9 619.1l4.9-0.4 1.6-0.7-4.9 0.6z"/>
<path color="#9b4b0a" d="M275.8 618.7l4.9-0.1 1.6-1-4.9 0.4z"/>
<path color="#ad550b" d="M280.7 618.6l4.9 0.1 1.6-1.1-4.9 0z"/>
<path color="#fc9916" d="M146.9 626l13.5 4.2 2.2-2.1-13.5-4.1z"/>
<path color="#fc9c16" d="M160.4 630.2l1.5 0.5 2.2-2.1-1.5-0.5z"/>
<path color="#fca517" d="M161.9 630.7l3.8 1.3 2.2-2.2-3.8-1.2z"/>
<path color="#fcb619" d="M165.7 632l3.9 1.7 2.1-2.3-3.8-1.6z"/>
<path color="#fdbc19" d="M169.6 633.7l3.8 2 2.1-2.2-3.8-2.1z"/>
<path color="#fca617" d="M173.4 635.7l3.9 1.2 2.1-2.2-3.9-1.2z"/>
<path color="#fc9b16" d="M177.3 636.9l3.9 1.2 2.1-2.2-3.9-1.2z"/>
<path color="#fb9716" d="M181.2 638.1l3.9 1.2 2.1-2.2-3.9-1.2z"/>
<path color="#f38414" d="M185.1 639.3l3.9 1.2 2.1-2.2-3.9-1.2z"/>
<path color="#aa530b" d="M189 640.5l4-0.7 2.1-0.9-4-0.6z"/>
<path color="#6f3306" d="M193 639.8l4.1-1.7 2-1-4 1.8z"/>
<path color="#793806" d="M197.1 638.1l4.1-0.9 2-1.4-4.1 1.3z"/>
<path color="#a9530b" d="M201.2 637.2l4.1 0.2 2-1.8-4.1 0.2z"/>
<path color="#d76c10" d="M205.3 637.4l4.1 0.8 2-2.1-4.1-0.5z"/>
<path color="#da6f10" d="M209.4 638.2l4.2 0.6 2-1.9-4.2-0.8z"/>
<path color="#b55a0c" d="M213.6 638.8l4.2-0.1 2-1.4-4.2-0.4z"/>
<path color="#823d07" d="M217.8 638.7l4.3-0.9 1.9-0.8-4.2 0.3z"/>
<path color="#5f2a04" d="M222.1 637.8l4.5-1.7 1.8-0.2-4.4 1.1z"/>
<path color="#532404" d="M226.6 636.1l4.5-2.4 9.3-5.2 4.7-2.5 1.7 0.7-14 7.3-4.4 1.9z"/>
<path color="#4b2003" d="M245.1 626l4.8-2 4.8-1.7 4.9-1.3 1.6 0-4.8 1.5-4.9 1.9-4.7 2.3z"/>
<path color="#4f2203" d="M259.6 621l4.8-0.8 1.6-0.4-4.8 1.2z"/>
<path color="#723406" d="M264.4 620.2l4.9-0.5 1.6-0.6-4.9 0.7z"/>
<path color="#964809" d="M269.3 619.7l4.9-0.1 1.6-0.9-4.9 0.4z"/>
<path color="#af560c" d="M274.2 619.6l4.9 0.1 1.6-1.1-4.9 0.1z"/>
<path color="#bf5f0d" d="M279.1 619.7l4.9 0.4 1.6-1.4-4.9-0.1z"/>
<path color="#fc9916" d="M144.6 628.1l13.6 4.2 2.2-2.1-13.5-4.2z"/>
<path color="#fc9d16" d="M158.2 632.3l1.5 0.5 2.2-2.1-1.5-0.5z"/>
<path color="#fca717" d="M159.7 632.8l3.8 1.4 2.2-2.2-3.8-1.3z"/>
<path color="#fcb819" d="M163.5 634.2l7.8 3.6 2.1-2.1-3.8-2-3.9-1.7z"/>
<path color="#fca317" d="M171.3 637.8l3.8 1.3 2.2-2.2-3.9-1.2z"/>
<path color="#fc9a16" d="M175.1 639.1l4 1.2 2.1-2.2-3.9-1.2z"/>
<path color="#fa9416" d="M179.1 640.3l3.9 1.2 2.1-2.2-3.9-1.2z"/>
<path color="#df7311" d="M183 641.5l3.9 1.2 2.1-2.2-3.9-1.2z"/>
<path color="#884108" d="M186.9 642.7l4.1-2 2-0.9-4 0.7z"/>
<path color="#692f05" d="M191 640.7l4-1.5 2.1-1.1-4.1 1.7z"/>
<path color="#8a4208" d="M195 639.2l4.1-0.4 2.1-1.6-4.1 0.9z"/>
<path color="#c1600e" d="M199.1 638.8l4.2 0.6 2-2-4.1-0.2z"/>
<path color="#db6f11" d="M203.3 639.4l4.1 0.7 2-1.9-4.1-0.8z"/>
<path color="#c6620e" d="M207.4 640.1l4.2 0.3 2-1.6-4.2-0.6z"/>
<path color="#924609" d="M211.6 640.4l4.3-0.7 1.9-1-4.2 0.1z"/>
<path color="#672e05" d="M215.9 639.7l4.3-1.6 1.9-0.3-4.3 0.9z"/>
<path color="#562604" d="M220.2 638.1l4.5-2.3 9.2-5.5 4.8-2.6 1.7 0.8-9.3 5.2-4.5 2.4-4.5 1.7z"/>
<path color="#4f2203" d="M238.7 627.7l4.7-2.2 1.7 0.5-4.7 2.5z"/>
<path color="#4b2003" d="M243.4 625.5l4.8-1.9 4.8-1.3 4.9-1 1.7-0.3-4.9 1.3-4.8 1.7-4.8 2z"/>
<path color="#672e05" d="M257.9 621.3l4.8-0.5 1.7-0.6-4.8 0.8z"/>
<path color="#8f4508" d="M262.7 620.8l4.9-0.2 1.7-0.9-4.9 0.5z"/>
<path color="#ac540b" d="M267.6 620.6l4.9 0.1 1.7-1.1-4.9 0.1z"/>
<path color="#c1600e" d="M272.5 620.7l4.9 0.4 1.7-1.4-4.9-0.1z"/>
<path color="#cf680f" d="M277.4 621.1l4.9 0.6 1.7-1.6-4.9-0.4z"/>
<path color="#fc9916" d="M142.4 630.2l13.6 4.3 2.2-2.2-13.6-4.2z"/>
<path color="#fc9f17" d="M156 634.5l1.5 0.5 2.2-2.2-1.5-0.5z"/>
<path color="#fcab18" d="M157.5 635l3.8 1.4 2.2-2.2-3.8-1.4z"/>
<path color="#fdbb19" d="M161.3 636.4l3.9 2 2.2-2.4-3.9-1.8z"/>
<path color="#fcb319" d="M165.2 638.4l3.9 1.6 2.2-2.2-3.9-1.8z"/>
<path color="#fca017" d="M169.1 640l3.9 1.3 2.1-2.2-3.8-1.3z"/>
<path color="#fc9916" d="M173 641.3l3.9 1.2 2.2-2.2-4-1.2z"/>
<path color="#f68c15" d="M176.9 642.5l4 1.2 2.1-2.2-3.9-1.2z"/>
<path color="#bf5f0d" d="M180.9 643.7l3.9 0 2.1-1-3.9-1.2z"/>
<path color="#723406" d="M184.8 643.7l4.1-2.1 4.1-1.1 2-1.3-4 1.5-4.1 2z"/>
<path color="#9f4e0a" d="M193 640.5l4.1 0.2 2-1.9-4.1 0.4z"/>
<path color="#d1690f" d="M197.1 640.7l4.1 0.7 4.2 0.5 2-1.8-4.1-0.7-4.2-0.6z"/>
<path color="#a14f0a" d="M205.4 641.9l4.2-0.3 2-1.2-4.2-0.3z"/>
<path color="#723406" d="M209.6 641.6l4.3-1.4 2-0.5-4.3 0.7z"/>
<path color="#5a2804" d="M213.9 640.2l4.5-2.2 1.8 0.1-4.3 1.6z"/>
<path color="#572604" d="M218.4 638l4.5-2.8 1.8 0.6-4.5 2.3z"/>
<path color="#5a2804" d="M222.9 635.2l9.3-5.7 1.7 0.8-9.2 5.5z"/>
<path color="#542404" d="M232.2 629.5l4.7-2.5 1.8 0.7-4.8 2.6z"/>
<path color="#4b2003" d="M236.9 627l4.8-2 4.8-1.5 4.8-1 1.7-0.2-4.8 1.3-4.8 1.9-4.7 2.2z"/>
<path color="#5f2a04" d="M251.3 622.5l4.8-0.6 1.8-0.6-4.9 1z"/>
<path color="#874008" d="M256.1 621.9l4.9-0.3 1.7-0.8-4.8 0.5z"/>
<path color="#a7520b" d="M261 621.6l4.8 0.1 1.8-1.1-4.9 0.2z"/>
<path color="#bf5f0d" d="M265.8 621.7l4.9 0.4 1.8-1.4-4.9-0.1z"/>
<path color="#d2690f" d="M270.7 622.1l4.9 0.6 1.8-1.6-4.9-0.4z"/>
<path color="#dd7111" d="M275.6 622.7l5 0.7 1.7-1.7-4.9-0.6z"/>
<path color="#fc9916" d="M140.1 632.3l13.6 4.4 2.3-2.2-13.6-4.3z"/>
<path color="#fca117" d="M153.7 636.7l1.5 0.5 2.3-2.2-1.5-0.5z"/>
<path color="#fcaf18" d="M155.2 637.2l3.9 1.5 2.2-2.3-3.8-1.4z"/>
<path color="#fdbe19" d="M159.1 638.7l3.9 2.2 2.2-2.5-3.9-2z"/>
<path color="#fcad18" d="M163 640.9l3.9 1.4 2.2-2.3-3.9-1.6z"/>
<path color="#fc9e16" d="M166.9 642.3l3.9 1.2 2.2-2.2-3.9-1.3z"/>
<path color="#fb9716" d="M170.8 643.5l3.9 1.3 2.2-2.3-3.9-1.2z"/>
<path color="#ec7e13" d="M174.7 644.8l4 1.2 2.2-2.3-4-1.2z"/>
<path color="#994a09" d="M178.7 646l4-1.5 2.1-0.8-3.9 0z"/>
<path color="#692f05" d="M182.7 644.5l4.1-1.8 2.1-1.1-4.1 2.1z"/>
<path color="#823d07" d="M186.8 642.7l4-0.6 2.2-1.6-4.1 1.1z"/>
<path color="#b95b0d" d="M190.8 642.1l4.2 0.6 2.1-2-4.1-0.2z"/>
<path color="#d36a10" d="M195 642.7l4.1 0.7 2.1-2-4.1-0.7z"/>
<path color="#b4590c" d="M199.1 643.4l4.2 0 2.1-1.5-4.2-0.5z"/>
<path color="#803c07" d="M203.3 643.4l4.3-1.1 2-0.7-4.2 0.3z"/>
<path color="#602a04" d="M207.6 642.3l4.4-2.1 1.9 0-4.3 1.4z"/>
<path color="#592704" d="M212 640.2l4.4-2.8 2 0.6-4.5 2.2z"/>
<path color="#5d2904" d="M216.4 637.4l9.3-6.1 1.8 1-9.1 5.7z"/>
<path color="#582704" d="M225.7 631.3l4.7-2.7 1.8 0.9-4.7 2.8z"/>
<path color="#4e2203" d="M230.4 628.6l4.7-2.2 1.8 0.6-4.7 2.5z"/>
<path color="#4b2003" d="M235.1 626.4l4.8-1.6 4.8-1.2 1.8-0.1-4.8 1.5-4.8 2z"/>
<path color="#582604" d="M244.7 623.6l4.8-0.7 1.8-0.4-4.8 1z"/>
<path color="#7e3b07" d="M249.5 622.9l4.8-0.2 1.8-0.8-4.8 0.6z"/>
<path color="#a14f0a" d="M254.3 622.7l4.9 0 1.8-1.1-4.9 0.3z"/>
<path color="#bd5e0d" d="M259.2 622.7l4.8 0.4 1.8-1.4-4.8-0.1z"/>
<path color="#d1690f" d="M264 623.1l4.9 0.6 1.8-1.6-4.9-0.4z"/>
<path color="#df7311" d="M268.9 623.7l4.9 0.7 1.8-1.7-4.9-0.6z"/>
<path color="#e67912" d="M273.8 624.4l5 0.9 1.8-1.9-5-0.7z"/>
<path color="#fc9916" d="M137.8 634.5l12.1 3.9 2.3-2.2-12.1-3.9z"/>
<path color="#fc9d16" d="M149.9 638.4l1.5 0.5 2.3-2.2-1.5-0.5z"/>
<path color="#fca417" d="M151.4 638.9l1.6 0.5 2.2-2.2-1.5-0.5z"/>
<path color="#fcb419" d="M153 639.4l3.9 1.7 2.2-2.4-3.9-1.5z"/>
<path color="#fdbe19" d="M156.9 641.1l3.9 2.2 2.2-2.4-3.9-2.2z"/>
<path color="#fca818" d="M160.8 643.3l3.9 1.2 2.2-2.2-3.9-1.4z"/>
<path color="#fc9b16" d="M164.7 644.5l3.9 1.3 2.2-2.3-3.9-1.2z"/>
<path color="#f99115" d="M168.6 645.8l3.9 1.2 2.2-2.2-3.9-1.3z"/>
<path color="#d56b10" d="M172.5 647l4 0.7 2.2-1.7-4-1.2z"/>
<path color="#803c07" d="M176.5 647.7l4-2.4 2.2-0.8-4 1.5z"/>
<path color="#6c3105" d="M180.5 645.3l4.1-1.4 2.2-1.2-4.1 1.8z"/>
<path color="#974909" d="M184.6 643.9l4.1 0.1 2.1-1.9-4 0.6z"/>
<path color="#c9640e" d="M188.7 644l4.1 0.7 2.2-2-4.2-0.6z"/>
<path color="#c2610e" d="M192.8 644.7l4.2 0.4 2.1-1.7-4.1-0.7z"/>
<path color="#904509" d="M197 645.1l4.2-0.7 2.1-1-4.2 0z"/>
<path color="#672e05" d="M201.2 644.4l4.4-1.9 2-0.2-4.3 1.1z"/>
<path color="#5b2804" d="M205.6 642.5l4.4-2.8 2 0.5-4.4 2.1z"/>
<path color="#5f2a04" d="M210 639.7l9.1-6.5 4.7-2.9 1.9 1-9.3 6.1-4.4 2.8z"/>
<path color="#532404" d="M223.8 630.3l4.7-2.4 1.9 0.7-4.7 2.7z"/>
<path color="#4b2003" d="M228.5 627.9l4.8-1.8 4.7-1.3 1.9 0-4.8 1.6-4.7 2.2z"/>
<path color="#522303" d="M238 624.8l4.8-0.8 1.9-0.4-4.8 1.2z"/>
<path color="#753606" d="M242.8 624l4.8-0.3 1.9-0.8-4.8 0.7z"/>
<path color="#9c4c0a" d="M247.6 623.7l4.9 0 1.8-1-4.8 0.2z"/>
<path color="#bb5d0d" d="M252.5 623.7l4.8 0.4 1.9-1.4-4.9 0z"/>
<path color="#d0680f" d="M257.3 624.1l4.9 0.6 1.8-1.6-4.8-0.4z"/>
<path color="#df7311" d="M262.2 624.7l4.9 0.7 1.8-1.7-4.9-0.6z"/>
<path color="#e97b13" d="M267.1 625.4l4.9 0.9 1.8-1.9-4.9-0.7z"/>
<path color="#ef8013" d="M272 626.3l5 1.1 1.8-2.1-5-0.9z"/>
<path color="#fc9916" d="M135.4 636.7l12.2 3.9 2.3-2.2-12.1-3.9z"/>
<path color="#fc9e17" d="M147.6 640.6l1.5 0.5 2.3-2.2-1.5-0.5z"/>
<path color="#fca717" d="M149.1 641.1l1.6 0.6 2.3-2.3-1.6-0.5z"/>
<path color="#fcb819" d="M150.7 641.7l3.9 1.8 2.3-2.4-3.9-1.7z"/>
<path color="#fdbb19" d="M154.6 643.5l3.9 2 2.3-2.2-3.9-2.2z"/>
<path color="#fca517" d="M158.5 645.5l3.9 1.3 2.3-2.3-3.9-1.2z"/>
<path color="#fc9816" d="M162.4 646.8l4 1.3 2.2-2.3-3.9-1.3z"/>
<path color="#f48614" d="M166.4 648.1l3.9 1.2 2.2-2.3-3.9-1.2z"/>
<path color="#b0570c" d="M170.3 649.3l4-0.9 2.2-0.7-4-0.7z"/>
<path color="#713406" d="M174.3 648.4l4-2.2 2.2-0.9-4 2.4z"/>
<path color="#7c3a07" d="M178.3 646.2l4.1-0.7 2.2-1.6-4.1 1.4z"/>
<path color="#af560c" d="M182.4 645.5l4.1 0.5 2.2-2-4.1-0.1z"/>
<path color="#c7630e" d="M186.5 646l4.2 0.6 2.1-1.9-4.1-0.7z"/>
<path color="#a04e0a" d="M190.7 646.6l4.2-0.3 2.1-1.2-4.2-0.4z"/>
<path color="#733506" d="M194.9 646.3l4.3-1.6 2-0.3-4.2 0.7z"/>
<path color="#602a04" d="M199.2 644.7l4.3-2.7 4.5-3.3 2 1-4.4 2.8-4.4 1.9z"/>
<path color="#632c05" d="M208 638.7l4.6-3.5 4.6-3.1 1.9 1.1-9.1 6.5z"/>
<path color="#592704" d="M217.2 632.1l4.7-2.7 1.9 0.9-4.7 2.9z"/>
<path color="#4c2003" d="M221.9 629.4l4.7-2 4.8-1.4 4.7-0.9 1.9-0.3-4.7 1.3-4.8 1.8-4.7 2.4z"/>
<path color="#6c3105" d="M236.1 625.1l4.8-0.4 1.9-0.7-4.8 0.8z"/>
<path color="#974909" d="M240.9 624.7l4.8 0.1 1.9-1.1-4.8 0.3z"/>
<path color="#b95b0d" d="M245.7 624.8l4.9 0.3 1.9-1.4-4.9 0z"/>
<path color="#cf680f" d="M250.6 625.1l4.8 0.6 1.9-1.6-4.8-0.4z"/>
<path color="#df7211" d="M255.4 625.7l4.9 0.7 1.9-1.7-4.9-0.6z"/>
<path color="#e97b13" d="M260.3 626.4l4.9 1 1.9-2-4.9-0.7z"/>
<path color="#f18214" d="M265.2 627.4l5 1 1.8-2.1-4.9-0.9z"/>
<path color="#f48614" d="M270.2 628.4l4.9 1.1 1.9-2.1-5-1.1z"/>
<path color="#fc9916" d="M133 638.9l12.3 3.9 2.3-2.2-12.2-3.9z"/>
<path color="#fca017" d="M145.3 642.8l1.5 0.6 2.3-2.3-1.5-0.5z"/>
<path color="#fcab18" d="M146.8 643.4l1.6 0.6 2.3-2.3-1.6-0.6z"/>
<path color="#fdbc19" d="M148.4 644l3.9 2 2.3-2.5-3.9-1.8z"/>
<path color="#fcb719" d="M152.3 646l3.9 1.8 2.3-2.3-3.9-2z"/>
<path color="#fca217" d="M156.2 647.8l4 1.3 2.2-2.3-3.9-1.3z"/>
<path color="#fa9516" d="M160.2 649.1l3.9 1.3 2.3-2.3-4-1.3z"/>
<path color="#e47712" d="M164.1 650.4l4 1.3 2.2-2.4-3.9-1.2z"/>
<path color="#914509" d="M168.1 651.7l4-2.6 2.2-0.7-4 0.9z"/>
<path color="#6f3206" d="M172.1 649.1l4-1.7 2.2-1.2-4 2.2z"/>
<path color="#914509" d="M176.1 647.4l4.1-0.1 2.2-1.8-4.1 0.7z"/>
<path color="#be5f0d" d="M180.2 647.3l4.1 0.7 2.2-2-4.1-0.5z"/>
<path color="#b1570c" d="M184.3 648l4.2 0.2 2.2-1.6-4.2-0.6z"/>
<path color="#823d07" d="M188.5 648.2l4.2-1.2 2.2-0.7-4.2 0.3z"/>
<path color="#652d05" d="M192.7 647l4.4-2.6 8.9-7 4.6-3.5 2 1.3-9.1 6.8-4.3 2.7-4.3 1.6z"/>
<path color="#5e2904" d="M210.6 633.9l4.6-2.9 2 1.1-4.6 3.1z"/>
<path color="#512303" d="M215.2 631l4.7-2.3 2 0.7-4.7 2.7z"/>
<path color="#4b2003" d="M219.9 628.7l4.7-1.5 4.8-1 2-0.2-4.8 1.4-4.7 2z"/>
<path color="#662d05" d="M229.4 626.2l4.8-0.4 1.9-0.7-4.7 0.9z"/>
<path color="#904509" d="M234.2 625.8l4.8 0 1.9-1.1-4.8 0.4z"/>
<path color="#b55a0c" d="M239 625.8l4.8 0.3 1.9-1.3-4.8-0.1z"/>
<path color="#ce670f" d="M243.8 626.1l4.8 0.6 2-1.6-4.9-0.3z"/>
<path color="#df7211" d="M248.6 626.7l4.9 0.8 1.9-1.8-4.8-0.6z"/>
<path color="#e97c13" d="M253.5 627.5l4.9 0.9 1.9-2-4.9-0.7z"/>
<path color="#f18314" d="M258.4 628.4l4.9 1.1 1.9-2.1-4.9-1z"/>
<path color="#f58814" d="M263.3 629.5l5 1.1 1.9-2.2-5-1z"/>
<path color="#f68c15" d="M268.3 630.6l4.9 1.2 1.9-2.3-4.9-1.1z"/>
<path color="#fc9916" d="M130.6 641.1l10.8 3.5 2.3-2.3-10.7-3.4z"/>
<path color="#fc9d16" d="M141.4 644.6l1.5 0.5 2.4-2.3-1.6-0.5z"/>
<path color="#fca417" d="M142.9 645.1l1.6 0.6 2.3-2.3-1.5-0.6z"/>
<path color="#fcb218" d="M144.5 645.7l1.5 0.6 2.4-2.3-1.6-0.6z"/>
<path color="#fdbf1a" d="M146 646.3l4 2.3 2.3-2.6-3.9-2z"/>
<path color="#fcb018" d="M150 648.6l3.9 1.5 2.3-2.3-3.9-1.8z"/>
<path color="#fc9e16" d="M153.9 650.1l4 1.3 2.3-2.3-4-1.3z"/>
<path color="#f78e15" d="M157.9 651.4l3.9 1.3 2.3-2.3-3.9-1.3z"/>
<path color="#c9640e" d="M161.8 652.7l4-0.2 2.3-0.8-4-1.3z"/>
<path color="#7e3b07" d="M165.8 652.5l4-2.6 2.3-0.8-4 2.6z"/>
<path color="#793806" d="M169.8 649.9l4-1 2.3-1.5-4 1.7z"/>
<path color="#a5510b" d="M173.8 648.9l4.2 0.5 2.2-2.1-4.1 0.1z"/>
<path color="#b95c0d" d="M178 649.4l4.1 0.5 2.2-1.9-4.1-0.7z"/>
<path color="#914609" d="M182.1 649.9l4.2-0.8 2.2-0.9-4.2-0.2z"/>
<path color="#6b3005" d="M186.3 649.1l4.3-2.2 2.1 0.1-4.2 1.2z"/>
<path color="#642c05" d="M190.6 646.9l4.3-3.5 2.2 1-4.4 2.6z"/>
<path color="#6a2f05" d="M194.9 643.4l9-7.6 2.1 1.6-8.9 7z"/>
<path color="#632c05" d="M203.9 635.8l4.6-3.2 2.1 1.3-4.6 3.5z"/>
<path color="#562604" d="M208.5 632.6l4.7-2.5 2 0.9-4.6 2.9z"/>
<path color="#4b2003" d="M213.2 630.1l4.7-1.7 4.7-1.1 2-0.1-4.7 1.5-4.7 2.3z"/>
<path color="#612b04" d="M222.6 627.3l4.8-0.5 2-0.6-4.8 1z"/>
<path color="#8b4208" d="M227.4 626.8l4.8 0 2-1-4.8 0.4z"/>
<path color="#b2580c" d="M232.2 626.8l4.8 0.3 2-1.3-4.8 0z"/>
<path color="#cd670f" d="M237 627.1l4.8 0.6 2-1.6-4.8-0.3z"/>
<path color="#df7211" d="M241.8 627.7l4.8 0.8 2-1.8-4.8-0.6z"/>
<path color="#ea7c13" d="M246.6 628.5l4.9 0.9 2-1.9-4.9-0.8z"/>
<path color="#f28314" d="M251.5 629.4l4.9 1.1 2-2.1-4.9-0.9z"/>
<path color="#f58914" d="M256.4 630.5l5 1.2 1.9-2.2-4.9-1.1z"/>
<path color="#f78e15" d="M261.4 631.7l9.9 2.5 1.9-2.4-9.9-2.3z"/>
<path color="#fc9916" d="M128.2 643.3l10.8 3.6 2.4-2.3-10.8-3.5z"/>
<path color="#fc9f17" d="M139 646.9l1.5 0.5 2.4-2.3-1.5-0.5z"/>
<path color="#fca818" d="M140.5 647.4l1.6 0.6 2.4-2.3-1.6-0.6z"/>
<path color="#fdb919" d="M142.1 648l1.6 0.7 2.3-2.4-1.5-0.6z"/>
<path color="#fdc21a" d="M143.7 648.7l3.9 2.5 2.4-2.6-4-2.3z"/>
<path color="#fcab18" d="M147.6 651.2l4 1.3 2.3-2.4-3.9-1.5z"/>
<path color="#fc9916" d="M151.6 652.5l3.9 1.3 2.4-2.4-4-1.3z"/>
<path color="#f08114" d="M155.5 653.8l4 1.3 2.3-2.4-3.9-1.3z"/>
<path color="#a6510b" d="M159.5 655.1l4-2 2.3-0.6-4 0.2z"/>
<path color="#773706" d="M163.5 653.1l4-2.1 2.3-1.1-4 2.6z"/>
<path color="#8c4308" d="M167.5 651l4.1-0.2 2.2-1.9-4 1z"/>
<path color="#b2580c" d="M171.6 650.8l4.1 0.6 2.3-2-4.2-0.5z"/>
<path color="#9f4e0a" d="M175.7 651.4l4.2-0.2 2.2-1.3-4.1-0.5z"/>
<path color="#783706" d="M179.9 651.2l4.2-1.9 2.2-0.2-4.2 0.8z"/>
<path color="#672e05" d="M184.1 649.3l4.3-3.3 2.2 0.9-4.3 2.2z"/>
<path color="#6b3005" d="M188.4 646l4.4-4.1 2.1 1.5-4.3 3.5z"/>
<path color="#703306" d="M192.8 641.9l4.5-4 2.1 1.7-4.5 3.8z"/>
<path color="#682f05" d="M197.3 637.9l4.5-3.6 2.1 1.5-4.5 3.8z"/>
<path color="#5c2804" d="M201.8 634.3l4.6-2.7 2.1 1-4.6 3.2z"/>
<path color="#4c2003" d="M206.4 631.6l4.7-2 4.7-1.2 2.1 0-4.7 1.7-4.7 2.5z"/>
<path color="#5a2704" d="M215.8 628.4l4.7-0.6 2.1-0.5-4.7 1.1z"/>
<path color="#833e07" d="M220.5 627.8l4.8 0 2.1-1-4.8 0.5z"/>
<path color="#ad550b" d="M225.3 627.8l4.8 0.3 2.1-1.3-4.8 0z"/>
<path color="#cd660f" d="M230.1 628.1l4.8 0.6 2.1-1.6-4.8-0.3z"/>
<path color="#df7311" d="M234.9 628.7l4.8 0.8 2.1-1.8-4.8-0.6z"/>
<path color="#ea7c13" d="M239.7 629.5l4.9 1 2-2-4.8-0.8z"/>
<path color="#f38414" d="M244.6 630.5l4.9 1.1 2-2.2-4.9-0.9z"/>
<path color="#f58915" d="M249.5 631.6l4.9 1.2 2-2.3-4.9-1.1z"/>
<path color="#f88f15" d="M254.4 632.8l10 2.5 1.9-2.4-9.9-2.4z"/>
<path color="#f99215" d="M264.4 635.3l5 1.4 1.9-2.5-5-1.3z"/>
<path color="#fc9916" d="M125.8 645.6l9.2 3.1 2.4-2.3-9.2-3.1z"/>
<path color="#fc9c16" d="M135 648.7l1.6 0.5 2.4-2.3-1.6-0.5z"/>
<path color="#fca217" d="M136.6 649.2l1.5 0.6 2.4-2.4-1.5-0.5z"/>
<path color="#fcaf18" d="M138.1 649.8l1.6 0.6 2.4-2.4-1.6-0.6z"/>
<path color="#fdc11a" d="M139.7 650.4l5.6 3.1 2.3-2.3-3.9-2.5-1.6-0.7z"/>
<path color="#fca717" d="M145.3 653.5l3.9 1.3 2.4-2.3-4-1.3z"/>
<path color="#fa9415" d="M149.2 654.8l4 1.3 2.3-2.3-3.9-1.3z"/>
<path color="#dc7111" d="M153.2 656.1l4 0.7 2.3-1.7-4-1.3z"/>
<path color="#8e4408" d="M157.2 656.8l3.9-3.1 2.4-0.6-4 2z"/>
<path color="#7a3907" d="M161.1 653.7l4-1.3 2.4-1.4-4 2.1z"/>
<path color="#9c4c0a" d="M165.1 652.4l4.1 0.4 2.4-2-4.1 0.2z"/>
<path color="#a8530b" d="M169.2 652.8l4.2 0.3 2.3-1.7-4.1-0.6z"/>
<path color="#863f08" d="M173.4 653.1l4.2-1.4 2.3-0.5-4.2 0.2z"/>
<path color="#6d3105" d="M177.6 651.7l4.2-3.1 4.3-4.2 2.3 1.6-4.3 3.3-4.2 1.9z"/>
<path color="#743506" d="M186.1 644.4l4.5-4.4 2.2 1.9-4.4 4.1z"/>
<path color="#6f3206" d="M190.6 640l4.5-3.9 2.2 1.8-4.5 4z"/>
<path color="#622b05" d="M195.1 636.1l4.6-3 2.1 1.2-4.5 3.6z"/>
<path color="#522303" d="M199.7 633.1l4.6-2.2 2.1 0.7-4.6 2.7z"/>
<path color="#4b2003" d="M204.3 630.9l4.7-1.4 2.1 0.1-4.7 2z"/>
<path color="#562504" d="M209 629.5l4.7-0.6 2.1-0.5-4.7 1.2z"/>
<path color="#7b3907" d="M213.7 628.9l4.7-0.1 2.1-1-4.7 0.6z"/>
<path color="#a8530b" d="M218.4 628.8l4.8 0.3 2.1-1.3-4.8 0z"/>
<path color="#cc660f" d="M223.2 629.1l4.8 0.6 2.1-1.6-4.8-0.3z"/>
<path color="#df7311" d="M228 629.7l4.8 0.8 2.1-1.8-4.8-0.6z"/>
<path color="#eb7d13" d="M232.8 630.5l4.8 1 2.1-2-4.8-0.8z"/>
<path color="#f38414" d="M237.6 631.5l4.9 1.1 2.1-2.1-4.9-1z"/>
<path color="#f68a15" d="M242.5 632.6l4.9 1.3 2.1-2.3-4.9-1.1z"/>
<path color="#f89015" d="M247.4 633.9l9.9 2.6 2.1-2.5-9.9-2.4z"/>
<path color="#fa9416" d="M257.3 636.5l10.1 2.7 2-2.5-10-2.7z"/>
<path color="#fc9916" d="M123.3 647.9l9.3 3.1 2.4-2.3-9.2-3.1z"/>
<path color="#fc9e17" d="M132.6 651l1.5 0.5 2.5-2.3-1.6-0.5z"/>
<path color="#fca717" d="M134.1 651.5l1.6 0.6 2.4-2.3-1.5-0.6z"/>
<path color="#fcb819" d="M135.7 652.1l1.6 0.8 2.4-2.5-1.6-0.6z"/>
<path color="#fdc71a" d="M137.3 652.9l1.6 0.9 2.4-2.6-1.6-0.8z"/>
<path color="#fdbe1a" d="M138.9 653.8l4 2.1 2.4-2.4-4-2.3z"/>
<path color="#fca217" d="M142.9 655.9l3.9 1.3 2.4-2.4-3.9-1.3z"/>
<path color="#f58915" d="M146.8 657.2l4 1.3 2.4-2.4-4-1.3z"/>
<path color="#bd5e0d" d="M150.8 658.5l4-1.2 2.4-0.5-4-0.7z"/>
<path color="#813d07" d="M154.8 657.3l3.9-2.7 2.4-0.9-3.9 3.1z"/>
<path color="#884108" d="M158.7 654.6l4.1-0.4 2.3-1.8-4 1.3z"/>
<path color="#a34f0a" d="M162.8 654.2l4.1 0.6 2.3-2-4.1-0.4z"/>
<path color="#924609" d="M166.9 654.8l4.1-0.7 2.4-1-4.2-0.3z"/>
<path color="#743506" d="M171 654.1l4.2-2.8 2.4 0.4-4.2 1.4z"/>
<path color="#6f3206" d="M175.2 651.3l4.3-4.3 2.3 1.6-4.2 3.1z"/>
<path color="#773706" d="M179.5 647l4.4-4.7 4.4-4.3 2.3 2-8.8 8.6z"/>
<path color="#682e05" d="M188.3 638l4.6-3.4 2.2 1.5-4.5 3.9z"/>
<path color="#572604" d="M192.9 634.6l4.5-2.4 2.3 0.9-4.6 3z"/>
<path color="#4c2003" d="M197.4 632.2l4.7-1.6 2.2 0.3-4.6 2.2z"/>
<path color="#542504" d="M202.1 630.6l4.7-0.7 2.2-0.4-4.7 1.4z"/>
<path color="#753606" d="M206.8 629.9l4.7-0.1 2.2-0.9-4.7 0.6z"/>
<path color="#a24f0a" d="M211.5 629.8l4.7 0.2 2.2-1.2-4.7 0.1z"/>
<path color="#cb650f" d="M216.2 630l4.8 0.7 2.2-1.6-4.8-0.3z"/>
<path color="#df7311" d="M221 630.7l4.8 0.8 2.2-1.8-4.8-0.6z"/>
<path color="#ec7e13" d="M225.8 631.5l4.8 1.1 2.2-2.1-4.8-0.8z"/>
<path color="#f48514" d="M230.6 632.6l4.9 1.1 2.1-2.2-4.8-1z"/>
<path color="#f68b15" d="M235.5 633.7l4.9 1.2 2.1-2.3-4.9-1.1z"/>
<path color="#f89015" d="M240.4 634.9l9.9 2.7 2.1-2.5-9.9-2.5z"/>
<path color="#fa9516" d="M250.3 637.6l15.1 4.3 2-2.7-15-4.1z"/>
<path color="#fc9a16" d="M120.8 650.2l9.3 3.2 2.5-2.4-9.3-3.1z"/>
<path color="#fca117" d="M130.1 653.4l1.6 0.5 2.4-2.4-1.5-0.5z"/>
<path color="#fcae18" d="M131.7 653.9l1.6 0.7 2.4-2.5-1.6-0.6z"/>
<path color="#fdc41a" d="M133.3 654.6l1.5 0.8 2.5-2.5-1.6-0.8z"/>
<path color="#fdcd1b" d="M134.8 655.4l1.7 1.1 2.4-2.7-1.6-0.9z"/>
<path color="#fdb919" d="M136.5 656.5l3.9 1.8 2.5-2.4-4-2.1z"/>
<path color="#fc9c16" d="M140.4 658.3l4 1.3 2.4-2.4-3.9-1.3z"/>
<path color="#e97c13" d="M144.4 659.6l4 1.4 2.4-2.5-4-1.3z"/>
<path color="#9e4d0a" d="M148.4 661l3.9-3.3 2.5-0.4-4 1.2z"/>
<path color="#7f3b07" d="M152.3 657.7l4-1.8 2.4-1.3-3.9 2.7z"/>
<path color="#944709" d="M156.3 655.9l4.1 0.4 2.4-2.1-4.1 0.4z"/>
<path color="#994a09" d="M160.4 656.3l4.1-0.1 2.4-1.4-4.1-0.6z"/>
<path color="#7e3b07" d="M164.5 656.2l4.2-2.2 2.3 0.1-4.1 0.7z"/>
<path color="#733406" d="M168.7 654l4.2-4.2 2.3 1.5-4.2 2.8z"/>
<path color="#7b3907" d="M172.9 649.8l4.2-5 4.4-4.7 2.4 2.2-4.4 4.7-4.3 4.3z"/>
<path color="#703306" d="M181.5 640.1l4.5-3.9 2.3 1.8-4.4 4.3z"/>
<path color="#5d2904" d="M186 636.2l4.6-2.7 2.3 1.1-4.6 3.4z"/>
<path color="#4f2203" d="M190.6 633.5l4.6-1.7 2.2 0.4-4.5 2.4z"/>
<path color="#542404" d="M195.2 631.8l4.6-0.9 2.3-0.3-4.7 1.6z"/>
<path color="#723406" d="M199.8 630.9l4.7-0.2 2.3-0.8-4.7 0.7z"/>
<path color="#9e4d0a" d="M204.5 630.7l4.7 0.3 2.3-1.2-4.7 0.1z"/>
<path color="#c9650f" d="M209.2 631l4.8 0.7 2.2-1.7-4.7-0.2z"/>
<path color="#e07311" d="M214 631.7l4.8 0.9 2.2-1.9-4.8-0.7z"/>
<path color="#ec7e13" d="M218.8 632.6l4.8 1 2.2-2.1-4.8-0.8z"/>
<path color="#f48614" d="M223.6 633.6l4.8 1.2 2.2-2.2-4.8-1.1z"/>
<path color="#f68c15" d="M228.4 634.8l4.9 1.3 2.2-2.4-4.9-1.1z"/>
<path color="#f99115" d="M233.3 636.1l9.9 2.6 2.1-2.4-9.8-2.6z"/>
<path color="#fb9616" d="M243.2 638.7l20.1 5.8 2.1-2.6-20.1-5.6z"/>
<path color="#fc9916" d="M118.3 652.6l7.7 2.6 2.5-2.4-7.7-2.6z"/>
<path color="#fc9d16" d="M126 655.2l1.6 0.6 2.5-2.4-1.6-0.6z"/>
<path color="#fca617" d="M127.6 655.8l1.6 0.6 2.5-2.5-1.6-0.5z"/>
<path color="#fdba19" d="M129.2 656.4l1.6 0.7 2.5-2.5-1.6-0.7z"/>
<path color="#fecf1b" d="M130.8 657.1l1.6 1 1.6 1.3 2.5-2.9-1.7-1.1-1.5-0.8z"/>
<path color="#fcb118" d="M134 659.4l4 1.3 2.4-2.4-3.9-1.8z"/>
<path color="#f99315" d="M138 660.7l4 1.4 2.4-2.5-4-1.3z"/>
<path color="#d56b10" d="M142 662.1l3.9-0.4 2.5-0.7-4-1.4z"/>
<path color="#8f4508" d="M145.9 661.7l3.9-3.4 2.5-0.6-3.9 3.3z"/>
<path color="#863f08" d="M149.8 658.3l4-0.6 2.5-1.8-4 1.8z"/>
<path color="#964909" d="M153.8 657.7l4.2 0.4 2.4-1.8-4.1-0.4z"/>
<path color="#894108" d="M158 658.1l4.1-1.4 2.4-0.5-4.1 0.1z"/>
<path color="#783706" d="M162.1 656.7l4.1-4 2.5 1.3-4.2 2.2z"/>
<path color="#7c3a07" d="M166.2 652.7l4.2-5.2 2.5 2.3-4.2 4.2z"/>
<path color="#823d07" d="M170.4 647.5l4.3-5.3 2.4 2.6-4.2 5z"/>
<path color="#783706" d="M174.7 642.2l4.4-4.3 2.4 2.2-4.4 4.7z"/>
<path color="#632c05" d="M179.1 637.9l4.5-3.1 2.4 1.4-4.5 3.9z"/>
<path color="#522403" d="M183.6 634.8l4.6-1.9 4.6-0.9 2.4-0.2-4.6 1.7-4.6 2.7z"/>
<path color="#6b3005" d="M192.8 632l4.7-0.3 2.3-0.8-4.6 0.9z"/>
<path color="#9a4b09" d="M197.5 631.7l4.7 0.3 2.3-1.3-4.7 0.2z"/>
<path color="#c8640e" d="M202.2 632l4.7 0.7 2.3-1.7-4.7-0.3z"/>
<path color="#e07411" d="M206.9 632.7l4.8 0.9 2.3-1.9-4.8-0.7z"/>
<path color="#ed7f13" d="M211.7 633.6l4.8 1.1 2.3-2.1-4.8-0.9z"/>
<path color="#f48714" d="M216.5 634.7l4.9 1.2 2.2-2.3-4.8-1z"/>
<path color="#f78d15" d="M221.4 635.9l4.8 1.3 2.2-2.4-4.8-1.2z"/>
<path color="#f99215" d="M226.2 637.2l9.9 2.7 2.1-2.5-9.8-2.6z"/>
<path color="#fb9716" d="M236.1 639.9l25.2 7.4 2-2.8-25.1-7.1z"/>
<path color="#fc9916" d="M115.7 655l7.8 2.6 2.5-2.4-7.7-2.6z"/>
<path color="#fca017" d="M123.5 657.6l1.6 0.6 2.5-2.4-1.6-0.6z"/>
<path color="#fcae18" d="M125.1 658.2l1.6 0.6 2.5-2.4-1.6-0.6z"/>
<path color="#fdc71a" d="M126.7 658.8l1.6 0.9 2.5-2.6-1.6-0.7z"/>
<path color="#fed51c" d="M128.3 659.7l1.6 1.2 2.5-2.8-1.6-1z"/>
<path color="#fdc91a" d="M129.9 660.9l1.6 0.9 2.5-2.4-1.6-1.3z"/>
<path color="#fca617" d="M131.5 661.8l4 1.4 2.5-2.5-4-1.3z"/>
<path color="#f48614" d="M135.5 663.2l4 1.3 2.5-2.4-4-1.4z"/>
<path color="#b75b0d" d="M139.5 664.5l3.9-2.7 2.5-0.1-3.9 0.4z"/>
<path color="#894108" d="M143.4 661.8l3.9-2.3 2.5-1.2-3.9 3.4z"/>
<path color="#8e4408" d="M147.3 659.5l4.1 0.3 4.1-0.6 2.5-1.1-4.2-0.4-4 0.6z"/>
<path color="#7e3b07" d="M155.5 659.2l4.1-3.5 4.1-5.4 2.5 2.4-4.1 4-4.1 1.4z"/>
<path color="#863f08" d="M163.7 650.3l4.2-5.7 2.5 2.9-4.2 5.2z"/>
<path color="#803c07" d="M167.9 644.6l4.3-4.9 2.5 2.5-4.3 5.3z"/>
<path color="#6a3005" d="M172.2 639.7l4.5-3.5 2.4 1.7-4.4 4.3z"/>
<path color="#582604" d="M176.7 636.2l4.5-2.1 2.4 0.7-4.5 3.1z"/>
<path color="#542504" d="M181.2 634.1l4.6-1.1 2.4-0.1-4.6 1.9z"/>
<path color="#692f05" d="M185.8 633l4.7-0.3 2.3-0.7-4.6 0.9z"/>
<path color="#964809" d="M190.5 632.7l4.6 0.3 2.4-1.3-4.7 0.3z"/>
<path color="#c6630e" d="M195.1 633l4.8 0.7 2.3-1.7-4.7-0.3z"/>
<path color="#e17411" d="M199.9 633.7l4.7 0.9 2.3-1.9-4.7-0.7z"/>
<path color="#ee8013" d="M204.6 634.6l4.8 1.1 2.3-2.1-4.8-0.9z"/>
<path color="#f58814" d="M209.4 635.7l4.8 1.3 2.3-2.3-4.8-1.1z"/>
<path color="#f78e15" d="M214.2 637l4.9 1.3 2.3-2.4-4.9-1.2z"/>
<path color="#f99215" d="M219.1 638.3l9.8 2.8 2.2-2.6-9.7-2.6z"/>
<path color="#fb9716" d="M228.9 641.1l30.3 8.9 2.1-2.7-30.2-8.8z"/>
<path color="#fed21b" d="M125.8 662.5l1.6 1.2 2.5-2.8-1.6-1.2z"/>
<path color="#fcb819" d="M127.4 663.7l1.6 0.6 2.5-2.5-1.6-0.9z"/>
<path color="#fc9916" d="M129 664.3l4 1.3 2.5-2.4-4-1.4z"/>
<path color="#e47712" d="M133 665.6l4 0.8 2.5-1.9-4-1.3z"/>
<path color="#9e4d0a" d="M137 666.4l3.7-4.2 2.7-0.4-3.9 2.7z"/>
<path color="#874008" d="M140.7 662.2l4.1-0.9 2.5-1.8-3.9 2.3z"/>
<path color="#8d4308" d="M144.8 661.3l4.1 0.1 2.5-1.6-4.1-0.3z"/>
<path color="#853f08" d="M148.9 661.4l4-2.6 2.6 0.4-4.1 0.6z"/>
<path color="#813d07" d="M152.9 658.8l4-5.4 2.7 2.3-4.1 3.5z"/>
<path color="#884108" d="M156.9 653.4l4.2-6.3 4.2-5.5 2.6 3-8.3 11.1z"/>
<path color="#733506" d="M165.3 641.6l4.4-4 2.5 2.1-4.3 4.9z"/>
<path color="#5d2904" d="M169.7 637.6l4.5-2.4 2.5 1-4.5 3.5z"/>
<path color="#552504" d="M174.2 635.2l4.5-1.2 2.5 0.1-4.5 2.1z"/>
<path color="#672e05" d="M178.7 634l4.7-0.3 2.4-0.7-4.6 1.1z"/>
<path color="#954809" d="M183.4 633.7l4.6 0.3 2.5-1.3-4.7 0.3z"/>
<path color="#c5620e" d="M188 634l4.7 0.7 2.4-1.7-4.6-0.3z"/>
<path color="#e27512" d="M192.7 634.7l4.8 1 2.4-2-4.8-0.7z"/>
<path color="#f08114" d="M197.5 635.7l4.7 1.1 2.4-2.2-4.7-0.9z"/>
<path color="#f58914" d="M202.2 636.8l4.8 1.3 2.4-2.4-4.8-1.1z"/>
<path color="#f88f15" d="M207 638.1l4.9 1.3 2.3-2.4-4.8-1.3z"/>
<path color="#fa9315" d="M211.9 639.4l9.8 2.8 2.3-2.5-9.8-2.7z"/>
<path color="#fb9816" d="M221.7 642.2l35.3 10.6 2.2-2.8-35.2-10.3z"/>
<path color="#fdc71a" d="M123.2 665.4l1.6 0.8 2.6-2.5-1.6-1.2z"/>
<path color="#fca717" d="M124.8 666.2l1.6 0.6 2.6-2.5-1.6-0.6z"/>
<path color="#f78c15" d="M126.4 666.8l4 1.4 2.6-2.6-4-1.3z"/>
<path color="#cb660f" d="M130.4 668.2l3.9-1.9 2.7 0.1-4-0.8z"/>
<path color="#924609" d="M134.3 666.3l3.8-3.1 2.6-1-3.7 4.2z"/>
<path color="#884008" d="M138.1 663.2l4.1 0.1 4-1.5 2.7-0.4-4.1-0.1-4.1 0.9z"/>
<path color="#843e07" d="M146.2 661.8l4-5.1 2.7 2.1-4 2.6z"/>
<path color="#8c4308" d="M150.2 656.7l4-6.8 4.2-6.2 2.7 3.4-4.2 6.3-4 5.4z"/>
<path color="#7c3a07" d="M158.4 643.7l4.3-4.6 2.6 2.5-4.2 5.5z"/>
<path color="#632c05" d="M162.7 639.1l4.4-2.7 2.6 1.2-4.4 4z"/>
<path color="#572604" d="M167.1 636.4l4.5-1.4 2.6 0.2-4.5 2.4z"/>
<path color="#642d05" d="M171.6 635l4.6-0.3 2.5-0.7-4.5 1.2z"/>
<path color="#914509" d="M176.2 634.7l4.7 0.3 2.5-1.3-4.7 0.3z"/>
<path color="#c5620e" d="M180.9 635l4.6 0.7 2.5-1.7-4.6-0.3z"/>
<path color="#e37612" d="M185.5 635.7l4.8 1 2.4-2-4.7-0.7z"/>
<path color="#f18214" d="M190.3 636.7l4.7 1.2 2.5-2.2-4.8-1z"/>
<path color="#f68a15" d="M195 637.9l4.8 1.3 2.4-2.4-4.7-1.1z"/>
<path color="#f89015" d="M199.8 639.2l4.8 1.4 2.4-2.5-4.8-1.3z"/>
<path color="#fa9416" d="M204.6 640.6l9.8 2.8 2.4-2.6-9.8-2.7z"/>
<path color="#fc9816" d="M214.4 643.4l40.5 12.3 2.1-2.9-40.2-12z"/>
<path color="#fcb419" d="M120.6 668.2l1.6 0.5 2.6-2.5-1.6-0.8z"/>
<path color="#fc9a16" d="M122.2 668.7l1.6 0.6 2.6-2.5-1.6-0.6z"/>
<path color="#ee8013" d="M123.8 669.3l4.1 1.4 2.5-2.5-4-1.4z"/>
<path color="#b1570c" d="M127.9 670.7l3.7-4.5 2.7 0.1-3.9 1.9z"/>
<path color="#8a4208" d="M131.6 666.2l3.9-1.3 2.6-1.7-3.8 3.1z"/>
<path color="#874008" d="M135.5 664.9l4.1-0.4 3.9-4.3 2.7 1.6-4 1.5-4.1-0.1z"/>
<path color="#8d4308" d="M143.5 660.2l3.9-7.2 2.8 3.7-4 5.1z"/>
<path color="#924609" d="M147.4 653l4-7.1 2.8 4-4 6.8z"/>
<path color="#853f08" d="M151.4 645.9l4.2-5.2 2.8 3-4.2 6.2z"/>
<path color="#692f05" d="M155.6 640.7l4.4-3.2 2.7 1.6-4.3 4.6z"/>
<path color="#5c2904" d="M160 637.5l4.5-1.5 2.6 0.4-4.4 2.7z"/>
<path color="#662d05" d="M164.5 636l4.5-0.4 2.6-0.6-4.5 1.4z"/>
<path color="#8f4408" d="M169 635.6l4.7 0.4 2.5-1.3-4.6 0.3z"/>
<path color="#c4620e" d="M173.7 636l4.6 0.7 2.6-1.7-4.7-0.3z"/>
<path color="#e47712" d="M178.3 636.7l4.7 1.1 2.5-2.1-4.6-0.7z"/>
<path color="#f38414" d="M183 637.8l4.8 1.2 2.5-2.3-4.8-1z"/>
<path color="#f68c15" d="M187.8 639l4.7 1.3 2.5-2.4-4.7-1.2z"/>
<path color="#f99215" d="M192.5 640.3l9.7 2.9 2.4-2.6-9.6-2.7z"/>
<path color="#fb9716" d="M202.2 643.2l29.9 9.1 2.2-2.9-29.7-8.8z"/>
<path color="#fc9916" d="M232.1 652.3l20.6 6.3 2.2-2.9-20.6-6.3z"/>
<path color="#fca417" d="M118 670.7l1.6 0.6 2.6-2.6-1.6-0.5z"/>
<path color="#f99215" d="M119.6 671.3l1.6 0.5 2.6-2.5-1.6-0.6z"/>
<path color="#de7211" d="M121.2 671.8l3.9-0.7 2.8-0.4-4.1-1.4z"/>
<path color="#9e4d0a" d="M125.1 671.1l3.7-4.2 2.8-0.7-3.7 4.5z"/>
<path color="#884008" d="M128.8 666.9l4.1-0.1 3.9-3.1 2.8 0.8-4.1 0.4-3.9 1.3z"/>
<path color="#8e4408" d="M136.8 663.7l3.8-7.3 2.9 3.8-3.9 4.3z"/>
<path color="#954809" d="M140.6 656.4l3.9-8 2.9 4.6-3.9 7.2z"/>
<path color="#8c4308" d="M144.5 648.4l4.1-6 2.8 3.5-4 7.1z"/>
<path color="#703306" d="M148.6 642.4l4.2-3.7 2.8 2-4.2 5.2z"/>
<path color="#5f2a04" d="M152.8 638.7l4.5-1.7 2.7 0.5-4.4 3.2z"/>
<path color="#682f05" d="M157.3 637l4.5-0.4 2.7-0.6-4.5 1.5z"/>
<path color="#914509" d="M161.8 636.6l4.6 0.3 2.6-1.3-4.5 0.4z"/>
<path color="#c5620e" d="M166.4 636.9l4.7 0.9 2.6-1.8-4.7-0.4z"/>
<path color="#e67912" d="M171.1 637.8l4.6 1.1 2.6-2.2-4.6-0.7z"/>
<path color="#f48514" d="M175.7 638.9l4.8 1.2 2.5-2.3-4.7-1.1z"/>
<path color="#f78d15" d="M180.5 640.1l4.7 1.4 2.6-2.5-4.8-1.2z"/>
<path color="#fa9315" d="M185.2 641.5l9.7 2.9 2.5-2.7-9.6-2.7z"/>
<path color="#fc9816" d="M194.9 644.4l55.6 17.2 2.2-3-55.3-16.9z"/>
<path color="#fc9b16" d="M115.4 673.3l1.6 0.5 2.6-2.5-1.6-0.6z"/>
<path color="#f58914" d="M117 673.8l1.6 0.6 2.6-2.6-1.6-0.5z"/>
<path color="#c7630e" d="M118.6 674.4l3.6-4 2.9 0.7-3.9 0.7z"/>
<path color="#914509" d="M122.2 670.4l3.9-1.8 2.7-1.7-3.7 4.2z"/>
<path color="#874008" d="M126.1 668.6l4-1.4 2.8-0.4-4.1 0.1z"/>
<path color="#8e4408" d="M130.1 667.2l3.7-7 3 3.5-3.9 3.1z"/>
<path color="#964909" d="M133.8 660.2l3.7-8.9 3.1 5.1-3.8 7.3z"/>
<path color="#924609" d="M137.5 651.3l4-7.2 3 4.3-3.9 8z"/>
<path color="#793806" d="M141.5 644.1l4.2-4.2 2.9 2.5-4.1 6z"/>
<path color="#622b05" d="M145.7 639.9l4.3-1.9 2.8 0.7-4.2 3.7z"/>
<path color="#652d05" d="M150 638l4.5-0.5 2.8-0.5-4.5 1.7z"/>
<path color="#8f4508" d="M154.5 637.5l4.6 0.4 2.7-1.3-4.5 0.4z"/>
<path color="#c6630e" d="M159.1 637.9l4.6 0.9 2.7-1.9-4.6-0.3z"/>
<path color="#e87b12" d="M163.7 638.8l4.7 1.2 2.7-2.2-4.7-0.9z"/>
<path color="#f48714" d="M168.4 640l4.7 1.3 2.6-2.4-4.6-1.1z"/>
<path color="#f88f15" d="M173.1 641.3l4.8 1.3 2.6-2.5-4.8-1.2z"/>
<path color="#fa9416" d="M177.9 642.6l9.6 3 2.5-2.7-9.5-2.8z"/>
<path color="#fc9816" d="M187.5 645.6l60.7 18.9 2.3-2.9-60.5-18.7z"/>
<path color="#fa9416" d="M112.7 675.9l1.6 0.5 2.7-2.6-1.6-0.5z"/>
<path color="#ea7d13" d="M114.3 676.4l1.6 0.1 2.7-2.1-1.6-0.6z"/>
<path color="#ad550b" d="M115.9 676.5l3.5-5.8 2.8-0.3-3.6 4z"/>
<path color="#8a4208" d="M119.4 670.7l4-0.6 3.6-5.7 3.1 2.8-4 1.4-3.9 1.8z"/>
<path color="#964809" d="M127 664.4l3.6-9.9 3.7-8.4 3.2 5.2-3.7 8.9-3.7 7z"/>
<path color="#813c07" d="M134.3 646.1l4.1-5 3.1 3-4 7.2z"/>
<path color="#672e05" d="M138.4 641.1l4.4-2.2 4.4-0.5 2.8-0.4-4.3 1.9-4.2 4.2z"/>
<path color="#8b4208" d="M147.2 638.4l4.6 0.5 2.7-1.4-4.5 0.5z"/>
<path color="#c6630e" d="M151.8 638.9l4.6 1 2.7-2-4.6-0.4z"/>
<path color="#ea7c13" d="M156.4 639.9l4.7 1.2 2.6-2.3-4.6-0.9z"/>
<path color="#f58914" d="M161.1 641.1l4.7 1.3 2.6-2.4-4.7-1.2z"/>
<path color="#f89015" d="M165.8 642.4l4.7 1.4 2.6-2.5-4.7-1.3z"/>
<path color="#fa9516" d="M170.5 643.8l9.6 3 2.6-2.7-9.6-2.8z"/>
<path color="#fc9916" d="M180.1 646.8l65.9 20.8 2.2-3.1-65.5-20.4z"/>
<path color="#f48514" d="M110 678.5l1.5 0.1 2.8-2.2-1.6-0.5z"/>
<path color="#cf670f" d="M111.5 678.6l1.3-3.5 3.1 1.4-1.6-0.1z"/>
<path color="#974909" d="M112.8 675.1l3.8-2.8 2.8-1.6-3.5 5.8z"/>
<path color="#894108" d="M116.6 672.3l3.7-3.5 3.1 1.3-4 0.6z"/>
<path color="#944709" d="M120.3 668.8l3.4-10.5 3.3 6.1-3.6 5.7z"/>
<path color="#994a09" d="M123.7 658.3l3.5-10.1 3.4 6.3-3.6 9.9z"/>
<path color="#884008" d="M127.2 648.2l4-5.9 3.1 3.8-3.7 8.4z"/>
<path color="#6d3205" d="M131.2 642.3l4.2-2.5 4.5-0.4 2.9-0.5-4.4 2.2-4.1 5z"/>
<path color="#8f4408" d="M139.9 639.4l4.5 0.5 2.8-1.5-4.4 0.5z"/>
<path color="#c6630e" d="M144.4 639.9l4.6 1 2.8-2-4.6-0.5z"/>
<path color="#ec7e13" d="M149 640.9l4.6 1.3 2.8-2.3-4.6-1z"/>
<path color="#f68b15" d="M153.6 642.2l4.7 1.4 2.8-2.5-4.7-1.2z"/>
<path color="#f99215" d="M158.3 643.6l4.8 1.4 2.7-2.6-4.7-1.3z"/>
<path color="#fb9616" d="M163.1 645l14.3 4.5 2.7-2.7-14.3-4.4z"/>
<path color="#fc9916" d="M177.4 649.5l66.3 21.1 2.3-3-65.9-20.8z"/>
<path color="#d66c10" d="M107.2 680.7l1.2-4 3.1 1.9-1.5-0.1z"/>
<path color="#a6510b" d="M108.4 676.7l1.3-2.2 3.1 0.6-1.3 3.5z"/>
<path color="#8b4208" d="M109.7 674.5l3.9-1.6 3-0.6-3.8 2.8z"/>
<path color="#8f4408" d="M113.6 672.9l3.2-10.1 3.5 6-3.7 3.5z"/>
<path color="#984a09" d="M116.8 662.8l3.3-12.1 3.6 7.6-3.4 10.5z"/>
<path color="#8d4308" d="M120.1 650.7l3.7-7.2 3.4 4.7-3.5 10.1z"/>
<path color="#743506" d="M123.8 643.5l4.2-2.8 4.4-0.4 3-0.5-4.2 2.5-4 5.9z"/>
<path color="#944709" d="M132.4 640.3l4.6 0.6 2.9-1.5-4.5 0.4z"/>
<path color="#cb660f" d="M137 640.9l4.6 1.1 2.8-2.1-4.5-0.5z"/>
<path color="#ef8013" d="M141.6 642l4.6 1.3 2.8-2.4-4.6-1z"/>
<path color="#f78d15" d="M146.2 643.3l4.7 1.4 2.7-2.5-4.6-1.3z"/>
<path color="#fa9516" d="M150.9 644.7l9.4 3 2.8-2.7-9.5-2.8z"/>
<path color="#fc9916" d="M160.3 647.7l81 26.1 2.4-3.2-80.6-25.6z"/>
<path color="#a6510b" d="M103.9 678.3l1.3-2.1 3.2 0.5-1.2 4z"/>
<path color="#8c4308" d="M105.2 676.2l1.6-0.3 3.3-7.7 3.5 4.7-3.9 1.6-1.3 2.2z"/>
<path color="#964809" d="M110.1 668.2l2.9-14.5 3.8 9.1-3.2 10.1z"/>
<path color="#904509" d="M113 653.7l3.5-8.9 3.6 5.9-3.3 12.1z"/>
<path color="#7b3907" d="M116.5 644.8l4.1-3.2 4.4-0.4 3-0.5-4.2 2.8-3.7 7.2z"/>
<path color="#994a09" d="M125 641.2l4.5 0.7 2.9-1.6-4.4 0.4z"/>
<path color="#d1690f" d="M129.5 641.9l4.6 1.2 2.9-2.2-4.6-0.6z"/>
<path color="#f28314" d="M134.1 643.1l4.6 1.4 2.9-2.5-4.6-1.1z"/>
<path color="#f89015" d="M138.7 644.5l4.6 1.4 2.9-2.6-4.6-1.3z"/>
<path color="#fb9616" d="M143.3 645.9l9.5 3 2.8-2.7-9.4-2.9z"/>
<path color="#fc9916" d="M152.8 648.9l86.1 28 2.4-3.1-85.7-27.6z"/>
<path color="#8a4208" d="M100.7 678l1.5-0.6 1.3-3.3 3.3 1.8-1.6 0.3-1.3 2.1z"/>
<path color="#934709" d="M103.5 674.1l2.4-16.7 3.2-11.4 3.9 7.7-2.9 14.5-3.3 7.7z"/>
<path color="#843e07" d="M109.1 646l4-3.7 3.4 2.5-3.5 8.9z"/>
<path color="#813c07" d="M113.1 642.3l4.4-0.3 3.1-0.4-4.1 3.2z"/>
<path color="#9f4d0a" d="M117.5 642l4.5 0.9 3-1.7-4.4 0.4z"/>
<path color="#d76c10" d="M122 642.9l4.5 1.3 3-2.3-4.5-0.7z"/>
<path color="#f48714" d="M126.5 644.2l4.6 1.4 3-2.5-4.6-1.2z"/>
<path color="#f99215" d="M131.1 645.6l4.7 1.5 2.9-2.6-4.6-1.4z"/>
<path color="#fb9816" d="M135.8 647.1l23.8 7.8 2.7-2.9-23.6-7.5z"/>
<path color="#fc9916" d="M159.6 654.9l76.9 25.2 2.4-3.2-76.6-24.9z"/>
<path color="#8e4408" d="M97.5 677.7l0.9-6.5 3.8 6.2-1.5 0.6z"/>
<path color="#964909" d="M98.4 671.2l0.7-8.7 2.6-15.2 4.2 10.1-2.4 16.7-1.3 3.3z"/>
<path color="#8e4408" d="M101.7 647.3l3.9-4.2 4.3-0.2 3.2-0.6-4 3.7-3.2 11.4z"/>
<path color="#ab540b" d="M109.9 642.9l4.5 1.1 3.1-2-4.4 0.3z"/>
<path color="#dd7111" d="M114.4 644l4.6 1.4 3-2.5-4.5-0.9z"/>
<path color="#f68a15" d="M119 645.4l4.5 1.4 3-2.6-4.5-1.3z"/>
<path color="#fa9416" d="M123.5 646.8l4.7 1.6 2.9-2.8-4.6-1.4z"/>
<path color="#fc9916" d="M128.2 648.4l105.9 35 2.4-3.3-105.4-34.5z"/>
<path color="#9a4b09" d="M92.7 664.3l0.5-9.5 1-6.1 4.9 13.8-0.7 8.7-0.9 6.5z"/>
<path color="#944709" d="M94.2 648.7l3.8-5 3.7 3.6-2.6 15.2z"/>
<path color="#9b4b0a" d="M98 643.7l4.3 0.2 3.3-0.8-3.9 4.2z"/>
<path color="#bf5f0d" d="M102.3 643.9l4.5 1.2 3.1-2.2-4.3 0.2z"/>
<path color="#e67912" d="M106.8 645.1l4.5 1.5 3.1-2.6-4.5-1.1z"/>
<path color="#f78e15" d="M111.3 646.6l4.6 1.5 3.1-2.7-4.6-1.4z"/>
<path color="#fb9716" d="M115.9 648.1l14 4.6 3-2.8-13.9-4.5z"/>
<path color="#fc9916" d="M129.9 652.7l101.7 34 2.5-3.3-101.2-33.5z"/>
<path color="#9a4a09" d="M86.2 666.4l0.2-12.3 0.9-6.5 1.4-2.6 1.6-0.7 3.9 4.4-1 6.1-0.5 9.5-0.4 10.7-0.9 6.1z"/>
<path color="#a4500a" d="M90.3 644.3l4.3 0.6 3.4-1.2-3.8 5z"/>
<path color="#cc660f" d="M94.6 644.9l4.5 1.4 3.2-2.4-4.3-0.2z"/>
<path color="#ef8013" d="M99.1 646.3l4.6 1.5 3.1-2.7-4.5-1.2z"/>
<path color="#f99215" d="M103.7 647.8l4.5 1.5 3.1-2.7-4.5-1.5z"/>
<path color="#fc9916" d="M108.2 649.3l120.9 40.7 2.5-3.3-120.3-40.1z"/>
<path color="#a5510b" d="M79.9 668.9l-0.6-16.9 7 27.9-1 4z"/>
<path color="#a14f0a" d="M79.3 652l0.9-5.9 1.5-1.2 1.7 0.1 3.9 2.6-0.9 6.5-0.2 12.3 0.1 13.5z"/>
<path color="#aa530b" d="M83.4 645l1.8 0.4 3.5-0.4-1.4 2.6z"/>
<path color="#be5e0d" d="M85.2 645.4l1.8 0.6 3.3-1.7-1.6 0.7z"/>
<path color="#dc7111" d="M87 646l4.4 1.5 3.2-2.6-4.3-0.6z"/>
<path color="#f48714" d="M91.4 647.5l4.6 1.5 3.1-2.7-4.5-1.4z"/>
<path color="#fa9516" d="M96 649l4.5 1.6 3.2-2.8-4.6-1.5z"/>
<path color="#fc9916" d="M100.5 650.6l126 42.8 2.6-3.4-125.4-42.2z"/>
<path color="#bd5e0d" d="M73.7 673.2l-2-25.5 8.7 37.4-0.3 8.9z"/>
<path color="#b0570c" d="M71.7 647.7l1.4-2.3 1.7 0.3 4.5 6.3 1.1 33.1z"/>
<path color="#bb5d0d" d="M74.8 645.7l1.8 0.6 3.6-0.2-0.9 5.9z"/>
<path color="#cc660f" d="M76.6 646.3l1.7 0.6 3.4-2-1.5 1.2z"/>
<path color="#dd7111" d="M78.3 646.9l1.8 0.6 3.3-2.5-1.7-0.1z"/>
<path color="#e97b13" d="M80.1 647.5l1.8 0.6 3.3-2.7-1.8-0.4z"/>
<path color="#f48514" d="M81.9 648.1l1.8 0.6 3.3-2.7-1.8-0.6z"/>
<path color="#f89015" d="M83.7 648.7l4.5 1.6 3.2-2.8-4.4-1.5z"/>
<path color="#fc9916" d="M88.2 650.3l135.8 46.6 2.5-3.5-135.1-45.9z"/>
<path color="#763606" d="M65.1 651.8l1.7 0.6 8.2 41-1.6-0.6z"/>
<path color="#9a4b09" d="M66.8 652.4l0.7-6.8 6.2 27.6 1.3 20.2z"/>
<path color="#a8520b" d="M67.5 645.6l1.7 0.5 2.5 1.6 2 25.5z"/>
<path color="#c2610e" d="M69.2 646.1l1.8 0.6 2.1-1.3-1.4 2.3z"/>
<path color="#df7311" d="M71 646.7l1.7 0.7 2.1-1.7-1.7-0.3z"/>
<path color="#ed7f13" d="M72.7 647.4l1.8 0.6 2.1-1.7-1.8-0.6z"/>
<path color="#f58814" d="M74.5 648l1.8 0.6 2-1.7-1.7-0.6z"/>
<path color="#f89115" d="M76.3 648.6l1.8 0.6 2-1.7-1.8-0.6z"/>
<path color="#fb9616" d="M78.1 649.2l3.6 1.2 2-1.7-3.6-1.2z"/>
<path color="#fc9916" d="M81.7 650.4l140.6 48.6 1.7-2.1-140.3-48.2z"/>
<path color="#612b04" d="M66.8 666.8l1.8 0.6-1.8-15-1.7-0.6z"/>
<path color="#4e2103" d="M68.6 667.4l0.9-4.7-2-17.1-0.7 6.8z"/>
<path color="#602a04" d="M69.5 662.7l13.2-0.8-1-11.5-14.2-4.8z"/>
<path color="#632c05" d="M82.7 661.9l13.2 2.2 4.4 0.3-0.3-7.6-18.3-6.4z"/>
<path color="#672e05" d="M100.3 664.4l4.5 0.2 4.5 0.4 0-5-9.3-3.2z"/>
<path color="#6d3105" d="M109.3 665l4.6 0.6 0.1-4-4.7-1.6z"/>
<path color="#753606" d="M113.9 665.6l4.7 0.5 0.2-2.8-4.8-1.7z"/>
<path color="#853f08" d="M118.6 666.1l4.7 0.5 0.3-1.7-4.8-1.6z"/>
<path color="#c6630e" d="M123.3 666.6l4.7 0.4 0.4-0.4-4.8-1.7z"/>
<path color="#fc9916" d="M128 667l94 32.5 0.3-0.5-93.9-32.4z"/>
<path color="#612b04" d="M68.6 681.3l1.6 0.6-1.6-14.5-1.8-0.6z"/>
<path color="#532404" d="M70.2 681.9l1.2-2.8-1.9-16.4-0.9 4.7z"/>
<path color="#5d2904" d="M71.4 679.1l12.3-6.1-1-11.1-13.2 0.8z"/>
<path color="#612b04" d="M83.7 673l12.7-0.2 4.3-1 4.2-1.1-0.1-6.1-8.9-0.5-13.2-2.2z"/>
<path color="#652d05" d="M104.9 670.7l4.5-0.7 4.4-0.5 0.1-3.9-9.1-1z"/>
<path color="#6b3005" d="M113.8 669.5l4.6-0.6 0.2-2.8-4.7-0.5z"/>
<path color="#763606" d="M118.4 668.9l4.6-0.6 0.3-1.7-4.7-0.5z"/>
<path color="#9b4b0a" d="M123 668.3l4.6-0.9 0.4-0.4-4.7-0.4z"/>
<path color="#fc9916" d="M127.6 667.4l94.1 32.5 0.3-0.4-94-32.5z"/>
<path color="#612b04" d="M70.2 695.2l1.7 0.7-1.7-14-1.6-0.6z"/>
<path color="#5b2804" d="M71.9 695.9l1.4-1.1 11.3-11-0.9-10.8-12.3 6.1-1.2 2.8z"/>
<path color="#5f2a04" d="M84.6 683.8l12.3-2.5 4.1-2.1 4.1-2.5 4.3-1.8 4.4-1.5 0-3.9-4.4 0.5-4.5 0.7-4.2 1.1-4.3 1-12.7 0.2z"/>
<path color="#642c05" d="M113.8 673.4l4.4-1.7 0.2-2.8-4.6 0.6z"/>
<path color="#672e05" d="M118.2 671.7l4.5-1.7 0.3-1.7-4.6 0.6z"/>
<path color="#803c07" d="M122.7 670l4.5-2.2 0.4-0.4-4.6 0.9z"/>
<path color="#fc9916" d="M127.2 667.8l94.1 32.6 0.4-0.5-94.1-32.5z"/>
</g>
<path class="m" d="M70.2 695.2L65.4 653.5M131.9 639.9L153.5 619.9M77.4 690.7L72.8 647.3L75.5 645.3L76 645.2L76.5 645.4M143.6 638.5L160.9 622.1M84.6 683.8L81.7 650.4L89.1 644.5L90.5 644.3M105.8 676.1L107.4 675.6M110.9 674.5L116.3 676.6L117.7 675.3M155.2 637.2L168.4 624.4M92.7 682.1L90.8 653.5L103.1 643.4L105.3 643M122.2 670.1L124.5 669.7M168 635.4L175.9 627M101 679.2L100 656.7L117.5 642L120 641.5M180.5 633.6L183.6 630.4M109.4 674.9L109.4 659.9L132 640.4L134.8 639.8M118.2 671.7L118.8 663.2L146.5 638.7L149.5 638M127.2 667.8L161.1 636.9L164.3 636M137 671.2L175.5 635L178.9 634M147 674.6L190.1 632.9L193.6 631.8M157.1 678.1L204.8 630.6L208.4 629.6M167.4 681.7L219.6 628.2L222.9 627.3M177.8 685.3L234.3 625.7L237.4 624.9M188.4 689L249.3 623L251.9 622.4M199.2 692.7L264.1 620.3L266 619.8M210.2 696.5L278.9 617.5M221.3 700.4L288.7 616.6M70.2 695.2L72.1 696L87.8 683.1L97.7 681.2L106.1 676.1L125.1 669L125.8 667.2L221.3 700.4M81.1 645.1L226.5 693.4M97.8 643.7L101.5 643.7L231.6 686.7M113.9 642.1L236.5 680.1M107.2 680.4L109.1 675.2M111.6 674.1L112.9 673.7L113.5 673.1M129.1 640.4L241.3 673.8M114.9 676.7L115.7 676.9L117.9 672.1M122.7 670.4L124 669.7L124.7 669M144.1 638.6L246 667.6M123.5 672.6L124.1 672.9L126.2 669.2M158.1 636.8L250.5 661.6M171.9 635L254.9 655.7M184.8 633.1L259.2 650M197.4 631.3L263.3 644.5M209.9 629.4L267.4 639.2M222.2 627.4L271.3 634.2M135.4 636.7L142.1 638.8M233.5 625.5L275.1 629.5M140.1 632.3L155.2 637.2M244.6 623.6L277.9 625.2L278.8 625.3M144.6 628.1L166.7 635.6M255.6 621.7L282.3 621.7M149.1 624L173 632L175.6 633.5L177.6 634.2M266.4 619.8L285.6 618.7M153.5 619.9L179.2 628.5L189.7 632.3M276.2 618L288.7 616.6"/>
<path class="e" d="M64.2 701.5L220.4 762.9M220.4 762.9L288.1 661.2M288.1 661.2L257.8 652M191.8 632L178.1 627.9M153 620.3L152.2 620.1M152.2 620.1L130.6 640M70.7 695.4L64.2 701.5M55.2 645.9L224.2 705M224.2 705L296 607.8M296 607.8L150.5 569.4M150.5 569.4L55.2 645.9M64.2 701.5L55.2 645.9M220.4 762.9L224.2 705M288.1 661.2L296 607.8M152.2 620.1L150.5 569.4"/>
<path class="t" d="M68 703L71.2 700.1M222.8 759.4L217.5 757.4M74.6 705.6L76.4 703.9M226.6 753.6L223.7 752.5M81.3 708.2L83.1 706.5M230.4 748L227.4 746.9M88.1 710.9L89.8 709.1M234.1 742.4L231.2 741.3M94.9 713.6L96.6 711.8M237.7 737L234.8 735.9M101.8 716.3L104.8 713.2M241.2 731.7L236.2 729.9M108.8 719L110.5 717.2M244.7 726.5L241.8 725.5M115.8 721.8L117.5 720M248.1 721.4L245.2 720.4M123 724.6L124.6 722.8M251.4 716.4L248.6 715.4M130.2 727.4L131.9 725.6M254.6 711.5L251.9 710.6M137.5 730.3L140.4 727M257.8 706.7L253 705.1M144.9 733.2L146.5 731.3M261 702L258.2 701.1M152.4 736.2L154 734.2M264 697.4L261.3 696.5M159.9 739.1L161.5 737.2M267 692.9L264.3 692M167.6 742.1L169.2 740.2M270 688.5L267.3 687.6M175.3 745.2L178.1 741.7M272.9 684.1L268.2 682.6M183.2 748.3L184.7 746.3M275.7 679.8L273.1 679M191.1 751.4L192.6 749.3M278.5 675.6L275.9 674.8M199.1 754.5L200.6 752.5M281.3 671.5L278.7 670.7M207.3 757.7L208.7 755.7M283.9 667.5L281.4 666.7M215.5 761L218 757.3M286.6 663.5L282.1 662.1M63.4 697L65.2 695.3M62.6 691.7L64.4 690M61.7 686.3L64.9 683.4M60.8 680.8L62.7 679.1M59.9 675.2L61.8 673.6M59 669.6L60.9 668M58.1 663.9L60 662.2M57.1 658L60.5 655.2M56.2 652.1L58.1 650.5M55.2 646.1L57.2 644.5"/>
<g class="k">
<text x="52.5" y="721.3">0.0</text>
<text x="87.8" y="735.1">0.5</text>
<text x="125.5" y="749.4">1.0</text>
<text x="165.8" y="765.4">1.5</text>
<text x="207.6" y="780.5">2.0</text>
<text x="236.9" y="772.6">0.0</text>
<text x="256.1" y="742.5">0.5</text>
<text x="272.7" y="717.3">1.0</text>
<text x="287.6" y="694.1">1.5</text>
<text x="301.1" y="673.4">2.0</text>
<text x="57.6" y="690.2" class="r">0.0305</text>
<text x="53" y="662.6" class="r">0.0310</text>
</g>
<g class="n">
<text x="44" y="599.8">Fidelity</text>
<text x="96.8" y="761.6">T</text>
<text x="291.6" y="737.9" class="i">ω</text>
<text x="270" y="588.3">(e)</text>
</g>
</g>
<g id="pf">
<g class="s">
<path color="#fc9916" d="M523.6 626.6l18.5 5.6 2.1-2.1-18.4-5.5z"/>
<path color="#fa9416" d="M542.1 632.2l3.8 1.1 2.1-2.1-3.8-1.1z"/>
<path color="#f68a15" d="M545.9 633.3l3.8 0.9 2-2-3.7-1z"/>
<path color="#e67912" d="M549.7 634.2l3.8 0.6 2-1.9-3.8-0.7z"/>
<path color="#c5620e" d="M553.5 634.8l3.8 0.2 2.1-1.8-3.9-0.3z"/>
<path color="#9a4b09" d="M557.3 635l3.9-0.4 2.1-1.6-3.9 0.2z"/>
<path color="#783806" d="M561.2 634.6l4-1 2-1.4-3.9 0.8z"/>
<path color="#5f2a04" d="M565.2 633.6l4-1.6 2-1.1-4 1.3z"/>
<path color="#512303" d="M569.2 632l4.1-2.1 12.7-7.2 1.9-0.4-8.5 4.7-4.1 2.1-4.1 1.8z"/>
<path color="#4b2003" d="M586 622.7l4.3-2.2 4.4-2.1 4.4-1.7 1.9-0.5-4.5 1.8-4.3 2.1-4.3 2.2z"/>
<path color="#512303" d="M599.1 616.7l4.5-1.4 1.8-0.6-4.4 1.5z"/>
<path color="#6a3005" d="M603.6 615.3l4.5-1.1 1.8-0.7-4.5 1.2z"/>
<path color="#823d07" d="M608.1 614.2l4.5-0.8 1.8-0.8-4.5 0.9z"/>
<path color="#924609" d="M612.6 613.4l4.6-0.5 1.8-1-4.6 0.7z"/>
<path color="#a04e0a" d="M617.2 612.9l4.5-0.2 1.8-1.2-4.5 0.4z"/>
<path color="#b0570c" d="M621.7 612.7l4.6-0.1 1.8-1.3-4.6 0.2z"/>
<path color="#be5e0d" d="M626.3 612.6l4.7 0.1 1.7-1.4-4.6 0z"/>
<path color="#ca650f" d="M631 612.7l4.6 0.3 1.8-1.5-4.7-0.2z"/>
<path color="#d56b10" d="M635.6 613l4.7 0.4 1.7-1.6-4.6-0.3z"/>
<path color="#dc7011" d="M640.3 613.4l4.7 0.5 1.7-1.7-4.7-0.4z"/>
<path color="#e27512" d="M645 613.9l4.8 0.6 1.7-1.7-4.8-0.6z"/>
<path color="#e77912" d="M649.8 614.5l4.7 0.7 1.7-1.8-4.7-0.6z"/>
<path color="#ea7c13" d="M654.5 615.2l4.8 0.7 1.7-1.8-4.8-0.7z"/>
<path color="#fc9916" d="M521.4 628.7l18.6 5.6 2.1-2.1-18.5-5.6z"/>
<path color="#f99215" d="M540 634.3l3.8 1.1 2.1-2.1-3.8-1.1z"/>
<path color="#f48714" d="M543.8 635.4l3.8 0.9 2.1-2.1-3.8-0.9z"/>
<path color="#e07411" d="M547.6 636.3l3.8 0.5 2.1-2-3.8-0.6z"/>
<path color="#b95c0d" d="M551.4 636.8l3.9-0.1 2-1.7-3.8-0.2z"/>
<path color="#8f4508" d="M555.3 636.7l3.9-0.6 2-1.5-3.9 0.4z"/>
<path color="#6e3205" d="M559.2 636.1l4-1.3 2-1.2-4 1z"/>
<path color="#5a2804" d="M563.2 634.8l4-1.9 2-0.9-4 1.6z"/>
<path color="#522403" d="M567.2 632.9l4.1-2.3 12.7-7.5 2-0.4-12.7 7.2-4.1 2.1z"/>
<path color="#4b2003" d="M584 623.1l4.4-2.3 4.4-1.9 4.4-1.7 1.9-0.5-4.4 1.7-4.4 2.1-4.3 2.2z"/>
<path color="#582704" d="M597.2 617.2l4.5-1.2 1.9-0.7-4.5 1.4z"/>
<path color="#733406" d="M601.7 616l4.5-1 1.9-0.8-4.5 1.1z"/>
<path color="#884008" d="M606.2 615l4.6-0.6 1.8-1-4.5 0.8z"/>
<path color="#974909" d="M610.8 614.4l4.5-0.4 1.9-1.1-4.6 0.5z"/>
<path color="#a6510b" d="M615.3 614l4.6-0.1 1.8-1.2-4.5 0.2z"/>
<path color="#b65a0c" d="M619.9 613.9l4.6 0 1.8-1.3-4.6 0.1z"/>
<path color="#c4620e" d="M624.5 613.9l4.7 0.2 1.8-1.4-4.7-0.1z"/>
<path color="#cf680f" d="M629.2 614.1l4.6 0.4 1.8-1.5-4.6-0.3z"/>
<path color="#d96e10" d="M633.8 614.5l4.7 0.5 1.8-1.6-4.7-0.4z"/>
<path color="#df7311" d="M638.5 615l4.8 0.6 1.7-1.7-4.7-0.5z"/>
<path color="#e47712" d="M643.3 615.6l4.7 0.6 1.8-1.7-4.8-0.6z"/>
<path color="#e97b13" d="M648 616.2l4.8 0.8 1.7-1.8-4.7-0.7z"/>
<path color="#ec7e13" d="M652.8 617l4.8 0.8 1.7-1.9-4.8-0.7z"/>
<path color="#fc9916" d="M519.2 630.8l18.7 5.7 2.1-2.2-18.6-5.6z"/>
<path color="#f89015" d="M537.9 636.5l3.8 1 2.1-2.1-3.8-1.1z"/>
<path color="#f18214" d="M541.7 637.5l3.8 0.8 2.1-2-3.8-0.9z"/>
<path color="#d76c10" d="M545.5 638.3l3.8 0.4 2.1-1.9-3.8-0.5z"/>
<path color="#a9530b" d="M549.3 638.7l3.9-0.3 2.1-1.7-3.9 0.1z"/>
<path color="#813c07" d="M553.2 638.4l3.9-0.9 2.1-1.4-3.9 0.6z"/>
<path color="#632c05" d="M557.1 637.5l4-1.6 2.1-1.1-4 1.3z"/>
<path color="#562504" d="M561.1 635.9l4.1-2.2 12.6-7.9 1.9-0.3-8.4 5.1-4.1 2.3-4 1.9z"/>
<path color="#522303" d="M577.8 625.8l4.3-2.5 1.9-0.2-4.3 2.4z"/>
<path color="#4b2003" d="M582.1 623.3l4.4-2.2 4.4-1.8 4.4-1.5 1.9-0.6-4.4 1.7-4.4 1.9-4.4 2.3z"/>
<path color="#622b05" d="M595.3 617.8l4.5-1.1 1.9-0.7-4.5 1.2z"/>
<path color="#7d3a07" d="M599.8 616.7l4.5-0.8 1.9-0.9-4.5 1z"/>
<path color="#904509" d="M604.3 615.9l4.6-0.5 1.9-1-4.6 0.6z"/>
<path color="#9e4d0a" d="M608.9 615.4l4.6-0.2 1.8-1.2-4.5 0.4z"/>
<path color="#af560c" d="M613.5 615.2l4.6 0 1.8-1.3-4.6 0.1z"/>
<path color="#be5f0d" d="M618.1 615.2l4.6 0.1 1.8-1.4-4.6 0z"/>
<path color="#cb660f" d="M622.7 615.3l4.7 0.3 1.8-1.5-4.7-0.2z"/>
<path color="#d66b10" d="M627.4 615.6l4.6 0.5 1.8-1.6-4.6-0.4z"/>
<path color="#dd7111" d="M632 616.1l4.8 0.5 1.7-1.6-4.7-0.5z"/>
<path color="#e37612" d="M636.8 616.6l4.7 0.7 1.8-1.7-4.8-0.6z"/>
<path color="#e87a12" d="M641.5 617.3l4.8 0.7 1.7-1.8-4.7-0.6z"/>
<path color="#ed7f13" d="M646.3 618l9.6 1.7 1.7-1.9-9.6-1.6z"/>
<path color="#fc9916" d="M517 632.9l14.9 4.6 2.2-2.2-14.9-4.5z"/>
<path color="#fb9616" d="M531.9 637.5l3.8 1.1 2.2-2.1-3.8-1.2z"/>
<path color="#f78e15" d="M535.7 638.6l3.8 1 2.2-2.1-3.8-1z"/>
<path color="#eb7d13" d="M539.5 639.6l3.8 0.7 2.2-2-3.8-0.8z"/>
<path color="#c9640e" d="M543.3 640.3l3.9 0.2 2.1-1.8-3.8-0.4z"/>
<path color="#984909" d="M547.2 640.5l3.9-0.5 2.1-1.6-3.9 0.3z"/>
<path color="#723406" d="M551.1 640l3.9-1.2 2.1-1.3-3.9 0.9z"/>
<path color="#5c2804" d="M555 638.8l4-2 2.1-0.9-4 1.6z"/>
<path color="#572604" d="M559 636.8l4.1-2.4 4.2-2.8 2-0.4-4.1 2.5-4.1 2.2z"/>
<path color="#592704" d="M567.3 631.6l8.5-5.6 2-0.2-8.5 5.4z"/>
<path color="#512303" d="M575.8 626l4.3-2.4 2-0.3-4.3 2.5z"/>
<path color="#4b2003" d="M580.1 623.6l4.4-2.1 4.4-1.7 2-0.5-4.4 1.8-4.4 2.2z"/>
<path color="#502203" d="M588.9 619.8l4.5-1.3 1.9-0.7-4.4 1.5z"/>
<path color="#6c3105" d="M593.4 618.5l4.5-1 1.9-0.8-4.5 1.1z"/>
<path color="#874008" d="M597.9 617.5l4.5-0.6 1.9-1-4.5 0.8z"/>
<path color="#984909" d="M602.4 616.9l4.6-0.4 1.9-1.1-4.6 0.5z"/>
<path color="#a8520b" d="M607 616.5l4.6-0.1 1.9-1.2-4.6 0.2z"/>
<path color="#b85b0d" d="M611.6 616.4l4.6 0.1 1.9-1.3-4.6 0z"/>
<path color="#c6630e" d="M616.2 616.5l4.6 0.3 1.9-1.5-4.6-0.1z"/>
<path color="#d2690f" d="M620.8 616.8l4.7 0.4 1.9-1.6-4.7-0.3z"/>
<path color="#db6f11" d="M625.5 617.2l4.7 0.5 1.8-1.6-4.6-0.5z"/>
<path color="#e17511" d="M630.2 617.7l4.7 0.7 1.9-1.8-4.8-0.5z"/>
<path color="#e67912" d="M634.9 618.4l4.8 0.7 1.8-1.8-4.7-0.7z"/>
<path color="#eb7d13" d="M639.7 619.1l4.8 0.8 1.8-1.9-4.8-0.7z"/>
<path color="#f08114" d="M644.5 619.9l9.7 1.8 1.7-2-9.6-1.7z"/>
<path color="#fc9916" d="M514.8 635l14.9 4.6 2.2-2.1-14.9-4.6z"/>
<path color="#fa9516" d="M529.7 639.6l3.8 1.2 2.2-2.2-3.8-1.1z"/>
<path color="#f68a15" d="M533.5 640.8l3.8 0.9 2.2-2.1-3.8-1z"/>
<path color="#e37612" d="M537.3 641.7l3.9 0.6 2.1-2-3.8-0.7z"/>
<path color="#b85b0d" d="M541.2 642.3l3.8 0 2.2-1.8-3.9-0.2z"/>
<path color="#884108" d="M545 642.3l4-0.8 2.1-1.5-3.9 0.5z"/>
<path color="#652d05" d="M549 641.5l3.9-1.6 2.1-1.1-3.9 1.2z"/>
<path color="#582704" d="M552.9 639.9l4-2.3 4.1-2.7 2.1-0.5-4.1 2.4-4 2z"/>
<path color="#5c2904" d="M561 634.9l8.4-5.9 2.1-0.2-8.4 5.6z"/>
<path color="#582704" d="M569.4 629l4.4-2.8 2-0.2-4.3 2.8z"/>
<path color="#502203" d="M573.8 626.2l4.3-2.4 2-0.2-4.3 2.4z"/>
<path color="#4b2003" d="M578.1 623.8l4.4-1.9 4.5-1.6 1.9-0.5-4.4 1.7-4.4 2.1z"/>
<path color="#5a2804" d="M587 620.3l4.4-1.1 2-0.7-4.5 1.3z"/>
<path color="#783806" d="M591.4 619.2l4.5-0.8 2-0.9-4.5 1z"/>
<path color="#8f4508" d="M595.9 618.4l4.6-0.5 1.9-1-4.5 0.6z"/>
<path color="#a04e0a" d="M600.5 617.9l4.6-0.2 1.9-1.2-4.6 0.4z"/>
<path color="#b2580c" d="M605.1 617.7l4.6 0.1 1.9-1.4-4.6 0.1z"/>
<path color="#c1600e" d="M609.7 617.8l4.6 0.2 1.9-1.5-4.6-0.1z"/>
<path color="#ce670f" d="M614.3 618l4.6 0.4 1.9-1.6-4.6-0.3z"/>
<path color="#d86d10" d="M618.9 618.4l4.7 0.5 1.9-1.7-4.7-0.4z"/>
<path color="#df7311" d="M623.6 618.9l4.8 0.6 1.8-1.8-4.7-0.5z"/>
<path color="#e57812" d="M628.4 619.5l4.7 0.7 1.8-1.8-4.7-0.7z"/>
<path color="#ea7c13" d="M633.1 620.2l4.8 0.8 1.8-1.9-4.8-0.7z"/>
<path color="#ee8013" d="M637.9 621l4.8 0.8 1.8-1.9-4.8-0.8z"/>
<path color="#f28414" d="M642.7 621.8l9.7 1.9 1.8-2-9.7-1.8z"/>
<path color="#fc9916" d="M512.5 637.1l15 4.7 2.2-2.2-14.9-4.6z"/>
<path color="#f99315" d="M527.5 641.8l3.8 1.2 2.2-2.2-3.8-1.2z"/>
<path color="#f48614" d="M531.3 643l3.8 0.9 2.2-2.2-3.8-0.9z"/>
<path color="#d96e10" d="M535.1 643.9l3.9 0.4 2.2-2-3.9-0.6z"/>
<path color="#a4500a" d="M539 644.3l3.9-0.3 2.1-1.7-3.8 0z"/>
<path color="#783706" d="M542.9 644l3.9-1.1 2.2-1.4-4 0.8z"/>
<path color="#5e2a04" d="M546.8 642.9l4-2 2.1-1-3.9 1.6z"/>
<path color="#592704" d="M550.8 640.9l4-2.7 2.1-0.6-4 2.3z"/>
<path color="#5f2a04" d="M554.8 638.2l8.3-6.1 4.3-3 2-0.1-12.5 8.6z"/>
<path color="#572604" d="M567.4 629.1l4.3-2.7 2.1-0.2-4.4 2.8z"/>
<path color="#4c2003" d="M571.7 626.4l4.4-2.3 4.4-1.8 4.4-1.4 2.1-0.6-4.5 1.6-4.4 1.9-4.3 2.4z"/>
<path color="#662e05" d="M584.9 620.9l4.5-1 2-0.7-4.4 1.1z"/>
<path color="#853f08" d="M589.4 619.9l4.6-0.6 1.9-0.9-4.5 0.8z"/>
<path color="#994a09" d="M594 619.3l4.5-0.3 2-1.1-4.6 0.5z"/>
<path color="#aa540b" d="M598.5 619l4.6 0 2-1.3-4.6 0.2z"/>
<path color="#bc5d0d" d="M603.1 619l4.6 0.2 2-1.4-4.6-0.1z"/>
<path color="#ca650f" d="M607.7 619.2l4.6 0.3 2-1.5-4.6-0.2z"/>
<path color="#d66b10" d="M612.3 619.5l4.7 0.5 1.9-1.6-4.6-0.4z"/>
<path color="#dd7111" d="M617 620l4.7 0.6 1.9-1.7-4.7-0.5z"/>
<path color="#e37712" d="M621.7 620.6l4.8 0.7 1.9-1.8-4.8-0.6z"/>
<path color="#e97b13" d="M626.5 621.3l4.7 0.7 1.9-1.8-4.7-0.7z"/>
<path color="#ed7f13" d="M631.2 622l4.8 0.9 1.9-1.9-4.8-0.8z"/>
<path color="#f28314" d="M636 622.9l9.7 1.9 1.8-2-9.6-1.8z"/>
<path color="#f48714" d="M645.7 624.8l4.9 1 1.8-2.1-4.9-0.9z"/>
<path color="#fc9916" d="M510.2 639.3l15.1 4.7 2.2-2.2-15-4.7z"/>
<path color="#f99115" d="M525.3 644l3.8 1.1 2.2-2.1-3.8-1.2z"/>
<path color="#ef8013" d="M529.1 645.1l3.8 0.9 2.2-2.1-3.8-0.9z"/>
<path color="#ca650f" d="M532.9 646l3.9 0.2 2.2-1.9-3.9-0.4z"/>
<path color="#934609" d="M536.8 646.2l3.9-0.6 2.2-1.6-3.9 0.3z"/>
<path color="#6a2f05" d="M540.7 645.6l3.9-1.5 2.2-1.2-3.9 1.1z"/>
<path color="#5c2904" d="M544.6 644.1l4-2.4 4.1-3 2.1-0.5-4 2.7-4 2z"/>
<path color="#632c05" d="M552.7 638.7l8.3-6.6 2.1 0-8.3 6.1z"/>
<path color="#5f2a04" d="M561 632.1l4.3-3 2.1 0-4.3 3z"/>
<path color="#562504" d="M565.3 629.1l4.3-2.6 2.1-0.1-4.3 2.7z"/>
<path color="#4b2003" d="M569.6 626.5l4.4-2.1 4.4-1.6 2.1-0.5-4.4 1.8-4.4 2.3z"/>
<path color="#552504" d="M578.4 622.8l4.5-1.2 2-0.7-4.4 1.4z"/>
<path color="#753606" d="M582.9 621.6l4.5-0.8 2-0.9-4.5 1z"/>
<path color="#904509" d="M587.4 620.8l4.5-0.4 2.1-1.1-4.6 0.6z"/>
<path color="#a24f0a" d="M591.9 620.4l4.6-0.1 2-1.3-4.5 0.3z"/>
<path color="#b5590c" d="M596.5 620.3l4.6 0.1 2-1.4-4.6 0z"/>
<path color="#c5620e" d="M601.1 620.4l4.6 0.3 2-1.5-4.6-0.2z"/>
<path color="#d2690f" d="M605.7 620.7l4.7 0.4 1.9-1.6-4.6-0.3z"/>
<path color="#db7011" d="M610.4 621.1l4.7 0.6 1.9-1.7-4.7-0.5z"/>
<path color="#e27512" d="M615.1 621.7l4.7 0.6 1.9-1.7-4.7-0.6z"/>
<path color="#e77a12" d="M619.8 622.3l4.7 0.8 2-1.8-4.8-0.7z"/>
<path color="#ec7e13" d="M624.5 623.1l4.8 0.9 1.9-2-4.7-0.7z"/>
<path color="#f08114" d="M629.3 624l4.8 0.9 1.9-2-4.8-0.9z"/>
<path color="#f48614" d="M634.1 624.9l9.8 2 1.8-2.1-9.7-1.9z"/>
<path color="#f58914" d="M643.9 626.9l4.9 1.1 1.8-2.2-4.9-1z"/>
<path color="#fc9916" d="M507.9 641.5l15.1 4.8 2.3-2.3-15.1-4.7z"/>
<path color="#f78e15" d="M523 646.3l3.8 1 2.3-2.2-3.8-1.1z"/>
<path color="#e77912" d="M526.8 647.3l3.9 0.8 2.2-2.1-3.8-0.9z"/>
<path color="#b75a0c" d="M530.7 648.1l3.8-0.1 2.3-1.8-3.9-0.2z"/>
<path color="#813d07" d="M534.5 648l3.9-0.9 2.3-1.5-3.9 0.6z"/>
<path color="#622b05" d="M538.4 647.1l4-2 2.2-1-3.9 1.5z"/>
<path color="#5d2904" d="M542.4 645.1l4-2.8 2.2-0.6-4 2.4z"/>
<path color="#632c05" d="M546.4 642.3l4.1-3.4 2.2-0.2-4.1 3z"/>
<path color="#662e05" d="M550.5 638.9l4.1-3.5 4.2-3.3 2.2 0-8.3 6.6z"/>
<path color="#5e2904" d="M558.8 632.1l4.3-3 2.2 0-4.3 3z"/>
<path color="#522403" d="M563.1 629.1l4.4-2.5 2.1-0.1-4.3 2.6z"/>
<path color="#4b2003" d="M567.5 626.6l4.4-1.9 4.4-1.4 2.1-0.5-4.4 1.6-4.4 2.1z"/>
<path color="#632c05" d="M576.3 623.3l4.5-0.9 2.1-0.8-4.5 1.2z"/>
<path color="#843e07" d="M580.8 622.4l4.5-0.6 2.1-1-4.5 0.8z"/>
<path color="#9a4b09" d="M585.3 621.8l4.6-0.2 2-1.2-4.5 0.4z"/>
<path color="#ae560c" d="M589.9 621.6l4.5 0 2.1-1.3-4.6 0.1z"/>
<path color="#bf5f0d" d="M594.4 621.6l4.7 0.2 2-1.4-4.6-0.1z"/>
<path color="#ce670f" d="M599.1 621.8l4.6 0.4 2-1.5-4.6-0.3z"/>
<path color="#d96d10" d="M603.7 622.2l4.7 0.6 2-1.7-4.7-0.4z"/>
<path color="#e07411" d="M608.4 622.8l4.7 0.6 2-1.7-4.7-0.6z"/>
<path color="#e67912" d="M613.1 623.4l4.7 0.8 2-1.9-4.7-0.6z"/>
<path color="#eb7d13" d="M617.8 624.2l4.8 0.8 1.9-1.9-4.7-0.8z"/>
<path color="#ef8113" d="M622.6 625l4.8 1 1.9-2-4.8-0.9z"/>
<path color="#f48514" d="M627.4 626l9.7 2 1.9-2.1-9.7-1.9z"/>
<path color="#f68a15" d="M637.1 628l9.8 2.2 1.9-2.2-9.8-2.1z"/>
<path color="#fc9916" d="M505.5 643.7l13.7 4.3 2.3-2.2-13.6-4.3z"/>
<path color="#fa9516" d="M519.2 648l1.5 0.5 2.3-2.2-1.5-0.5z"/>
<path color="#f68a15" d="M520.7 648.5l3.8 1 2.3-2.2-3.8-1z"/>
<path color="#dc7111" d="M524.5 649.5l3.9 0.6 2.3-2-3.9-0.8z"/>
<path color="#a14e0a" d="M528.4 650.1l3.9-0.3 2.2-1.8-3.8 0.1z"/>
<path color="#723406" d="M532.3 649.8l3.9-1.4 2.2-1.3-3.9 0.9z"/>
<path color="#5f2a04" d="M536.2 648.4l3.9-2.5 2.3-0.8-4 2z"/>
<path color="#632c05" d="M540.1 645.9l4-3.3 2.3-0.3-4 2.8z"/>
<path color="#6a3005" d="M544.1 642.6l8.3-7.3 2.2 0.1-8.2 6.9z"/>
<path color="#652d05" d="M552.4 635.3l4.2-3.4 2.2 0.2-4.2 3.3z"/>
<path color="#5b2804" d="M556.6 631.9l4.3-2.8 2.2 0-4.3 3z"/>
<path color="#4e2203" d="M560.9 629.1l4.4-2.3 2.2-0.2-4.4 2.5z"/>
<path color="#4b2003" d="M565.3 626.8l4.4-1.6 2.2-0.5-4.4 1.9z"/>
<path color="#552504" d="M569.7 625.2l4.5-1.2 2.1-0.7-4.4 1.4z"/>
<path color="#743506" d="M574.2 624l4.5-0.7 2.1-0.9-4.5 0.9z"/>
<path color="#924609" d="M578.7 623.3l4.5-0.4 2.1-1.1-4.5 0.6z"/>
<path color="#a6510b" d="M583.2 622.9l4.6-0.1 2.1-1.2-4.6 0.2z"/>
<path color="#b95c0d" d="M587.8 622.8l4.6 0.2 2-1.4-4.5 0z"/>
<path color="#c9640e" d="M592.4 623l4.6 0.4 2.1-1.6-4.7-0.2z"/>
<path color="#d66b10" d="M597 623.4l4.6 0.5 2.1-1.7-4.6-0.4z"/>
<path color="#de7211" d="M601.6 623.9l4.7 0.6 2.1-1.7-4.7-0.6z"/>
<path color="#e57812" d="M606.3 624.5l4.8 0.8 2-1.9-4.7-0.6z"/>
<path color="#ea7c13" d="M611.1 625.3l4.7 0.8 2-1.9-4.7-0.8z"/>
<path color="#ef8013" d="M615.8 626.1l4.8 0.9 2-2-4.8-0.8z"/>
<path color="#f38414" d="M620.6 627l4.8 1 2-2-4.8-1z"/>
<path color="#f58814" d="M625.4 628l9.8 2.2 1.9-2.2-9.7-2z"/>
<path color="#f78c15" d="M635.2 630.2l9.9 2.3 1.8-2.3-9.8-2.2z"/>
<path color="#fc9916" d="M503.2 645.9l13.6 4.4 2.4-2.3-13.7-4.3z"/>
<path color="#f99315" d="M516.8 650.3l1.6 0.5 2.3-2.3-1.5-0.5z"/>
<path color="#f38414" d="M518.4 650.8l3.8 0.9 2.3-2.2-3.8-1z"/>
<path color="#cd660f" d="M522.2 651.7l3.9 0.4 2.3-2-3.9-0.6z"/>
<path color="#8f4408" d="M526.1 652.1l3.9-0.7 2.3-1.6-3.9 0.3z"/>
<path color="#672e05" d="M530 651.4l3.9-2 2.3-1-3.9 1.4z"/>
<path color="#622b05" d="M533.9 649.4l3.9-3 2.3-0.5-3.9 2.5z"/>
<path color="#6a2f05" d="M537.8 646.4l4.1-3.7 2.2-0.1-4 3.3z"/>
<path color="#713306" d="M541.9 642.7l4.1-3.9 2.2 0.2-4.1 3.6z"/>
<path color="#6d3205" d="M546 638.8l4.1-3.7 2.3 0.2-4.2 3.7z"/>
<path color="#642d05" d="M550.1 635.1l4.3-3.3 2.2 0.1-4.2 3.4z"/>
<path color="#572604" d="M554.4 631.8l4.3-2.7 2.2 0-4.3 2.8z"/>
<path color="#4b2003" d="M558.7 629.1l4.4-2 4.4-1.4 2.2-0.5-4.4 1.6-4.4 2.3z"/>
<path color="#612b04" d="M567.5 625.7l4.5-0.9 2.2-0.8-4.5 1.2z"/>
<path color="#843e07" d="M572 624.8l4.5-0.5 2.2-1-4.5 0.7z"/>
<path color="#9d4c0a" d="M576.5 624.3l4.5-0.2 2.2-1.2-4.5 0.4z"/>
<path color="#b2580c" d="M581 624.1l4.6 0.1 2.2-1.4-4.6 0.1z"/>
<path color="#c4610e" d="M585.6 624.2l4.6 0.3 2.2-1.5-4.6-0.2z"/>
<path color="#d2690f" d="M590.2 624.5l4.7 0.5 2.1-1.6-4.6-0.4z"/>
<path color="#dc7011" d="M594.9 625l4.7 0.6 2-1.7-4.6-0.5z"/>
<path color="#e37612" d="M599.6 625.6l4.7 0.7 2-1.8-4.7-0.6z"/>
<path color="#e97b13" d="M604.3 626.3l4.7 0.9 2.1-1.9-4.8-0.8z"/>
<path color="#ee8013" d="M609 627.2l4.8 0.9 2-2-4.7-0.8z"/>
<path color="#f28314" d="M613.8 628.1l4.8 1 2-2.1-4.8-0.9z"/>
<path color="#f58814" d="M618.6 629.1l9.7 2.1 2-2.1-9.7-2.1z"/>
<path color="#f78d15" d="M628.3 631.2l9.9 2.4 1.9-2.3-9.8-2.2z"/>
<path color="#f88f15" d="M638.2 633.6l4.9 1.2 2-2.3-5-1.2z"/>
<path color="#fc9916" d="M500.8 648.1l13.7 4.5 2.3-2.3-13.6-4.4z"/>
<path color="#f89015" d="M514.5 652.6l1.5 0.5 2.4-2.3-1.6-0.5z"/>
<path color="#eb7d13" d="M516 653.1l3.9 0.8 2.3-2.2-3.8-0.9z"/>
<path color="#b85b0d" d="M519.9 653.9l3.9 0.1 2.3-1.9-3.9-0.4z"/>
<path color="#7e3b07" d="M523.8 654l3.9-1.2 2.3-1.4-3.9 0.7z"/>
<path color="#642d05" d="M527.7 652.8l3.9-2.5 2.3-0.9-3.9 2z"/>
<path color="#682e05" d="M531.6 650.3l3.9-3.6 2.3-0.3-3.9 3z"/>
<path color="#743506" d="M535.5 646.7l8.2-8.2 2.3 0.3-8.2 7.6z"/>
<path color="#6e3205" d="M543.7 638.5l4.2-3.7 2.2 0.3-4.1 3.7z"/>
<path color="#612b04" d="M547.9 634.8l4.2-3.2 2.3 0.2-4.3 3.3z"/>
<path color="#522403" d="M552.1 631.6l4.4-2.4 2.2-0.1-4.3 2.7z"/>
<path color="#4b2003" d="M556.5 629.2l4.4-1.7 2.2-0.4-4.4 2z"/>
<path color="#522403" d="M560.9 627.5l4.4-1.1 2.2-0.7-4.4 1.4z"/>
<path color="#723406" d="M565.3 626.4l4.5-0.7 2.2-0.9-4.5 0.9z"/>
<path color="#934709" d="M569.8 625.7l4.5-0.3 2.2-1.1-4.5 0.5z"/>
<path color="#aa540b" d="M574.3 625.4l4.6 0 2.1-1.3-4.5 0.2z"/>
<path color="#be5e0d" d="M578.9 625.4l4.6 0.3 2.1-1.5-4.6-0.1z"/>
<path color="#ce670f" d="M583.5 625.7l4.6 0.4 2.1-1.6-4.6-0.3z"/>
<path color="#da6e10" d="M588.1 626.1l4.6 0.6 2.2-1.7-4.7-0.5z"/>
<path color="#e27512" d="M592.7 626.7l4.7 0.7 2.2-1.8-4.7-0.6z"/>
<path color="#e87a12" d="M597.4 627.4l4.8 0.9 2.1-2-4.7-0.7z"/>
<path color="#ed7f13" d="M602.2 628.3l4.7 0.9 2.1-2-4.7-0.9z"/>
<path color="#f28314" d="M606.9 629.2l4.8 1 2.1-2.1-4.8-0.9z"/>
<path color="#f58814" d="M611.7 630.2l9.7 2.1 2-2.2-9.6-2z"/>
<path color="#f78d15" d="M621.4 632.3l9.8 2.4 2-2.3-9.8-2.3z"/>
<path color="#f89015" d="M631.2 634.7l10 2.6 1.9-2.5-9.9-2.4z"/>
<path color="#fc9916" d="M498.4 650.4l12.2 4 2.4-2.3-12.2-4z"/>
<path color="#fa9516" d="M510.6 654.4l1.5 0.5 2.4-2.3-1.5-0.5z"/>
<path color="#f68c15" d="M512.1 654.9l1.6 0.5 2.3-2.3-1.5-0.5z"/>
<path color="#e07411" d="M513.7 655.4l3.8 0.7 2.4-2.2-3.9-0.8z"/>
<path color="#a04e0a" d="M517.5 656.1l3.9-0.4 2.4-1.7-3.9-0.1z"/>
<path color="#713306" d="M521.4 655.7l3.9-1.7 2.4-1.2-3.9 1.2z"/>
<path color="#662e05" d="M525.3 654l3.9-3.2 2.4-0.5-3.9 2.5z"/>
<path color="#723406" d="M529.2 650.8l3.9-4.1 2.4 0-3.9 3.6z"/>
<path color="#793806" d="M533.1 646.7l4.1-4.4 4.1-4.2 2.4 0.4-8.2 8.2z"/>
<path color="#6b3005" d="M541.3 638.1l4.2-3.7 2.4 0.4-4.2 3.7z"/>
<path color="#5d2904" d="M545.5 634.4l4.3-2.8 2.3 0-4.2 3.2z"/>
<path color="#4c2103" d="M549.8 631.6l4.4-2.2 4.4-1.4 2.3-0.5-4.4 1.7-4.4 2.4z"/>
<path color="#612b04" d="M558.6 628l4.4-0.8 2.3-0.8-4.4 1.1z"/>
<path color="#863f08" d="M563 627.2l4.5-0.5 2.3-1-4.5 0.7z"/>
<path color="#a14e0a" d="M567.5 626.7l4.6 0 2.2-1.3-4.5 0.3z"/>
<path color="#b75b0d" d="M572.1 626.7l4.5 0.1 2.3-1.4-4.6 0z"/>
<path color="#c9640e" d="M576.6 626.8l4.7 0.4 2.2-1.5-4.6-0.3z"/>
<path color="#d76c10" d="M581.3 627.2l4.6 0.6 2.2-1.7-4.6-0.4z"/>
<path color="#e07311" d="M585.9 627.8l4.7 0.7 2.1-1.8-4.6-0.6z"/>
<path color="#e77912" d="M590.6 628.5l4.7 0.8 2.1-1.9-4.7-0.7z"/>
<path color="#ec7e13" d="M595.3 629.3l4.7 0.9 2.2-1.9-4.8-0.9z"/>
<path color="#f18214" d="M600 630.2l4.8 1 2.1-2-4.7-0.9z"/>
<path color="#f48614" d="M604.8 631.2l4.8 1.1 2.1-2.1-4.8-1z"/>
<path color="#f68a15" d="M609.6 632.3l9.8 2.3 2-2.3-9.7-2.1z"/>
<path color="#f88f15" d="M619.4 634.6l9.8 2.5 2-2.4-9.8-2.4z"/>
<path color="#f99215" d="M629.2 637.1l10 2.7 2-2.5-10-2.6z"/>
<path color="#fc9916" d="M495.9 652.7l12.3 4.1 2.4-2.4-12.2-4z"/>
<path color="#f99215" d="M508.2 656.8l1.5 0.4 2.4-2.3-1.5-0.5z"/>
<path color="#f48614" d="M509.7 657.2l1.6 0.5 2.4-2.3-1.6-0.5z"/>
<path color="#d1690f" d="M511.3 657.7l3.9 0.4 2.3-2-3.8-0.7z"/>
<path color="#8e4408" d="M515.2 658.1l3.8-0.8 2.4-1.6-3.9 0.4z"/>
<path color="#6b3005" d="M519 657.3l3.9-2.4 2.4-0.9-3.9 1.7z"/>
<path color="#6e3205" d="M522.9 654.9l3.9-3.9 2.4-0.2-3.9 3.2z"/>
<path color="#7c3a07" d="M526.8 651l3.9-4.6 2.4 0.3-3.9 4.1z"/>
<path color="#803c07" d="M530.7 646.4l4.1-4.7 2.4 0.6-4.1 4.4z"/>
<path color="#783706" d="M534.8 641.7l4.1-4.2 2.4 0.6-4.1 4.2z"/>
<path color="#672e05" d="M538.9 637.5l4.3-3.4 2.3 0.3-4.2 3.7z"/>
<path color="#562604" d="M543.2 634.1l4.3-2.5 2.3 0-4.3 2.8z"/>
<path color="#4b2003" d="M547.5 631.6l4.3-1.8 2.4-0.4-4.4 2.2z"/>
<path color="#532404" d="M551.8 629.8l4.5-1.1 2.3-0.7-4.4 1.4z"/>
<path color="#743506" d="M556.3 628.7l4.4-0.6 2.3-0.9-4.4 0.8z"/>
<path color="#974909" d="M560.7 628.1l4.5-0.2 2.3-1.2-4.5 0.5z"/>
<path color="#b0570c" d="M565.2 627.9l4.6 0.1 2.3-1.3-4.6 0z"/>
<path color="#c4610e" d="M569.8 628l4.6 0.4 2.2-1.6-4.5-0.1z"/>
<path color="#d36a10" d="M574.4 628.4l4.6 0.5 2.3-1.7-4.7-0.4z"/>
<path color="#de7211" d="M579 628.9l4.7 0.7 2.2-1.8-4.6-0.6z"/>
<path color="#e57812" d="M583.7 629.6l4.7 0.8 2.2-1.9-4.7-0.7z"/>
<path color="#ec7e13" d="M588.4 630.4l4.7 0.9 2.2-2-4.7-0.8z"/>
<path color="#f18214" d="M593.1 631.3l4.8 1 2.1-2.1-4.7-0.9z"/>
<path color="#f48614" d="M597.9 632.3l4.8 1.1 2.1-2.2-4.8-1z"/>
<path color="#f68b15" d="M602.7 633.4l9.7 2.3 2.1-2.3-9.7-2.2z"/>
<path color="#f88f15" d="M612.4 635.7l9.8 2.5 2.1-2.4-9.8-2.4z"/>
<path color="#fa9315" d="M622.2 638.2l10 2.7 2-2.5-9.9-2.6z"/>
<path color="#fb9616" d="M632.2 640.9l5 1.5 2-2.6-5-1.4z"/>
<path color="#fc9916" d="M493.5 655.1l10.7 3.5 2.4-2.3-10.7-3.6z"/>
<path color="#fa9516" d="M504.2 658.6l1.6 0.5 2.4-2.3-1.6-0.5z"/>
<path color="#f78e15" d="M505.8 659.1l1.5 0.5 2.4-2.4-1.5-0.4z"/>
<path color="#ec7e13" d="M507.3 659.6l1.6 0.3 2.4-2.2-1.6-0.5z"/>
<path color="#ba5c0d" d="M508.9 659.9l3.8 0.2 2.5-2-3.9-0.4z"/>
<path color="#7f3b07" d="M512.7 660.1l3.9-1.4 2.4-1.4-3.8 0.8z"/>
<path color="#6c3105" d="M516.6 658.7l3.8-3.3 2.5-0.5-3.9 2.4z"/>
<path color="#7a3807" d="M520.4 655.4l3.9-4.5 2.5 0.1-3.9 3.9z"/>
<path color="#843e07" d="M524.3 650.9l4-5.1 4-4.8 2.5 0.7-8 9.3z"/>
<path color="#753606" d="M532.3 641l4.2-4.1 2.4 0.6-4.1 4.2z"/>
<path color="#612b04" d="M536.5 636.9l4.2-3 2.5 0.2-4.3 3.4z"/>
<path color="#502203" d="M540.7 633.9l4.4-2.2 2.4-0.1-4.3 2.5z"/>
<path color="#4c2003" d="M545.1 631.7l4.4-1.4 2.3-0.5-4.3 1.8z"/>
<path color="#622c05" d="M549.5 630.3l4.4-0.8 2.4-0.8-4.5 1.1z"/>
<path color="#8a4108" d="M553.9 629.5l4.5-0.3 2.3-1.1-4.4 0.6z"/>
<path color="#a7520b" d="M558.4 629.2l4.5 0 2.3-1.3-4.5 0.2z"/>
<path color="#be5e0d" d="M562.9 629.2l4.6 0.3 2.3-1.5-4.6-0.1z"/>
<path color="#cf680f" d="M567.5 629.5l4.6 0.5 2.3-1.6-4.6-0.4z"/>
<path color="#dc7011" d="M572.1 630l4.6 0.7 2.3-1.8-4.6-0.5z"/>
<path color="#e47712" d="M576.7 630.7l4.7 0.8 2.3-1.9-4.7-0.7z"/>
<path color="#eb7d13" d="M581.4 631.5l4.7 0.9 2.3-2-4.7-0.8z"/>
<path color="#f08214" d="M586.1 632.4l4.8 1 2.2-2.1-4.7-0.9z"/>
<path color="#f48614" d="M590.9 633.4l4.8 1.1 2.2-2.2-4.8-1z"/>
<path color="#f68b15" d="M595.7 634.5l9.6 2.3 2.2-2.3-9.6-2.2z"/>
<path color="#f89015" d="M605.3 636.8l9.8 2.6 2.2-2.4-9.8-2.5z"/>
<path color="#fa9416" d="M615.1 639.4l10 2.8 2.1-2.6-9.9-2.6z"/>
<path color="#fb9716" d="M625.1 642.2l10.1 2.9 2-2.7-10-2.8z"/>
<path color="#fc9916" d="M491 657.4l10.7 3.6 2.5-2.4-10.7-3.5z"/>
<path color="#f99215" d="M501.7 661l1.6 0.5 2.5-2.4-1.6-0.5z"/>
<path color="#f58814" d="M503.3 661.5l1.6 0.4 2.4-2.3-1.5-0.5z"/>
<path color="#de7211" d="M504.9 661.9l1.5 0.3 2.5-2.3-1.6-0.3z"/>
<path color="#a14f0a" d="M506.4 662.2l3.9-0.3 2.4-1.8-3.8-0.2z"/>
<path color="#753606" d="M510.3 661.9l3.8-2.2 3.8-4.1 2.5-0.2-3.8 3.3-3.9 1.4z"/>
<path color="#863f08" d="M517.9 655.6l3.9-5.3 2.5 0.6-3.9 4.5z"/>
<path color="#8b4208" d="M521.8 650.3l3.9-5.4 2.6 0.9-4 5.1z"/>
<path color="#823d07" d="M525.7 644.9l4.1-4.7 2.5 0.8-4 4.8z"/>
<path color="#6f3206" d="M529.8 640.2l4.2-3.8 2.5 0.5-4.2 4.1z"/>
<path color="#5a2704" d="M534 636.4l4.3-2.6 2.4 0.1-4.2 3z"/>
<path color="#4c2003" d="M538.3 633.8l4.3-1.8 2.5-0.3-4.4 2.2z"/>
<path color="#552504" d="M542.6 632l4.4-1 2.5-0.7-4.4 1.4z"/>
<path color="#783706" d="M547 631l4.5-0.5 2.4-1-4.4 0.8z"/>
<path color="#9c4c0a" d="M551.5 630.5l4.5-0.1 2.4-1.2-4.5 0.3z"/>
<path color="#b75a0c" d="M556 630.4l4.5 0.3 2.4-1.5-4.5 0z"/>
<path color="#cb650f" d="M560.5 630.7l4.6 0.4 2.4-1.6-4.6-0.3z"/>
<path color="#d96e10" d="M565.1 631.1l4.7 0.7 2.3-1.8-4.6-0.5z"/>
<path color="#e37612" d="M569.8 631.8l4.6 0.8 2.3-1.9-4.6-0.7z"/>
<path color="#ea7c13" d="M574.4 632.6l4.7 0.9 2.3-2-4.7-0.8z"/>
<path color="#f08114" d="M579.1 633.5l4.8 1 2.2-2.1-4.7-0.9z"/>
<path color="#f48614" d="M583.9 634.5l4.7 1.1 2.3-2.2-4.8-1z"/>
<path color="#f58915" d="M588.6 635.6l4.8 1.1 2.3-2.2-4.8-1.1z"/>
<path color="#f78e15" d="M593.4 636.7l9.7 2.5 2.2-2.4-9.6-2.3z"/>
<path color="#f99315" d="M603.1 639.2l9.9 2.7 2.1-2.5-9.8-2.6z"/>
<path color="#fb9816" d="M613 641.9l20.1 6 2.1-2.8-20.1-5.7z"/>
<path color="#fc9916" d="M488.4 659.8l9.3 3.1 2.5-2.4-9.2-3.1z"/>
<path color="#fa9516" d="M497.7 662.9l1.6 0.5 2.4-2.4-1.5-0.5z"/>
<path color="#f78e15" d="M499.3 663.4l1.5 0.5 2.5-2.4-1.6-0.5z"/>
<path color="#ed7f13" d="M500.8 663.9l1.6 0.3 2.5-2.3-1.6-0.4z"/>
<path color="#c9640e" d="M502.4 664.2l1.5 0.2 2.5-2.2-1.5-0.3z"/>
<path color="#8f4408" d="M503.9 664.4l3.9-0.9 2.5-1.6-3.9 0.3z"/>
<path color="#753606" d="M507.8 663.5l3.7-3.2 2.6-0.6-3.8 2.2z"/>
<path color="#813d07" d="M511.5 660.3l3.8-5.1 2.6 0.4-3.8 4.1z"/>
<path color="#8e4408" d="M515.3 655.2l3.9-5.8 4-5.5 2.5 1-7.8 10.7z"/>
<path color="#7e3b07" d="M523.2 643.9l4.1-4.6 2.5 0.9-4.1 4.7z"/>
<path color="#662e05" d="M527.3 639.3l4.2-3.3 2.5 0.4-4.2 3.8z"/>
<path color="#532404" d="M531.5 636l4.3-2.2 2.5 0-4.3 2.6z"/>
<path color="#4f2203" d="M535.8 633.8l4.3-1.3 2.5-0.5-4.3 1.8z"/>
<path color="#652d05" d="M540.1 632.5l4.5-0.6 2.4-0.9-4.4 1z"/>
<path color="#8f4408" d="M544.6 631.9l4.4-0.2 2.5-1.2-4.5 0.5z"/>
<path color="#ae560c" d="M549 631.7l4.6 0.1 2.4-1.4-4.5 0.1z"/>
<path color="#c5620e" d="M553.6 631.8l4.5 0.4 2.4-1.5-4.5-0.3z"/>
<path color="#d76c10" d="M558.1 632.2l4.7 0.7 2.3-1.8-4.6-0.4z"/>
<path color="#e17411" d="M562.8 632.9l4.6 0.7 2.4-1.8-4.7-0.7z"/>
<path color="#e97b13" d="M567.4 633.6l4.7 0.9 2.3-1.9-4.6-0.8z"/>
<path color="#ef8113" d="M572.1 634.5l4.7 1.1 2.3-2.1-4.7-0.9z"/>
<path color="#f48614" d="M576.8 635.6l4.8 1.1 2.3-2.2-4.8-1z"/>
<path color="#f58a15" d="M581.6 636.7l4.7 1.1 2.3-2.2-4.7-1.1z"/>
<path color="#f78e15" d="M586.3 637.8l9.7 2.6 2.3-2.4-9.7-2.4z"/>
<path color="#fa9416" d="M596 640.4l9.8 2.8 2.3-2.7-9.8-2.5z"/>
<path color="#fc9816" d="M605.8 643.2l25.2 7.5 2.1-2.8-25-7.4z"/>
<path color="#dc7111" d="M498.3 666.2l1.6 0.3 2.5-2.3-1.6-0.3z"/>
<path color="#ab540b" d="M499.9 666.5l1.5-0.1 2.5-2-1.5-0.2z"/>
<path color="#813c07" d="M501.4 666.4l3.8-1.7 2.6-1.2-3.9 0.9z"/>
<path color="#7c3a07" d="M505.2 664.7l3.7-4.3 2.6-0.1-3.7 3.2z"/>
<path color="#8e4408" d="M508.9 660.4l3.8-6 2.6 0.8-3.8 5.1z"/>
<path color="#964809" d="M512.7 654.4l3.8-6.3 2.7 1.3-3.9 5.8z"/>
<path color="#8c4308" d="M516.5 648.1l4-5.4 2.7 1.2-4 5.5z"/>
<path color="#763706" d="M520.5 642.7l4.2-4.1 2.6 0.7-4.1 4.6z"/>
<path color="#5d2904" d="M524.7 638.6l4.2-2.8 2.6 0.2-4.2 3.3z"/>
<path color="#4f2203" d="M528.9 635.8l4.3-1.7 2.6-0.3-4.3 2.2z"/>
<path color="#5b2804" d="M533.2 634.1l4.4-0.9 2.5-0.7-4.3 1.3z"/>
<path color="#7f3c07" d="M537.6 633.2l4.5-0.3 2.5-1-4.5 0.6z"/>
<path color="#a3500a" d="M542.1 632.9l4.5 0.1 2.4-1.3-4.4 0.2z"/>
<path color="#bf5f0d" d="M546.6 633l4.5 0.4 2.5-1.6-4.6-0.1z"/>
<path color="#d36a10" d="M551.1 633.4l4.6 0.5 2.4-1.7-4.5-0.4z"/>
<path color="#df7311" d="M555.7 633.9l4.6 0.8 2.5-1.8-4.7-0.7z"/>
<path color="#e87b12" d="M560.3 634.7l4.7 0.9 2.4-2-4.6-0.7z"/>
<path color="#ef8113" d="M565 635.6l4.7 1 2.4-2.1-4.7-0.9z"/>
<path color="#f48614" d="M569.7 636.6l4.7 1.2 2.4-2.2-4.7-1.1z"/>
<path color="#f68a15" d="M574.4 637.8l4.8 1.1 2.4-2.2-4.8-1.1z"/>
<path color="#f78d15" d="M579.2 638.9l4.8 1.3 2.3-2.4-4.7-1.1z"/>
<path color="#f99215" d="M584 640.2l9.7 2.7 2.3-2.5-9.7-2.6z"/>
<path color="#fc9816" d="M593.7 642.9l19.9 6 2.2-2.8-19.8-5.7z"/>
<path color="#fc9916" d="M613.6 648.9l15.3 4.6 2.1-2.8-15.2-4.6z"/>
<path color="#bf5f0d" d="M495.8 668.6l1.5 0 2.6-2.1-1.6-0.3z"/>
<path color="#8f4508" d="M497.3 668.6l1.5-0.3 2.6-1.9-1.5 0.1z"/>
<path color="#793806" d="M498.8 668.3l3.8-2.9 2.6-0.7-3.8 1.7z"/>
<path color="#874008" d="M502.6 665.4l3.7-5.5 2.6 0.5-3.7 4.3z"/>
<path color="#984a09" d="M506.3 659.9l3.7-6.9 3.8-6.4 2.7 1.5-7.6 12.3z"/>
<path color="#874008" d="M513.8 646.6l4-5.1 2.7 1.2-4 5.4z"/>
<path color="#6a3005" d="M517.8 641.5l4.2-3.5 2.7 0.6-4.2 4.1z"/>
<path color="#532404" d="M522 638l4.3-2.1 4.3-1.2 2.6-0.6-4.3 1.7-4.2 2.8z"/>
<path color="#6e3205" d="M530.6 634.7l4.4-0.5 2.6-1-4.4 0.9z"/>
<path color="#974909" d="M535 634.2l4.5 0 2.6-1.3-4.5 0.3z"/>
<path color="#b85b0d" d="M539.5 634.2l4.6 0.3 2.5-1.5-4.5-0.1z"/>
<path color="#cf670f" d="M544.1 634.5l4.5 0.5 2.5-1.6-4.5-0.4z"/>
<path color="#dd7111" d="M548.6 635l4.6 0.8 2.5-1.9-4.6-0.5z"/>
<path color="#e77a12" d="M553.2 635.8l4.7 0.9 2.4-2-4.6-0.8z"/>
<path color="#ef8013" d="M557.9 636.7l4.7 1 2.4-2.1-4.7-0.9z"/>
<path color="#f48614" d="M562.6 637.7l4.7 1.2 2.4-2.3-4.7-1z"/>
<path color="#f68a15" d="M567.3 638.9l4.7 1.2 2.4-2.3-4.7-1.2z"/>
<path color="#f78e15" d="M572 640.1l4.8 1.2 2.4-2.4-4.8-1.1z"/>
<path color="#fa9315" d="M576.8 641.3l9.7 2.9 2.4-2.7-9.7-2.6z"/>
<path color="#fc9916" d="M586.5 644.2l40.2 12.1 2.2-2.8-40-12z"/>
<path color="#994a09" d="M493.2 670.8l1.5-0.2 2.6-2-1.5 0z"/>
<path color="#7b3907" d="M494.7 670.6l1.5-0.8 3.7-4.2 2.7-0.2-3.8 2.9-1.5 0.3z"/>
<path color="#944709" d="M499.9 665.6l3.6-6.9 2.8 1.2-3.7 5.5z"/>
<path color="#9f4d0a" d="M503.5 658.7l3.7-7.5 2.8 1.8-3.7 6.9z"/>
<path color="#964809" d="M507.2 651.2l3.9-6.2 2.7 1.6-3.8 6.4z"/>
<path color="#7d3a07" d="M511.1 645l4-4.5 2.7 1-4 5.1z"/>
<path color="#5f2a04" d="M515.1 640.5l4.2-2.8 2.7 0.3-4.2 3.5z"/>
<path color="#522303" d="M519.3 637.7l4.3-1.5 2.7-0.3-4.3 2.1z"/>
<path color="#612b04" d="M523.6 636.2l4.4-0.7 2.6-0.8-4.3 1.2z"/>
<path color="#894108" d="M528 635.5l4.4-0.2 2.6-1.1-4.4 0.5z"/>
<path color="#af560c" d="M532.4 635.3l4.5 0.3 2.6-1.4-4.5 0z"/>
<path color="#ca650f" d="M536.9 635.6l4.6 0.5 2.6-1.6-4.6-0.3z"/>
<path color="#db7011" d="M541.5 636.1l4.6 0.7 2.5-1.8-4.5-0.5z"/>
<path color="#e67912" d="M546.1 636.8l4.6 1 2.5-2-4.6-0.8z"/>
<path color="#ef8013" d="M550.7 637.8l4.7 1 2.5-2.1-4.7-0.9z"/>
<path color="#f48614" d="M555.4 638.8l4.7 1.2 2.5-2.3-4.7-1z"/>
<path color="#f68b15" d="M560.1 640l4.7 1.2 2.5-2.3-4.7-1.2z"/>
<path color="#f89015" d="M564.8 641.2l4.8 1.3 2.4-2.4-4.7-1.2z"/>
<path color="#fa9516" d="M569.6 642.5l9.7 2.9 2.4-2.7-9.7-2.6z"/>
<path color="#fc9916" d="M579.3 645.4l45.3 13.8 2.1-2.9-45-13.6z"/>
<path color="#7e3b07" d="M490.5 672.9l1.5-0.7 2.7-1.6-1.5 0.2z"/>
<path color="#743506" d="M492 672.2l1.5-1.3 2.7-1.1-1.5 0.8z"/>
<path color="#894108" d="M493.5 670.9l3.6-6 2.8 0.7-3.7 4.2z"/>
<path color="#a04e0a" d="M497.1 664.9l3.5-8.2 3.7-7.6 2.9 2.1-3.7 7.5-3.6 6.9z"/>
<path color="#8f4408" d="M504.3 649.1l3.9-5.7 2.9 1.6-3.9 6.2z"/>
<path color="#6e3205" d="M508.2 643.4l4.1-3.6 2.8 0.7-4 4.5z"/>
<path color="#572604" d="M512.3 639.8l4.3-2 4.3-1 2.7-0.6-4.3 1.5-4.2 2.8z"/>
<path color="#7a3807" d="M520.9 636.8l4.4-0.3 2.7-1-4.4 0.7z"/>
<path color="#a3500a" d="M525.3 636.5l4.5 0.2 2.6-1.4-4.4 0.2z"/>
<path color="#c5620e" d="M529.8 636.7l4.5 0.5 2.6-1.6-4.5-0.3z"/>
<path color="#d96e10" d="M534.3 637.2l4.6 0.7 2.6-1.8-4.6-0.5z"/>
<path color="#e57812" d="M538.9 637.9l4.6 0.9 2.6-2-4.6-0.7z"/>
<path color="#ef8013" d="M543.5 638.8l4.7 1.1 2.5-2.1-4.6-1z"/>
<path color="#f48714" d="M548.2 639.9l4.7 1.2 2.5-2.3-4.7-1z"/>
<path color="#f78c15" d="M552.9 641.1l4.7 1.2 2.5-2.3-4.7-1.2z"/>
<path color="#f99115" d="M557.6 642.3l4.7 1.4 2.5-2.5-4.7-1.2z"/>
<path color="#fb9616" d="M562.3 643.7l9.7 3 2.4-2.7-9.6-2.8z"/>
<path color="#fc9916" d="M572 646.7l50.3 15.5 2.3-3-50.2-15.2z"/>
<path color="#763606" d="M487.8 674.6l1.5-1.3 2.7-1.1-1.5 0.7z"/>
<path color="#823d07" d="M489.3 673.3l1.4-2.1 2.8-0.3-1.5 1.3z"/>
<path color="#9a4b09" d="M490.7 671.2l3.4-8 3 1.7-3.6 6z"/>
<path color="#a8520b" d="M494.1 663.2l3.5-9 3 2.5-3.5 8.2z"/>
<path color="#9d4c0a" d="M497.6 654.2l3.8-7.3 2.9 2.2-3.7 7.6z"/>
<path color="#823d07" d="M501.4 646.9l3.9-4.7 2.9 1.2-3.9 5.7z"/>
<path color="#612b04" d="M505.3 642.2l4.2-2.7 2.8 0.3-4.1 3.6z"/>
<path color="#562504" d="M509.5 639.5l4.3-1.3 2.8-0.4-4.3 2z"/>
<path color="#6a2f05" d="M513.8 638.2l4.4-0.5 2.7-0.9-4.3 1z"/>
<path color="#974909" d="M518.2 637.7l4.4 0.1 2.7-1.3-4.4 0.3z"/>
<path color="#be5e0d" d="M522.6 637.8l4.5 0.4 2.7-1.5-4.5-0.2z"/>
<path color="#d76c10" d="M527.1 638.2l4.6 0.8 2.6-1.8-4.5-0.5z"/>
<path color="#e57812" d="M531.7 639l4.6 0.9 2.6-2-4.6-0.7z"/>
<path color="#ef8113" d="M536.3 639.9l4.6 1.1 2.6-2.2-4.6-0.9z"/>
<path color="#f58814" d="M540.9 641l4.7 1.2 2.6-2.3-4.7-1.1z"/>
<path color="#f78e15" d="M545.6 642.2l4.7 1.3 2.6-2.4-4.7-1.2z"/>
<path color="#f99315" d="M550.3 643.5l4.7 1.5 2.6-2.7-4.7-1.2z"/>
<path color="#fb9816" d="M555 645l14.5 4.4 2.5-2.7-14.4-4.4z"/>
<path color="#fc9916" d="M569.5 649.4l50.6 15.8 2.2-3-50.3-15.5z"/>
<path color="#843e07" d="M485.1 675.8l1.4-2.3 2.8-0.2-1.5 1.3z"/>
<path color="#984a09" d="M486.5 673.5l1.3-3.1 2.9 0.8-1.4 2.1z"/>
<path color="#a9530b" d="M487.8 670.4l3.3-9.9 3.5-9.2 3 2.9-3.5 9-3.4 8z"/>
<path color="#934709" d="M494.6 651.3l3.8-6.3 3 1.9-3.8 7.3z"/>
<path color="#703306" d="M498.4 645l4-3.6 2.9 0.8-3.9 4.7z"/>
<path color="#592704" d="M502.4 641.4l4.2-1.8 2.9-0.1-4.2 2.7z"/>
<path color="#602a04" d="M506.6 639.6l4.4-0.7 2.8-0.7-4.3 1.3z"/>
<path color="#884008" d="M511 638.9l4.4 0 2.8-1.2-4.4 0.5z"/>
<path color="#b55a0c" d="M515.4 638.9l4.5 0.4 2.7-1.5-4.4-0.1z"/>
<path color="#d46a10" d="M519.9 639.3l4.5 0.7 2.7-1.8-4.5-0.4z"/>
<path color="#e47712" d="M524.4 640l4.6 0.9 2.7-1.9-4.6-0.8z"/>
<path color="#f08114" d="M529 640.9l4.6 1.2 2.7-2.2-4.6-0.9z"/>
<path color="#f58914" d="M533.6 642.1l4.7 1.2 2.6-2.3-4.6-1.1z"/>
<path color="#f89015" d="M538.3 643.3l4.7 1.4 2.6-2.5-4.7-1.2z"/>
<path color="#fb9616" d="M543 644.7l9.5 3 2.5-2.7-9.4-2.8z"/>
<path color="#fc9916" d="M552.5 647.7l65.3 20.5 2.3-3-65.1-20.2z"/>
<path color="#9a4b09" d="M482.2 676l1.3-3.5 3 1-1.4 2.3z"/>
<path color="#ab540b" d="M483.5 672.5l1.2-4.3 3.1 2.2-1.3 3.1z"/>
<path color="#af560c" d="M484.7 668.2l3.2-11.2 3.2 3.5-3.3 9.9z"/>
<path color="#a14e0a" d="M487.9 657l3.5-8.6 3.2 2.9-3.5 9.2z"/>
<path color="#833e07" d="M491.4 648.4l3.9-4.9 3.1 1.5-3.8 6.3z"/>
<path color="#622b05" d="M495.3 643.5l4.2-2.4 2.9 0.3-4 3.6z"/>
<path color="#5c2904" d="M499.5 641.1l4.2-1 2.9-0.5-4.2 1.8z"/>
<path color="#793806" d="M503.7 640.1l4.4-0.2 2.9-1-4.4 0.7z"/>
<path color="#a9530b" d="M508.1 639.9l4.5 0.4 2.8-1.4-4.4 0z"/>
<path color="#d1680f" d="M512.6 640.3l4.5 0.7 2.8-1.7-4.5-0.4z"/>
<path color="#e47712" d="M517.1 641l4.6 1 2.7-2-4.5-0.7z"/>
<path color="#f18214" d="M521.7 642l4.6 1.2 2.7-2.3-4.6-0.9z"/>
<path color="#f68b15" d="M526.3 643.2l4.6 1.3 2.7-2.4-4.6-1.2z"/>
<path color="#f99215" d="M530.9 644.5l4.7 1.5 2.7-2.7-4.7-1.2z"/>
<path color="#fb9716" d="M535.6 646l9.5 3 2.6-2.8-9.4-2.9z"/>
<path color="#fc9916" d="M545.1 649l70.4 22.2 2.3-3-70.1-22z"/>
<path color="#ad550b" d="M479.1 674.6l1.1-4.9 3.3 2.8-1.3 3.5z"/>
<path color="#b1570c" d="M480.2 669.7l1.2-5.3 3.3 3.8-1.2 4.3z"/>
<path color="#ab540b" d="M481.4 664.4l3.2-11.4 3.3 4-3.2 11.2z"/>
<path color="#944709" d="M484.6 653l3.6-7 3.2 2.4-3.5 8.6z"/>
<path color="#6f3206" d="M488.2 646l4.1-3.3 3 0.8-3.9 4.9z"/>
<path color="#5d2904" d="M492.3 642.7l4.2-1.4 3-0.2-4.2 2.4z"/>
<path color="#6e3205" d="M496.5 641.3l4.3-0.3 2.9-0.9-4.2 1z"/>
<path color="#9c4c0a" d="M500.8 641l4.5 0.3 2.8-1.4-4.4 0.2z"/>
<path color="#cc660f" d="M505.3 641.3l4.4 0.8 2.9-1.8-4.5-0.4z"/>
<path color="#e57812" d="M509.7 642.1l4.6 1 2.8-2.1-4.5-0.7z"/>
<path color="#f38414" d="M514.3 643.1l4.6 1.2 2.8-2.3-4.6-1z"/>
<path color="#f78d15" d="M518.9 644.3l4.6 1.4 2.8-2.5-4.6-1.2z"/>
<path color="#fa9415" d="M523.5 645.7l4.7 1.5 2.7-2.7-4.6-1.3z"/>
<path color="#fc9916" d="M528.2 647.2l85 27.1 2.3-3.1-84.6-26.7z"/>
<path color="#b0570c" d="M475.7 671l2.2-11.7 3.5 5.1-2.3 10.2z"/>
<path color="#a04e0a" d="M477.9 659.3l3.3-10.1 3.4 3.8-3.2 11.4z"/>
<path color="#813c07" d="M481.2 649.2l3.8-4.8 3.2 1.6-3.6 7z"/>
<path color="#632c05" d="M485 644.4l4.2-1.9 3.1 0.2-4.1 3.3z"/>
<path color="#662e05" d="M489.2 642.5l4.3-0.5 3-0.7-4.2 1.4z"/>
<path color="#924609" d="M493.5 642l4.4 0.3 2.9-1.3-4.3 0.3z"/>
<path color="#c7630e" d="M497.9 642.3l4.4 0.8 3-1.8-4.5-0.3z"/>
<path color="#e67912" d="M502.3 643.1l4.6 1 2.8-2-4.4-0.8z"/>
<path color="#f48614" d="M506.9 644.1l4.6 1.4 2.8-2.4-4.6-1z"/>
<path color="#f89015" d="M511.5 645.5l4.6 1.5 2.8-2.7-4.6-1.2z"/>
<path color="#fb9716" d="M516.1 647l9.3 3 2.8-2.8-9.3-2.9z"/>
<path color="#fc9916" d="M525.4 650l85.4 27.5 2.4-3.2-85-27.1z"/>
<path color="#af560c" d="M472 664.9l1.1-6.3 3.7 6.3-1.1 6.1z"/>
<path color="#a7520b" d="M473.1 658.6l1.2-5 3.6 5.7-1.1 5.6z"/>
<path color="#8f4508" d="M474.3 653.6l3.5-7.1 3.4 2.7-3.3 10.1z"/>
<path color="#6d3105" d="M477.8 646.5l4-2.7 3.2 0.6-3.8 4.8z"/>
<path color="#652d05" d="M481.8 643.8l4.3-0.8 3.1-0.5-4.2 1.9z"/>
<path color="#884008" d="M486.1 643l4.4 0.3 3-1.3-4.3 0.5z"/>
<path color="#c1600e" d="M490.5 643.3l4.4 0.8 3-1.8-4.4-0.3z"/>
<path color="#e87a12" d="M494.9 644.1l4.5 1.2 2.9-2.2-4.4-0.8z"/>
<path color="#f58a15" d="M499.4 645.3l4.6 1.4 2.9-2.6-4.6-1z"/>
<path color="#f99315" d="M504 646.7l4.6 1.5 2.9-2.7-4.6-1.4z"/>
<path color="#fc9916" d="M508.6 648.2l99.8 32.5 2.4-3.2-99.3-32z"/>
<path color="#af560c" d="M466.4 672.7l0.8-8.4 0.9-7 3.9 7.6-1.8 14z"/>
<path color="#a7520b" d="M468.1 657.3l1.2-5 3.8 6.3-1.1 6.3z"/>
<path color="#974909" d="M469.3 652.3l1.3-3.3 3.7 4.6-1.2 5z"/>
<path color="#7c3a07" d="M470.6 649l3.9-4 3.3 1.5-3.5 7.1z"/>
<path color="#6b3005" d="M474.5 645l4.1-1 3.2-0.2-4 2.7z"/>
<path color="#843e07" d="M478.6 644l4.4 0.2 3.1-1.2-4.3 0.8z"/>
<path color="#bd5e0d" d="M483 644.2l4.4 0.9 3.1-1.8-4.4-0.3z"/>
<path color="#ea7c13" d="M487.4 645.1l4.5 1.4 3-2.4-4.4-0.8z"/>
<path color="#f78d15" d="M491.9 646.5l4.6 1.5 2.9-2.7-4.5-1.2z"/>
<path color="#fa9516" d="M496.5 648l4.6 1.5 2.9-2.8-4.6-1.4z"/>
<path color="#fc9916" d="M501.1 649.5l104.9 34.4 2.4-3.2-104.4-34z"/>
<path color="#b0560c" d="M461.6 672.7l0.5-10.2 4.3 10.2-0.7 8.4z"/>
<path color="#ab540b" d="M462.1 662.5l0.8-7.3 4.3 9.1-0.8 8.4z"/>
<path color="#a14f0a" d="M462.9 655.2l1.2-4.6 4 6.7-0.9 7z"/>
<path color="#944709" d="M464.1 650.6l1.4-2.7 3.8 4.4-1.2 5z"/>
<path color="#813d07" d="M465.5 647.9l1.5-1.6 3.6 2.7-1.3 3.3z"/>
<path color="#763606" d="M467 646.3l4.1-1.5 3.4 0.2-3.9 4z"/>
<path color="#894108" d="M471.1 644.8l4.4 0.3 3.1-1.1-4.1 1z"/>
<path color="#bf5f0d" d="M475.5 645.1l4.4 1.2 3.1-2.1-4.4-0.2z"/>
<path color="#ed7f13" d="M479.9 646.3l4.5 1.5 3-2.7-4.4-0.9z"/>
<path color="#f89015" d="M484.4 647.8l4.5 1.5 3-2.8-4.5-1.4z"/>
<path color="#fc9916" d="M488.9 649.3l114.6 37.9 2.5-3.3-114.1-37.4z"/>
<path color="#af560c" d="M456.5 671.3l0.3-12 4.8 13.4-0.4 10.6z"/>
<path color="#a8520b" d="M456.8 659.3l0.8-7 4.5 10.2-0.5 10.2z"/>
<path color="#9b4b0a" d="M457.6 652.3l1.3-3.6 4 6.5-0.8 7.3z"/>
<path color="#8c4308" d="M458.9 648.7l1.4-1.8 3.8 3.7-1.2 4.6z"/>
<path color="#7d3a07" d="M460.3 646.9l1.6-1 1.7-0.3 3.4 0.7-1.5 1.6-1.4 2.7z"/>
<path color="#934709" d="M463.6 645.6l4.3 0.4 3.2-1.2-4.1 1.5z"/>
<path color="#c7630e" d="M467.9 646l4.5 1.5 3.1-2.4-4.4-0.3z"/>
<path color="#f28314" d="M472.4 647.5l4.4 1.5 3.1-2.7-4.4-1.2z"/>
<path color="#fa9315" d="M476.8 649l4.6 1.5 3-2.7-4.5-1.5z"/>
<path color="#fc9916" d="M481.4 650.5l119.6 40 2.5-3.3-119.1-39.4z"/>
<path color="#ae560c" d="M451 667.1l0.1-12.9 5.4 17.1 0.1 14.4z"/>
<path color="#a4500a" d="M451.1 654.2l1-5.1 4.7 10.2-0.3 12z"/>
<path color="#9a4b09" d="M452.1 649.1l1.4-2.1 4.1 5.3-0.8 7z"/>
<path color="#904509" d="M453.5 647l1.6-0.7 3.8 2.4-1.3 3.6z"/>
<path color="#8b4208" d="M455.1 646.3l1.7-0.1 3.5 0.7-1.4 1.8z"/>
<path color="#914609" d="M456.8 646.2l1.8 0.5 3.3-0.8-1.6 1z"/>
<path color="#a9530b" d="M458.6 646.7l1.7 0.6 3.3-1.7-1.7 0.3z"/>
<path color="#d86d10" d="M460.3 647.3l4.5 1.5 3.1-2.8-4.3-0.4z"/>
<path color="#f58814" d="M464.8 648.8l4.4 1.5 3.2-2.8-4.5-1.5z"/>
<path color="#fb9716" d="M469.2 650.3l9.1 3 3.1-2.8-9-3z"/>
<path color="#fc9916" d="M478.3 653.3l120.2 40.6 2.5-3.4-119.6-40z"/>
<path color="#ac550b" d="M444.6 656.8l0.5-8.5 1.5-1.6 1.7 0.4 3.8 2-1 5.1-0.1 12.9 1.1 21.2z"/>
<path color="#b0570c" d="M448.3 647.1l1.8 0.5 3.4-0.6-1.4 2.1z"/>
<path color="#bd5e0d" d="M450.1 647.6l1.7 0.6 3.3-1.9-1.6 0.7z"/>
<path color="#d26a10" d="M451.8 648.2l1.8 0.6 3.2-2.6-1.7 0.1z"/>
<path color="#e37712" d="M453.6 648.8l1.8 0.6 3.2-2.7-1.8-0.5z"/>
<path color="#f28314" d="M455.4 649.4l1.7 0.6 3.2-2.7-1.7-0.6z"/>
<path color="#f89015" d="M457.1 650l4.5 1.6 3.2-2.8-4.5-1.5z"/>
<path color="#fc9916" d="M461.6 651.6l134.3 45.7 2.6-3.4-133.7-45.1z"/>
<path color="#6a2f05" d="M438.2 649.9l1.7 0.6 7 36.4-1.6-0.6z"/>
<path color="#934709" d="M439.9 650.5l1.2-3.5 3.5 9.8 2.3 30.1z"/>
<path color="#ab540b" d="M441.1 647l1.7 0.5 2.3 0.8-0.5 8.5z"/>
<path color="#c8640e" d="M442.8 647.5l1.8 0.6 2-1.4-1.5 1.6z"/>
<path color="#e17411" d="M444.6 648.1l1.7 0.6 2-1.6-1.7-0.4z"/>
<path color="#ec7e13" d="M446.3 648.7l1.8 0.6 2-1.7-1.8-0.5z"/>
<path color="#f38514" d="M448.1 649.3l1.7 0.6 2-1.7-1.7-0.6z"/>
<path color="#f88f15" d="M449.8 649.9l1.8 0.7 2-1.8-1.8-0.6z"/>
<path color="#fb9616" d="M451.6 650.6l3.5 1.2 2-1.8-3.5-1.2z"/>
<path color="#fc9916" d="M455.1 651.8l139.2 47.6 1.6-2.1-138.8-47.3z"/>
<path color="#602b04" d="M440 666.8l1.7 0.6-1.8-16.9-1.7-0.6z"/>
<path color="#552504" d="M441.7 667.4l1.3-2.8-1.9-17.6-1.2 3.5z"/>
<path color="#602a04" d="M443 664.6l9.7-1.2 7.6 0.3-0.7-10.4-18.5-6.3z"/>
<path color="#642c05" d="M460.3 663.7l4.3 0.1 8.8 0.7-0.2-6.5-13.6-4.7z"/>
<path color="#672e05" d="M473.4 664.5l4.4 0.3 0-5.3-4.6-1.5z"/>
<path color="#6c3005" d="M477.8 664.8l4.5 0.2 0.1-3.9-4.6-1.6z"/>
<path color="#763606" d="M482.3 665l4.6 0.2 0.2-2.5-4.7-1.6z"/>
<path color="#954809" d="M486.9 665.2l4.6 0.4 0.3-1.3-4.7-1.6z"/>
<path color="#f18214" d="M491.5 665.6l4.7 0.7 0.4-0.3-4.8-1.7z"/>
<path color="#fc9916" d="M496.2 666.3l97.8 33.6 0.3-0.5-97.7-33.4z"/>
<path color="#602b04" d="M441.8 683.1l1.7 0.6-1.8-16.3-1.7-0.6z"/>
<path color="#572604" d="M443.5 683.7l1.3-2.1-1.8-17-1.3 2.8z"/>
<path color="#5e2904" d="M444.8 681.6l9-5.4 11.3-3.3-0.5-9.1-11.9-0.4-9.7 1.2z"/>
<path color="#622b05" d="M465.1 672.9l12.8-2.6-0.1-5.5-13.2-1z"/>
<path color="#642c05" d="M477.9 670.3l4.3-1.2 0.1-4.1-4.5-0.2z"/>
<path color="#682e05" d="M482.2 669.1l4.4-1.2 0.3-2.7-4.6-0.2z"/>
<path color="#763606" d="M486.6 667.9l4.6-0.9 0.3-1.4-4.6-0.4z"/>
<path color="#be5f0d" d="M491.2 667l4.6-0.3 0.4-0.4-4.7-0.7z"/>
<path color="#fc9916" d="M495.8 666.7l97.9 33.6 0.3-0.4-97.8-33.6z"/>
<path color="#602b04" d="M443.5 698.6l1.7 0.7-1.7-15.6-1.7-0.6z"/>
<path color="#5a2804" d="M445.2 699.3l1.3-1.3 8.3-9.5-1-12.3-9 5.4-1.3 2.1z"/>
<path color="#5d2904" d="M454.8 688.5l10.8-6.8 8.1-3.9 4.2-2.1 8.5-5.1 0.2-2.7-8.7 2.4-12.8 2.6-11.3 3.3z"/>
<path color="#652d05" d="M486.4 670.6l4.4-2.1 0.4-1.5-4.6 0.9z"/>
<path color="#924609" d="M490.8 668.5l4.6-1.4 0.4-0.4-4.6 0.3z"/>
<path color="#fc9916" d="M495.4 667.1l97.9 33.7 0.4-0.5-97.9-33.6z"/>
</g>
<path class="m" d="M443.5 698.6L438.3 650.5L439.7 657M511 638.5L525.8 624.6M450.6 693.3L446.4 648.7L449 646.6L450 646.8M523.5 636L533.1 626.8M457.8 686.6L455.2 651.7L462 646L464.3 645.6M486.6 669.7L491.7 671.2L498.1 668.7M536.2 633.2L540.5 629M465.6 681.7L464.1 654.8L475.9 644.9L480.1 643.8M473.7 677.8L473.2 657.9L491.3 642.9L496.9 641.2M482.1 673.2L482.5 661.1L508.7 639.7L514.3 638.1M490.8 668.5L491.9 664.3L527.1 635.8L532.4 634.3M500.2 668.8L546.2 631.3L550.1 630.1M509.9 672.1L566.6 625.9L568.4 625.5M519.7 675.5L587.1 620.3M529.7 678.9L605.4 614.7M539.9 682.4L614.4 612.6M550.2 686L623.5 611.5M560.7 689.6L632.7 611.3M571.4 693.2L642 611.8M582.3 697L651.5 612.8M593.3 700.8L661 614.1M443.5 698.6L445.3 699.3L460.9 684.6L491.5 668.2L492.3 667.5L493 666.3L593.3 700.8M454.7 646.4L598.5 693.9M470 645L477.7 645.6L603.5 687.2M484 643.2L498.3 644.9L608.4 680.7M496 641.4L518.9 644.3L613.2 674.3M485.2 675.7L488.2 669.4M507.7 639.3L539.5 643.6L617.8 668.2M491.2 672.6L495.8 667.4M518.5 637.2L560 643L622.3 662.2M529.1 635L580.5 642.4L626.7 656.3M539.4 632.7L601 641.7L631 650.7M548.9 630.4L621.4 641.1L635.2 645.1M558.1 628.1L590.9 628.6L639.2 639.8M567.2 625.8L601.7 625.9L643.1 634.8M575.3 623.6L605.8 622.5L646.9 630.2M512.5 637.1L515 637.9M583.3 621.4L613 619.6L650.6 625.8M517 632.9L526 635.6M591.1 619.1L622.4 616.9L654.2 621.7M521.4 628.7L536.5 633.3M598 617L628.4 614.1L657.6 617.8M525.8 624.6L546.7 630.9M604.8 614.9L636 611.4L661 614.1"/>
<path class="e" d="M437.2 703.1L592 763.8M592 763.8L659.7 662.4M659.7 662.4L629.4 653.3M550.9 629.8L524.4 621.8M524.4 621.8L505.5 639.5M443.1 697.7L437.2 703.1M429.1 648L596.1 706M596.1 706L667.7 609M667.7 609L523.1 571.5M523.1 571.5L429.1 648M437.2 703.1L429.1 648M592 763.8L596.1 706M659.7 662.4L667.7 609M524.4 621.8L523.1 571.5"/>
<path class="t" d="M441.1 704.6L444.2 701.7M594.3 760.3L589.1 758.3M447.6 707.2L449.4 705.5M598.1 754.5L595.2 753.4M454.2 709.8L455.9 708.1M601.9 748.9L599 747.8M460.9 712.4L462.6 710.7M605.6 743.4L602.7 742.3M467.6 715L469.3 713.3M609.2 738L606.3 737M474.5 717.7L477.4 714.6M612.7 732.7L607.7 730.9M481.4 720.4L483 718.6M616.1 727.5L613.3 726.5M488.3 723.2L490 721.4M619.5 722.5L616.7 721.5M495.4 725.9L497.1 724.1M622.9 717.5L620.1 716.5M502.6 728.7L504.2 726.9M626.1 712.6L623.3 711.7M509.8 731.6L512.6 728.3M629.3 707.8L624.5 706.2M517.1 734.4L518.7 732.5M632.4 703.2L629.7 702.2M524.5 737.3L526.1 735.4M635.5 698.6L632.8 697.7M532 740.3L533.6 738.3M638.5 694L635.8 693.2M539.6 743.2L541.1 741.3M641.5 689.6L638.8 688.7M547.3 746.2L550 742.8M644.4 685.3L639.7 683.8M555 749.3L556.5 747.3M647.2 681L644.6 680.2M562.9 752.4L564.4 750.3M650 676.8L647.4 676M570.9 755.5L572.3 753.4M652.8 672.7L650.2 671.9M578.9 758.6L580.4 756.6M655.5 668.7L652.9 667.9M587.1 761.8L589.6 758.1M658.1 664.7L653.6 663.3M436.9 700.9L438.7 699.2M436.5 698.1L438.3 696.4M436.1 695.3L439.2 692.4M435.6 692.4L437.5 690.8M435.2 689.6L437 688M434.8 686.7L436.6 685.1M434.4 683.8L437.6 681M433.9 680.9L435.8 679.3M433.5 678L435.4 676.3M433.1 675L434.9 673.4M432.6 672L435.9 669.2M432.2 669L434 667.4M431.7 666L433.6 664.4M431.3 662.9L433.2 661.3M430.8 659.8L434.2 657M430.3 656.7L432.3 655.1M429.9 653.6L431.8 652M429.4 650.4L431.3 648.8"/>
<g class="k">
<text x="425.9" y="722.3">0.0</text>
<text x="461.2" y="736.2">0.5</text>
<text x="498.1" y="751">1.0</text>
<text x="537.9" y="766.2">1.5</text>
<text x="580" y="782.3">2.0</text>
<text x="608.2" y="773.6">0.0</text>
<text x="627.4" y="743.2">0.5</text>
<text x="644" y="718">1.0</text>
<text x="659.3" y="695.1">1.5</text>
<text x="672.4" y="674.6">2.0</text>
<text x="432.2" y="699.4" class="r">0.0304</text>
<text x="430.4" y="688.3" class="r">0.0306</text>
<text x="428.5" y="676.9" class="r">0.0308</text>
<text x="426.5" y="665.1" class="r">0.0310</text>
<text x="424.5" y="652.9" class="r">0.0312</text>
</g>
<g class="n">
<text x="416.9" y="602.2">Fidelity</text>
<text x="469.9" y="764.8">T</text>
<text x="664.6" y="740" class="i">ω</text>
<text x="642.5" y="589.2">(f)</text>
</g>
</g>
</svg>
</body></html>
